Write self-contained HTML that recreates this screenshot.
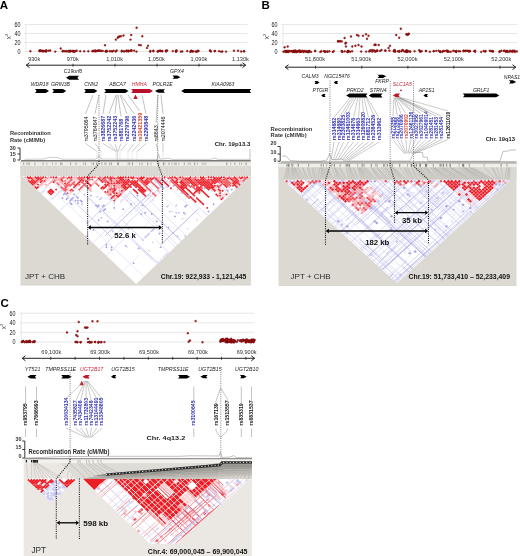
<!DOCTYPE html>
<html><head><meta charset="utf-8"><style>
html,body{margin:0;padding:0;background:#fff;width:520px;height:556px;overflow:hidden}
svg{display:block;filter:blur(0.3px)}
text{font-family:"Liberation Sans",sans-serif}
</style></head><body>
<svg width="520" height="556" viewBox="0 0 520 556">
<rect width="520" height="556" fill="#fff"/>
<text x="-0.30" y="8.60" font-size="11.5" font-weight="bold" fill="#000" text-anchor="start">A</text>
<line x1="24.30" y1="24.50" x2="247.50" y2="24.50" stroke="#d6d6d6" stroke-width="0.6"/>
<line x1="24.30" y1="33.50" x2="247.50" y2="33.50" stroke="#d6d6d6" stroke-width="0.6"/>
<line x1="24.30" y1="42.40" x2="247.50" y2="42.40" stroke="#d6d6d6" stroke-width="0.6"/>
<line x1="24.30" y1="51.50" x2="247.50" y2="51.50" stroke="#d6d6d6" stroke-width="0.6"/>
<line x1="25.80" y1="24.50" x2="25.80" y2="52.50" stroke="#d6d6d6" stroke-width="0.6"/>
<text transform="translate(20.50,26.80) scale(0.82,1)" font-size="6.6" fill="#1a1a1a" text-anchor="end">60</text>
<text transform="translate(20.50,35.80) scale(0.82,1)" font-size="6.6" fill="#1a1a1a" text-anchor="end">40</text>
<text transform="translate(20.50,44.70) scale(0.82,1)" font-size="6.6" fill="#1a1a1a" text-anchor="end">20</text>
<text transform="translate(20.50,53.80) scale(0.82,1)" font-size="6.6" fill="#1a1a1a" text-anchor="end">0</text>
<text transform="translate(10.00,36.50) rotate(-90)" font-size="6" fill="#444" text-anchor="middle">χ<tspan font-size="4" dy="-2">2</tspan></text>
<text x="34.20" y="61.00" font-size="5.6" font-weight="normal" fill="#333" text-anchor="middle">930k</text>
<text x="72.70" y="61.00" font-size="5.6" font-weight="normal" fill="#333" text-anchor="middle">970k</text>
<text x="114.60" y="61.00" font-size="5.6" font-weight="normal" fill="#333" text-anchor="middle">1,010k</text>
<text x="156.50" y="61.00" font-size="5.6" font-weight="normal" fill="#333" text-anchor="middle">1,050k</text>
<text x="199.00" y="61.00" font-size="5.6" font-weight="normal" fill="#333" text-anchor="middle">1,090k</text>
<text x="240.50" y="61.00" font-size="5.6" font-weight="normal" fill="#333" text-anchor="middle">1,130k</text>
<line x1="26.00" y1="65.20" x2="246.00" y2="65.20" stroke="#222" stroke-width="1.0"/>
<polyline points="29.50,62.70 26.30,65.20 29.50,67.70" fill="none" stroke="#222" stroke-width="1.0"/>
<polyline points="242.50,62.70 245.70,65.20 242.50,67.70" fill="none" stroke="#222" stroke-width="1.0"/>
<line x1="73.00" y1="63.70" x2="73.00" y2="66.70" stroke="#222" stroke-width="0.8"/>
<line x1="115.00" y1="63.70" x2="115.00" y2="66.70" stroke="#222" stroke-width="0.8"/>
<line x1="157.00" y1="63.70" x2="157.00" y2="66.70" stroke="#222" stroke-width="0.8"/>
<line x1="199.00" y1="63.70" x2="199.00" y2="66.70" stroke="#222" stroke-width="0.8"/>
<line x1="241.00" y1="63.70" x2="241.00" y2="66.70" stroke="#222" stroke-width="0.8"/>
<circle cx="30.40" cy="51.20" r="0.95" fill="#b01818" stroke="#5a0000" stroke-width="0.35"/>
<circle cx="42.72" cy="50.58" r="0.95" fill="#b01818" stroke="#5a0000" stroke-width="0.35"/>
<circle cx="46.49" cy="50.49" r="0.95" fill="#b01818" stroke="#5a0000" stroke-width="0.35"/>
<circle cx="45.16" cy="50.84" r="0.95" fill="#b01818" stroke="#5a0000" stroke-width="0.35"/>
<circle cx="39.67" cy="51.01" r="0.95" fill="#b01818" stroke="#5a0000" stroke-width="0.35"/>
<circle cx="39.43" cy="50.92" r="0.95" fill="#b01818" stroke="#5a0000" stroke-width="0.35"/>
<circle cx="39.80" cy="50.51" r="0.95" fill="#b01818" stroke="#5a0000" stroke-width="0.35"/>
<circle cx="43.88" cy="51.39" r="0.95" fill="#b01818" stroke="#5a0000" stroke-width="0.35"/>
<circle cx="40.42" cy="50.67" r="0.95" fill="#b01818" stroke="#5a0000" stroke-width="0.35"/>
<circle cx="46.22" cy="51.54" r="0.95" fill="#b01818" stroke="#5a0000" stroke-width="0.35"/>
<circle cx="45.64" cy="50.88" r="0.95" fill="#b01818" stroke="#5a0000" stroke-width="0.35"/>
<circle cx="50.23" cy="50.46" r="0.95" fill="#b01818" stroke="#5a0000" stroke-width="0.35"/>
<circle cx="48.87" cy="50.75" r="0.95" fill="#b01818" stroke="#5a0000" stroke-width="0.35"/>
<circle cx="40.66" cy="50.54" r="0.95" fill="#b01818" stroke="#5a0000" stroke-width="0.35"/>
<circle cx="42.55" cy="51.38" r="0.95" fill="#b01818" stroke="#5a0000" stroke-width="0.35"/>
<circle cx="41.08" cy="51.10" r="0.95" fill="#b01818" stroke="#5a0000" stroke-width="0.35"/>
<circle cx="46.35" cy="50.85" r="0.95" fill="#b01818" stroke="#5a0000" stroke-width="0.35"/>
<circle cx="55.30" cy="51.60" r="0.95" fill="#b01818" stroke="#5a0000" stroke-width="0.35"/>
<circle cx="60.70" cy="48.50" r="0.95" fill="#b01818" stroke="#5a0000" stroke-width="0.35"/>
<circle cx="70.22" cy="50.68" r="0.95" fill="#b01818" stroke="#5a0000" stroke-width="0.35"/>
<circle cx="62.89" cy="50.85" r="0.95" fill="#b01818" stroke="#5a0000" stroke-width="0.35"/>
<circle cx="72.21" cy="51.11" r="0.95" fill="#b01818" stroke="#5a0000" stroke-width="0.35"/>
<circle cx="66.71" cy="51.30" r="0.95" fill="#b01818" stroke="#5a0000" stroke-width="0.35"/>
<circle cx="68.80" cy="50.96" r="0.95" fill="#b01818" stroke="#5a0000" stroke-width="0.35"/>
<circle cx="73.92" cy="51.44" r="0.95" fill="#b01818" stroke="#5a0000" stroke-width="0.35"/>
<circle cx="65.66" cy="51.29" r="0.95" fill="#b01818" stroke="#5a0000" stroke-width="0.35"/>
<circle cx="69.88" cy="51.65" r="0.95" fill="#b01818" stroke="#5a0000" stroke-width="0.35"/>
<circle cx="72.94" cy="50.95" r="0.95" fill="#b01818" stroke="#5a0000" stroke-width="0.35"/>
<circle cx="76.70" cy="50.74" r="0.95" fill="#b01818" stroke="#5a0000" stroke-width="0.35"/>
<circle cx="68.27" cy="51.51" r="0.95" fill="#b01818" stroke="#5a0000" stroke-width="0.35"/>
<circle cx="64.28" cy="51.19" r="0.95" fill="#b01818" stroke="#5a0000" stroke-width="0.35"/>
<circle cx="62.59" cy="51.40" r="0.95" fill="#b01818" stroke="#5a0000" stroke-width="0.35"/>
<circle cx="73.47" cy="51.29" r="0.95" fill="#b01818" stroke="#5a0000" stroke-width="0.35"/>
<circle cx="75.13" cy="50.98" r="0.95" fill="#b01818" stroke="#5a0000" stroke-width="0.35"/>
<circle cx="72.43" cy="51.31" r="0.95" fill="#b01818" stroke="#5a0000" stroke-width="0.35"/>
<circle cx="70.70" cy="51.15" r="0.95" fill="#b01818" stroke="#5a0000" stroke-width="0.35"/>
<circle cx="74.60" cy="51.73" r="0.95" fill="#b01818" stroke="#5a0000" stroke-width="0.35"/>
<circle cx="80.20" cy="51.30" r="0.95" fill="#b01818" stroke="#5a0000" stroke-width="0.35"/>
<circle cx="84.20" cy="51.30" r="0.95" fill="#b01818" stroke="#5a0000" stroke-width="0.35"/>
<circle cx="88.30" cy="51.30" r="0.95" fill="#b01818" stroke="#5a0000" stroke-width="0.35"/>
<circle cx="92.30" cy="51.30" r="0.95" fill="#b01818" stroke="#5a0000" stroke-width="0.35"/>
<circle cx="109.59" cy="51.20" r="0.95" fill="#b01818" stroke="#5a0000" stroke-width="0.35"/>
<circle cx="95.12" cy="51.24" r="0.95" fill="#b01818" stroke="#5a0000" stroke-width="0.35"/>
<circle cx="115.65" cy="51.59" r="0.95" fill="#b01818" stroke="#5a0000" stroke-width="0.35"/>
<circle cx="121.77" cy="50.74" r="0.95" fill="#b01818" stroke="#5a0000" stroke-width="0.35"/>
<circle cx="106.50" cy="51.20" r="0.95" fill="#b01818" stroke="#5a0000" stroke-width="0.35"/>
<circle cx="93.79" cy="50.95" r="0.95" fill="#b01818" stroke="#5a0000" stroke-width="0.35"/>
<circle cx="98.88" cy="50.54" r="0.95" fill="#b01818" stroke="#5a0000" stroke-width="0.35"/>
<circle cx="95.06" cy="51.32" r="0.95" fill="#b01818" stroke="#5a0000" stroke-width="0.35"/>
<circle cx="97.53" cy="50.70" r="0.95" fill="#b01818" stroke="#5a0000" stroke-width="0.35"/>
<circle cx="106.68" cy="51.45" r="0.95" fill="#b01818" stroke="#5a0000" stroke-width="0.35"/>
<circle cx="95.82" cy="50.94" r="0.95" fill="#b01818" stroke="#5a0000" stroke-width="0.35"/>
<circle cx="112.23" cy="51.46" r="0.95" fill="#b01818" stroke="#5a0000" stroke-width="0.35"/>
<circle cx="121.67" cy="51.44" r="0.95" fill="#b01818" stroke="#5a0000" stroke-width="0.35"/>
<circle cx="102.74" cy="50.90" r="0.95" fill="#b01818" stroke="#5a0000" stroke-width="0.35"/>
<circle cx="105.56" cy="51.46" r="0.95" fill="#b01818" stroke="#5a0000" stroke-width="0.35"/>
<circle cx="126.52" cy="50.58" r="0.95" fill="#b01818" stroke="#5a0000" stroke-width="0.35"/>
<circle cx="99.17" cy="50.68" r="0.95" fill="#b01818" stroke="#5a0000" stroke-width="0.35"/>
<circle cx="101.17" cy="50.98" r="0.95" fill="#b01818" stroke="#5a0000" stroke-width="0.35"/>
<circle cx="113.62" cy="50.72" r="0.95" fill="#b01818" stroke="#5a0000" stroke-width="0.35"/>
<circle cx="93.14" cy="50.90" r="0.95" fill="#b01818" stroke="#5a0000" stroke-width="0.35"/>
<circle cx="105.92" cy="51.08" r="0.95" fill="#b01818" stroke="#5a0000" stroke-width="0.35"/>
<circle cx="126.36" cy="51.23" r="0.95" fill="#b01818" stroke="#5a0000" stroke-width="0.35"/>
<circle cx="111.04" cy="51.14" r="0.95" fill="#b01818" stroke="#5a0000" stroke-width="0.35"/>
<circle cx="116.67" cy="50.46" r="0.95" fill="#b01818" stroke="#5a0000" stroke-width="0.35"/>
<circle cx="124.48" cy="51.34" r="0.95" fill="#b01818" stroke="#5a0000" stroke-width="0.35"/>
<circle cx="123.61" cy="51.36" r="0.95" fill="#b01818" stroke="#5a0000" stroke-width="0.35"/>
<circle cx="106.73" cy="50.88" r="0.95" fill="#b01818" stroke="#5a0000" stroke-width="0.35"/>
<circle cx="96.62" cy="51.16" r="0.95" fill="#b01818" stroke="#5a0000" stroke-width="0.35"/>
<circle cx="95.18" cy="50.48" r="0.95" fill="#b01818" stroke="#5a0000" stroke-width="0.35"/>
<circle cx="100.31" cy="50.59" r="0.95" fill="#b01818" stroke="#5a0000" stroke-width="0.35"/>
<circle cx="136.60" cy="27.80" r="0.95" fill="#b01818" stroke="#5a0000" stroke-width="0.35"/>
<circle cx="142.30" cy="36.20" r="0.95" fill="#b01818" stroke="#5a0000" stroke-width="0.35"/>
<circle cx="131.20" cy="35.00" r="0.95" fill="#b01818" stroke="#5a0000" stroke-width="0.35"/>
<circle cx="130.50" cy="39.60" r="0.95" fill="#b01818" stroke="#5a0000" stroke-width="0.35"/>
<circle cx="123.50" cy="35.50" r="0.95" fill="#b01818" stroke="#5a0000" stroke-width="0.35"/>
<circle cx="119.70" cy="36.50" r="0.95" fill="#b01818" stroke="#5a0000" stroke-width="0.35"/>
<circle cx="117.70" cy="37.80" r="0.95" fill="#b01818" stroke="#5a0000" stroke-width="0.35"/>
<circle cx="115.80" cy="39.60" r="0.95" fill="#b01818" stroke="#5a0000" stroke-width="0.35"/>
<circle cx="105.00" cy="45.30" r="0.95" fill="#b01818" stroke="#5a0000" stroke-width="0.35"/>
<circle cx="139.00" cy="45.00" r="0.95" fill="#b01818" stroke="#5a0000" stroke-width="0.35"/>
<circle cx="140.80" cy="45.30" r="0.95" fill="#b01818" stroke="#5a0000" stroke-width="0.35"/>
<circle cx="148.00" cy="45.80" r="0.95" fill="#b01818" stroke="#5a0000" stroke-width="0.35"/>
<circle cx="147.00" cy="48.00" r="0.95" fill="#b01818" stroke="#5a0000" stroke-width="0.35"/>
<circle cx="118.50" cy="36.80" r="0.95" fill="#b01818" stroke="#5a0000" stroke-width="0.35"/>
<circle cx="121.00" cy="36.20" r="0.95" fill="#b01818" stroke="#5a0000" stroke-width="0.35"/>
<circle cx="131.40" cy="50.46" r="0.95" fill="#b01818" stroke="#5a0000" stroke-width="0.35"/>
<circle cx="128.00" cy="50.58" r="0.95" fill="#b01818" stroke="#5a0000" stroke-width="0.35"/>
<circle cx="129.01" cy="50.84" r="0.95" fill="#b01818" stroke="#5a0000" stroke-width="0.35"/>
<circle cx="128.26" cy="51.45" r="0.95" fill="#b01818" stroke="#5a0000" stroke-width="0.35"/>
<circle cx="134.14" cy="50.58" r="0.95" fill="#b01818" stroke="#5a0000" stroke-width="0.35"/>
<circle cx="130.52" cy="50.82" r="0.95" fill="#b01818" stroke="#5a0000" stroke-width="0.35"/>
<circle cx="131.64" cy="50.55" r="0.95" fill="#b01818" stroke="#5a0000" stroke-width="0.35"/>
<circle cx="136.49" cy="51.59" r="0.95" fill="#b01818" stroke="#5a0000" stroke-width="0.35"/>
<circle cx="172.77" cy="51.08" r="0.95" fill="#b01818" stroke="#5a0000" stroke-width="0.35"/>
<circle cx="153.38" cy="50.62" r="0.95" fill="#b01818" stroke="#5a0000" stroke-width="0.35"/>
<circle cx="166.47" cy="50.82" r="0.95" fill="#b01818" stroke="#5a0000" stroke-width="0.35"/>
<circle cx="191.27" cy="50.69" r="0.95" fill="#b01818" stroke="#5a0000" stroke-width="0.35"/>
<circle cx="150.18" cy="51.64" r="0.95" fill="#b01818" stroke="#5a0000" stroke-width="0.35"/>
<circle cx="175.94" cy="50.68" r="0.95" fill="#b01818" stroke="#5a0000" stroke-width="0.35"/>
<circle cx="176.70" cy="50.53" r="0.95" fill="#b01818" stroke="#5a0000" stroke-width="0.35"/>
<circle cx="175.93" cy="51.67" r="0.95" fill="#b01818" stroke="#5a0000" stroke-width="0.35"/>
<circle cx="193.03" cy="51.34" r="0.95" fill="#b01818" stroke="#5a0000" stroke-width="0.35"/>
<circle cx="162.32" cy="50.94" r="0.95" fill="#b01818" stroke="#5a0000" stroke-width="0.35"/>
<circle cx="157.52" cy="51.43" r="0.95" fill="#b01818" stroke="#5a0000" stroke-width="0.35"/>
<circle cx="176.16" cy="51.43" r="0.95" fill="#b01818" stroke="#5a0000" stroke-width="0.35"/>
<circle cx="165.81" cy="50.77" r="0.95" fill="#b01818" stroke="#5a0000" stroke-width="0.35"/>
<circle cx="190.39" cy="51.68" r="0.95" fill="#b01818" stroke="#5a0000" stroke-width="0.35"/>
<circle cx="192.48" cy="51.47" r="0.95" fill="#b01818" stroke="#5a0000" stroke-width="0.35"/>
<circle cx="190.73" cy="51.39" r="0.95" fill="#b01818" stroke="#5a0000" stroke-width="0.35"/>
<circle cx="160.56" cy="51.12" r="0.95" fill="#b01818" stroke="#5a0000" stroke-width="0.35"/>
<circle cx="167.13" cy="50.53" r="0.95" fill="#b01818" stroke="#5a0000" stroke-width="0.35"/>
<circle cx="150.42" cy="50.84" r="0.95" fill="#b01818" stroke="#5a0000" stroke-width="0.35"/>
<circle cx="162.22" cy="51.33" r="0.95" fill="#b01818" stroke="#5a0000" stroke-width="0.35"/>
<circle cx="197.78" cy="51.04" r="0.95" fill="#b01818" stroke="#5a0000" stroke-width="0.35"/>
<circle cx="196.79" cy="51.69" r="0.95" fill="#b01818" stroke="#5a0000" stroke-width="0.35"/>
<circle cx="197.71" cy="50.94" r="0.95" fill="#b01818" stroke="#5a0000" stroke-width="0.35"/>
<circle cx="160.24" cy="50.77" r="0.95" fill="#b01818" stroke="#5a0000" stroke-width="0.35"/>
<circle cx="159.03" cy="50.75" r="0.95" fill="#b01818" stroke="#5a0000" stroke-width="0.35"/>
<circle cx="180.83" cy="51.58" r="0.95" fill="#b01818" stroke="#5a0000" stroke-width="0.35"/>
<circle cx="191.86" cy="51.08" r="0.95" fill="#b01818" stroke="#5a0000" stroke-width="0.35"/>
<circle cx="182.30" cy="51.46" r="0.95" fill="#b01818" stroke="#5a0000" stroke-width="0.35"/>
<circle cx="153.32" cy="51.29" r="0.95" fill="#b01818" stroke="#5a0000" stroke-width="0.35"/>
<circle cx="195.40" cy="51.44" r="0.95" fill="#b01818" stroke="#5a0000" stroke-width="0.35"/>
<circle cx="187.26" cy="51.07" r="0.95" fill="#b01818" stroke="#5a0000" stroke-width="0.35"/>
<circle cx="158.10" cy="51.45" r="0.95" fill="#b01818" stroke="#5a0000" stroke-width="0.35"/>
<circle cx="165.96" cy="51.46" r="0.95" fill="#b01818" stroke="#5a0000" stroke-width="0.35"/>
<circle cx="198.55" cy="50.98" r="0.95" fill="#b01818" stroke="#5a0000" stroke-width="0.35"/>
<circle cx="221.06" cy="51.64" r="0.95" fill="#b01818" stroke="#5a0000" stroke-width="0.35"/>
<circle cx="233.99" cy="50.70" r="0.95" fill="#b01818" stroke="#5a0000" stroke-width="0.35"/>
<circle cx="210.08" cy="50.68" r="0.95" fill="#b01818" stroke="#5a0000" stroke-width="0.35"/>
<circle cx="241.19" cy="51.47" r="0.95" fill="#b01818" stroke="#5a0000" stroke-width="0.35"/>
<circle cx="210.85" cy="51.49" r="0.95" fill="#b01818" stroke="#5a0000" stroke-width="0.35"/>
<circle cx="244.21" cy="51.29" r="0.95" fill="#b01818" stroke="#5a0000" stroke-width="0.35"/>
<circle cx="219.02" cy="51.16" r="0.95" fill="#b01818" stroke="#5a0000" stroke-width="0.35"/>
<circle cx="210.24" cy="50.52" r="0.95" fill="#b01818" stroke="#5a0000" stroke-width="0.35"/>
<circle cx="243.84" cy="51.28" r="0.95" fill="#b01818" stroke="#5a0000" stroke-width="0.35"/>
<circle cx="226.06" cy="51.62" r="0.95" fill="#b01818" stroke="#5a0000" stroke-width="0.35"/>
<circle cx="222.35" cy="51.55" r="0.95" fill="#b01818" stroke="#5a0000" stroke-width="0.35"/>
<circle cx="238.05" cy="50.75" r="0.95" fill="#b01818" stroke="#5a0000" stroke-width="0.35"/>
<circle cx="215.07" cy="50.85" r="0.95" fill="#b01818" stroke="#5a0000" stroke-width="0.35"/>
<circle cx="214.62" cy="51.20" r="0.95" fill="#b01818" stroke="#5a0000" stroke-width="0.35"/>
<text x="73.00" y="73.00" font-size="5.2" font-weight="normal" fill="#222" text-anchor="middle" font-style="italic">C19orf6</text>
<polygon points="79.00,75.70 69.20,75.70 66.00,77.70 69.20,79.70 79.00,79.70 77.40,77.70" fill="#000"/>
<text x="177.00" y="72.50" font-size="5.2" font-weight="normal" fill="#222" text-anchor="middle" font-style="italic">GPX4</text>
<polygon points="172.50,75.60 177.30,75.60 180.50,77.20 177.30,78.80 172.50,78.80 174.10,77.20" fill="#000"/>
<text x="39.60" y="86.40" font-size="5.1" font-weight="normal" fill="#222" text-anchor="middle" font-style="italic">WDR18</text>
<text x="60.50" y="86.40" font-size="5.1" font-weight="normal" fill="#222" text-anchor="middle" font-style="italic">GRIN3B</text>
<text x="91.20" y="86.40" font-size="5.1" font-weight="normal" fill="#222" text-anchor="middle" font-style="italic">CNN2</text>
<text x="117.50" y="86.40" font-size="5.1" font-weight="normal" fill="#222" text-anchor="middle" font-style="italic">ABCA7</text>
<text x="139.30" y="86.40" font-size="5.1" font-weight="normal" fill="#c8283a" text-anchor="middle" font-style="italic">HMHA</text>
<text x="162.60" y="86.40" font-size="5.1" font-weight="normal" fill="#222" text-anchor="middle" font-style="italic">POLR2E</text>
<text x="223.00" y="86.40" font-size="5.1" font-weight="normal" fill="#222" text-anchor="middle" font-style="italic">KIAA0963</text>
<polygon points="35.00,89.00 45.80,89.00 49.00,91.00 45.80,93.00 35.00,93.00 36.60,91.00" fill="#000"/>
<polygon points="52.30,89.00 63.00,89.00 66.20,91.00 63.00,93.00 52.30,93.00 53.90,91.00" fill="#000"/>
<polygon points="84.20,89.00 94.20,89.00 97.40,91.00 94.20,93.00 84.20,93.00 85.80,91.00" fill="#000"/>
<polygon points="104.30,89.00 125.30,89.00 128.50,91.00 125.30,93.00 104.30,93.00 105.90,91.00" fill="#000"/>
<polygon points="131.20,89.00 149.70,89.00 152.90,91.00 149.70,93.00 131.20,93.00 132.80,91.00" fill="#b8102c"/>
<polygon points="165.00,89.20 158.20,89.20 155.00,91.00 158.20,92.80 165.00,92.80 163.40,91.00" fill="#000"/>
<polygon points="251.20,89.00 184.40,89.00 181.20,91.00 184.40,93.00 251.20,93.00 249.60,91.00" fill="#000"/>
<polygon points="135.50,94.50 133.30,99.00 137.70,99.00" fill="#c01a2a"/>
<text transform="translate(87.65,141.60) rotate(-90) scale(0.89,1.0)" font-size="6.0" font-weight="normal" fill="#111">rs3795064</text>
<line x1="85.50" y1="113.75" x2="93.00" y2="95.00" stroke="#777" stroke-width="0.45"/>
<line x1="85.50" y1="143.50" x2="97.00" y2="151.50" stroke="#888" stroke-width="0.45"/>
<line x1="97.00" y1="151.50" x2="97.00" y2="159.50" stroke="#ccc" stroke-width="0.4"/>
<text transform="translate(97.15,141.60) rotate(-90) scale(0.89,1.0)" font-size="6.0" font-weight="normal" fill="#111">rs3764647</text>
<line x1="95.00" y1="113.75" x2="99.00" y2="95.00" stroke="#777" stroke-width="0.45"/>
<line x1="95.00" y1="143.50" x2="101.00" y2="151.50" stroke="#888" stroke-width="0.45"/>
<line x1="101.00" y1="151.50" x2="101.00" y2="159.50" stroke="#ccc" stroke-width="0.4"/>
<text transform="translate(105.15,141.60) rotate(-90) scale(0.89,1.0)" font-size="6.0" font-weight="bold" fill="#2e2eb4">rs3826687</text>
<line x1="103.00" y1="113.75" x2="106.00" y2="95.00" stroke="#777" stroke-width="0.45"/>
<line x1="103.00" y1="143.50" x2="116.00" y2="151.50" stroke="#888" stroke-width="0.45"/>
<line x1="116.00" y1="151.50" x2="116.00" y2="159.50" stroke="#ccc" stroke-width="0.4"/>
<text transform="translate(111.15,141.60) rotate(-90) scale(0.89,1.0)" font-size="6.0" font-weight="bold" fill="#2e2eb4">rs3752242</text>
<line x1="109.00" y1="113.75" x2="116.00" y2="95.00" stroke="#777" stroke-width="0.45"/>
<line x1="109.00" y1="143.50" x2="117.00" y2="151.50" stroke="#888" stroke-width="0.45"/>
<line x1="117.00" y1="151.50" x2="117.00" y2="159.50" stroke="#ccc" stroke-width="0.4"/>
<text transform="translate(117.15,141.60) rotate(-90) scale(0.89,1.0)" font-size="6.0" font-weight="bold" fill="#2e2eb4">rs3752243</text>
<line x1="115.00" y1="113.75" x2="117.00" y2="95.00" stroke="#777" stroke-width="0.45"/>
<line x1="115.00" y1="143.50" x2="117.50" y2="151.50" stroke="#888" stroke-width="0.45"/>
<line x1="117.50" y1="151.50" x2="117.50" y2="159.50" stroke="#ccc" stroke-width="0.4"/>
<text transform="translate(123.15,141.60) rotate(-90) scale(0.89,1.0)" font-size="6.0" font-weight="bold" fill="#2e2eb4">rs881768</text>
<line x1="121.00" y1="116.70" x2="118.00" y2="95.00" stroke="#777" stroke-width="0.45"/>
<line x1="121.00" y1="143.50" x2="118.00" y2="151.50" stroke="#888" stroke-width="0.45"/>
<line x1="118.00" y1="151.50" x2="118.00" y2="159.50" stroke="#ccc" stroke-width="0.4"/>
<text transform="translate(129.15,141.60) rotate(-90) scale(0.89,1.0)" font-size="6.0" font-weight="bold" fill="#2e2eb4">rs2279796</text>
<line x1="127.00" y1="113.75" x2="120.00" y2="95.00" stroke="#777" stroke-width="0.45"/>
<line x1="127.00" y1="143.50" x2="120.00" y2="151.50" stroke="#888" stroke-width="0.45"/>
<line x1="120.00" y1="151.50" x2="120.00" y2="159.50" stroke="#ccc" stroke-width="0.4"/>
<text transform="translate(136.15,141.60) rotate(-90) scale(0.89,1.0)" font-size="6.0" font-weight="bold" fill="#2e2eb4">rs2242436</text>
<line x1="134.00" y1="113.75" x2="121.00" y2="95.00" stroke="#777" stroke-width="0.45"/>
<line x1="134.00" y1="143.50" x2="128.00" y2="151.50" stroke="#888" stroke-width="0.45"/>
<line x1="128.00" y1="151.50" x2="128.00" y2="159.50" stroke="#ccc" stroke-width="0.4"/>
<text transform="translate(141.65,141.60) rotate(-90) scale(0.89,1.0)" font-size="6.0" font-weight="bold" fill="#d8402e">rs10421359</text>
<line x1="139.50" y1="110.80" x2="128.00" y2="95.00" stroke="#777" stroke-width="0.45"/>
<line x1="139.50" y1="143.50" x2="132.00" y2="151.50" stroke="#888" stroke-width="0.45"/>
<line x1="132.00" y1="151.50" x2="132.00" y2="159.50" stroke="#ccc" stroke-width="0.4"/>
<text transform="translate(148.15,141.60) rotate(-90) scale(0.89,1.0)" font-size="6.0" font-weight="bold" fill="#2e2eb4">rs2290848</text>
<line x1="146.00" y1="113.75" x2="142.00" y2="95.00" stroke="#777" stroke-width="0.45"/>
<line x1="146.00" y1="143.50" x2="137.00" y2="151.50" stroke="#888" stroke-width="0.45"/>
<line x1="137.00" y1="151.50" x2="137.00" y2="159.50" stroke="#ccc" stroke-width="0.4"/>
<text transform="translate(158.15,141.60) rotate(-90) scale(0.89,1.0)" font-size="6.0" font-weight="normal" fill="#111">rs8643</text>
<line x1="156.00" y1="122.60" x2="158.00" y2="95.00" stroke="#777" stroke-width="0.45"/>
<line x1="156.00" y1="143.50" x2="158.00" y2="151.50" stroke="#888" stroke-width="0.45"/>
<line x1="158.00" y1="151.50" x2="158.00" y2="159.50" stroke="#ccc" stroke-width="0.4"/>
<text transform="translate(165.15,141.60) rotate(-90) scale(0.89,1.0)" font-size="6.0" font-weight="normal" fill="#111">rs2074446</text>
<line x1="163.00" y1="113.75" x2="161.00" y2="95.00" stroke="#777" stroke-width="0.45"/>
<line x1="163.00" y1="143.50" x2="163.00" y2="151.50" stroke="#888" stroke-width="0.45"/>
<line x1="163.00" y1="151.50" x2="163.00" y2="159.50" stroke="#ccc" stroke-width="0.4"/>
<text x="10.00" y="135.00" font-size="5.65" font-weight="bold" fill="#333" text-anchor="start">Recombination</text>
<text x="10.00" y="142.40" font-size="5.65" font-weight="bold" fill="#333" text-anchor="start">Rate (cM/Mb)</text>
<text x="15.80" y="150.00" font-size="5.4" font-weight="bold" fill="#333" text-anchor="end">30</text>
<text x="15.80" y="156.00" font-size="5.4" font-weight="bold" fill="#333" text-anchor="end">15</text>
<text x="15.80" y="162.00" font-size="5.4" font-weight="bold" fill="#333" text-anchor="end">0</text>
<polyline points="17.50,148.00 20.00,148.00 20.00,160.00 17.50,160.00" fill="none" stroke="#222" stroke-width="0.9"/>
<line x1="17.50" y1="154.00" x2="20.00" y2="154.00" stroke="#222" stroke-width="0.9"/>
<text x="250.40" y="146.00" font-size="6.05" font-weight="bold" fill="#222" text-anchor="end">Chr. 19p13.3</text>
<line x1="250.00" y1="149.00" x2="250.00" y2="160.50" stroke="#999" stroke-width="0.6"/>
<polyline points="24.50,159.30 44.00,159.00 48.00,157.60 52.00,157.30 58.00,157.60 62.00,159.20 96.00,159.20 99.00,155.50 101.00,159.00 140.00,159.40 157.00,159.40 158.50,154.00 160.00,159.30 168.00,158.20 172.00,159.30 210.00,159.40 215.00,158.00 218.00,159.40 250.00,159.40" fill="none" stroke="#aaa" stroke-width="0.6"/>
<line x1="21.00" y1="160.50" x2="250.50" y2="160.50" stroke="#555" stroke-width="0.8"/>
<rect x="20.5" y="161.3" width="230.4" height="124.30000000000001" fill="#dcd9d2"/>
<rect x="20.5" y="161.8" width="230.4" height="4.0" fill="#ecebe7"/>
<polygon points="22.50,176.00 249.80,176.00 136.15,283.97" fill="#ffffff"/>
<text x="261.50" y="8.60" font-size="11.5" font-weight="bold" fill="#000" text-anchor="start">B</text>
<line x1="281.50" y1="24.40" x2="517.50" y2="24.40" stroke="#d6d6d6" stroke-width="0.6"/>
<line x1="281.50" y1="33.50" x2="517.50" y2="33.50" stroke="#d6d6d6" stroke-width="0.6"/>
<line x1="281.50" y1="42.60" x2="517.50" y2="42.60" stroke="#d6d6d6" stroke-width="0.6"/>
<line x1="281.50" y1="51.60" x2="517.50" y2="51.60" stroke="#d6d6d6" stroke-width="0.6"/>
<line x1="283.00" y1="24.40" x2="283.00" y2="52.60" stroke="#d6d6d6" stroke-width="0.6"/>
<text transform="translate(277.50,26.70) scale(0.82,1)" font-size="6.6" fill="#1a1a1a" text-anchor="end">60</text>
<text transform="translate(277.50,35.80) scale(0.82,1)" font-size="6.6" fill="#1a1a1a" text-anchor="end">40</text>
<text transform="translate(277.50,44.90) scale(0.82,1)" font-size="6.6" fill="#1a1a1a" text-anchor="end">20</text>
<text transform="translate(277.50,53.90) scale(0.82,1)" font-size="6.6" fill="#1a1a1a" text-anchor="end">0</text>
<text transform="translate(268.00,36.50) rotate(-90)" font-size="6" fill="#444" text-anchor="middle">χ<tspan font-size="4" dy="-2">2</tspan></text>
<text x="315.00" y="61.20" font-size="5.6" font-weight="normal" fill="#333" text-anchor="middle">51,800k</text>
<text x="361.25" y="61.20" font-size="5.6" font-weight="normal" fill="#333" text-anchor="middle">51,900k</text>
<text x="407.50" y="61.20" font-size="5.6" font-weight="normal" fill="#333" text-anchor="middle">52,000k</text>
<text x="453.75" y="61.20" font-size="5.6" font-weight="normal" fill="#333" text-anchor="middle">52,100k</text>
<text x="501.25" y="61.20" font-size="5.6" font-weight="normal" fill="#333" text-anchor="middle">52,200k</text>
<line x1="285.00" y1="67.20" x2="516.00" y2="67.20" stroke="#222" stroke-width="1.0"/>
<polyline points="288.50,64.70 285.30,67.20 288.50,69.70" fill="none" stroke="#222" stroke-width="1.0"/>
<polyline points="512.50,64.70 515.70,67.20 512.50,69.70" fill="none" stroke="#222" stroke-width="1.0"/>
<line x1="315.50" y1="65.70" x2="315.50" y2="68.70" stroke="#222" stroke-width="0.8"/>
<line x1="361.75" y1="65.70" x2="361.75" y2="68.70" stroke="#222" stroke-width="0.8"/>
<line x1="407.90" y1="65.70" x2="407.90" y2="68.70" stroke="#222" stroke-width="0.8"/>
<line x1="453.80" y1="65.70" x2="453.80" y2="68.70" stroke="#222" stroke-width="0.8"/>
<line x1="500.00" y1="65.70" x2="500.00" y2="68.70" stroke="#222" stroke-width="0.8"/>
<circle cx="284.60" cy="47.30" r="0.95" fill="#b01818" stroke="#5a0000" stroke-width="0.35"/>
<circle cx="287.70" cy="46.50" r="0.95" fill="#b01818" stroke="#5a0000" stroke-width="0.35"/>
<circle cx="289.34" cy="51.17" r="0.95" fill="#b01818" stroke="#5a0000" stroke-width="0.35"/>
<circle cx="286.45" cy="51.96" r="0.95" fill="#b01818" stroke="#5a0000" stroke-width="0.35"/>
<circle cx="291.46" cy="51.23" r="0.95" fill="#b01818" stroke="#5a0000" stroke-width="0.35"/>
<circle cx="296.63" cy="51.95" r="0.95" fill="#b01818" stroke="#5a0000" stroke-width="0.35"/>
<circle cx="292.96" cy="51.97" r="0.95" fill="#b01818" stroke="#5a0000" stroke-width="0.35"/>
<circle cx="294.79" cy="51.35" r="0.95" fill="#b01818" stroke="#5a0000" stroke-width="0.35"/>
<circle cx="295.28" cy="50.53" r="0.95" fill="#b01818" stroke="#5a0000" stroke-width="0.35"/>
<circle cx="293.40" cy="50.79" r="0.95" fill="#b01818" stroke="#5a0000" stroke-width="0.35"/>
<circle cx="283.59" cy="51.78" r="0.95" fill="#b01818" stroke="#5a0000" stroke-width="0.35"/>
<circle cx="287.38" cy="51.26" r="0.95" fill="#b01818" stroke="#5a0000" stroke-width="0.35"/>
<circle cx="299.82" cy="51.39" r="0.95" fill="#b01818" stroke="#5a0000" stroke-width="0.35"/>
<circle cx="290.83" cy="51.33" r="0.95" fill="#b01818" stroke="#5a0000" stroke-width="0.35"/>
<circle cx="296.00" cy="51.75" r="0.95" fill="#b01818" stroke="#5a0000" stroke-width="0.35"/>
<circle cx="285.89" cy="51.40" r="0.95" fill="#b01818" stroke="#5a0000" stroke-width="0.35"/>
<circle cx="289.09" cy="50.94" r="0.95" fill="#b01818" stroke="#5a0000" stroke-width="0.35"/>
<circle cx="300.88" cy="51.31" r="0.95" fill="#b01818" stroke="#5a0000" stroke-width="0.35"/>
<circle cx="296.14" cy="51.72" r="0.95" fill="#b01818" stroke="#5a0000" stroke-width="0.35"/>
<circle cx="304.03" cy="51.21" r="0.95" fill="#b01818" stroke="#5a0000" stroke-width="0.35"/>
<circle cx="297.28" cy="51.31" r="0.95" fill="#b01818" stroke="#5a0000" stroke-width="0.35"/>
<circle cx="295.02" cy="51.61" r="0.95" fill="#b01818" stroke="#5a0000" stroke-width="0.35"/>
<circle cx="293.68" cy="51.35" r="0.95" fill="#b01818" stroke="#5a0000" stroke-width="0.35"/>
<circle cx="294.26" cy="52.01" r="0.95" fill="#b01818" stroke="#5a0000" stroke-width="0.35"/>
<circle cx="299.23" cy="51.90" r="0.95" fill="#b01818" stroke="#5a0000" stroke-width="0.35"/>
<circle cx="304.70" cy="50.92" r="0.95" fill="#b01818" stroke="#5a0000" stroke-width="0.35"/>
<circle cx="296.09" cy="52.01" r="0.95" fill="#b01818" stroke="#5a0000" stroke-width="0.35"/>
<circle cx="302.40" cy="50.72" r="0.95" fill="#b01818" stroke="#5a0000" stroke-width="0.35"/>
<circle cx="286.24" cy="51.21" r="0.95" fill="#b01818" stroke="#5a0000" stroke-width="0.35"/>
<circle cx="285.13" cy="50.89" r="0.95" fill="#b01818" stroke="#5a0000" stroke-width="0.35"/>
<circle cx="285.15" cy="51.57" r="0.95" fill="#b01818" stroke="#5a0000" stroke-width="0.35"/>
<circle cx="301.14" cy="51.94" r="0.95" fill="#b01818" stroke="#5a0000" stroke-width="0.35"/>
<circle cx="286.98" cy="51.65" r="0.95" fill="#b01818" stroke="#5a0000" stroke-width="0.35"/>
<circle cx="298.36" cy="50.73" r="0.95" fill="#b01818" stroke="#5a0000" stroke-width="0.35"/>
<circle cx="303.36" cy="52.05" r="0.95" fill="#b01818" stroke="#5a0000" stroke-width="0.35"/>
<circle cx="288.44" cy="52.02" r="0.95" fill="#b01818" stroke="#5a0000" stroke-width="0.35"/>
<circle cx="292.46" cy="51.28" r="0.95" fill="#b01818" stroke="#5a0000" stroke-width="0.35"/>
<circle cx="305.77" cy="51.83" r="0.95" fill="#b01818" stroke="#5a0000" stroke-width="0.35"/>
<circle cx="287.13" cy="51.19" r="0.95" fill="#b01818" stroke="#5a0000" stroke-width="0.35"/>
<circle cx="295.10" cy="51.04" r="0.95" fill="#b01818" stroke="#5a0000" stroke-width="0.35"/>
<circle cx="287.90" cy="51.01" r="0.95" fill="#b01818" stroke="#5a0000" stroke-width="0.35"/>
<circle cx="299.75" cy="50.53" r="0.95" fill="#b01818" stroke="#5a0000" stroke-width="0.35"/>
<circle cx="324.84" cy="51.33" r="0.95" fill="#b01818" stroke="#5a0000" stroke-width="0.35"/>
<circle cx="306.61" cy="51.20" r="0.95" fill="#b01818" stroke="#5a0000" stroke-width="0.35"/>
<circle cx="327.21" cy="51.41" r="0.95" fill="#b01818" stroke="#5a0000" stroke-width="0.35"/>
<circle cx="308.19" cy="51.98" r="0.95" fill="#b01818" stroke="#5a0000" stroke-width="0.35"/>
<circle cx="332.80" cy="51.97" r="0.95" fill="#b01818" stroke="#5a0000" stroke-width="0.35"/>
<circle cx="309.56" cy="51.12" r="0.95" fill="#b01818" stroke="#5a0000" stroke-width="0.35"/>
<circle cx="307.35" cy="51.73" r="0.95" fill="#b01818" stroke="#5a0000" stroke-width="0.35"/>
<circle cx="315.20" cy="50.96" r="0.95" fill="#b01818" stroke="#5a0000" stroke-width="0.35"/>
<circle cx="320.36" cy="51.89" r="0.95" fill="#b01818" stroke="#5a0000" stroke-width="0.35"/>
<circle cx="333.85" cy="51.11" r="0.95" fill="#b01818" stroke="#5a0000" stroke-width="0.35"/>
<circle cx="311.08" cy="51.90" r="0.95" fill="#b01818" stroke="#5a0000" stroke-width="0.35"/>
<circle cx="325.40" cy="51.64" r="0.95" fill="#b01818" stroke="#5a0000" stroke-width="0.35"/>
<circle cx="309.04" cy="50.87" r="0.95" fill="#b01818" stroke="#5a0000" stroke-width="0.35"/>
<circle cx="329.40" cy="51.31" r="0.95" fill="#b01818" stroke="#5a0000" stroke-width="0.35"/>
<circle cx="308.46" cy="51.93" r="0.95" fill="#b01818" stroke="#5a0000" stroke-width="0.35"/>
<circle cx="327.57" cy="51.76" r="0.95" fill="#b01818" stroke="#5a0000" stroke-width="0.35"/>
<circle cx="308.85" cy="51.83" r="0.95" fill="#b01818" stroke="#5a0000" stroke-width="0.35"/>
<circle cx="308.27" cy="51.84" r="0.95" fill="#b01818" stroke="#5a0000" stroke-width="0.35"/>
<circle cx="321.43" cy="51.21" r="0.95" fill="#b01818" stroke="#5a0000" stroke-width="0.35"/>
<circle cx="324.80" cy="51.91" r="0.95" fill="#b01818" stroke="#5a0000" stroke-width="0.35"/>
<circle cx="315.11" cy="50.96" r="0.95" fill="#b01818" stroke="#5a0000" stroke-width="0.35"/>
<circle cx="323.92" cy="51.09" r="0.95" fill="#b01818" stroke="#5a0000" stroke-width="0.35"/>
<circle cx="338.28" cy="41.30" r="0.95" fill="#b01818" stroke="#5a0000" stroke-width="0.35"/>
<circle cx="337.97" cy="41.32" r="0.95" fill="#b01818" stroke="#5a0000" stroke-width="0.35"/>
<circle cx="339.35" cy="41.38" r="0.95" fill="#b01818" stroke="#5a0000" stroke-width="0.35"/>
<circle cx="341.73" cy="41.37" r="0.95" fill="#b01818" stroke="#5a0000" stroke-width="0.35"/>
<circle cx="340.35" cy="41.31" r="0.95" fill="#b01818" stroke="#5a0000" stroke-width="0.35"/>
<circle cx="344.60" cy="38.00" r="0.95" fill="#b01818" stroke="#5a0000" stroke-width="0.35"/>
<circle cx="351.00" cy="36.50" r="0.95" fill="#b01818" stroke="#5a0000" stroke-width="0.35"/>
<circle cx="357.00" cy="35.00" r="0.95" fill="#b01818" stroke="#5a0000" stroke-width="0.35"/>
<circle cx="358.50" cy="35.80" r="0.95" fill="#b01818" stroke="#5a0000" stroke-width="0.35"/>
<circle cx="363.00" cy="35.80" r="0.95" fill="#b01818" stroke="#5a0000" stroke-width="0.35"/>
<circle cx="366.00" cy="34.20" r="0.95" fill="#b01818" stroke="#5a0000" stroke-width="0.35"/>
<circle cx="368.50" cy="35.80" r="0.95" fill="#b01818" stroke="#5a0000" stroke-width="0.35"/>
<circle cx="367.00" cy="38.80" r="0.95" fill="#b01818" stroke="#5a0000" stroke-width="0.35"/>
<circle cx="345.40" cy="43.50" r="0.95" fill="#b01818" stroke="#5a0000" stroke-width="0.35"/>
<circle cx="346.00" cy="46.50" r="0.95" fill="#b01818" stroke="#5a0000" stroke-width="0.35"/>
<circle cx="352.30" cy="46.50" r="0.95" fill="#b01818" stroke="#5a0000" stroke-width="0.35"/>
<circle cx="355.40" cy="45.80" r="0.95" fill="#b01818" stroke="#5a0000" stroke-width="0.35"/>
<circle cx="358.50" cy="45.00" r="0.95" fill="#b01818" stroke="#5a0000" stroke-width="0.35"/>
<circle cx="361.50" cy="46.50" r="0.95" fill="#b01818" stroke="#5a0000" stroke-width="0.35"/>
<circle cx="390.00" cy="45.80" r="0.95" fill="#b01818" stroke="#5a0000" stroke-width="0.35"/>
<circle cx="388.50" cy="48.00" r="0.95" fill="#b01818" stroke="#5a0000" stroke-width="0.35"/>
<circle cx="400.80" cy="28.80" r="0.95" fill="#b01818" stroke="#5a0000" stroke-width="0.35"/>
<circle cx="396.20" cy="35.00" r="0.95" fill="#b01818" stroke="#5a0000" stroke-width="0.35"/>
<circle cx="399.20" cy="37.80" r="0.95" fill="#b01818" stroke="#5a0000" stroke-width="0.35"/>
<circle cx="346.00" cy="42.70" r="0.95" fill="#b01818" stroke="#5a0000" stroke-width="0.35"/>
<circle cx="375.71" cy="44.71" r="0.95" fill="#b01818" stroke="#5a0000" stroke-width="0.35"/>
<circle cx="374.95" cy="44.71" r="0.95" fill="#b01818" stroke="#5a0000" stroke-width="0.35"/>
<circle cx="378.72" cy="45.03" r="0.95" fill="#b01818" stroke="#5a0000" stroke-width="0.35"/>
<circle cx="374.48" cy="44.98" r="0.95" fill="#b01818" stroke="#5a0000" stroke-width="0.35"/>
<circle cx="408.90" cy="33.73" r="0.95" fill="#b01818" stroke="#5a0000" stroke-width="0.35"/>
<circle cx="408.37" cy="34.12" r="0.95" fill="#b01818" stroke="#5a0000" stroke-width="0.35"/>
<circle cx="406.88" cy="34.60" r="0.95" fill="#b01818" stroke="#5a0000" stroke-width="0.35"/>
<circle cx="406.41" cy="34.21" r="0.95" fill="#b01818" stroke="#5a0000" stroke-width="0.35"/>
<circle cx="407.76" cy="34.78" r="0.95" fill="#b01818" stroke="#5a0000" stroke-width="0.35"/>
<circle cx="350.28" cy="51.80" r="0.95" fill="#b01818" stroke="#5a0000" stroke-width="0.35"/>
<circle cx="361.20" cy="51.56" r="0.95" fill="#b01818" stroke="#5a0000" stroke-width="0.35"/>
<circle cx="352.14" cy="51.22" r="0.95" fill="#b01818" stroke="#5a0000" stroke-width="0.35"/>
<circle cx="341.63" cy="50.96" r="0.95" fill="#b01818" stroke="#5a0000" stroke-width="0.35"/>
<circle cx="342.12" cy="51.69" r="0.95" fill="#b01818" stroke="#5a0000" stroke-width="0.35"/>
<circle cx="347.67" cy="51.00" r="0.95" fill="#b01818" stroke="#5a0000" stroke-width="0.35"/>
<circle cx="342.53" cy="51.81" r="0.95" fill="#b01818" stroke="#5a0000" stroke-width="0.35"/>
<circle cx="366.12" cy="51.60" r="0.95" fill="#b01818" stroke="#5a0000" stroke-width="0.35"/>
<circle cx="348.46" cy="51.09" r="0.95" fill="#b01818" stroke="#5a0000" stroke-width="0.35"/>
<circle cx="348.79" cy="51.35" r="0.95" fill="#b01818" stroke="#5a0000" stroke-width="0.35"/>
<circle cx="344.73" cy="51.33" r="0.95" fill="#b01818" stroke="#5a0000" stroke-width="0.35"/>
<circle cx="347.90" cy="51.95" r="0.95" fill="#b01818" stroke="#5a0000" stroke-width="0.35"/>
<circle cx="369.18" cy="51.46" r="0.95" fill="#b01818" stroke="#5a0000" stroke-width="0.35"/>
<circle cx="347.33" cy="51.96" r="0.95" fill="#b01818" stroke="#5a0000" stroke-width="0.35"/>
<circle cx="385.48" cy="50.71" r="0.95" fill="#b01818" stroke="#5a0000" stroke-width="0.35"/>
<circle cx="370.05" cy="50.76" r="0.95" fill="#b01818" stroke="#5a0000" stroke-width="0.35"/>
<circle cx="393.73" cy="51.01" r="0.95" fill="#b01818" stroke="#5a0000" stroke-width="0.35"/>
<circle cx="380.05" cy="51.01" r="0.95" fill="#b01818" stroke="#5a0000" stroke-width="0.35"/>
<circle cx="370.25" cy="50.53" r="0.95" fill="#b01818" stroke="#5a0000" stroke-width="0.35"/>
<circle cx="374.49" cy="50.80" r="0.95" fill="#b01818" stroke="#5a0000" stroke-width="0.35"/>
<circle cx="372.08" cy="50.04" r="0.95" fill="#b01818" stroke="#5a0000" stroke-width="0.35"/>
<circle cx="385.21" cy="50.47" r="0.95" fill="#b01818" stroke="#5a0000" stroke-width="0.35"/>
<circle cx="399.28" cy="51.06" r="0.95" fill="#b01818" stroke="#5a0000" stroke-width="0.35"/>
<circle cx="407.53" cy="51.32" r="0.95" fill="#b01818" stroke="#5a0000" stroke-width="0.35"/>
<circle cx="405.80" cy="51.76" r="0.95" fill="#b01818" stroke="#5a0000" stroke-width="0.35"/>
<circle cx="389.48" cy="50.65" r="0.95" fill="#b01818" stroke="#5a0000" stroke-width="0.35"/>
<circle cx="419.24" cy="50.30" r="0.95" fill="#b01818" stroke="#5a0000" stroke-width="0.35"/>
<circle cx="406.21" cy="51.29" r="0.95" fill="#b01818" stroke="#5a0000" stroke-width="0.35"/>
<circle cx="372.19" cy="51.67" r="0.95" fill="#b01818" stroke="#5a0000" stroke-width="0.35"/>
<circle cx="414.60" cy="51.25" r="0.95" fill="#b01818" stroke="#5a0000" stroke-width="0.35"/>
<circle cx="406.69" cy="51.62" r="0.95" fill="#b01818" stroke="#5a0000" stroke-width="0.35"/>
<circle cx="376.97" cy="51.05" r="0.95" fill="#b01818" stroke="#5a0000" stroke-width="0.35"/>
<circle cx="395.22" cy="51.67" r="0.95" fill="#b01818" stroke="#5a0000" stroke-width="0.35"/>
<circle cx="410.23" cy="51.65" r="0.95" fill="#b01818" stroke="#5a0000" stroke-width="0.35"/>
<circle cx="399.20" cy="51.79" r="0.95" fill="#b01818" stroke="#5a0000" stroke-width="0.35"/>
<circle cx="404.14" cy="51.39" r="0.95" fill="#b01818" stroke="#5a0000" stroke-width="0.35"/>
<circle cx="381.50" cy="50.06" r="0.95" fill="#b01818" stroke="#5a0000" stroke-width="0.35"/>
<circle cx="376.65" cy="50.72" r="0.95" fill="#b01818" stroke="#5a0000" stroke-width="0.35"/>
<circle cx="375.25" cy="51.67" r="0.95" fill="#b01818" stroke="#5a0000" stroke-width="0.35"/>
<circle cx="397.93" cy="51.26" r="0.95" fill="#b01818" stroke="#5a0000" stroke-width="0.35"/>
<circle cx="401.31" cy="51.36" r="0.95" fill="#b01818" stroke="#5a0000" stroke-width="0.35"/>
<circle cx="394.46" cy="50.01" r="0.95" fill="#b01818" stroke="#5a0000" stroke-width="0.35"/>
<circle cx="409.88" cy="51.50" r="0.95" fill="#b01818" stroke="#5a0000" stroke-width="0.35"/>
<circle cx="395.15" cy="51.07" r="0.95" fill="#b01818" stroke="#5a0000" stroke-width="0.35"/>
<circle cx="402.96" cy="50.13" r="0.95" fill="#b01818" stroke="#5a0000" stroke-width="0.35"/>
<circle cx="406.84" cy="50.50" r="0.95" fill="#b01818" stroke="#5a0000" stroke-width="0.35"/>
<circle cx="373.72" cy="50.53" r="0.95" fill="#b01818" stroke="#5a0000" stroke-width="0.35"/>
<circle cx="406.47" cy="50.41" r="0.95" fill="#b01818" stroke="#5a0000" stroke-width="0.35"/>
<circle cx="406.99" cy="51.95" r="0.95" fill="#b01818" stroke="#5a0000" stroke-width="0.35"/>
<circle cx="394.70" cy="50.77" r="0.95" fill="#b01818" stroke="#5a0000" stroke-width="0.35"/>
<circle cx="393.95" cy="51.37" r="0.95" fill="#b01818" stroke="#5a0000" stroke-width="0.35"/>
<circle cx="408.35" cy="51.23" r="0.95" fill="#b01818" stroke="#5a0000" stroke-width="0.35"/>
<circle cx="402.14" cy="50.15" r="0.95" fill="#b01818" stroke="#5a0000" stroke-width="0.35"/>
<circle cx="377.37" cy="50.51" r="0.95" fill="#b01818" stroke="#5a0000" stroke-width="0.35"/>
<circle cx="492.09" cy="51.03" r="0.95" fill="#b01818" stroke="#5a0000" stroke-width="0.35"/>
<circle cx="475.07" cy="50.62" r="0.95" fill="#b01818" stroke="#5a0000" stroke-width="0.35"/>
<circle cx="425.88" cy="50.98" r="0.95" fill="#b01818" stroke="#5a0000" stroke-width="0.35"/>
<circle cx="485.18" cy="51.57" r="0.95" fill="#b01818" stroke="#5a0000" stroke-width="0.35"/>
<circle cx="485.54" cy="51.01" r="0.95" fill="#b01818" stroke="#5a0000" stroke-width="0.35"/>
<circle cx="470.10" cy="51.25" r="0.95" fill="#b01818" stroke="#5a0000" stroke-width="0.35"/>
<circle cx="465.23" cy="50.77" r="0.95" fill="#b01818" stroke="#5a0000" stroke-width="0.35"/>
<circle cx="506.69" cy="50.88" r="0.95" fill="#b01818" stroke="#5a0000" stroke-width="0.35"/>
<circle cx="514.88" cy="51.91" r="0.95" fill="#b01818" stroke="#5a0000" stroke-width="0.35"/>
<circle cx="421.70" cy="51.24" r="0.95" fill="#b01818" stroke="#5a0000" stroke-width="0.35"/>
<circle cx="499.53" cy="51.96" r="0.95" fill="#b01818" stroke="#5a0000" stroke-width="0.35"/>
<circle cx="463.60" cy="50.98" r="0.95" fill="#b01818" stroke="#5a0000" stroke-width="0.35"/>
<circle cx="440.35" cy="51.92" r="0.95" fill="#b01818" stroke="#5a0000" stroke-width="0.35"/>
<circle cx="440.44" cy="51.41" r="0.95" fill="#b01818" stroke="#5a0000" stroke-width="0.35"/>
<circle cx="433.75" cy="51.33" r="0.95" fill="#b01818" stroke="#5a0000" stroke-width="0.35"/>
<circle cx="512.42" cy="50.79" r="0.95" fill="#b01818" stroke="#5a0000" stroke-width="0.35"/>
<circle cx="499.56" cy="51.31" r="0.95" fill="#b01818" stroke="#5a0000" stroke-width="0.35"/>
<circle cx="506.03" cy="51.58" r="0.95" fill="#b01818" stroke="#5a0000" stroke-width="0.35"/>
<circle cx="442.44" cy="51.86" r="0.95" fill="#b01818" stroke="#5a0000" stroke-width="0.35"/>
<circle cx="467.16" cy="50.63" r="0.95" fill="#b01818" stroke="#5a0000" stroke-width="0.35"/>
<circle cx="420.35" cy="51.29" r="0.95" fill="#b01818" stroke="#5a0000" stroke-width="0.35"/>
<circle cx="463.72" cy="51.02" r="0.95" fill="#b01818" stroke="#5a0000" stroke-width="0.35"/>
<circle cx="433.65" cy="51.08" r="0.95" fill="#b01818" stroke="#5a0000" stroke-width="0.35"/>
<circle cx="450.66" cy="51.78" r="0.95" fill="#b01818" stroke="#5a0000" stroke-width="0.35"/>
<circle cx="420.17" cy="51.65" r="0.95" fill="#b01818" stroke="#5a0000" stroke-width="0.35"/>
<circle cx="501.39" cy="50.77" r="0.95" fill="#b01818" stroke="#5a0000" stroke-width="0.35"/>
<circle cx="509.86" cy="51.60" r="0.95" fill="#b01818" stroke="#5a0000" stroke-width="0.35"/>
<circle cx="507.45" cy="51.01" r="0.95" fill="#b01818" stroke="#5a0000" stroke-width="0.35"/>
<circle cx="456.11" cy="51.15" r="0.95" fill="#b01818" stroke="#5a0000" stroke-width="0.35"/>
<circle cx="516.88" cy="51.42" r="0.95" fill="#b01818" stroke="#5a0000" stroke-width="0.35"/>
<circle cx="454.99" cy="51.20" r="0.95" fill="#b01818" stroke="#5a0000" stroke-width="0.35"/>
<circle cx="446.69" cy="50.67" r="0.95" fill="#b01818" stroke="#5a0000" stroke-width="0.35"/>
<circle cx="429.87" cy="51.77" r="0.95" fill="#b01818" stroke="#5a0000" stroke-width="0.35"/>
<circle cx="447.71" cy="51.91" r="0.95" fill="#b01818" stroke="#5a0000" stroke-width="0.35"/>
<circle cx="444.18" cy="50.97" r="0.95" fill="#b01818" stroke="#5a0000" stroke-width="0.35"/>
<circle cx="469.56" cy="50.87" r="0.95" fill="#b01818" stroke="#5a0000" stroke-width="0.35"/>
<circle cx="456.21" cy="51.94" r="0.95" fill="#b01818" stroke="#5a0000" stroke-width="0.35"/>
<circle cx="505.77" cy="51.74" r="0.95" fill="#b01818" stroke="#5a0000" stroke-width="0.35"/>
<circle cx="481.20" cy="51.88" r="0.95" fill="#b01818" stroke="#5a0000" stroke-width="0.35"/>
<circle cx="511.25" cy="51.37" r="0.95" fill="#b01818" stroke="#5a0000" stroke-width="0.35"/>
<circle cx="489.80" cy="50.67" r="0.95" fill="#b01818" stroke="#5a0000" stroke-width="0.35"/>
<circle cx="491.04" cy="51.23" r="0.95" fill="#b01818" stroke="#5a0000" stroke-width="0.35"/>
<circle cx="493.01" cy="51.50" r="0.95" fill="#b01818" stroke="#5a0000" stroke-width="0.35"/>
<circle cx="447.76" cy="50.67" r="0.95" fill="#b01818" stroke="#5a0000" stroke-width="0.35"/>
<circle cx="509.90" cy="50.78" r="0.95" fill="#b01818" stroke="#5a0000" stroke-width="0.35"/>
<circle cx="465.80" cy="51.08" r="0.95" fill="#b01818" stroke="#5a0000" stroke-width="0.35"/>
<circle cx="448.88" cy="51.63" r="0.95" fill="#b01818" stroke="#5a0000" stroke-width="0.35"/>
<circle cx="514.70" cy="50.96" r="0.95" fill="#b01818" stroke="#5a0000" stroke-width="0.35"/>
<circle cx="483.63" cy="51.02" r="0.95" fill="#b01818" stroke="#5a0000" stroke-width="0.35"/>
<circle cx="474.06" cy="51.15" r="0.95" fill="#b01818" stroke="#5a0000" stroke-width="0.35"/>
<circle cx="436.23" cy="50.83" r="0.95" fill="#b01818" stroke="#5a0000" stroke-width="0.35"/>
<circle cx="440.16" cy="51.87" r="0.95" fill="#b01818" stroke="#5a0000" stroke-width="0.35"/>
<circle cx="468.22" cy="50.91" r="0.95" fill="#b01818" stroke="#5a0000" stroke-width="0.35"/>
<circle cx="507.91" cy="52.00" r="0.95" fill="#b01818" stroke="#5a0000" stroke-width="0.35"/>
<circle cx="463.65" cy="50.80" r="0.95" fill="#b01818" stroke="#5a0000" stroke-width="0.35"/>
<circle cx="438.66" cy="50.73" r="0.95" fill="#b01818" stroke="#5a0000" stroke-width="0.35"/>
<circle cx="453.17" cy="50.73" r="0.95" fill="#b01818" stroke="#5a0000" stroke-width="0.35"/>
<circle cx="443.20" cy="50.96" r="0.95" fill="#b01818" stroke="#5a0000" stroke-width="0.35"/>
<circle cx="475.25" cy="51.84" r="0.95" fill="#b01818" stroke="#5a0000" stroke-width="0.35"/>
<circle cx="492.72" cy="51.18" r="0.95" fill="#b01818" stroke="#5a0000" stroke-width="0.35"/>
<circle cx="460.15" cy="51.33" r="0.95" fill="#b01818" stroke="#5a0000" stroke-width="0.35"/>
<circle cx="456.56" cy="51.07" r="0.95" fill="#b01818" stroke="#5a0000" stroke-width="0.35"/>
<circle cx="426.02" cy="50.99" r="0.95" fill="#b01818" stroke="#5a0000" stroke-width="0.35"/>
<circle cx="513.87" cy="50.78" r="0.95" fill="#b01818" stroke="#5a0000" stroke-width="0.35"/>
<circle cx="468.83" cy="51.48" r="0.95" fill="#b01818" stroke="#5a0000" stroke-width="0.35"/>
<circle cx="503.70" cy="50.90" r="0.95" fill="#b01818" stroke="#5a0000" stroke-width="0.35"/>
<circle cx="446.29" cy="50.95" r="0.95" fill="#b01818" stroke="#5a0000" stroke-width="0.35"/>
<circle cx="458.78" cy="51.22" r="0.95" fill="#b01818" stroke="#5a0000" stroke-width="0.35"/>
<circle cx="512.53" cy="51.79" r="0.95" fill="#b01818" stroke="#5a0000" stroke-width="0.35"/>
<circle cx="504.67" cy="50.63" r="0.95" fill="#b01818" stroke="#5a0000" stroke-width="0.35"/>
<text x="310.00" y="77.50" font-size="5.1" font-weight="normal" fill="#222" text-anchor="middle" font-style="italic">CALM3</text>
<text x="337.00" y="77.50" font-size="5.1" font-weight="normal" fill="#222" text-anchor="middle" font-style="italic">NGC15476</text>
<text x="382.00" y="83.20" font-size="5.1" font-weight="normal" fill="#222" text-anchor="middle" font-style="italic">FKRP</text>
<text x="320.40" y="92.00" font-size="5.1" font-weight="normal" fill="#222" text-anchor="middle" font-style="italic">PTGIR</text>
<text x="355.00" y="92.00" font-size="5.1" font-weight="normal" fill="#222" text-anchor="middle" font-style="italic">PRKD2</text>
<text x="378.20" y="92.00" font-size="5.1" font-weight="normal" fill="#222" text-anchor="middle" font-style="italic">STRN4</text>
<text x="402.30" y="85.70" font-size="5.1" font-weight="normal" fill="#c8283a" text-anchor="middle" font-style="italic">SLC1A5</text>
<text x="426.60" y="92.00" font-size="5.1" font-weight="normal" fill="#222" text-anchor="middle" font-style="italic">AP2S1</text>
<text x="481.10" y="92.00" font-size="5.1" font-weight="normal" fill="#222" text-anchor="middle" font-style="italic">GRLF1</text>
<text x="512.00" y="78.70" font-size="5.1" font-weight="normal" fill="#222" text-anchor="middle" font-style="italic">NPAS1</text>
<polygon points="314.50,81.00 317.25,81.00 319.50,82.50 317.25,84.00 314.50,84.00 315.50,82.50" fill="#000"/>
<polygon points="338.00,81.00 335.63,81.00 333.70,82.50 335.63,84.00 338.00,84.00 337.14,82.50" fill="#000"/>
<polygon points="377.50,74.70 383.00,74.70 386.20,76.30 383.00,77.90 377.50,77.90 379.10,76.30" fill="#000"/>
<polygon points="325.50,94.00 323.13,94.00 321.20,95.50 323.13,97.00 325.50,97.00 324.64,95.50" fill="#000"/>
<polygon points="367.50,93.60 349.40,93.60 346.20,95.50 349.40,97.40 367.50,97.40 365.90,95.50" fill="#000"/>
<polygon points="382.50,93.60 371.90,93.60 368.70,95.50 371.90,97.40 382.50,97.40 380.90,95.50" fill="#000"/>
<polygon points="400.00,93.50 396.00,93.50 392.80,95.40 396.00,97.30 400.00,97.30 398.56,95.40" fill="#c01a2a"/>
<circle cx="401" cy="90.3" r="0.9" fill="#c01a2a"/>
<polygon points="427.90,93.90 425.42,93.90 423.40,95.40 425.42,96.90 427.90,96.90 427.00,95.40" fill="#000"/>
<polygon points="462.90,93.50 496.10,93.50 499.30,95.40 496.10,97.30 462.90,97.30 464.50,95.40" fill="#000"/>
<polygon points="509.00,80.30 513.00,80.30 516.20,81.90 513.00,83.50 509.00,83.50 510.44,81.90" fill="#000"/>
<text transform="translate(335.97,140.20) rotate(-90) scale(0.95,1.0)" font-size="5.5" font-weight="bold" fill="#2e2eb4">rs314682</text>
<line x1="334.00" y1="117.62" x2="350.00" y2="97.50" stroke="#888" stroke-width="0.45"/>
<line x1="334.00" y1="142.00" x2="331.00" y2="160.50" stroke="#888" stroke-width="0.45"/>
<text transform="translate(340.97,140.20) rotate(-90) scale(0.95,1.0)" font-size="5.5" font-weight="bold" fill="#2e2eb4">rs314680</text>
<line x1="339.00" y1="117.62" x2="352.00" y2="97.50" stroke="#888" stroke-width="0.45"/>
<line x1="339.00" y1="142.00" x2="333.00" y2="160.50" stroke="#888" stroke-width="0.45"/>
<text transform="translate(345.47,140.20) rotate(-90) scale(0.95,1.0)" font-size="5.5" font-weight="bold" fill="#2e2eb4">rs2303825</text>
<line x1="343.50" y1="114.84" x2="354.00" y2="97.50" stroke="#888" stroke-width="0.45"/>
<line x1="343.50" y1="142.00" x2="335.00" y2="160.50" stroke="#888" stroke-width="0.45"/>
<text transform="translate(350.47,140.20) rotate(-90) scale(0.95,1.0)" font-size="5.5" font-weight="bold" fill="#2e2eb4">rs12461003</text>
<line x1="348.50" y1="112.06" x2="356.00" y2="97.50" stroke="#888" stroke-width="0.45"/>
<line x1="348.50" y1="142.00" x2="337.00" y2="160.50" stroke="#888" stroke-width="0.45"/>
<text transform="translate(355.47,140.20) rotate(-90) scale(0.95,1.0)" font-size="5.5" font-weight="bold" fill="#2e2eb4">rs314676</text>
<line x1="353.50" y1="117.62" x2="358.00" y2="97.50" stroke="#888" stroke-width="0.45"/>
<line x1="353.50" y1="142.00" x2="339.00" y2="160.50" stroke="#888" stroke-width="0.45"/>
<text transform="translate(360.47,140.20) rotate(-90) scale(0.95,1.0)" font-size="5.5" font-weight="bold" fill="#2e2eb4">rs314663</text>
<line x1="358.50" y1="117.62" x2="360.00" y2="97.50" stroke="#888" stroke-width="0.45"/>
<line x1="358.50" y1="142.00" x2="341.00" y2="160.50" stroke="#888" stroke-width="0.45"/>
<text transform="translate(365.47,140.20) rotate(-90) scale(0.95,1.0)" font-size="5.5" font-weight="bold" fill="#2e2eb4">rs12609820</text>
<line x1="363.50" y1="112.06" x2="362.00" y2="97.50" stroke="#888" stroke-width="0.45"/>
<line x1="363.50" y1="142.00" x2="343.00" y2="160.50" stroke="#888" stroke-width="0.45"/>
<text transform="translate(370.47,140.20) rotate(-90) scale(0.95,1.0)" font-size="5.5" font-weight="bold" fill="#2e2eb4">rs881712</text>
<line x1="368.50" y1="117.62" x2="364.00" y2="97.50" stroke="#888" stroke-width="0.45"/>
<line x1="368.50" y1="142.00" x2="345.00" y2="160.50" stroke="#888" stroke-width="0.45"/>
<text transform="translate(375.47,140.20) rotate(-90) scale(0.95,1.0)" font-size="5.5" font-weight="bold" fill="#2e2eb4">rs2384526</text>
<line x1="373.50" y1="114.84" x2="366.00" y2="97.50" stroke="#888" stroke-width="0.45"/>
<line x1="373.50" y1="142.00" x2="347.00" y2="160.50" stroke="#888" stroke-width="0.45"/>
<text transform="translate(380.97,140.20) rotate(-90) scale(0.95,1.0)" font-size="5.5" font-weight="bold" fill="#2e2eb4">rs313962</text>
<line x1="379.00" y1="117.62" x2="367.00" y2="97.50" stroke="#888" stroke-width="0.45"/>
<line x1="379.00" y1="142.00" x2="349.00" y2="160.50" stroke="#888" stroke-width="0.45"/>
<text transform="translate(394.80,138.40) rotate(-90) scale(0.95,1.0)" font-size="5.3" font-weight="bold" fill="#2e2eb4">rs273355</text>
<line x1="392.90" y1="116.18" x2="394.00" y2="97.50" stroke="#888" stroke-width="0.45"/>
<line x1="392.90" y1="139.50" x2="404.00" y2="153.50" stroke="#888" stroke-width="0.45"/>
<text transform="translate(399.10,138.40) rotate(-90) scale(0.95,1.0)" font-size="5.3" font-weight="bold" fill="#2e2eb4">rs273356</text>
<line x1="397.20" y1="116.18" x2="394.60" y2="97.50" stroke="#888" stroke-width="0.45"/>
<line x1="397.20" y1="139.50" x2="405.00" y2="153.50" stroke="#888" stroke-width="0.45"/>
<text transform="translate(402.80,138.40) rotate(-90) scale(0.95,1.0)" font-size="5.3" font-weight="bold" fill="#2e2eb4">rs2070906</text>
<line x1="400.90" y1="113.51" x2="395.20" y2="97.50" stroke="#888" stroke-width="0.45"/>
<line x1="400.90" y1="139.50" x2="406.00" y2="153.50" stroke="#888" stroke-width="0.45"/>
<text transform="translate(407.70,138.40) rotate(-90) scale(0.95,1.0)" font-size="5.3" font-weight="bold" fill="#d8402e">rs2070902</text>
<line x1="405.80" y1="113.51" x2="395.80" y2="97.50" stroke="#888" stroke-width="0.45"/>
<line x1="405.80" y1="139.50" x2="407.00" y2="153.50" stroke="#888" stroke-width="0.45"/>
<text transform="translate(412.70,138.40) rotate(-90) scale(0.95,1.0)" font-size="5.3" font-weight="bold" fill="#2e2eb4">rs12461126</text>
<line x1="410.80" y1="110.84" x2="396.40" y2="97.50" stroke="#888" stroke-width="0.45"/>
<line x1="410.80" y1="139.50" x2="408.00" y2="153.50" stroke="#888" stroke-width="0.45"/>
<text transform="translate(417.60,138.40) rotate(-90) scale(0.95,1.0)" font-size="5.3" font-weight="bold" fill="#2e2eb4">rs3027956</text>
<line x1="415.70" y1="113.51" x2="397.00" y2="97.50" stroke="#888" stroke-width="0.45"/>
<line x1="415.70" y1="139.50" x2="409.00" y2="153.50" stroke="#888" stroke-width="0.45"/>
<text transform="translate(422.50,138.40) rotate(-90) scale(0.95,1.0)" font-size="5.3" font-weight="bold" fill="#2e2eb4">rs3027961</text>
<line x1="420.60" y1="113.51" x2="397.60" y2="97.50" stroke="#888" stroke-width="0.45"/>
<line x1="420.60" y1="139.50" x2="410.00" y2="153.50" stroke="#888" stroke-width="0.45"/>
<text transform="translate(428.10,138.40) rotate(-90) scale(0.95,1.0)" font-size="5.3" font-weight="bold" fill="#2e2eb4">rs10409014</text>
<line x1="426.20" y1="110.84" x2="398.20" y2="97.50" stroke="#888" stroke-width="0.45"/>
<line x1="426.20" y1="139.50" x2="411.00" y2="153.50" stroke="#888" stroke-width="0.45"/>
<text transform="translate(433.00,138.40) rotate(-90) scale(0.95,1.0)" font-size="5.3" font-weight="bold" fill="#2e2eb4">rs281451</text>
<line x1="431.10" y1="116.18" x2="398.80" y2="97.50" stroke="#888" stroke-width="0.45"/>
<line x1="431.10" y1="139.50" x2="412.00" y2="153.50" stroke="#888" stroke-width="0.45"/>
<text transform="translate(437.90,138.40) rotate(-90) scale(0.95,1.0)" font-size="5.3" font-weight="bold" fill="#2e2eb4">rs281453</text>
<line x1="436.00" y1="116.18" x2="399.40" y2="97.50" stroke="#888" stroke-width="0.45"/>
<line x1="436.00" y1="139.50" x2="413.00" y2="153.50" stroke="#888" stroke-width="0.45"/>
<text transform="translate(443.40,138.40) rotate(-90) scale(0.95,1.0)" font-size="5.3" font-weight="bold" fill="#2e2eb4">rs281454</text>
<line x1="441.50" y1="116.18" x2="400.00" y2="97.50" stroke="#888" stroke-width="0.45"/>
<line x1="441.50" y1="139.50" x2="414.00" y2="153.50" stroke="#888" stroke-width="0.45"/>
<text transform="translate(449.60,138.40) rotate(-90) scale(0.95,1.0)" font-size="5.3" font-weight="bold" fill="#111">rs12611010</text>
<line x1="447.70" y1="110.84" x2="400.60" y2="97.50" stroke="#888" stroke-width="0.45"/>
<line x1="447.70" y1="139.50" x2="415.00" y2="153.50" stroke="#888" stroke-width="0.45"/>
<text x="270.50" y="130.80" font-size="5.8" font-weight="bold" fill="#333" text-anchor="start">Recombination</text>
<text x="270.50" y="137.20" font-size="5.8" font-weight="bold" fill="#333" text-anchor="start">Rate (cM/Mb)</text>
<text x="276.50" y="144.70" font-size="5.4" font-weight="bold" fill="#333" text-anchor="end">20</text>
<text x="276.50" y="153.50" font-size="5.4" font-weight="bold" fill="#333" text-anchor="end">10</text>
<text x="276.50" y="162.00" font-size="5.4" font-weight="bold" fill="#333" text-anchor="end">0</text>
<polyline points="277.50,146.50 280.20,146.50 280.20,161.20 277.50,161.20" fill="none" stroke="#222" stroke-width="0.9"/>
<line x1="277.50" y1="154.00" x2="280.20" y2="154.00" stroke="#222" stroke-width="0.9"/>
<text x="515.00" y="141.00" font-size="5.8" font-weight="bold" fill="#222" text-anchor="end">Chr. 19q13</text>
<polyline points="282.00,156.00 286.00,156.00 290.00,160.50 300.00,161.20 320.00,161.20 327.00,160.00 329.50,153.70 332.00,159.50 338.00,159.80 341.00,158.60 345.00,161.00 410.00,161.00 413.70,152.50 422.50,152.50 423.00,157.00 427.50,157.50 428.00,161.20 500.00,161.20 503.00,151.50 508.00,151.00 510.00,150.00 516.00,150.00" fill="none" stroke="#999" stroke-width="0.6"/>
<line x1="281.00" y1="162.00" x2="516.50" y2="162.00" stroke="#555" stroke-width="0.8"/>
<rect x="278.5" y="162.8" width="238.0" height="123.19999999999999" fill="#dcd9d2"/>
<rect x="278.5" y="163.2" width="238.0" height="4.0" fill="#ecebe7"/>
<polygon points="283.00,179.50 510.70,179.50 396.85,283.33" fill="#ffffff"/>
<text x="0.50" y="306.80" font-size="11.5" font-weight="bold" fill="#000" text-anchor="start">C</text>
<line x1="19.80" y1="313.20" x2="254.80" y2="313.20" stroke="#d6d6d6" stroke-width="0.6"/>
<line x1="19.80" y1="322.80" x2="254.80" y2="322.80" stroke="#d6d6d6" stroke-width="0.6"/>
<line x1="19.80" y1="332.30" x2="254.80" y2="332.30" stroke="#d6d6d6" stroke-width="0.6"/>
<line x1="19.80" y1="341.90" x2="254.80" y2="341.90" stroke="#d6d6d6" stroke-width="0.6"/>
<line x1="21.30" y1="313.20" x2="21.30" y2="342.90" stroke="#d6d6d6" stroke-width="0.6"/>
<text transform="translate(15.50,315.50) scale(0.82,1)" font-size="6.6" fill="#1a1a1a" text-anchor="end">60</text>
<text transform="translate(15.50,325.10) scale(0.82,1)" font-size="6.6" fill="#1a1a1a" text-anchor="end">40</text>
<text transform="translate(15.50,334.60) scale(0.82,1)" font-size="6.6" fill="#1a1a1a" text-anchor="end">20</text>
<text transform="translate(15.50,344.20) scale(0.82,1)" font-size="6.6" fill="#1a1a1a" text-anchor="end">0</text>
<text transform="translate(5.00,326.50) rotate(-90)" font-size="6" fill="#444" text-anchor="middle">χ<tspan font-size="4" dy="-2">2</tspan></text>
<text x="51.30" y="354.30" font-size="5.6" font-weight="normal" fill="#333" text-anchor="middle">69,100k</text>
<text x="100.10" y="354.30" font-size="5.6" font-weight="normal" fill="#333" text-anchor="middle">69,300k</text>
<text x="149.00" y="354.30" font-size="5.6" font-weight="normal" fill="#333" text-anchor="middle">69,500k</text>
<text x="197.90" y="354.30" font-size="5.6" font-weight="normal" fill="#333" text-anchor="middle">69,700k</text>
<text x="246.70" y="354.30" font-size="5.6" font-weight="normal" fill="#333" text-anchor="middle">69,900k</text>
<line x1="22.00" y1="358.30" x2="254.80" y2="358.30" stroke="#222" stroke-width="1.0"/>
<polyline points="25.50,355.80 22.30,358.30 25.50,360.80" fill="none" stroke="#222" stroke-width="1.0"/>
<polyline points="251.30,355.80 254.50,358.30 251.30,360.80" fill="none" stroke="#222" stroke-width="1.0"/>
<line x1="50.70" y1="356.80" x2="50.70" y2="359.80" stroke="#222" stroke-width="0.8"/>
<line x1="75.10" y1="356.80" x2="75.10" y2="359.80" stroke="#222" stroke-width="0.8"/>
<line x1="99.50" y1="356.80" x2="99.50" y2="359.80" stroke="#222" stroke-width="0.8"/>
<line x1="123.90" y1="356.80" x2="123.90" y2="359.80" stroke="#222" stroke-width="0.8"/>
<line x1="148.30" y1="356.80" x2="148.30" y2="359.80" stroke="#222" stroke-width="0.8"/>
<line x1="172.70" y1="356.80" x2="172.70" y2="359.80" stroke="#222" stroke-width="0.8"/>
<line x1="197.10" y1="356.80" x2="197.10" y2="359.80" stroke="#222" stroke-width="0.8"/>
<line x1="221.50" y1="356.80" x2="221.50" y2="359.80" stroke="#222" stroke-width="0.8"/>
<line x1="245.90" y1="356.80" x2="245.90" y2="359.80" stroke="#222" stroke-width="0.8"/>
<circle cx="21.94" cy="341.89" r="0.95" fill="#b01818" stroke="#5a0000" stroke-width="0.35"/>
<circle cx="33.59" cy="341.56" r="0.95" fill="#b01818" stroke="#5a0000" stroke-width="0.35"/>
<circle cx="29.43" cy="340.90" r="0.95" fill="#b01818" stroke="#5a0000" stroke-width="0.35"/>
<circle cx="26.79" cy="342.20" r="0.95" fill="#b01818" stroke="#5a0000" stroke-width="0.35"/>
<circle cx="32.65" cy="342.10" r="0.95" fill="#b01818" stroke="#5a0000" stroke-width="0.35"/>
<circle cx="34.63" cy="341.25" r="0.95" fill="#b01818" stroke="#5a0000" stroke-width="0.35"/>
<circle cx="22.97" cy="341.12" r="0.95" fill="#b01818" stroke="#5a0000" stroke-width="0.35"/>
<circle cx="28.55" cy="341.85" r="0.95" fill="#b01818" stroke="#5a0000" stroke-width="0.35"/>
<circle cx="34.21" cy="341.91" r="0.95" fill="#b01818" stroke="#5a0000" stroke-width="0.35"/>
<circle cx="30.24" cy="341.97" r="0.95" fill="#b01818" stroke="#5a0000" stroke-width="0.35"/>
<circle cx="27.67" cy="341.67" r="0.95" fill="#b01818" stroke="#5a0000" stroke-width="0.35"/>
<circle cx="22.03" cy="342.00" r="0.95" fill="#b01818" stroke="#5a0000" stroke-width="0.35"/>
<circle cx="24.64" cy="342.19" r="0.95" fill="#b01818" stroke="#5a0000" stroke-width="0.35"/>
<circle cx="30.21" cy="341.33" r="0.95" fill="#b01818" stroke="#5a0000" stroke-width="0.35"/>
<circle cx="23.23" cy="341.25" r="0.95" fill="#b01818" stroke="#5a0000" stroke-width="0.35"/>
<circle cx="30.09" cy="341.88" r="0.95" fill="#b01818" stroke="#5a0000" stroke-width="0.35"/>
<circle cx="23.01" cy="341.00" r="0.95" fill="#b01818" stroke="#5a0000" stroke-width="0.35"/>
<circle cx="28.58" cy="341.72" r="0.95" fill="#b01818" stroke="#5a0000" stroke-width="0.35"/>
<circle cx="26.74" cy="341.21" r="0.95" fill="#b01818" stroke="#5a0000" stroke-width="0.35"/>
<circle cx="29.61" cy="340.91" r="0.95" fill="#b01818" stroke="#5a0000" stroke-width="0.35"/>
<circle cx="25.57" cy="341.54" r="0.95" fill="#b01818" stroke="#5a0000" stroke-width="0.35"/>
<circle cx="34.45" cy="341.80" r="0.95" fill="#b01818" stroke="#5a0000" stroke-width="0.35"/>
<circle cx="67.00" cy="332.50" r="0.95" fill="#b01818" stroke="#5a0000" stroke-width="0.35"/>
<circle cx="78.75" cy="322.00" r="0.95" fill="#b01818" stroke="#5a0000" stroke-width="0.35"/>
<circle cx="77.50" cy="331.25" r="0.95" fill="#b01818" stroke="#5a0000" stroke-width="0.35"/>
<circle cx="76.25" cy="335.00" r="0.95" fill="#b01818" stroke="#5a0000" stroke-width="0.35"/>
<circle cx="77.50" cy="336.25" r="0.95" fill="#b01818" stroke="#5a0000" stroke-width="0.35"/>
<circle cx="85.00" cy="327.50" r="0.95" fill="#b01818" stroke="#5a0000" stroke-width="0.35"/>
<circle cx="86.20" cy="327.80" r="0.95" fill="#b01818" stroke="#5a0000" stroke-width="0.35"/>
<circle cx="87.50" cy="327.50" r="0.95" fill="#b01818" stroke="#5a0000" stroke-width="0.35"/>
<circle cx="88.00" cy="338.75" r="0.95" fill="#b01818" stroke="#5a0000" stroke-width="0.35"/>
<circle cx="92.50" cy="321.25" r="0.95" fill="#b01818" stroke="#5a0000" stroke-width="0.35"/>
<circle cx="97.50" cy="321.25" r="0.95" fill="#b01818" stroke="#5a0000" stroke-width="0.35"/>
<circle cx="195.60" cy="321.10" r="0.95" fill="#b01818" stroke="#5a0000" stroke-width="0.35"/>
<circle cx="187.80" cy="333.20" r="0.95" fill="#b01818" stroke="#5a0000" stroke-width="0.35"/>
<circle cx="189.90" cy="340.50" r="0.95" fill="#b01818" stroke="#5a0000" stroke-width="0.35"/>
<circle cx="188.70" cy="341.70" r="0.95" fill="#b01818" stroke="#5a0000" stroke-width="0.35"/>
<circle cx="202.50" cy="342.20" r="0.95" fill="#b01818" stroke="#5a0000" stroke-width="0.35"/>
<circle cx="80.38" cy="342.19" r="0.95" fill="#b01818" stroke="#5a0000" stroke-width="0.35"/>
<circle cx="75.51" cy="342.05" r="0.95" fill="#b01818" stroke="#5a0000" stroke-width="0.35"/>
<circle cx="80.95" cy="342.32" r="0.95" fill="#b01818" stroke="#5a0000" stroke-width="0.35"/>
<circle cx="76.06" cy="341.91" r="0.95" fill="#b01818" stroke="#5a0000" stroke-width="0.35"/>
<circle cx="77.49" cy="342.30" r="0.95" fill="#b01818" stroke="#5a0000" stroke-width="0.35"/>
<circle cx="76.90" cy="342.05" r="0.95" fill="#b01818" stroke="#5a0000" stroke-width="0.35"/>
<circle cx="98.35" cy="342.46" r="0.95" fill="#b01818" stroke="#5a0000" stroke-width="0.35"/>
<circle cx="89.54" cy="341.92" r="0.95" fill="#b01818" stroke="#5a0000" stroke-width="0.35"/>
<circle cx="91.76" cy="342.15" r="0.95" fill="#b01818" stroke="#5a0000" stroke-width="0.35"/>
<circle cx="98.65" cy="342.02" r="0.95" fill="#b01818" stroke="#5a0000" stroke-width="0.35"/>
<circle cx="100.94" cy="342.34" r="0.95" fill="#b01818" stroke="#5a0000" stroke-width="0.35"/>
<circle cx="95.10" cy="342.02" r="0.95" fill="#b01818" stroke="#5a0000" stroke-width="0.35"/>
<circle cx="104.40" cy="342.09" r="0.95" fill="#b01818" stroke="#5a0000" stroke-width="0.35"/>
<circle cx="101.40" cy="342.04" r="0.95" fill="#b01818" stroke="#5a0000" stroke-width="0.35"/>
<circle cx="89.43" cy="342.36" r="0.95" fill="#b01818" stroke="#5a0000" stroke-width="0.35"/>
<circle cx="90.90" cy="342.47" r="0.95" fill="#b01818" stroke="#5a0000" stroke-width="0.35"/>
<circle cx="94.92" cy="342.01" r="0.95" fill="#b01818" stroke="#5a0000" stroke-width="0.35"/>
<circle cx="89.47" cy="342.15" r="0.95" fill="#b01818" stroke="#5a0000" stroke-width="0.35"/>
<circle cx="98.31" cy="342.47" r="0.95" fill="#b01818" stroke="#5a0000" stroke-width="0.35"/>
<circle cx="87.93" cy="342.14" r="0.95" fill="#b01818" stroke="#5a0000" stroke-width="0.35"/>
<circle cx="227.61" cy="342.33" r="0.95" fill="#b01818" stroke="#5a0000" stroke-width="0.35"/>
<circle cx="225.14" cy="339.75" r="0.95" fill="#b01818" stroke="#5a0000" stroke-width="0.35"/>
<circle cx="222.29" cy="340.70" r="0.95" fill="#b01818" stroke="#5a0000" stroke-width="0.35"/>
<circle cx="251.46" cy="342.07" r="0.95" fill="#b01818" stroke="#5a0000" stroke-width="0.35"/>
<circle cx="245.70" cy="342.39" r="0.95" fill="#b01818" stroke="#5a0000" stroke-width="0.35"/>
<circle cx="252.62" cy="340.52" r="0.95" fill="#b01818" stroke="#5a0000" stroke-width="0.35"/>
<circle cx="226.66" cy="342.22" r="0.95" fill="#b01818" stroke="#5a0000" stroke-width="0.35"/>
<circle cx="246.17" cy="339.69" r="0.95" fill="#b01818" stroke="#5a0000" stroke-width="0.35"/>
<circle cx="243.32" cy="340.66" r="0.95" fill="#b01818" stroke="#5a0000" stroke-width="0.35"/>
<circle cx="233.21" cy="340.53" r="0.95" fill="#b01818" stroke="#5a0000" stroke-width="0.35"/>
<circle cx="226.09" cy="339.61" r="0.95" fill="#b01818" stroke="#5a0000" stroke-width="0.35"/>
<circle cx="229.94" cy="340.58" r="0.95" fill="#b01818" stroke="#5a0000" stroke-width="0.35"/>
<circle cx="253.45" cy="339.95" r="0.95" fill="#b01818" stroke="#5a0000" stroke-width="0.35"/>
<circle cx="253.76" cy="340.18" r="0.95" fill="#b01818" stroke="#5a0000" stroke-width="0.35"/>
<circle cx="232.61" cy="341.90" r="0.95" fill="#b01818" stroke="#5a0000" stroke-width="0.35"/>
<circle cx="248.81" cy="340.81" r="0.95" fill="#b01818" stroke="#5a0000" stroke-width="0.35"/>
<circle cx="221.91" cy="340.93" r="0.95" fill="#b01818" stroke="#5a0000" stroke-width="0.35"/>
<circle cx="233.17" cy="342.17" r="0.95" fill="#b01818" stroke="#5a0000" stroke-width="0.35"/>
<circle cx="226.92" cy="340.62" r="0.95" fill="#b01818" stroke="#5a0000" stroke-width="0.35"/>
<circle cx="251.42" cy="339.68" r="0.95" fill="#b01818" stroke="#5a0000" stroke-width="0.35"/>
<circle cx="234.50" cy="341.87" r="0.95" fill="#b01818" stroke="#5a0000" stroke-width="0.35"/>
<circle cx="246.88" cy="339.71" r="0.95" fill="#b01818" stroke="#5a0000" stroke-width="0.35"/>
<circle cx="221.41" cy="339.78" r="0.95" fill="#b01818" stroke="#5a0000" stroke-width="0.35"/>
<circle cx="252.22" cy="340.32" r="0.95" fill="#b01818" stroke="#5a0000" stroke-width="0.35"/>
<circle cx="246.21" cy="342.12" r="0.95" fill="#b01818" stroke="#5a0000" stroke-width="0.35"/>
<circle cx="232.00" cy="340.36" r="0.95" fill="#b01818" stroke="#5a0000" stroke-width="0.35"/>
<circle cx="253.53" cy="341.33" r="0.95" fill="#b01818" stroke="#5a0000" stroke-width="0.35"/>
<circle cx="229.32" cy="341.61" r="0.95" fill="#b01818" stroke="#5a0000" stroke-width="0.35"/>
<circle cx="231.21" cy="340.37" r="0.95" fill="#b01818" stroke="#5a0000" stroke-width="0.35"/>
<circle cx="220.33" cy="341.72" r="0.95" fill="#b01818" stroke="#5a0000" stroke-width="0.35"/>
<circle cx="252.09" cy="341.38" r="0.95" fill="#b01818" stroke="#5a0000" stroke-width="0.35"/>
<circle cx="253.03" cy="339.67" r="0.95" fill="#b01818" stroke="#5a0000" stroke-width="0.35"/>
<circle cx="228.34" cy="340.93" r="0.95" fill="#b01818" stroke="#5a0000" stroke-width="0.35"/>
<circle cx="253.50" cy="342.27" r="0.95" fill="#b01818" stroke="#5a0000" stroke-width="0.35"/>
<circle cx="233.65" cy="340.30" r="0.95" fill="#b01818" stroke="#5a0000" stroke-width="0.35"/>
<circle cx="235.16" cy="340.98" r="0.95" fill="#b01818" stroke="#5a0000" stroke-width="0.35"/>
<circle cx="252.50" cy="340.11" r="0.95" fill="#b01818" stroke="#5a0000" stroke-width="0.35"/>
<circle cx="248.13" cy="341.67" r="0.95" fill="#b01818" stroke="#5a0000" stroke-width="0.35"/>
<circle cx="248.83" cy="341.76" r="0.95" fill="#b01818" stroke="#5a0000" stroke-width="0.35"/>
<circle cx="241.33" cy="340.52" r="0.95" fill="#b01818" stroke="#5a0000" stroke-width="0.35"/>
<circle cx="231.32" cy="340.61" r="0.95" fill="#b01818" stroke="#5a0000" stroke-width="0.35"/>
<circle cx="247.42" cy="339.82" r="0.95" fill="#b01818" stroke="#5a0000" stroke-width="0.35"/>
<circle cx="227.07" cy="341.71" r="0.95" fill="#b01818" stroke="#5a0000" stroke-width="0.35"/>
<circle cx="228.81" cy="339.78" r="0.95" fill="#b01818" stroke="#5a0000" stroke-width="0.35"/>
<circle cx="221.38" cy="341.15" r="0.95" fill="#b01818" stroke="#5a0000" stroke-width="0.35"/>
<circle cx="231.54" cy="342.34" r="0.95" fill="#b01818" stroke="#5a0000" stroke-width="0.35"/>
<circle cx="250.94" cy="342.37" r="0.95" fill="#b01818" stroke="#5a0000" stroke-width="0.35"/>
<circle cx="229.42" cy="339.84" r="0.95" fill="#b01818" stroke="#5a0000" stroke-width="0.35"/>
<circle cx="223.56" cy="341.00" r="0.95" fill="#b01818" stroke="#5a0000" stroke-width="0.35"/>
<circle cx="244.90" cy="340.85" r="0.95" fill="#b01818" stroke="#5a0000" stroke-width="0.35"/>
<circle cx="228.35" cy="340.77" r="0.95" fill="#b01818" stroke="#5a0000" stroke-width="0.35"/>
<circle cx="241.79" cy="341.49" r="0.95" fill="#b01818" stroke="#5a0000" stroke-width="0.35"/>
<circle cx="246.23" cy="341.97" r="0.95" fill="#b01818" stroke="#5a0000" stroke-width="0.35"/>
<circle cx="243.32" cy="339.94" r="0.95" fill="#b01818" stroke="#5a0000" stroke-width="0.35"/>
<circle cx="249.46" cy="340.42" r="0.95" fill="#b01818" stroke="#5a0000" stroke-width="0.35"/>
<circle cx="239.93" cy="340.64" r="0.95" fill="#b01818" stroke="#5a0000" stroke-width="0.35"/>
<circle cx="245.88" cy="340.16" r="0.95" fill="#b01818" stroke="#5a0000" stroke-width="0.35"/>
<circle cx="228.81" cy="340.29" r="0.95" fill="#b01818" stroke="#5a0000" stroke-width="0.35"/>
<circle cx="225.54" cy="342.08" r="0.95" fill="#b01818" stroke="#5a0000" stroke-width="0.35"/>
<circle cx="240.32" cy="340.51" r="0.95" fill="#b01818" stroke="#5a0000" stroke-width="0.35"/>
<circle cx="233.98" cy="342.38" r="0.95" fill="#b01818" stroke="#5a0000" stroke-width="0.35"/>
<circle cx="237.85" cy="340.25" r="0.95" fill="#b01818" stroke="#5a0000" stroke-width="0.35"/>
<circle cx="248.33" cy="341.43" r="0.95" fill="#b01818" stroke="#5a0000" stroke-width="0.35"/>
<circle cx="254.69" cy="339.89" r="0.95" fill="#b01818" stroke="#5a0000" stroke-width="0.35"/>
<circle cx="236.72" cy="341.89" r="0.95" fill="#b01818" stroke="#5a0000" stroke-width="0.35"/>
<circle cx="249.45" cy="342.16" r="0.95" fill="#b01818" stroke="#5a0000" stroke-width="0.35"/>
<circle cx="221.60" cy="340.42" r="0.95" fill="#b01818" stroke="#5a0000" stroke-width="0.35"/>
<circle cx="224.35" cy="340.13" r="0.95" fill="#b01818" stroke="#5a0000" stroke-width="0.35"/>
<circle cx="254.06" cy="341.23" r="0.95" fill="#b01818" stroke="#5a0000" stroke-width="0.35"/>
<circle cx="252.57" cy="340.64" r="0.95" fill="#b01818" stroke="#5a0000" stroke-width="0.35"/>
<circle cx="250.34" cy="340.86" r="0.95" fill="#b01818" stroke="#5a0000" stroke-width="0.35"/>
<circle cx="229.25" cy="341.78" r="0.95" fill="#b01818" stroke="#5a0000" stroke-width="0.35"/>
<circle cx="253.11" cy="339.90" r="0.95" fill="#b01818" stroke="#5a0000" stroke-width="0.35"/>
<circle cx="240.95" cy="341.34" r="0.95" fill="#b01818" stroke="#5a0000" stroke-width="0.35"/>
<circle cx="227.77" cy="340.63" r="0.95" fill="#b01818" stroke="#5a0000" stroke-width="0.35"/>
<circle cx="225.12" cy="340.17" r="0.95" fill="#b01818" stroke="#5a0000" stroke-width="0.35"/>
<circle cx="229.07" cy="341.28" r="0.95" fill="#b01818" stroke="#5a0000" stroke-width="0.35"/>
<circle cx="242.88" cy="340.17" r="0.95" fill="#b01818" stroke="#5a0000" stroke-width="0.35"/>
<circle cx="220.60" cy="340.52" r="0.95" fill="#b01818" stroke="#5a0000" stroke-width="0.35"/>
<circle cx="243.81" cy="340.12" r="0.95" fill="#b01818" stroke="#5a0000" stroke-width="0.35"/>
<circle cx="231.06" cy="340.17" r="0.95" fill="#b01818" stroke="#5a0000" stroke-width="0.35"/>
<circle cx="247.88" cy="341.13" r="0.95" fill="#b01818" stroke="#5a0000" stroke-width="0.35"/>
<circle cx="222.40" cy="339.88" r="0.95" fill="#b01818" stroke="#5a0000" stroke-width="0.35"/>
<circle cx="233.96" cy="341.14" r="0.95" fill="#b01818" stroke="#5a0000" stroke-width="0.35"/>
<circle cx="242.44" cy="339.86" r="0.95" fill="#b01818" stroke="#5a0000" stroke-width="0.35"/>
<circle cx="225.90" cy="341.55" r="0.95" fill="#b01818" stroke="#5a0000" stroke-width="0.35"/>
<circle cx="234.46" cy="340.39" r="0.95" fill="#b01818" stroke="#5a0000" stroke-width="0.35"/>
<circle cx="230.90" cy="342.27" r="0.95" fill="#b01818" stroke="#5a0000" stroke-width="0.35"/>
<circle cx="231.07" cy="341.19" r="0.95" fill="#b01818" stroke="#5a0000" stroke-width="0.35"/>
<circle cx="232.63" cy="340.77" r="0.95" fill="#b01818" stroke="#5a0000" stroke-width="0.35"/>
<circle cx="233.10" cy="340.69" r="0.95" fill="#b01818" stroke="#5a0000" stroke-width="0.35"/>
<circle cx="226.09" cy="338.77" r="0.95" fill="#b01818" stroke="#5a0000" stroke-width="0.35"/>
<circle cx="231.19" cy="338.79" r="0.95" fill="#b01818" stroke="#5a0000" stroke-width="0.35"/>
<circle cx="221.08" cy="340.46" r="0.95" fill="#b01818" stroke="#5a0000" stroke-width="0.35"/>
<circle cx="226.93" cy="340.27" r="0.95" fill="#b01818" stroke="#5a0000" stroke-width="0.35"/>
<circle cx="226.69" cy="340.42" r="0.95" fill="#b01818" stroke="#5a0000" stroke-width="0.35"/>
<circle cx="227.45" cy="338.69" r="0.95" fill="#b01818" stroke="#5a0000" stroke-width="0.35"/>
<circle cx="221.21" cy="339.62" r="0.95" fill="#b01818" stroke="#5a0000" stroke-width="0.35"/>
<circle cx="229.97" cy="340.48" r="0.95" fill="#b01818" stroke="#5a0000" stroke-width="0.35"/>
<circle cx="222.25" cy="339.79" r="0.95" fill="#b01818" stroke="#5a0000" stroke-width="0.35"/>
<circle cx="226.19" cy="339.51" r="0.95" fill="#b01818" stroke="#5a0000" stroke-width="0.35"/>
<circle cx="223.04" cy="338.98" r="0.95" fill="#b01818" stroke="#5a0000" stroke-width="0.35"/>
<circle cx="228.30" cy="340.52" r="0.95" fill="#b01818" stroke="#5a0000" stroke-width="0.35"/>
<circle cx="222.52" cy="339.48" r="0.95" fill="#b01818" stroke="#5a0000" stroke-width="0.35"/>
<text x="32.60" y="371.30" font-size="5.25" font-weight="normal" fill="#222" text-anchor="middle" font-style="italic">YT521</text>
<text x="60.70" y="371.30" font-size="5.25" font-weight="normal" fill="#222" text-anchor="middle" font-style="italic">TMPRSS11E</text>
<text x="91.60" y="371.30" font-size="5.25" font-weight="normal" fill="#c8283a" text-anchor="middle" font-style="italic">UGT2B17</text>
<text x="123.00" y="371.30" font-size="5.25" font-weight="normal" fill="#222" text-anchor="middle" font-style="italic">UGT2B15</text>
<text x="173.20" y="371.30" font-size="5.25" font-weight="normal" fill="#222" text-anchor="middle" font-style="italic">TMPRSS11E</text>
<text x="210.00" y="371.30" font-size="5.25" font-weight="normal" fill="#222" text-anchor="middle" font-style="italic">UGT2B15</text>
<text x="246.70" y="371.30" font-size="5.25" font-weight="normal" fill="#222" text-anchor="middle" font-style="italic">UGT2B10</text>
<polygon points="36.50,374.90 30.60,374.90 27.40,376.70 30.60,378.50 36.50,378.50 34.90,376.70" fill="#000"/>
<polygon points="61.20,374.90 68.60,374.90 71.80,376.70 68.60,378.50 61.20,378.50 62.80,376.70" fill="#000"/>
<polygon points="89.80,374.90 85.60,374.90 82.40,376.70 85.60,378.50 89.80,378.50 88.32,376.70" fill="#c01a2a"/>
<polygon points="116.20,375.10 113.34,375.10 111.00,376.70 113.34,378.30 116.20,378.30 115.16,376.70" fill="#000"/>
<polygon points="178.00,374.90 186.80,374.90 190.00,376.70 186.80,378.50 178.00,378.50 179.60,376.70" fill="#000"/>
<polygon points="207.60,375.10 203.50,375.10 200.30,376.70 203.50,378.30 207.60,378.30 206.14,376.70" fill="#000"/>
<polygon points="240.00,375.10 243.69,375.10 246.70,376.70 243.69,378.30 240.00,378.30 241.34,376.70" fill="#000"/>
<polygon points="81.70,380.80 79.50,385.20 83.90,385.20" fill="#c01a2a"/>
<text transform="translate(27.19,425.40) rotate(-90) scale(1.0,0.86)" font-size="5.15" font-weight="bold" fill="#111">rs953795</text>
<line x1="25.60" y1="404.08" x2="25.60" y2="386.50" stroke="#888" stroke-width="0.5"/>
<line x1="25.60" y1="428.50" x2="25.60" y2="437.00" stroke="#888" stroke-width="0.5"/>
<text transform="translate(38.09,425.40) rotate(-90) scale(1.0,0.86)" font-size="5.15" font-weight="bold" fill="#111">rs7666993</text>
<line x1="36.50" y1="401.36" x2="36.50" y2="386.50" stroke="#888" stroke-width="0.5"/>
<line x1="36.50" y1="428.50" x2="36.50" y2="437.00" stroke="#888" stroke-width="0.5"/>
<text transform="translate(67.59,425.40) rotate(-90) scale(1.0,0.86)" font-size="5.15" font-weight="bold" fill="#2e2eb4">rs10034134</text>
<line x1="66.00" y1="398.64" x2="84.00" y2="381.00" stroke="#888" stroke-width="0.45"/>
<line x1="66.00" y1="428.00" x2="86.00" y2="437.50" stroke="#888" stroke-width="0.45"/>
<text transform="translate(77.19,425.40) rotate(-90) scale(1.0,0.86)" font-size="5.15" font-weight="bold" fill="#2e2eb4">rs7435827</text>
<line x1="75.60" y1="401.36" x2="84.96" y2="381.00" stroke="#888" stroke-width="0.45"/>
<line x1="75.60" y1="428.00" x2="87.44" y2="437.50" stroke="#888" stroke-width="0.45"/>
<text transform="translate(81.99,425.40) rotate(-90) scale(1.0,0.86)" font-size="5.15" font-weight="bold" fill="#2e2eb4">rs7434408</text>
<line x1="80.40" y1="401.36" x2="85.44" y2="381.00" stroke="#888" stroke-width="0.45"/>
<line x1="80.40" y1="428.00" x2="88.16" y2="437.50" stroke="#888" stroke-width="0.45"/>
<text transform="translate(87.79,425.40) rotate(-90) scale(1.0,0.86)" font-size="5.15" font-weight="bold" fill="#2e2eb4">rs11732803</text>
<line x1="86.20" y1="398.64" x2="86.02" y2="381.00" stroke="#888" stroke-width="0.45"/>
<line x1="86.20" y1="428.00" x2="89.03" y2="437.50" stroke="#888" stroke-width="0.45"/>
<text transform="translate(93.09,425.40) rotate(-90) scale(1.0,0.86)" font-size="5.15" font-weight="bold" fill="#2e2eb4">rs7442348</text>
<line x1="91.50" y1="401.36" x2="86.55" y2="381.00" stroke="#888" stroke-width="0.45"/>
<line x1="91.50" y1="428.00" x2="89.83" y2="437.50" stroke="#888" stroke-width="0.45"/>
<text transform="translate(98.29,425.40) rotate(-90) scale(1.0,0.86)" font-size="5.15" font-weight="bold" fill="#2e2eb4">rs13144491</text>
<line x1="96.70" y1="398.64" x2="87.07" y2="381.00" stroke="#888" stroke-width="0.45"/>
<line x1="96.70" y1="428.00" x2="90.61" y2="437.50" stroke="#888" stroke-width="0.45"/>
<text transform="translate(103.49,425.40) rotate(-90) scale(1.0,0.86)" font-size="5.15" font-weight="bold" fill="#2e2eb4">rs13348805</text>
<line x1="101.90" y1="398.64" x2="87.59" y2="381.00" stroke="#888" stroke-width="0.45"/>
<line x1="101.90" y1="428.00" x2="91.39" y2="437.50" stroke="#888" stroke-width="0.45"/>
<text transform="translate(195.39,425.40) rotate(-90) scale(1.0,0.86)" font-size="5.15" font-weight="bold" fill="#2e2eb4">rs3100645</text>
<line x1="193.80" y1="401.36" x2="193.80" y2="386.50" stroke="#888" stroke-width="0.5"/>
<line x1="193.80" y1="428.50" x2="193.80" y2="437.00" stroke="#888" stroke-width="0.5"/>
<text transform="translate(217.59,425.40) rotate(-90) scale(1.0,0.86)" font-size="5.15" font-weight="bold" fill="#111">rs167139</text>
<line x1="216.00" y1="404.08" x2="216.00" y2="401.08" stroke="#888" stroke-width="0.5"/>
<line x1="216.00" y1="401.08" x2="220.60" y2="388.00" stroke="#888" stroke-width="0.5"/>
<line x1="216.00" y1="428.50" x2="216.00" y2="431.00" stroke="#888" stroke-width="0.5"/>
<line x1="216.00" y1="431.00" x2="220.60" y2="437.50" stroke="#888" stroke-width="0.5"/>
<text transform="translate(228.79,425.40) rotate(-90) scale(1.0,0.86)" font-size="5.15" font-weight="bold" fill="#111">rs1513557</text>
<line x1="227.20" y1="401.36" x2="227.20" y2="398.36" stroke="#888" stroke-width="0.5"/>
<line x1="227.20" y1="398.36" x2="220.60" y2="388.00" stroke="#888" stroke-width="0.5"/>
<line x1="227.20" y1="428.50" x2="227.20" y2="431.00" stroke="#888" stroke-width="0.5"/>
<line x1="227.20" y1="431.00" x2="220.60" y2="437.50" stroke="#888" stroke-width="0.5"/>
<text transform="translate(242.89,425.40) rotate(-90) scale(1.0,0.86)" font-size="5.15" font-weight="bold" fill="#111">rs835319</text>
<line x1="241.30" y1="404.08" x2="241.30" y2="386.50" stroke="#888" stroke-width="0.5"/>
<line x1="241.30" y1="428.50" x2="241.30" y2="437.00" stroke="#888" stroke-width="0.5"/>
<text transform="translate(253.09,425.40) rotate(-90) scale(1.0,0.86)" font-size="5.15" font-weight="bold" fill="#111">rs6831537</text>
<line x1="251.50" y1="401.36" x2="251.50" y2="386.50" stroke="#888" stroke-width="0.5"/>
<line x1="251.50" y1="428.50" x2="251.50" y2="437.00" stroke="#888" stroke-width="0.5"/>
<text transform="translate(28.6,453.6) scale(1,1.2)" font-size="5.9" font-weight="bold" fill="#2a2a2a">Recombination Rate (cM/Mb)</text>
<text x="21.50" y="440.70" font-size="5.4" font-weight="bold" fill="#333" text-anchor="end">30</text>
<text x="21.50" y="449.30" font-size="5.4" font-weight="bold" fill="#333" text-anchor="end">15</text>
<text x="21.50" y="457.60" font-size="5.4" font-weight="bold" fill="#333" text-anchor="end">0</text>
<polyline points="22.20,441.00 24.80,441.00 24.80,458.00 22.20,458.00" fill="none" stroke="#222" stroke-width="0.9"/>
<line x1="22.20" y1="449.50" x2="24.80" y2="449.50" stroke="#222" stroke-width="0.9"/>
<text transform="translate(185.2,439.7) scale(1.2,1)" font-size="6.05" font-weight="bold" fill="#222" text-anchor="end">Chr. 4q13.2</text>
<polyline points="26.00,458.00 40.00,457.50 60.00,456.60 120.00,456.30 180.00,456.30 190.00,455.80 219.00,456.00 220.50,452.00 222.00,457.50 230.00,457.00 234.00,455.50 236.00,457.50 252.00,457.80" fill="none" stroke="#999" stroke-width="0.6"/>
<line x1="25.00" y1="458.60" x2="252.00" y2="458.60" stroke="#666" stroke-width="0.7"/>
<line x1="67.75" y1="196.35" x2="89.17" y2="176.00" stroke="#b8b8ea" stroke-width="0.5545115565285647" stroke-opacity="0.6867092126898251"/>
<line x1="166.11" y1="176.00" x2="207.95" y2="215.75" stroke="#c4c4ee" stroke-width="0.6216500128686143" stroke-opacity="0.7319198190395038"/>
<line x1="37.03" y1="189.81" x2="51.57" y2="176.00" stroke="#d6d6f6" stroke-width="0.5522854767833963" stroke-opacity="0.6105515463159048"/>
<line x1="92.73" y1="242.72" x2="162.96" y2="176.00" stroke="#d6d6f6" stroke-width="0.7942259658365909" stroke-opacity="0.7361354811210973"/>
<line x1="122.78" y1="220.76" x2="144.33" y2="241.23" stroke="#c4c4ee" stroke-width="0.7345675059696146" stroke-opacity="0.8459882594906364"/>
<line x1="53.49" y1="182.14" x2="112.47" y2="238.17" stroke="#c4c4ee" stroke-width="0.755042198989778" stroke-opacity="0.9993946880313613"/>
<line x1="226.22" y1="176.83" x2="236.87" y2="186.94" stroke="#d6d6f6" stroke-width="0.5983645842180509" stroke-opacity="0.930634202026041"/>
<line x1="240.98" y1="176.95" x2="244.55" y2="180.34" stroke="#b8b8ea" stroke-width="0.6948323156432512" stroke-opacity="0.8515040158455704"/>
<line x1="85.93" y1="224.40" x2="136.88" y2="176.00" stroke="#c4c4ee" stroke-width="0.7506913932345891" stroke-opacity="0.9847885219400834"/>
<line x1="106.40" y1="255.70" x2="123.79" y2="239.18" stroke="#c4c4ee" stroke-width="0.7420429659462848" stroke-opacity="0.6713325146542749"/>
<line x1="221.21" y1="178.49" x2="225.32" y2="182.40" stroke="#d6d6f6" stroke-width="0.6362181270341752" stroke-opacity="0.7278943046507348"/>
<line x1="40.34" y1="192.62" x2="42.43" y2="190.63" stroke="#c4c4ee" stroke-width="0.677359006427886" stroke-opacity="0.6361110325180266"/>
<line x1="99.90" y1="249.53" x2="171.55" y2="181.46" stroke="#b8b8ea" stroke-width="0.6305821349476349" stroke-opacity="0.7743568791929843"/>
<line x1="135.16" y1="211.24" x2="172.25" y2="176.00" stroke="#c4c4ee" stroke-width="0.7262433045911778" stroke-opacity="0.9224428866341239"/>
<line x1="100.73" y1="176.00" x2="175.26" y2="246.81" stroke="#d6d6f6" stroke-width="0.6922964414417699" stroke-opacity="0.8427149326794361"/>
<line x1="155.42" y1="239.86" x2="169.00" y2="252.76" stroke="#d6d6f6" stroke-width="0.6607360518271799" stroke-opacity="0.9751956549462878"/>
<line x1="63.99" y1="176.00" x2="156.90" y2="264.26" stroke="#d6d6f6" stroke-width="0.6987959287573263" stroke-opacity="0.6549396772150088"/>
<line x1="137.99" y1="176.00" x2="153.05" y2="190.30" stroke="#b8b8ea" stroke-width="0.7830792209104034" stroke-opacity="0.7664832018799195"/>
<line x1="161.78" y1="176.00" x2="170.82" y2="184.59" stroke="#b8b8ea" stroke-width="0.5305588734882805" stroke-opacity="0.8684927779013634"/>
<line x1="140.51" y1="229.72" x2="149.78" y2="220.92" stroke="#d6d6f6" stroke-width="0.6370607289489786" stroke-opacity="0.7135201026377662"/>
<line x1="26.79" y1="178.26" x2="29.17" y2="176.00" stroke="#c4c4ee" stroke-width="0.5570434730482763" stroke-opacity="0.6364236490720588"/>
<line x1="59.35" y1="211.01" x2="96.20" y2="176.00" stroke="#c4c4ee" stroke-width="0.6069859249754691" stroke-opacity="0.8383407258255746"/>
<line x1="208.72" y1="176.00" x2="221.24" y2="187.90" stroke="#b8b8ea" stroke-width="0.5009734202001022" stroke-opacity="0.800245494575881"/>
<line x1="167.70" y1="185.44" x2="201.92" y2="217.95" stroke="#d6d6f6" stroke-width="0.7032211740481891" stroke-opacity="0.7250136968914362"/>
<line x1="236.11" y1="176.00" x2="242.95" y2="182.51" stroke="#d6d6f6" stroke-width="0.6170784296291483" stroke-opacity="0.9879007929817045"/>
<line x1="99.25" y1="176.00" x2="105.94" y2="182.35" stroke="#b8b8ea" stroke-width="0.522731496010866" stroke-opacity="0.9734074743932278"/>
<line x1="37.78" y1="176.00" x2="143.79" y2="276.71" stroke="#c4c4ee" stroke-width="0.5228634330605717" stroke-opacity="0.6814783459312669"/>
<line x1="49.05" y1="201.22" x2="75.59" y2="176.00" stroke="#d6d6f6" stroke-width="0.6104322627776557" stroke-opacity="0.9181922411985732"/>
<line x1="122.52" y1="271.02" x2="138.96" y2="255.41" stroke="#d6d6f6" stroke-width="0.7334255975830295" stroke-opacity="0.6585841537142442"/>
<line x1="149.17" y1="182.89" x2="177.92" y2="210.20" stroke="#d6d6f6" stroke-width="0.5420401342831921" stroke-opacity="0.9879353362257702"/>
<line x1="112.41" y1="204.42" x2="112.78" y2="204.07" stroke="#d6d6f6" stroke-width="0.5724499630240184" stroke-opacity="0.6829698920264341"/>
<line x1="100.69" y1="176.00" x2="135.20" y2="208.79" stroke="#c4c4ee" stroke-width="0.5017590893176758" stroke-opacity="0.6101823287379008"/>
<line x1="210.71" y1="176.00" x2="230.25" y2="194.57" stroke="#b8b8ea" stroke-width="0.7798350062537538" stroke-opacity="0.8551365997843134"/>
<line x1="52.58" y1="199.17" x2="76.96" y2="176.00" stroke="#c4c4ee" stroke-width="0.7442830439740509" stroke-opacity="0.7689360156063175"/>
<line x1="102.59" y1="176.00" x2="131.32" y2="203.29" stroke="#d6d6f6" stroke-width="0.6900004522611128" stroke-opacity="0.700839293743341"/>
<line x1="135.60" y1="243.68" x2="152.35" y2="259.59" stroke="#b8b8ea" stroke-width="0.5367074642008087" stroke-opacity="0.7041771519880846"/>
<line x1="104.92" y1="176.00" x2="177.36" y2="244.82" stroke="#b8b8ea" stroke-width="0.5191450775396701" stroke-opacity="0.8095315226470639"/>
<line x1="123.51" y1="176.00" x2="186.66" y2="235.99" stroke="#c4c4ee" stroke-width="0.5653852353633875" stroke-opacity="0.828934401048273"/>
<line x1="222.92" y1="176.00" x2="230.79" y2="183.47" stroke="#d6d6f6" stroke-width="0.5328633421298858" stroke-opacity="0.9997617604848602"/>
<line x1="70.77" y1="184.89" x2="80.13" y2="176.00" stroke="#b8b8ea" stroke-width="0.6331812272703939" stroke-opacity="0.9844099157758615"/>
<line x1="40.32" y1="192.93" x2="58.14" y2="176.00" stroke="#c4c4ee" stroke-width="0.5371633446739328" stroke-opacity="0.8002328542202936"/>
<line x1="228.59" y1="176.00" x2="239.19" y2="186.08" stroke="#b8b8ea" stroke-width="0.7768729902772635" stroke-opacity="0.8327961250613412"/>
<line x1="105.50" y1="235.38" x2="152.50" y2="190.72" stroke="#bcbcec" stroke-width="1.0"/>
<line x1="129.00" y1="191.20" x2="181.40" y2="240.98" stroke="#bcbcec" stroke-width="1.0"/>
<line x1="161.00" y1="244.40" x2="198.50" y2="208.78" stroke="#bcbcec" stroke-width="1.0"/>
<line x1="88.50" y1="197.38" x2="157.90" y2="263.31" stroke="#c4c4ee" stroke-width="0.9"/>
<path fill="#e2e2f9" d="M41.9 192.0l1.20 1.14l-1.20 1.14l-1.20 -1.14zM43.2 190.8l1.20 1.14l-1.20 1.14l-1.20 -1.14zM44.5 189.6l1.20 1.14l-1.20 1.14l-1.20 -1.14zM158.1 260.7l1.20 1.14l-1.20 1.14l-1.20 -1.14zM160.7 258.3l1.20 1.14l-1.20 1.14l-1.20 -1.14zM163.3 255.8l1.20 1.14l-1.20 1.14l-1.20 -1.14zM164.6 254.6l1.20 1.14l-1.20 1.14l-1.20 -1.14zM165.9 253.4l1.20 1.14l-1.20 1.14l-1.20 -1.14zM167.1 252.2l1.20 1.14l-1.20 1.14l-1.20 -1.14zM120.7 200.6l1.20 1.14l-1.20 1.14l-1.20 -1.14zM121.9 199.4l1.20 1.14l-1.20 1.14l-1.20 -1.14zM123.2 198.2l1.20 1.14l-1.20 1.14l-1.20 -1.14zM124.5 196.9l1.20 1.14l-1.20 1.14l-1.20 -1.14zM125.8 195.7l1.20 1.14l-1.20 1.14l-1.20 -1.14zM127.1 194.5l1.20 1.14l-1.20 1.14l-1.20 -1.14zM128.4 193.3l1.20 1.14l-1.20 1.14l-1.20 -1.14zM129.7 192.0l1.20 1.14l-1.20 1.14l-1.20 -1.14zM131.0 190.8l1.20 1.14l-1.20 1.14l-1.20 -1.14zM204.6 211.7l1.20 1.14l-1.20 1.14l-1.20 -1.14zM187.8 227.6l1.20 1.14l-1.20 1.14l-1.20 -1.14zM109.0 196.9l1.20 1.14l-1.20 1.14l-1.20 -1.14zM52.2 196.9l1.20 1.14l-1.20 1.14l-1.20 -1.14zM152.9 199.4l1.20 1.14l-1.20 1.14l-1.20 -1.14zM199.4 201.9l1.20 1.14l-1.20 1.14l-1.20 -1.14zM127.1 246.0l1.20 1.14l-1.20 1.14l-1.20 -1.14zM58.7 190.8l1.20 1.14l-1.20 1.14l-1.20 -1.14zM159.4 185.9l1.20 1.14l-1.20 1.14l-1.20 -1.14z"/>
<path fill="#c4c4f0" d="M39.3 184.7l1.20 1.14l-1.20 1.14l-1.20 -1.14zM154.2 178.5l1.20 1.14l-1.20 1.14l-1.20 -1.14zM155.5 179.8l1.20 1.14l-1.20 1.14l-1.20 -1.14zM156.8 181.0l1.20 1.14l-1.20 1.14l-1.20 -1.14zM158.1 182.2l1.20 1.14l-1.20 1.14l-1.20 -1.14zM159.4 183.4l1.20 1.14l-1.20 1.14l-1.20 -1.14zM160.7 184.7l1.20 1.14l-1.20 1.14l-1.20 -1.14zM162.0 185.9l1.20 1.14l-1.20 1.14l-1.20 -1.14zM163.3 187.1l1.20 1.14l-1.20 1.14l-1.20 -1.14zM220.1 196.9l1.20 1.14l-1.20 1.14l-1.20 -1.14zM142.6 238.7l1.20 1.14l-1.20 1.14l-1.20 -1.14zM145.2 236.2l1.20 1.14l-1.20 1.14l-1.20 -1.14zM146.5 235.0l1.20 1.14l-1.20 1.14l-1.20 -1.14zM147.8 233.7l1.20 1.14l-1.20 1.14l-1.20 -1.14zM149.1 232.5l1.20 1.14l-1.20 1.14l-1.20 -1.14zM151.6 230.1l1.20 1.14l-1.20 1.14l-1.20 -1.14zM152.9 228.8l1.20 1.14l-1.20 1.14l-1.20 -1.14zM154.2 227.6l1.20 1.14l-1.20 1.14l-1.20 -1.14zM178.8 211.7l1.20 1.14l-1.20 1.14l-1.20 -1.14zM169.7 210.4l1.20 1.14l-1.20 1.14l-1.20 -1.14zM181.4 192.0l1.20 1.14l-1.20 1.14l-1.20 -1.14zM112.9 230.1l1.20 1.14l-1.20 1.14l-1.20 -1.14zM176.2 204.3l1.20 1.14l-1.20 1.14l-1.20 -1.14zM167.1 205.5l1.20 1.14l-1.20 1.14l-1.20 -1.14zM176.2 211.7l1.20 1.14l-1.20 1.14l-1.20 -1.14zM147.8 194.5l1.20 1.14l-1.20 1.14l-1.20 -1.14zM185.2 235.0l1.20 1.14l-1.20 1.14l-1.20 -1.14zM162.0 222.7l1.20 1.14l-1.20 1.14l-1.20 -1.14zM101.3 216.6l1.20 1.14l-1.20 1.14l-1.20 -1.14zM242.1 181.0l1.20 1.14l-1.20 1.14l-1.20 -1.14zM229.1 185.9l1.20 1.14l-1.20 1.14l-1.20 -1.14zM84.5 193.3l1.20 1.14l-1.20 1.14l-1.20 -1.14zM167.1 185.9l1.20 1.14l-1.20 1.14l-1.20 -1.14zM128.4 227.6l1.20 1.14l-1.20 1.14l-1.20 -1.14zM177.5 235.0l1.20 1.14l-1.20 1.14l-1.20 -1.14zM114.2 201.9l1.20 1.14l-1.20 1.14l-1.20 -1.14zM81.9 203.1l1.20 1.14l-1.20 1.14l-1.20 -1.14zM185.2 212.9l1.20 1.14l-1.20 1.14l-1.20 -1.14zM200.7 190.8l1.20 1.14l-1.20 1.14l-1.20 -1.14zM97.4 195.7l1.20 1.14l-1.20 1.14l-1.20 -1.14zM100.0 198.2l1.20 1.14l-1.20 1.14l-1.20 -1.14zM101.3 196.9l1.20 1.14l-1.20 1.14l-1.20 -1.14zM110.3 198.2l1.20 1.14l-1.20 1.14l-1.20 -1.14z"/>
<path fill="#a4a4e8" d="M213.6 203.1l1.20 1.14l-1.20 1.14l-1.20 -1.14zM125.8 244.8l1.20 1.14l-1.20 1.14l-1.20 -1.14zM185.2 205.5l1.20 1.14l-1.20 1.14l-1.20 -1.14zM156.8 220.3l1.20 1.14l-1.20 1.14l-1.20 -1.14zM106.4 243.6l1.20 1.14l-1.20 1.14l-1.20 -1.14zM186.5 204.3l1.20 1.14l-1.20 1.14l-1.20 -1.14zM204.6 187.1l1.20 1.14l-1.20 1.14l-1.20 -1.14zM138.7 247.2l1.20 1.14l-1.20 1.14l-1.20 -1.14zM114.2 206.8l1.20 1.14l-1.20 1.14l-1.20 -1.14zM208.5 210.4l1.20 1.14l-1.20 1.14l-1.20 -1.14zM75.5 199.4l1.20 1.14l-1.20 1.14l-1.20 -1.14zM133.6 262.0l1.20 1.14l-1.20 1.14l-1.20 -1.14zM98.7 219.0l1.20 1.14l-1.20 1.14l-1.20 -1.14zM145.2 211.7l1.20 1.14l-1.20 1.14l-1.20 -1.14zM173.6 184.7l1.20 1.14l-1.20 1.14l-1.20 -1.14zM168.4 226.4l1.20 1.14l-1.20 1.14l-1.20 -1.14zM93.5 228.8l1.20 1.14l-1.20 1.14l-1.20 -1.14zM151.6 212.9l1.20 1.14l-1.20 1.14l-1.20 -1.14zM160.7 179.8l1.20 1.14l-1.20 1.14l-1.20 -1.14zM90.9 194.5l1.20 1.14l-1.20 1.14l-1.20 -1.14zM106.4 246.0l1.20 1.14l-1.20 1.14l-1.20 -1.14zM111.6 248.5l1.20 1.14l-1.20 1.14l-1.20 -1.14zM131.0 203.1l1.20 1.14l-1.20 1.14l-1.20 -1.14zM159.4 232.5l1.20 1.14l-1.20 1.14l-1.20 -1.14zM231.7 188.4l1.20 1.14l-1.20 1.14l-1.20 -1.14zM160.7 246.0l1.20 1.14l-1.20 1.14l-1.20 -1.14zM174.9 215.3l1.20 1.14l-1.20 1.14l-1.20 -1.14zM111.6 246.0l1.20 1.14l-1.20 1.14l-1.20 -1.14zM227.8 189.6l1.20 1.14l-1.20 1.14l-1.20 -1.14zM107.7 220.3l1.20 1.14l-1.20 1.14l-1.20 -1.14zM137.4 194.5l1.20 1.14l-1.20 1.14l-1.20 -1.14zM141.3 212.9l1.20 1.14l-1.20 1.14l-1.20 -1.14zM123.2 208.0l1.20 1.14l-1.20 1.14l-1.20 -1.14zM189.1 194.5l1.20 1.14l-1.20 1.14l-1.20 -1.14zM183.9 211.7l1.20 1.14l-1.20 1.14l-1.20 -1.14zM87.1 235.0l1.20 1.14l-1.20 1.14l-1.20 -1.14zM142.6 204.3l1.20 1.14l-1.20 1.14l-1.20 -1.14zM62.5 196.9l1.20 1.14l-1.20 1.14l-1.20 -1.14zM66.4 198.2l1.20 1.14l-1.20 1.14l-1.20 -1.14zM70.3 201.9l1.20 1.14l-1.20 1.14l-1.20 -1.14zM71.6 203.1l1.20 1.14l-1.20 1.14l-1.20 -1.14zM63.8 193.3l1.20 1.14l-1.20 1.14l-1.20 -1.14zM67.7 196.9l1.20 1.14l-1.20 1.14l-1.20 -1.14zM65.1 192.0l1.20 1.14l-1.20 1.14l-1.20 -1.14zM66.4 193.3l1.20 1.14l-1.20 1.14l-1.20 -1.14zM71.6 198.2l1.20 1.14l-1.20 1.14l-1.20 -1.14zM72.9 196.9l1.20 1.14l-1.20 1.14l-1.20 -1.14zM74.2 193.3l1.20 1.14l-1.20 1.14l-1.20 -1.14zM76.7 195.7l1.20 1.14l-1.20 1.14l-1.20 -1.14zM78.0 196.9l1.20 1.14l-1.20 1.14l-1.20 -1.14zM70.3 199.4l1.20 1.14l-1.20 1.14l-1.20 -1.14zM78.0 201.9l1.20 1.14l-1.20 1.14l-1.20 -1.14zM78.0 199.4l1.20 1.14l-1.20 1.14l-1.20 -1.14zM80.6 199.4l1.20 1.14l-1.20 1.14l-1.20 -1.14zM81.9 200.6l1.20 1.14l-1.20 1.14l-1.20 -1.14zM100.0 210.4l1.20 1.14l-1.20 1.14l-1.20 -1.14zM96.1 204.3l1.20 1.14l-1.20 1.14l-1.20 -1.14zM97.4 205.5l1.20 1.14l-1.20 1.14l-1.20 -1.14zM98.7 204.3l1.20 1.14l-1.20 1.14l-1.20 -1.14zM103.9 209.2l1.20 1.14l-1.20 1.14l-1.20 -1.14zM102.6 205.5l1.20 1.14l-1.20 1.14l-1.20 -1.14zM105.2 208.0l1.20 1.14l-1.20 1.14l-1.20 -1.14zM103.9 204.3l1.20 1.14l-1.20 1.14l-1.20 -1.14z"/>
<path fill="#fbd0d3" d="M218.8 195.7l1.20 1.14l-1.20 1.14l-1.20 -1.14zM159.4 190.8l1.20 1.14l-1.20 1.14l-1.20 -1.14zM150.4 194.5l1.20 1.14l-1.20 1.14l-1.20 -1.14zM169.7 181.0l1.20 1.14l-1.20 1.14l-1.20 -1.14zM182.6 217.8l1.20 1.14l-1.20 1.14l-1.20 -1.14zM168.4 204.3l1.20 1.14l-1.20 1.14l-1.20 -1.14zM213.6 183.4l1.20 1.14l-1.20 1.14l-1.20 -1.14zM172.3 210.4l1.20 1.14l-1.20 1.14l-1.20 -1.14zM44.5 177.3l1.20 1.14l-1.20 1.14l-1.20 -1.14zM149.1 249.7l1.20 1.14l-1.20 1.14l-1.20 -1.14zM226.6 188.4l1.20 1.14l-1.20 1.14l-1.20 -1.14zM196.8 219.0l1.20 1.14l-1.20 1.14l-1.20 -1.14zM127.1 199.4l1.20 1.14l-1.20 1.14l-1.20 -1.14zM152.9 241.1l1.20 1.14l-1.20 1.14l-1.20 -1.14zM90.9 187.1l1.20 1.14l-1.20 1.14l-1.20 -1.14zM220.1 187.1l1.20 1.14l-1.20 1.14l-1.20 -1.14zM177.5 188.4l1.20 1.14l-1.20 1.14l-1.20 -1.14zM240.8 182.2l1.20 1.14l-1.20 1.14l-1.20 -1.14zM143.9 178.5l1.20 1.14l-1.20 1.14l-1.20 -1.14zM66.4 190.8l1.20 1.14l-1.20 1.14l-1.20 -1.14zM26.4 177.3l1.20 1.14l-1.20 1.14l-1.20 -1.14zM30.2 178.5l1.20 1.14l-1.20 1.14l-1.20 -1.14zM43.2 178.5l1.20 1.14l-1.20 1.14l-1.20 -1.14zM58.7 176.1l1.20 1.14l-1.20 1.14l-1.20 -1.14zM72.9 177.3l1.20 1.14l-1.20 1.14l-1.20 -1.14zM60.0 182.2l1.20 1.14l-1.20 1.14l-1.20 -1.14zM124.5 177.3l1.20 1.14l-1.20 1.14l-1.20 -1.14zM145.2 177.3l1.20 1.14l-1.20 1.14l-1.20 -1.14zM169.7 178.5l1.20 1.14l-1.20 1.14l-1.20 -1.14zM174.9 178.5l1.20 1.14l-1.20 1.14l-1.20 -1.14zM209.8 177.3l1.20 1.14l-1.20 1.14l-1.20 -1.14zM211.1 188.4l1.20 1.14l-1.20 1.14l-1.20 -1.14zM212.3 189.6l1.20 1.14l-1.20 1.14l-1.20 -1.14zM218.8 193.3l1.20 1.14l-1.20 1.14l-1.20 -1.14zM221.4 195.7l1.20 1.14l-1.20 1.14l-1.20 -1.14zM214.9 187.1l1.20 1.14l-1.20 1.14l-1.20 -1.14zM216.2 188.4l1.20 1.14l-1.20 1.14l-1.20 -1.14zM217.5 189.6l1.20 1.14l-1.20 1.14l-1.20 -1.14zM218.8 190.8l1.20 1.14l-1.20 1.14l-1.20 -1.14zM222.7 194.5l1.20 1.14l-1.20 1.14l-1.20 -1.14zM224.0 195.7l1.20 1.14l-1.20 1.14l-1.20 -1.14zM216.2 185.9l1.20 1.14l-1.20 1.14l-1.20 -1.14zM217.5 187.1l1.20 1.14l-1.20 1.14l-1.20 -1.14zM221.4 190.8l1.20 1.14l-1.20 1.14l-1.20 -1.14zM224.0 193.3l1.20 1.14l-1.20 1.14l-1.20 -1.14zM225.3 194.5l1.20 1.14l-1.20 1.14l-1.20 -1.14zM225.3 192.0l1.20 1.14l-1.20 1.14l-1.20 -1.14zM231.7 183.4l1.20 1.14l-1.20 1.14l-1.20 -1.14zM235.6 187.1l1.20 1.14l-1.20 1.14l-1.20 -1.14zM230.4 179.8l1.20 1.14l-1.20 1.14l-1.20 -1.14zM231.7 181.0l1.20 1.14l-1.20 1.14l-1.20 -1.14zM238.2 184.7l1.20 1.14l-1.20 1.14l-1.20 -1.14zM239.5 178.5l1.20 1.14l-1.20 1.14l-1.20 -1.14zM242.1 178.5l1.20 1.14l-1.20 1.14l-1.20 -1.14zM41.9 184.7l1.20 1.14l-1.20 1.14l-1.20 -1.14zM43.2 183.4l1.20 1.14l-1.20 1.14l-1.20 -1.14zM45.7 181.0l1.20 1.14l-1.20 1.14l-1.20 -1.14zM47.0 179.8l1.20 1.14l-1.20 1.14l-1.20 -1.14zM48.3 178.5l1.20 1.14l-1.20 1.14l-1.20 -1.14zM49.6 177.3l1.20 1.14l-1.20 1.14l-1.20 -1.14zM72.9 179.8l1.20 1.14l-1.20 1.14l-1.20 -1.14zM74.2 178.5l1.20 1.14l-1.20 1.14l-1.20 -1.14zM75.5 177.3l1.20 1.14l-1.20 1.14l-1.20 -1.14zM90.9 177.3l1.20 1.14l-1.20 1.14l-1.20 -1.14zM93.5 179.8l1.20 1.14l-1.20 1.14l-1.20 -1.14zM85.8 177.3l1.20 1.14l-1.20 1.14l-1.20 -1.14zM66.4 181.0l1.20 1.14l-1.20 1.14l-1.20 -1.14zM67.7 179.8l1.20 1.14l-1.20 1.14l-1.20 -1.14zM69.0 178.5l1.20 1.14l-1.20 1.14l-1.20 -1.14zM45.7 185.9l1.20 1.14l-1.20 1.14l-1.20 -1.14zM47.0 184.7l1.20 1.14l-1.20 1.14l-1.20 -1.14zM48.3 183.4l1.20 1.14l-1.20 1.14l-1.20 -1.14zM80.6 182.2l1.20 1.14l-1.20 1.14l-1.20 -1.14zM207.2 177.3l1.20 1.14l-1.20 1.14l-1.20 -1.14zM70.3 192.0l1.20 1.14l-1.20 1.14l-1.20 -1.14zM52.2 177.3l1.20 1.14l-1.20 1.14l-1.20 -1.14zM56.1 181.0l1.20 1.14l-1.20 1.14l-1.20 -1.14zM60.0 184.7l1.20 1.14l-1.20 1.14l-1.20 -1.14zM57.4 179.8l1.20 1.14l-1.20 1.14l-1.20 -1.14zM58.7 181.0l1.20 1.14l-1.20 1.14l-1.20 -1.14zM61.2 183.4l1.20 1.14l-1.20 1.14l-1.20 -1.14zM63.8 185.9l1.20 1.14l-1.20 1.14l-1.20 -1.14zM67.7 189.6l1.20 1.14l-1.20 1.14l-1.20 -1.14zM67.7 187.1l1.20 1.14l-1.20 1.14l-1.20 -1.14zM69.0 188.4l1.20 1.14l-1.20 1.14l-1.20 -1.14zM71.6 190.8l1.20 1.14l-1.20 1.14l-1.20 -1.14zM63.8 181.0l1.20 1.14l-1.20 1.14l-1.20 -1.14zM69.0 185.9l1.20 1.14l-1.20 1.14l-1.20 -1.14zM72.9 187.1l1.20 1.14l-1.20 1.14l-1.20 -1.14zM65.1 177.3l1.20 1.14l-1.20 1.14l-1.20 -1.14zM66.4 178.5l1.20 1.14l-1.20 1.14l-1.20 -1.14zM70.3 182.2l1.20 1.14l-1.20 1.14l-1.20 -1.14zM75.5 187.1l1.20 1.14l-1.20 1.14l-1.20 -1.14zM71.6 181.0l1.20 1.14l-1.20 1.14l-1.20 -1.14zM75.5 182.2l1.20 1.14l-1.20 1.14l-1.20 -1.14zM78.0 184.7l1.20 1.14l-1.20 1.14l-1.20 -1.14zM75.5 179.8l1.20 1.14l-1.20 1.14l-1.20 -1.14zM78.0 179.8l1.20 1.14l-1.20 1.14l-1.20 -1.14zM76.7 178.5l1.20 1.14l-1.20 1.14l-1.20 -1.14zM160.7 177.3l1.20 1.14l-1.20 1.14l-1.20 -1.14zM222.7 177.3l1.20 1.14l-1.20 1.14l-1.20 -1.14zM164.6 178.5l1.20 1.14l-1.20 1.14l-1.20 -1.14z"/>
<path fill="#f7a6ab" d="M40.6 183.4l1.20 1.14l-1.20 1.14l-1.20 -1.14zM41.9 182.2l1.20 1.14l-1.20 1.14l-1.20 -1.14zM151.6 176.1l1.20 1.14l-1.20 1.14l-1.20 -1.14zM123.2 190.8l1.20 1.14l-1.20 1.14l-1.20 -1.14zM103.9 184.7l1.20 1.14l-1.20 1.14l-1.20 -1.14zM198.1 176.1l1.20 1.14l-1.20 1.14l-1.20 -1.14zM50.9 181.0l1.20 1.14l-1.20 1.14l-1.20 -1.14zM109.0 179.8l1.20 1.14l-1.20 1.14l-1.20 -1.14zM229.1 178.5l1.20 1.14l-1.20 1.14l-1.20 -1.14zM114.2 179.8l1.20 1.14l-1.20 1.14l-1.20 -1.14zM45.7 183.4l1.20 1.14l-1.20 1.14l-1.20 -1.14zM133.6 178.5l1.20 1.14l-1.20 1.14l-1.20 -1.14zM158.1 189.6l1.20 1.14l-1.20 1.14l-1.20 -1.14zM220.1 182.2l1.20 1.14l-1.20 1.14l-1.20 -1.14zM109.0 189.6l1.20 1.14l-1.20 1.14l-1.20 -1.14zM226.6 176.1l1.20 1.14l-1.20 1.14l-1.20 -1.14zM146.5 188.4l1.20 1.14l-1.20 1.14l-1.20 -1.14zM90.9 189.6l1.20 1.14l-1.20 1.14l-1.20 -1.14zM118.1 178.5l1.20 1.14l-1.20 1.14l-1.20 -1.14zM25.1 176.1l1.20 1.14l-1.20 1.14l-1.20 -1.14zM27.7 178.5l1.20 1.14l-1.20 1.14l-1.20 -1.14zM34.1 184.7l1.20 1.14l-1.20 1.14l-1.20 -1.14zM35.4 183.4l1.20 1.14l-1.20 1.14l-1.20 -1.14zM36.7 182.2l1.20 1.14l-1.20 1.14l-1.20 -1.14zM32.8 176.1l1.20 1.14l-1.20 1.14l-1.20 -1.14zM34.1 177.3l1.20 1.14l-1.20 1.14l-1.20 -1.14zM35.4 178.5l1.20 1.14l-1.20 1.14l-1.20 -1.14zM38.0 181.0l1.20 1.14l-1.20 1.14l-1.20 -1.14zM39.3 179.8l1.20 1.14l-1.20 1.14l-1.20 -1.14zM43.2 181.0l1.20 1.14l-1.20 1.14l-1.20 -1.14zM57.4 177.3l1.20 1.14l-1.20 1.14l-1.20 -1.14zM58.7 178.5l1.20 1.14l-1.20 1.14l-1.20 -1.14zM60.0 177.3l1.20 1.14l-1.20 1.14l-1.20 -1.14zM61.2 176.1l1.20 1.14l-1.20 1.14l-1.20 -1.14zM66.4 176.1l1.20 1.14l-1.20 1.14l-1.20 -1.14zM74.2 176.1l1.20 1.14l-1.20 1.14l-1.20 -1.14zM89.7 188.4l1.20 1.14l-1.20 1.14l-1.20 -1.14zM97.4 176.1l1.20 1.14l-1.20 1.14l-1.20 -1.14zM101.3 177.3l1.20 1.14l-1.20 1.14l-1.20 -1.14zM102.6 176.1l1.20 1.14l-1.20 1.14l-1.20 -1.14zM106.4 177.3l1.20 1.14l-1.20 1.14l-1.20 -1.14zM110.3 181.0l1.20 1.14l-1.20 1.14l-1.20 -1.14zM112.9 183.4l1.20 1.14l-1.20 1.14l-1.20 -1.14zM115.5 185.9l1.20 1.14l-1.20 1.14l-1.20 -1.14zM119.4 189.6l1.20 1.14l-1.20 1.14l-1.20 -1.14zM120.7 190.8l1.20 1.14l-1.20 1.14l-1.20 -1.14zM121.9 192.0l1.20 1.14l-1.20 1.14l-1.20 -1.14zM112.9 181.0l1.20 1.14l-1.20 1.14l-1.20 -1.14zM115.5 183.4l1.20 1.14l-1.20 1.14l-1.20 -1.14zM116.8 184.7l1.20 1.14l-1.20 1.14l-1.20 -1.14zM118.1 185.9l1.20 1.14l-1.20 1.14l-1.20 -1.14zM119.4 187.1l1.20 1.14l-1.20 1.14l-1.20 -1.14zM112.9 178.5l1.20 1.14l-1.20 1.14l-1.20 -1.14zM115.5 181.0l1.20 1.14l-1.20 1.14l-1.20 -1.14zM118.1 183.4l1.20 1.14l-1.20 1.14l-1.20 -1.14zM120.7 185.9l1.20 1.14l-1.20 1.14l-1.20 -1.14zM121.9 187.1l1.20 1.14l-1.20 1.14l-1.20 -1.14zM123.2 188.4l1.20 1.14l-1.20 1.14l-1.20 -1.14zM124.5 189.6l1.20 1.14l-1.20 1.14l-1.20 -1.14zM115.5 178.5l1.20 1.14l-1.20 1.14l-1.20 -1.14zM115.5 176.1l1.20 1.14l-1.20 1.14l-1.20 -1.14zM127.1 184.7l1.20 1.14l-1.20 1.14l-1.20 -1.14zM129.7 182.2l1.20 1.14l-1.20 1.14l-1.20 -1.14zM127.1 177.3l1.20 1.14l-1.20 1.14l-1.20 -1.14zM136.1 176.1l1.20 1.14l-1.20 1.14l-1.20 -1.14zM138.7 176.1l1.20 1.14l-1.20 1.14l-1.20 -1.14zM146.5 176.1l1.20 1.14l-1.20 1.14l-1.20 -1.14zM158.1 177.3l1.20 1.14l-1.20 1.14l-1.20 -1.14zM159.4 176.1l1.20 1.14l-1.20 1.14l-1.20 -1.14zM167.1 176.1l1.20 1.14l-1.20 1.14l-1.20 -1.14zM173.6 177.3l1.20 1.14l-1.20 1.14l-1.20 -1.14zM180.1 183.4l1.20 1.14l-1.20 1.14l-1.20 -1.14zM177.5 176.1l1.20 1.14l-1.20 1.14l-1.20 -1.14zM178.8 177.3l1.20 1.14l-1.20 1.14l-1.20 -1.14zM180.1 178.5l1.20 1.14l-1.20 1.14l-1.20 -1.14zM181.4 177.3l1.20 1.14l-1.20 1.14l-1.20 -1.14zM185.2 176.1l1.20 1.14l-1.20 1.14l-1.20 -1.14zM191.7 177.3l1.20 1.14l-1.20 1.14l-1.20 -1.14zM193.0 176.1l1.20 1.14l-1.20 1.14l-1.20 -1.14zM187.8 176.1l1.20 1.14l-1.20 1.14l-1.20 -1.14zM196.8 177.3l1.20 1.14l-1.20 1.14l-1.20 -1.14zM205.9 176.1l1.20 1.14l-1.20 1.14l-1.20 -1.14zM236.9 183.4l1.20 1.14l-1.20 1.14l-1.20 -1.14zM239.5 181.0l1.20 1.14l-1.20 1.14l-1.20 -1.14zM238.2 177.3l1.20 1.14l-1.20 1.14l-1.20 -1.14zM240.8 179.8l1.20 1.14l-1.20 1.14l-1.20 -1.14zM88.4 179.8l1.20 1.14l-1.20 1.14l-1.20 -1.14zM106.4 182.2l1.20 1.14l-1.20 1.14l-1.20 -1.14zM94.8 181.0l1.20 1.14l-1.20 1.14l-1.20 -1.14zM89.7 185.9l1.20 1.14l-1.20 1.14l-1.20 -1.14zM92.2 183.4l1.20 1.14l-1.20 1.14l-1.20 -1.14zM93.5 182.2l1.20 1.14l-1.20 1.14l-1.20 -1.14zM96.1 179.8l1.20 1.14l-1.20 1.14l-1.20 -1.14zM97.4 178.5l1.20 1.14l-1.20 1.14l-1.20 -1.14zM156.8 176.1l1.20 1.14l-1.20 1.14l-1.20 -1.14zM159.4 178.5l1.20 1.14l-1.20 1.14l-1.20 -1.14zM120.7 183.4l1.20 1.14l-1.20 1.14l-1.20 -1.14zM129.7 177.3l1.20 1.14l-1.20 1.14l-1.20 -1.14zM110.3 185.9l1.20 1.14l-1.20 1.14l-1.20 -1.14zM115.5 190.8l1.20 1.14l-1.20 1.14l-1.20 -1.14zM48.3 176.1l1.20 1.14l-1.20 1.14l-1.20 -1.14zM56.1 178.5l1.20 1.14l-1.20 1.14l-1.20 -1.14zM45.7 178.5l1.20 1.14l-1.20 1.14l-1.20 -1.14zM87.1 178.5l1.20 1.14l-1.20 1.14l-1.20 -1.14zM49.6 182.2l1.20 1.14l-1.20 1.14l-1.20 -1.14zM52.2 179.8l1.20 1.14l-1.20 1.14l-1.20 -1.14zM53.5 178.5l1.20 1.14l-1.20 1.14l-1.20 -1.14zM84.5 178.5l1.20 1.14l-1.20 1.14l-1.20 -1.14zM47.0 177.3l1.20 1.14l-1.20 1.14l-1.20 -1.14zM243.3 177.3l1.20 1.14l-1.20 1.14l-1.20 -1.14zM60.0 179.8l1.20 1.14l-1.20 1.14l-1.20 -1.14zM62.5 182.2l1.20 1.14l-1.20 1.14l-1.20 -1.14zM63.8 183.4l1.20 1.14l-1.20 1.14l-1.20 -1.14zM76.7 176.1l1.20 1.14l-1.20 1.14l-1.20 -1.14zM102.6 188.4l1.20 1.14l-1.20 1.14l-1.20 -1.14zM106.4 192.0l1.20 1.14l-1.20 1.14l-1.20 -1.14zM107.7 193.3l1.20 1.14l-1.20 1.14l-1.20 -1.14zM109.0 194.5l1.20 1.14l-1.20 1.14l-1.20 -1.14zM109.0 192.0l1.20 1.14l-1.20 1.14l-1.20 -1.14zM111.6 194.5l1.20 1.14l-1.20 1.14l-1.20 -1.14zM114.2 196.9l1.20 1.14l-1.20 1.14l-1.20 -1.14zM115.5 198.2l1.20 1.14l-1.20 1.14l-1.20 -1.14zM107.7 188.4l1.20 1.14l-1.20 1.14l-1.20 -1.14zM110.3 190.8l1.20 1.14l-1.20 1.14l-1.20 -1.14zM111.6 192.0l1.20 1.14l-1.20 1.14l-1.20 -1.14zM116.8 196.9l1.20 1.14l-1.20 1.14l-1.20 -1.14zM109.0 187.1l1.20 1.14l-1.20 1.14l-1.20 -1.14zM111.6 189.6l1.20 1.14l-1.20 1.14l-1.20 -1.14zM115.5 193.3l1.20 1.14l-1.20 1.14l-1.20 -1.14zM118.1 193.3l1.20 1.14l-1.20 1.14l-1.20 -1.14zM110.3 183.4l1.20 1.14l-1.20 1.14l-1.20 -1.14zM111.6 184.7l1.20 1.14l-1.20 1.14l-1.20 -1.14zM119.4 192.0l1.20 1.14l-1.20 1.14l-1.20 -1.14zM116.8 187.1l1.20 1.14l-1.20 1.14l-1.20 -1.14zM119.4 184.7l1.20 1.14l-1.20 1.14l-1.20 -1.14zM61.2 181.0l1.20 1.14l-1.20 1.14l-1.20 -1.14zM54.8 177.3l1.20 1.14l-1.20 1.14l-1.20 -1.14zM149.1 176.1l1.20 1.14l-1.20 1.14l-1.20 -1.14zM162.0 176.1l1.20 1.14l-1.20 1.14l-1.20 -1.14zM231.7 176.1l1.20 1.14l-1.20 1.14l-1.20 -1.14zM236.9 176.1l1.20 1.14l-1.20 1.14l-1.20 -1.14zM134.9 177.3l1.20 1.14l-1.20 1.14l-1.20 -1.14z"/>
<path fill="#f2545a" d="M244.6 178.5l1.20 1.14l-1.20 1.14l-1.20 -1.14zM227.8 179.8l1.20 1.14l-1.20 1.14l-1.20 -1.14zM245.9 177.3l1.20 1.14l-1.20 1.14l-1.20 -1.14zM120.7 181.0l1.20 1.14l-1.20 1.14l-1.20 -1.14zM186.5 182.2l1.20 1.14l-1.20 1.14l-1.20 -1.14zM145.2 184.7l1.20 1.14l-1.20 1.14l-1.20 -1.14zM183.9 192.0l1.20 1.14l-1.20 1.14l-1.20 -1.14zM244.6 176.1l1.20 1.14l-1.20 1.14l-1.20 -1.14zM225.3 177.3l1.20 1.14l-1.20 1.14l-1.20 -1.14zM226.6 181.0l1.20 1.14l-1.20 1.14l-1.20 -1.14zM234.3 178.5l1.20 1.14l-1.20 1.14l-1.20 -1.14zM191.7 184.7l1.20 1.14l-1.20 1.14l-1.20 -1.14zM183.9 179.8l1.20 1.14l-1.20 1.14l-1.20 -1.14zM81.9 176.1l1.20 1.14l-1.20 1.14l-1.20 -1.14zM218.8 181.0l1.20 1.14l-1.20 1.14l-1.20 -1.14zM181.4 189.6l1.20 1.14l-1.20 1.14l-1.20 -1.14zM154.2 176.1l1.20 1.14l-1.20 1.14l-1.20 -1.14zM147.8 187.1l1.20 1.14l-1.20 1.14l-1.20 -1.14zM171.0 179.8l1.20 1.14l-1.20 1.14l-1.20 -1.14zM143.9 183.4l1.20 1.14l-1.20 1.14l-1.20 -1.14zM239.5 176.1l1.20 1.14l-1.20 1.14l-1.20 -1.14zM40.6 176.1l1.20 1.14l-1.20 1.14l-1.20 -1.14zM67.7 177.3l1.20 1.14l-1.20 1.14l-1.20 -1.14zM70.3 179.8l1.20 1.14l-1.20 1.14l-1.20 -1.14zM70.3 177.3l1.20 1.14l-1.20 1.14l-1.20 -1.14zM71.6 178.5l1.20 1.14l-1.20 1.14l-1.20 -1.14zM78.0 177.3l1.20 1.14l-1.20 1.14l-1.20 -1.14zM79.3 176.1l1.20 1.14l-1.20 1.14l-1.20 -1.14zM83.2 182.2l1.20 1.14l-1.20 1.14l-1.20 -1.14zM84.5 183.4l1.20 1.14l-1.20 1.14l-1.20 -1.14zM85.8 184.7l1.20 1.14l-1.20 1.14l-1.20 -1.14zM88.4 187.1l1.20 1.14l-1.20 1.14l-1.20 -1.14zM58.7 183.4l1.20 1.14l-1.20 1.14l-1.20 -1.14zM100.0 176.1l1.20 1.14l-1.20 1.14l-1.20 -1.14zM102.6 178.5l1.20 1.14l-1.20 1.14l-1.20 -1.14zM103.9 179.8l1.20 1.14l-1.20 1.14l-1.20 -1.14zM105.2 178.5l1.20 1.14l-1.20 1.14l-1.20 -1.14zM116.8 177.3l1.20 1.14l-1.20 1.14l-1.20 -1.14zM121.9 182.2l1.20 1.14l-1.20 1.14l-1.20 -1.14zM125.8 178.5l1.20 1.14l-1.20 1.14l-1.20 -1.14zM138.7 178.5l1.20 1.14l-1.20 1.14l-1.20 -1.14zM140.0 179.8l1.20 1.14l-1.20 1.14l-1.20 -1.14zM141.3 181.0l1.20 1.14l-1.20 1.14l-1.20 -1.14zM142.6 182.2l1.20 1.14l-1.20 1.14l-1.20 -1.14zM149.1 178.5l1.20 1.14l-1.20 1.14l-1.20 -1.14zM150.4 179.8l1.20 1.14l-1.20 1.14l-1.20 -1.14zM168.4 177.3l1.20 1.14l-1.20 1.14l-1.20 -1.14zM172.3 181.0l1.20 1.14l-1.20 1.14l-1.20 -1.14zM173.6 182.2l1.20 1.14l-1.20 1.14l-1.20 -1.14zM174.9 183.4l1.20 1.14l-1.20 1.14l-1.20 -1.14zM176.2 184.7l1.20 1.14l-1.20 1.14l-1.20 -1.14zM177.5 185.9l1.20 1.14l-1.20 1.14l-1.20 -1.14zM178.8 187.1l1.20 1.14l-1.20 1.14l-1.20 -1.14zM180.1 188.4l1.20 1.14l-1.20 1.14l-1.20 -1.14zM182.6 190.8l1.20 1.14l-1.20 1.14l-1.20 -1.14zM185.2 193.3l1.20 1.14l-1.20 1.14l-1.20 -1.14zM186.5 194.5l1.20 1.14l-1.20 1.14l-1.20 -1.14zM169.7 176.1l1.20 1.14l-1.20 1.14l-1.20 -1.14zM171.0 177.3l1.20 1.14l-1.20 1.14l-1.20 -1.14zM182.6 178.5l1.20 1.14l-1.20 1.14l-1.20 -1.14zM185.2 181.0l1.20 1.14l-1.20 1.14l-1.20 -1.14zM182.6 176.1l1.20 1.14l-1.20 1.14l-1.20 -1.14zM183.9 177.3l1.20 1.14l-1.20 1.14l-1.20 -1.14zM187.8 181.0l1.20 1.14l-1.20 1.14l-1.20 -1.14zM187.8 195.7l1.20 1.14l-1.20 1.14l-1.20 -1.14zM189.1 196.9l1.20 1.14l-1.20 1.14l-1.20 -1.14zM187.8 183.4l1.20 1.14l-1.20 1.14l-1.20 -1.14zM189.1 184.7l1.20 1.14l-1.20 1.14l-1.20 -1.14zM190.4 185.9l1.20 1.14l-1.20 1.14l-1.20 -1.14zM186.5 179.8l1.20 1.14l-1.20 1.14l-1.20 -1.14zM189.1 182.2l1.20 1.14l-1.20 1.14l-1.20 -1.14zM193.0 185.9l1.20 1.14l-1.20 1.14l-1.20 -1.14zM194.3 187.1l1.20 1.14l-1.20 1.14l-1.20 -1.14zM195.6 188.4l1.20 1.14l-1.20 1.14l-1.20 -1.14zM198.1 190.8l1.20 1.14l-1.20 1.14l-1.20 -1.14zM199.4 192.0l1.20 1.14l-1.20 1.14l-1.20 -1.14zM193.0 178.5l1.20 1.14l-1.20 1.14l-1.20 -1.14zM194.3 179.8l1.20 1.14l-1.20 1.14l-1.20 -1.14zM195.6 181.0l1.20 1.14l-1.20 1.14l-1.20 -1.14zM196.8 182.2l1.20 1.14l-1.20 1.14l-1.20 -1.14zM198.1 183.4l1.20 1.14l-1.20 1.14l-1.20 -1.14zM202.0 187.1l1.20 1.14l-1.20 1.14l-1.20 -1.14zM194.3 177.3l1.20 1.14l-1.20 1.14l-1.20 -1.14zM195.6 176.1l1.20 1.14l-1.20 1.14l-1.20 -1.14zM204.6 177.3l1.20 1.14l-1.20 1.14l-1.20 -1.14zM205.9 178.5l1.20 1.14l-1.20 1.14l-1.20 -1.14zM209.8 179.8l1.20 1.14l-1.20 1.14l-1.20 -1.14zM216.2 176.1l1.20 1.14l-1.20 1.14l-1.20 -1.14zM218.8 176.1l1.20 1.14l-1.20 1.14l-1.20 -1.14zM226.6 178.5l1.20 1.14l-1.20 1.14l-1.20 -1.14zM230.4 182.2l1.20 1.14l-1.20 1.14l-1.20 -1.14zM233.0 177.3l1.20 1.14l-1.20 1.14l-1.20 -1.14zM243.3 179.8l1.20 1.14l-1.20 1.14l-1.20 -1.14zM79.3 188.4l1.20 1.14l-1.20 1.14l-1.20 -1.14zM80.6 187.1l1.20 1.14l-1.20 1.14l-1.20 -1.14zM81.9 185.9l1.20 1.14l-1.20 1.14l-1.20 -1.14zM83.2 184.7l1.20 1.14l-1.20 1.14l-1.20 -1.14zM85.8 182.2l1.20 1.14l-1.20 1.14l-1.20 -1.14zM89.7 178.5l1.20 1.14l-1.20 1.14l-1.20 -1.14zM151.6 181.0l1.20 1.14l-1.20 1.14l-1.20 -1.14zM92.2 178.5l1.20 1.14l-1.20 1.14l-1.20 -1.14zM96.1 182.2l1.20 1.14l-1.20 1.14l-1.20 -1.14zM97.4 183.4l1.20 1.14l-1.20 1.14l-1.20 -1.14zM98.7 184.7l1.20 1.14l-1.20 1.14l-1.20 -1.14zM105.2 181.0l1.20 1.14l-1.20 1.14l-1.20 -1.14zM152.9 182.2l1.20 1.14l-1.20 1.14l-1.20 -1.14zM154.2 183.4l1.20 1.14l-1.20 1.14l-1.20 -1.14zM106.4 179.8l1.20 1.14l-1.20 1.14l-1.20 -1.14zM155.5 184.7l1.20 1.14l-1.20 1.14l-1.20 -1.14zM156.8 185.9l1.20 1.14l-1.20 1.14l-1.20 -1.14zM158.1 187.1l1.20 1.14l-1.20 1.14l-1.20 -1.14zM146.5 185.9l1.20 1.14l-1.20 1.14l-1.20 -1.14zM149.1 188.4l1.20 1.14l-1.20 1.14l-1.20 -1.14zM150.4 189.6l1.20 1.14l-1.20 1.14l-1.20 -1.14zM152.9 192.0l1.20 1.14l-1.20 1.14l-1.20 -1.14zM154.2 193.3l1.20 1.14l-1.20 1.14l-1.20 -1.14zM155.5 194.5l1.20 1.14l-1.20 1.14l-1.20 -1.14zM109.0 184.7l1.20 1.14l-1.20 1.14l-1.20 -1.14zM111.6 187.1l1.20 1.14l-1.20 1.14l-1.20 -1.14zM112.9 188.4l1.20 1.14l-1.20 1.14l-1.20 -1.14zM54.8 179.8l1.20 1.14l-1.20 1.14l-1.20 -1.14zM79.3 183.4l1.20 1.14l-1.20 1.14l-1.20 -1.14zM81.9 181.0l1.20 1.14l-1.20 1.14l-1.20 -1.14zM225.3 179.8l1.20 1.14l-1.20 1.14l-1.20 -1.14zM227.8 182.2l1.20 1.14l-1.20 1.14l-1.20 -1.14zM229.1 183.4l1.20 1.14l-1.20 1.14l-1.20 -1.14zM230.4 184.7l1.20 1.14l-1.20 1.14l-1.20 -1.14zM222.7 182.2l1.20 1.14l-1.20 1.14l-1.20 -1.14zM211.1 181.0l1.20 1.14l-1.20 1.14l-1.20 -1.14zM221.4 178.5l1.20 1.14l-1.20 1.14l-1.20 -1.14zM222.7 179.8l1.20 1.14l-1.20 1.14l-1.20 -1.14zM224.0 181.0l1.20 1.14l-1.20 1.14l-1.20 -1.14zM225.3 182.2l1.20 1.14l-1.20 1.14l-1.20 -1.14zM226.6 183.4l1.20 1.14l-1.20 1.14l-1.20 -1.14zM227.8 184.7l1.20 1.14l-1.20 1.14l-1.20 -1.14zM220.1 184.7l1.20 1.14l-1.20 1.14l-1.20 -1.14zM221.4 183.4l1.20 1.14l-1.20 1.14l-1.20 -1.14zM229.1 181.0l1.20 1.14l-1.20 1.14l-1.20 -1.14zM50.9 176.1l1.20 1.14l-1.20 1.14l-1.20 -1.14zM57.4 182.2l1.20 1.14l-1.20 1.14l-1.20 -1.14zM61.2 185.9l1.20 1.14l-1.20 1.14l-1.20 -1.14zM62.5 187.1l1.20 1.14l-1.20 1.14l-1.20 -1.14zM63.8 188.4l1.20 1.14l-1.20 1.14l-1.20 -1.14zM65.1 189.6l1.20 1.14l-1.20 1.14l-1.20 -1.14zM67.7 192.0l1.20 1.14l-1.20 1.14l-1.20 -1.14zM65.1 187.1l1.20 1.14l-1.20 1.14l-1.20 -1.14zM66.4 188.4l1.20 1.14l-1.20 1.14l-1.20 -1.14zM65.1 184.7l1.20 1.14l-1.20 1.14l-1.20 -1.14zM66.4 185.9l1.20 1.14l-1.20 1.14l-1.20 -1.14zM70.3 189.6l1.20 1.14l-1.20 1.14l-1.20 -1.14zM66.4 183.4l1.20 1.14l-1.20 1.14l-1.20 -1.14zM67.7 184.7l1.20 1.14l-1.20 1.14l-1.20 -1.14zM72.9 189.6l1.20 1.14l-1.20 1.14l-1.20 -1.14zM62.5 177.3l1.20 1.14l-1.20 1.14l-1.20 -1.14zM65.1 179.8l1.20 1.14l-1.20 1.14l-1.20 -1.14zM67.7 182.2l1.20 1.14l-1.20 1.14l-1.20 -1.14zM69.0 183.4l1.20 1.14l-1.20 1.14l-1.20 -1.14zM63.8 176.1l1.20 1.14l-1.20 1.14l-1.20 -1.14zM69.0 181.0l1.20 1.14l-1.20 1.14l-1.20 -1.14zM71.6 183.4l1.20 1.14l-1.20 1.14l-1.20 -1.14zM72.9 182.2l1.20 1.14l-1.20 1.14l-1.20 -1.14zM74.2 183.4l1.20 1.14l-1.20 1.14l-1.20 -1.14zM79.3 178.5l1.20 1.14l-1.20 1.14l-1.20 -1.14zM80.6 177.3l1.20 1.14l-1.20 1.14l-1.20 -1.14zM112.9 176.1l1.20 1.14l-1.20 1.14l-1.20 -1.14zM87.1 185.9l1.20 1.14l-1.20 1.14l-1.20 -1.14zM70.3 184.7l1.20 1.14l-1.20 1.14l-1.20 -1.14zM74.2 181.0l1.20 1.14l-1.20 1.14l-1.20 -1.14zM83.2 177.3l1.20 1.14l-1.20 1.14l-1.20 -1.14zM45.7 176.1l1.20 1.14l-1.20 1.14l-1.20 -1.14zM94.8 176.1l1.20 1.14l-1.20 1.14l-1.20 -1.14zM229.1 176.1l1.20 1.14l-1.20 1.14l-1.20 -1.14zM109.0 177.3l1.20 1.14l-1.20 1.14l-1.20 -1.14z"/>
<path fill="#ee1c24" d="M36.7 187.1l1.20 1.14l-1.20 1.14l-1.20 -1.14zM38.0 185.9l1.20 1.14l-1.20 1.14l-1.20 -1.14zM152.9 177.3l1.20 1.14l-1.20 1.14l-1.20 -1.14zM216.2 193.3l1.20 1.14l-1.20 1.14l-1.20 -1.14zM217.5 194.5l1.20 1.14l-1.20 1.14l-1.20 -1.14zM220.1 179.8l1.20 1.14l-1.20 1.14l-1.20 -1.14zM185.2 183.4l1.20 1.14l-1.20 1.14l-1.20 -1.14zM29.0 177.3l1.20 1.14l-1.20 1.14l-1.20 -1.14zM235.6 184.7l1.20 1.14l-1.20 1.14l-1.20 -1.14zM218.8 188.4l1.20 1.14l-1.20 1.14l-1.20 -1.14zM198.1 178.5l1.20 1.14l-1.20 1.14l-1.20 -1.14zM247.2 176.1l1.20 1.14l-1.20 1.14l-1.20 -1.14zM196.8 196.9l1.20 1.14l-1.20 1.14l-1.20 -1.14zM234.3 176.1l1.20 1.14l-1.20 1.14l-1.20 -1.14zM240.8 177.3l1.20 1.14l-1.20 1.14l-1.20 -1.14zM177.5 181.0l1.20 1.14l-1.20 1.14l-1.20 -1.14zM202.0 184.7l1.20 1.14l-1.20 1.14l-1.20 -1.14zM224.0 178.5l1.20 1.14l-1.20 1.14l-1.20 -1.14zM208.5 185.9l1.20 1.14l-1.20 1.14l-1.20 -1.14zM145.2 179.8l1.20 1.14l-1.20 1.14l-1.20 -1.14zM89.7 183.4l1.20 1.14l-1.20 1.14l-1.20 -1.14zM217.5 177.3l1.20 1.14l-1.20 1.14l-1.20 -1.14zM208.5 178.5l1.20 1.14l-1.20 1.14l-1.20 -1.14zM76.7 183.4l1.20 1.14l-1.20 1.14l-1.20 -1.14zM140.0 189.6l1.20 1.14l-1.20 1.14l-1.20 -1.14zM146.5 181.0l1.20 1.14l-1.20 1.14l-1.20 -1.14zM235.6 177.3l1.20 1.14l-1.20 1.14l-1.20 -1.14zM102.6 185.9l1.20 1.14l-1.20 1.14l-1.20 -1.14zM233.0 182.2l1.20 1.14l-1.20 1.14l-1.20 -1.14zM136.1 181.0l1.20 1.14l-1.20 1.14l-1.20 -1.14zM186.5 177.3l1.20 1.14l-1.20 1.14l-1.20 -1.14zM56.1 188.4l1.20 1.14l-1.20 1.14l-1.20 -1.14zM234.3 183.4l1.20 1.14l-1.20 1.14l-1.20 -1.14zM132.3 182.2l1.20 1.14l-1.20 1.14l-1.20 -1.14zM211.1 185.9l1.20 1.14l-1.20 1.14l-1.20 -1.14zM140.0 177.3l1.20 1.14l-1.20 1.14l-1.20 -1.14zM236.9 181.0l1.20 1.14l-1.20 1.14l-1.20 -1.14zM101.3 187.1l1.20 1.14l-1.20 1.14l-1.20 -1.14zM171.0 187.1l1.20 1.14l-1.20 1.14l-1.20 -1.14zM101.3 179.8l1.20 1.14l-1.20 1.14l-1.20 -1.14zM176.2 179.8l1.20 1.14l-1.20 1.14l-1.20 -1.14zM29.0 179.8l1.20 1.14l-1.20 1.14l-1.20 -1.14zM30.2 181.0l1.20 1.14l-1.20 1.14l-1.20 -1.14zM31.5 182.2l1.20 1.14l-1.20 1.14l-1.20 -1.14zM32.8 183.4l1.20 1.14l-1.20 1.14l-1.20 -1.14zM27.7 176.1l1.20 1.14l-1.20 1.14l-1.20 -1.14zM31.5 179.8l1.20 1.14l-1.20 1.14l-1.20 -1.14zM32.8 181.0l1.20 1.14l-1.20 1.14l-1.20 -1.14zM34.1 182.2l1.20 1.14l-1.20 1.14l-1.20 -1.14zM30.2 176.1l1.20 1.14l-1.20 1.14l-1.20 -1.14zM31.5 177.3l1.20 1.14l-1.20 1.14l-1.20 -1.14zM32.8 178.5l1.20 1.14l-1.20 1.14l-1.20 -1.14zM34.1 179.8l1.20 1.14l-1.20 1.14l-1.20 -1.14zM35.4 181.0l1.20 1.14l-1.20 1.14l-1.20 -1.14zM36.7 179.8l1.20 1.14l-1.20 1.14l-1.20 -1.14zM35.4 176.1l1.20 1.14l-1.20 1.14l-1.20 -1.14zM36.7 177.3l1.20 1.14l-1.20 1.14l-1.20 -1.14zM38.0 178.5l1.20 1.14l-1.20 1.14l-1.20 -1.14zM38.0 176.1l1.20 1.14l-1.20 1.14l-1.20 -1.14zM39.3 177.3l1.20 1.14l-1.20 1.14l-1.20 -1.14zM40.6 178.5l1.20 1.14l-1.20 1.14l-1.20 -1.14zM41.9 177.3l1.20 1.14l-1.20 1.14l-1.20 -1.14zM35.4 185.9l1.20 1.14l-1.20 1.14l-1.20 -1.14zM38.0 183.4l1.20 1.14l-1.20 1.14l-1.20 -1.14zM40.6 181.0l1.20 1.14l-1.20 1.14l-1.20 -1.14zM41.9 179.8l1.20 1.14l-1.20 1.14l-1.20 -1.14zM44.5 179.8l1.20 1.14l-1.20 1.14l-1.20 -1.14zM48.3 190.8l1.20 1.14l-1.20 1.14l-1.20 -1.14zM49.6 192.0l1.20 1.14l-1.20 1.14l-1.20 -1.14zM50.9 193.3l1.20 1.14l-1.20 1.14l-1.20 -1.14zM49.6 189.6l1.20 1.14l-1.20 1.14l-1.20 -1.14zM50.9 190.8l1.20 1.14l-1.20 1.14l-1.20 -1.14zM52.2 192.0l1.20 1.14l-1.20 1.14l-1.20 -1.14zM50.9 188.4l1.20 1.14l-1.20 1.14l-1.20 -1.14zM52.2 189.6l1.20 1.14l-1.20 1.14l-1.20 -1.14zM53.5 190.8l1.20 1.14l-1.20 1.14l-1.20 -1.14zM56.1 176.1l1.20 1.14l-1.20 1.14l-1.20 -1.14zM69.0 176.1l1.20 1.14l-1.20 1.14l-1.20 -1.14zM71.6 176.1l1.20 1.14l-1.20 1.14l-1.20 -1.14zM87.1 176.1l1.20 1.14l-1.20 1.14l-1.20 -1.14zM89.7 176.1l1.20 1.14l-1.20 1.14l-1.20 -1.14zM92.2 176.1l1.20 1.14l-1.20 1.14l-1.20 -1.14zM80.6 179.8l1.20 1.14l-1.20 1.14l-1.20 -1.14zM62.5 179.8l1.20 1.14l-1.20 1.14l-1.20 -1.14zM98.7 177.3l1.20 1.14l-1.20 1.14l-1.20 -1.14zM100.0 178.5l1.20 1.14l-1.20 1.14l-1.20 -1.14zM102.6 181.0l1.20 1.14l-1.20 1.14l-1.20 -1.14zM103.9 177.3l1.20 1.14l-1.20 1.14l-1.20 -1.14zM105.2 176.1l1.20 1.14l-1.20 1.14l-1.20 -1.14zM111.6 182.2l1.20 1.14l-1.20 1.14l-1.20 -1.14zM114.2 182.2l1.20 1.14l-1.20 1.14l-1.20 -1.14zM114.2 177.3l1.20 1.14l-1.20 1.14l-1.20 -1.14zM116.8 179.8l1.20 1.14l-1.20 1.14l-1.20 -1.14zM118.1 181.0l1.20 1.14l-1.20 1.14l-1.20 -1.14zM119.4 182.2l1.20 1.14l-1.20 1.14l-1.20 -1.14zM121.9 184.7l1.20 1.14l-1.20 1.14l-1.20 -1.14zM123.2 185.9l1.20 1.14l-1.20 1.14l-1.20 -1.14zM124.5 187.1l1.20 1.14l-1.20 1.14l-1.20 -1.14zM125.8 188.4l1.20 1.14l-1.20 1.14l-1.20 -1.14zM119.4 179.8l1.20 1.14l-1.20 1.14l-1.20 -1.14zM124.5 184.7l1.20 1.14l-1.20 1.14l-1.20 -1.14zM125.8 185.9l1.20 1.14l-1.20 1.14l-1.20 -1.14zM127.1 187.1l1.20 1.14l-1.20 1.14l-1.20 -1.14zM118.1 176.1l1.20 1.14l-1.20 1.14l-1.20 -1.14zM119.4 177.3l1.20 1.14l-1.20 1.14l-1.20 -1.14zM120.7 178.5l1.20 1.14l-1.20 1.14l-1.20 -1.14zM121.9 179.8l1.20 1.14l-1.20 1.14l-1.20 -1.14zM124.5 182.2l1.20 1.14l-1.20 1.14l-1.20 -1.14zM125.8 183.4l1.20 1.14l-1.20 1.14l-1.20 -1.14zM128.4 185.9l1.20 1.14l-1.20 1.14l-1.20 -1.14zM121.9 177.3l1.20 1.14l-1.20 1.14l-1.20 -1.14zM123.2 178.5l1.20 1.14l-1.20 1.14l-1.20 -1.14zM124.5 179.8l1.20 1.14l-1.20 1.14l-1.20 -1.14zM125.8 181.0l1.20 1.14l-1.20 1.14l-1.20 -1.14zM127.1 182.2l1.20 1.14l-1.20 1.14l-1.20 -1.14zM128.4 183.4l1.20 1.14l-1.20 1.14l-1.20 -1.14zM129.7 184.7l1.20 1.14l-1.20 1.14l-1.20 -1.14zM123.2 176.1l1.20 1.14l-1.20 1.14l-1.20 -1.14zM127.1 179.8l1.20 1.14l-1.20 1.14l-1.20 -1.14zM128.4 181.0l1.20 1.14l-1.20 1.14l-1.20 -1.14zM131.0 183.4l1.20 1.14l-1.20 1.14l-1.20 -1.14zM125.8 176.1l1.20 1.14l-1.20 1.14l-1.20 -1.14zM129.7 179.8l1.20 1.14l-1.20 1.14l-1.20 -1.14zM123.2 181.0l1.20 1.14l-1.20 1.14l-1.20 -1.14zM120.7 176.1l1.20 1.14l-1.20 1.14l-1.20 -1.14zM128.4 178.5l1.20 1.14l-1.20 1.14l-1.20 -1.14zM128.4 176.1l1.20 1.14l-1.20 1.14l-1.20 -1.14zM133.6 176.1l1.20 1.14l-1.20 1.14l-1.20 -1.14zM137.4 177.3l1.20 1.14l-1.20 1.14l-1.20 -1.14zM141.3 178.5l1.20 1.14l-1.20 1.14l-1.20 -1.14zM143.9 181.0l1.20 1.14l-1.20 1.14l-1.20 -1.14zM145.2 182.2l1.20 1.14l-1.20 1.14l-1.20 -1.14zM146.5 183.4l1.20 1.14l-1.20 1.14l-1.20 -1.14zM141.3 176.1l1.20 1.14l-1.20 1.14l-1.20 -1.14zM142.6 177.3l1.20 1.14l-1.20 1.14l-1.20 -1.14zM147.8 182.2l1.20 1.14l-1.20 1.14l-1.20 -1.14zM143.9 176.1l1.20 1.14l-1.20 1.14l-1.20 -1.14zM146.5 178.5l1.20 1.14l-1.20 1.14l-1.20 -1.14zM147.8 179.8l1.20 1.14l-1.20 1.14l-1.20 -1.14zM149.1 181.0l1.20 1.14l-1.20 1.14l-1.20 -1.14zM147.8 177.3l1.20 1.14l-1.20 1.14l-1.20 -1.14zM150.4 177.3l1.20 1.14l-1.20 1.14l-1.20 -1.14zM151.6 178.5l1.20 1.14l-1.20 1.14l-1.20 -1.14zM172.3 178.5l1.20 1.14l-1.20 1.14l-1.20 -1.14zM173.6 179.8l1.20 1.14l-1.20 1.14l-1.20 -1.14zM174.9 181.0l1.20 1.14l-1.20 1.14l-1.20 -1.14zM176.2 182.2l1.20 1.14l-1.20 1.14l-1.20 -1.14zM177.5 183.4l1.20 1.14l-1.20 1.14l-1.20 -1.14zM178.8 184.7l1.20 1.14l-1.20 1.14l-1.20 -1.14zM180.1 185.9l1.20 1.14l-1.20 1.14l-1.20 -1.14zM181.4 187.1l1.20 1.14l-1.20 1.14l-1.20 -1.14zM182.6 188.4l1.20 1.14l-1.20 1.14l-1.20 -1.14zM183.9 189.6l1.20 1.14l-1.20 1.14l-1.20 -1.14zM185.2 190.8l1.20 1.14l-1.20 1.14l-1.20 -1.14zM186.5 192.0l1.20 1.14l-1.20 1.14l-1.20 -1.14zM187.8 193.3l1.20 1.14l-1.20 1.14l-1.20 -1.14zM172.3 176.1l1.20 1.14l-1.20 1.14l-1.20 -1.14zM181.4 184.7l1.20 1.14l-1.20 1.14l-1.20 -1.14zM182.6 185.9l1.20 1.14l-1.20 1.14l-1.20 -1.14zM183.9 187.1l1.20 1.14l-1.20 1.14l-1.20 -1.14zM174.9 176.1l1.20 1.14l-1.20 1.14l-1.20 -1.14zM176.2 177.3l1.20 1.14l-1.20 1.14l-1.20 -1.14zM177.5 178.5l1.20 1.14l-1.20 1.14l-1.20 -1.14zM180.1 181.0l1.20 1.14l-1.20 1.14l-1.20 -1.14zM181.4 182.2l1.20 1.14l-1.20 1.14l-1.20 -1.14zM182.6 183.4l1.20 1.14l-1.20 1.14l-1.20 -1.14zM183.9 184.7l1.20 1.14l-1.20 1.14l-1.20 -1.14zM185.2 185.9l1.20 1.14l-1.20 1.14l-1.20 -1.14zM181.4 179.8l1.20 1.14l-1.20 1.14l-1.20 -1.14zM182.6 181.0l1.20 1.14l-1.20 1.14l-1.20 -1.14zM183.9 182.2l1.20 1.14l-1.20 1.14l-1.20 -1.14zM186.5 184.7l1.20 1.14l-1.20 1.14l-1.20 -1.14zM180.1 176.1l1.20 1.14l-1.20 1.14l-1.20 -1.14zM185.2 178.5l1.20 1.14l-1.20 1.14l-1.20 -1.14zM187.8 178.5l1.20 1.14l-1.20 1.14l-1.20 -1.14zM189.1 179.8l1.20 1.14l-1.20 1.14l-1.20 -1.14zM190.4 181.0l1.20 1.14l-1.20 1.14l-1.20 -1.14zM189.1 177.3l1.20 1.14l-1.20 1.14l-1.20 -1.14zM190.4 178.5l1.20 1.14l-1.20 1.14l-1.20 -1.14zM190.4 176.1l1.20 1.14l-1.20 1.14l-1.20 -1.14zM190.4 195.7l1.20 1.14l-1.20 1.14l-1.20 -1.14zM191.7 196.9l1.20 1.14l-1.20 1.14l-1.20 -1.14zM193.0 198.2l1.20 1.14l-1.20 1.14l-1.20 -1.14zM194.3 199.4l1.20 1.14l-1.20 1.14l-1.20 -1.14zM195.6 200.6l1.20 1.14l-1.20 1.14l-1.20 -1.14zM186.5 187.1l1.20 1.14l-1.20 1.14l-1.20 -1.14zM187.8 188.4l1.20 1.14l-1.20 1.14l-1.20 -1.14zM189.1 189.6l1.20 1.14l-1.20 1.14l-1.20 -1.14zM190.4 190.8l1.20 1.14l-1.20 1.14l-1.20 -1.14zM191.7 192.0l1.20 1.14l-1.20 1.14l-1.20 -1.14zM193.0 193.3l1.20 1.14l-1.20 1.14l-1.20 -1.14zM194.3 194.5l1.20 1.14l-1.20 1.14l-1.20 -1.14zM198.1 198.2l1.20 1.14l-1.20 1.14l-1.20 -1.14zM199.4 199.4l1.20 1.14l-1.20 1.14l-1.20 -1.14zM200.7 200.6l1.20 1.14l-1.20 1.14l-1.20 -1.14zM202.0 201.9l1.20 1.14l-1.20 1.14l-1.20 -1.14zM203.3 203.1l1.20 1.14l-1.20 1.14l-1.20 -1.14zM207.2 206.8l1.20 1.14l-1.20 1.14l-1.20 -1.14zM191.7 182.2l1.20 1.14l-1.20 1.14l-1.20 -1.14zM193.0 183.4l1.20 1.14l-1.20 1.14l-1.20 -1.14zM194.3 184.7l1.20 1.14l-1.20 1.14l-1.20 -1.14zM196.8 187.1l1.20 1.14l-1.20 1.14l-1.20 -1.14zM198.1 188.4l1.20 1.14l-1.20 1.14l-1.20 -1.14zM199.4 189.6l1.20 1.14l-1.20 1.14l-1.20 -1.14zM191.7 179.8l1.20 1.14l-1.20 1.14l-1.20 -1.14zM193.0 181.0l1.20 1.14l-1.20 1.14l-1.20 -1.14zM194.3 182.2l1.20 1.14l-1.20 1.14l-1.20 -1.14zM195.6 183.4l1.20 1.14l-1.20 1.14l-1.20 -1.14zM196.8 184.7l1.20 1.14l-1.20 1.14l-1.20 -1.14zM198.1 185.9l1.20 1.14l-1.20 1.14l-1.20 -1.14zM199.4 187.1l1.20 1.14l-1.20 1.14l-1.20 -1.14zM200.7 188.4l1.20 1.14l-1.20 1.14l-1.20 -1.14zM202.0 189.6l1.20 1.14l-1.20 1.14l-1.20 -1.14zM203.3 190.8l1.20 1.14l-1.20 1.14l-1.20 -1.14zM204.6 192.0l1.20 1.14l-1.20 1.14l-1.20 -1.14zM205.9 193.3l1.20 1.14l-1.20 1.14l-1.20 -1.14zM207.2 194.5l1.20 1.14l-1.20 1.14l-1.20 -1.14zM208.5 195.7l1.20 1.14l-1.20 1.14l-1.20 -1.14zM200.7 185.9l1.20 1.14l-1.20 1.14l-1.20 -1.14zM195.6 178.5l1.20 1.14l-1.20 1.14l-1.20 -1.14zM196.8 179.8l1.20 1.14l-1.20 1.14l-1.20 -1.14zM198.1 181.0l1.20 1.14l-1.20 1.14l-1.20 -1.14zM199.4 182.2l1.20 1.14l-1.20 1.14l-1.20 -1.14zM200.7 183.4l1.20 1.14l-1.20 1.14l-1.20 -1.14zM203.3 181.0l1.20 1.14l-1.20 1.14l-1.20 -1.14zM205.9 183.4l1.20 1.14l-1.20 1.14l-1.20 -1.14zM207.2 184.7l1.20 1.14l-1.20 1.14l-1.20 -1.14zM199.4 179.8l1.20 1.14l-1.20 1.14l-1.20 -1.14zM200.7 181.0l1.20 1.14l-1.20 1.14l-1.20 -1.14zM202.0 182.2l1.20 1.14l-1.20 1.14l-1.20 -1.14zM203.3 183.4l1.20 1.14l-1.20 1.14l-1.20 -1.14zM204.6 184.7l1.20 1.14l-1.20 1.14l-1.20 -1.14zM205.9 185.9l1.20 1.14l-1.20 1.14l-1.20 -1.14zM207.2 187.1l1.20 1.14l-1.20 1.14l-1.20 -1.14zM208.5 188.4l1.20 1.14l-1.20 1.14l-1.20 -1.14zM200.7 178.5l1.20 1.14l-1.20 1.14l-1.20 -1.14zM202.0 179.8l1.20 1.14l-1.20 1.14l-1.20 -1.14zM209.8 187.1l1.20 1.14l-1.20 1.14l-1.20 -1.14zM200.7 176.1l1.20 1.14l-1.20 1.14l-1.20 -1.14zM202.0 177.3l1.20 1.14l-1.20 1.14l-1.20 -1.14zM203.3 178.5l1.20 1.14l-1.20 1.14l-1.20 -1.14zM204.6 179.8l1.20 1.14l-1.20 1.14l-1.20 -1.14zM205.9 181.0l1.20 1.14l-1.20 1.14l-1.20 -1.14zM207.2 182.2l1.20 1.14l-1.20 1.14l-1.20 -1.14zM208.5 183.4l1.20 1.14l-1.20 1.14l-1.20 -1.14zM209.8 184.7l1.20 1.14l-1.20 1.14l-1.20 -1.14zM203.3 176.1l1.20 1.14l-1.20 1.14l-1.20 -1.14zM207.2 179.8l1.20 1.14l-1.20 1.14l-1.20 -1.14zM208.5 181.0l1.20 1.14l-1.20 1.14l-1.20 -1.14zM209.8 182.2l1.20 1.14l-1.20 1.14l-1.20 -1.14zM211.1 183.4l1.20 1.14l-1.20 1.14l-1.20 -1.14zM212.3 184.7l1.20 1.14l-1.20 1.14l-1.20 -1.14zM212.3 182.2l1.20 1.14l-1.20 1.14l-1.20 -1.14zM208.5 176.1l1.20 1.14l-1.20 1.14l-1.20 -1.14zM211.1 178.5l1.20 1.14l-1.20 1.14l-1.20 -1.14zM212.3 179.8l1.20 1.14l-1.20 1.14l-1.20 -1.14zM213.6 181.0l1.20 1.14l-1.20 1.14l-1.20 -1.14zM214.9 182.2l1.20 1.14l-1.20 1.14l-1.20 -1.14zM211.1 176.1l1.20 1.14l-1.20 1.14l-1.20 -1.14zM213.6 178.5l1.20 1.14l-1.20 1.14l-1.20 -1.14zM214.9 179.8l1.20 1.14l-1.20 1.14l-1.20 -1.14zM216.2 181.0l1.20 1.14l-1.20 1.14l-1.20 -1.14zM213.6 176.1l1.20 1.14l-1.20 1.14l-1.20 -1.14zM214.9 177.3l1.20 1.14l-1.20 1.14l-1.20 -1.14zM216.2 178.5l1.20 1.14l-1.20 1.14l-1.20 -1.14zM217.5 179.8l1.20 1.14l-1.20 1.14l-1.20 -1.14zM218.8 178.5l1.20 1.14l-1.20 1.14l-1.20 -1.14zM221.4 176.1l1.20 1.14l-1.20 1.14l-1.20 -1.14zM221.4 198.2l1.20 1.14l-1.20 1.14l-1.20 -1.14zM213.6 188.4l1.20 1.14l-1.20 1.14l-1.20 -1.14zM220.1 194.5l1.20 1.14l-1.20 1.14l-1.20 -1.14zM222.7 196.9l1.20 1.14l-1.20 1.14l-1.20 -1.14zM213.6 185.9l1.20 1.14l-1.20 1.14l-1.20 -1.14zM220.1 192.0l1.20 1.14l-1.20 1.14l-1.20 -1.14zM214.9 184.7l1.20 1.14l-1.20 1.14l-1.20 -1.14zM220.1 189.6l1.20 1.14l-1.20 1.14l-1.20 -1.14zM217.5 184.7l1.20 1.14l-1.20 1.14l-1.20 -1.14zM218.8 185.9l1.20 1.14l-1.20 1.14l-1.20 -1.14zM222.7 189.6l1.20 1.14l-1.20 1.14l-1.20 -1.14zM226.6 193.3l1.20 1.14l-1.20 1.14l-1.20 -1.14zM224.0 176.1l1.20 1.14l-1.20 1.14l-1.20 -1.14zM233.0 184.7l1.20 1.14l-1.20 1.14l-1.20 -1.14zM227.8 177.3l1.20 1.14l-1.20 1.14l-1.20 -1.14zM236.9 185.9l1.20 1.14l-1.20 1.14l-1.20 -1.14zM230.4 177.3l1.20 1.14l-1.20 1.14l-1.20 -1.14zM231.7 178.5l1.20 1.14l-1.20 1.14l-1.20 -1.14zM233.0 179.8l1.20 1.14l-1.20 1.14l-1.20 -1.14zM234.3 181.0l1.20 1.14l-1.20 1.14l-1.20 -1.14zM238.2 182.2l1.20 1.14l-1.20 1.14l-1.20 -1.14zM239.5 183.4l1.20 1.14l-1.20 1.14l-1.20 -1.14zM236.9 178.5l1.20 1.14l-1.20 1.14l-1.20 -1.14zM238.2 179.8l1.20 1.14l-1.20 1.14l-1.20 -1.14zM235.6 182.2l1.20 1.14l-1.20 1.14l-1.20 -1.14zM235.6 179.8l1.20 1.14l-1.20 1.14l-1.20 -1.14zM134.9 179.8l1.20 1.14l-1.20 1.14l-1.20 -1.14zM137.4 182.2l1.20 1.14l-1.20 1.14l-1.20 -1.14zM138.7 183.4l1.20 1.14l-1.20 1.14l-1.20 -1.14zM140.0 184.7l1.20 1.14l-1.20 1.14l-1.20 -1.14zM87.1 181.0l1.20 1.14l-1.20 1.14l-1.20 -1.14zM123.2 183.4l1.20 1.14l-1.20 1.14l-1.20 -1.14zM110.3 176.1l1.20 1.14l-1.20 1.14l-1.20 -1.14zM111.6 177.3l1.20 1.14l-1.20 1.14l-1.20 -1.14zM116.8 182.2l1.20 1.14l-1.20 1.14l-1.20 -1.14zM105.2 183.4l1.20 1.14l-1.20 1.14l-1.20 -1.14zM107.7 181.0l1.20 1.14l-1.20 1.14l-1.20 -1.14zM110.3 178.5l1.20 1.14l-1.20 1.14l-1.20 -1.14zM107.7 183.4l1.20 1.14l-1.20 1.14l-1.20 -1.14zM90.9 184.7l1.20 1.14l-1.20 1.14l-1.20 -1.14zM134.9 182.2l1.20 1.14l-1.20 1.14l-1.20 -1.14zM137.4 179.8l1.20 1.14l-1.20 1.14l-1.20 -1.14zM162.0 178.5l1.20 1.14l-1.20 1.14l-1.20 -1.14zM163.3 179.8l1.20 1.14l-1.20 1.14l-1.20 -1.14zM164.6 181.0l1.20 1.14l-1.20 1.14l-1.20 -1.14zM165.9 182.2l1.20 1.14l-1.20 1.14l-1.20 -1.14zM167.1 183.4l1.20 1.14l-1.20 1.14l-1.20 -1.14zM168.4 184.7l1.20 1.14l-1.20 1.14l-1.20 -1.14zM155.5 177.3l1.20 1.14l-1.20 1.14l-1.20 -1.14zM156.8 178.5l1.20 1.14l-1.20 1.14l-1.20 -1.14zM158.1 179.8l1.20 1.14l-1.20 1.14l-1.20 -1.14zM159.4 181.0l1.20 1.14l-1.20 1.14l-1.20 -1.14zM160.7 182.2l1.20 1.14l-1.20 1.14l-1.20 -1.14zM162.0 183.4l1.20 1.14l-1.20 1.14l-1.20 -1.14zM142.6 179.8l1.20 1.14l-1.20 1.14l-1.20 -1.14zM131.0 181.0l1.20 1.14l-1.20 1.14l-1.20 -1.14zM132.3 179.8l1.20 1.14l-1.20 1.14l-1.20 -1.14zM132.3 177.3l1.20 1.14l-1.20 1.14l-1.20 -1.14zM141.3 185.9l1.20 1.14l-1.20 1.14l-1.20 -1.14zM142.6 187.1l1.20 1.14l-1.20 1.14l-1.20 -1.14zM145.2 189.6l1.20 1.14l-1.20 1.14l-1.20 -1.14zM143.9 188.4l1.20 1.14l-1.20 1.14l-1.20 -1.14zM133.6 183.4l1.20 1.14l-1.20 1.14l-1.20 -1.14zM134.9 184.7l1.20 1.14l-1.20 1.14l-1.20 -1.14zM136.2 185.9l1.20 1.14l-1.20 1.14l-1.20 -1.14zM138.7 188.4l1.20 1.14l-1.20 1.14l-1.20 -1.14zM141.3 190.8l1.20 1.14l-1.20 1.14l-1.20 -1.14zM142.6 192.0l1.20 1.14l-1.20 1.14l-1.20 -1.14zM143.9 193.3l1.20 1.14l-1.20 1.14l-1.20 -1.14zM145.2 194.5l1.20 1.14l-1.20 1.14l-1.20 -1.14zM133.6 181.0l1.20 1.14l-1.20 1.14l-1.20 -1.14zM136.2 183.4l1.20 1.14l-1.20 1.14l-1.20 -1.14zM137.4 184.7l1.20 1.14l-1.20 1.14l-1.20 -1.14zM138.7 185.9l1.20 1.14l-1.20 1.14l-1.20 -1.14zM140.0 187.1l1.20 1.14l-1.20 1.14l-1.20 -1.14zM141.3 188.4l1.20 1.14l-1.20 1.14l-1.20 -1.14zM142.6 189.6l1.20 1.14l-1.20 1.14l-1.20 -1.14zM143.9 190.8l1.20 1.14l-1.20 1.14l-1.20 -1.14zM131.0 185.9l1.20 1.14l-1.20 1.14l-1.20 -1.14zM133.6 188.4l1.20 1.14l-1.20 1.14l-1.20 -1.14zM134.9 189.6l1.20 1.14l-1.20 1.14l-1.20 -1.14zM136.2 190.8l1.20 1.14l-1.20 1.14l-1.20 -1.14zM137.4 192.0l1.20 1.14l-1.20 1.14l-1.20 -1.14zM114.2 189.6l1.20 1.14l-1.20 1.14l-1.20 -1.14zM116.8 192.0l1.20 1.14l-1.20 1.14l-1.20 -1.14zM53.5 181.0l1.20 1.14l-1.20 1.14l-1.20 -1.14zM65.1 182.2l1.20 1.14l-1.20 1.14l-1.20 -1.14zM83.2 179.8l1.20 1.14l-1.20 1.14l-1.20 -1.14zM212.3 187.1l1.20 1.14l-1.20 1.14l-1.20 -1.14zM214.9 189.6l1.20 1.14l-1.20 1.14l-1.20 -1.14zM194.3 192.0l1.20 1.14l-1.20 1.14l-1.20 -1.14zM195.6 190.8l1.20 1.14l-1.20 1.14l-1.20 -1.14zM196.8 189.6l1.20 1.14l-1.20 1.14l-1.20 -1.14zM204.6 182.2l1.20 1.14l-1.20 1.14l-1.20 -1.14zM221.4 181.0l1.20 1.14l-1.20 1.14l-1.20 -1.14zM224.0 183.4l1.20 1.14l-1.20 1.14l-1.20 -1.14zM225.3 184.7l1.20 1.14l-1.20 1.14l-1.20 -1.14zM226.6 185.9l1.20 1.14l-1.20 1.14l-1.20 -1.14zM220.1 177.3l1.20 1.14l-1.20 1.14l-1.20 -1.14zM112.9 195.7l1.20 1.14l-1.20 1.14l-1.20 -1.14zM53.5 176.1l1.20 1.14l-1.20 1.14l-1.20 -1.14zM61.2 178.5l1.20 1.14l-1.20 1.14l-1.20 -1.14zM74.2 185.9l1.20 1.14l-1.20 1.14l-1.20 -1.14zM78.0 182.2l1.20 1.14l-1.20 1.14l-1.20 -1.14zM84.5 176.1l1.20 1.14l-1.20 1.14l-1.20 -1.14zM105.2 190.8l1.20 1.14l-1.20 1.14l-1.20 -1.14zM111.6 196.9l1.20 1.14l-1.20 1.14l-1.20 -1.14zM114.2 199.4l1.20 1.14l-1.20 1.14l-1.20 -1.14zM103.9 187.1l1.20 1.14l-1.20 1.14l-1.20 -1.14zM107.7 190.8l1.20 1.14l-1.20 1.14l-1.20 -1.14zM110.3 193.3l1.20 1.14l-1.20 1.14l-1.20 -1.14zM105.2 185.9l1.20 1.14l-1.20 1.14l-1.20 -1.14zM114.2 194.5l1.20 1.14l-1.20 1.14l-1.20 -1.14zM106.4 184.7l1.20 1.14l-1.20 1.14l-1.20 -1.14zM110.3 188.4l1.20 1.14l-1.20 1.14l-1.20 -1.14zM112.9 190.8l1.20 1.14l-1.20 1.14l-1.20 -1.14zM114.2 192.0l1.20 1.14l-1.20 1.14l-1.20 -1.14zM116.8 194.5l1.20 1.14l-1.20 1.14l-1.20 -1.14zM118.1 195.7l1.20 1.14l-1.20 1.14l-1.20 -1.14zM119.4 194.5l1.20 1.14l-1.20 1.14l-1.20 -1.14zM109.0 182.2l1.20 1.14l-1.20 1.14l-1.20 -1.14zM114.2 187.1l1.20 1.14l-1.20 1.14l-1.20 -1.14zM115.5 188.4l1.20 1.14l-1.20 1.14l-1.20 -1.14zM120.7 193.3l1.20 1.14l-1.20 1.14l-1.20 -1.14zM114.2 184.7l1.20 1.14l-1.20 1.14l-1.20 -1.14zM111.6 179.8l1.20 1.14l-1.20 1.14l-1.20 -1.14zM121.9 189.6l1.20 1.14l-1.20 1.14l-1.20 -1.14zM71.6 188.4l1.20 1.14l-1.20 1.14l-1.20 -1.14zM75.5 184.7l1.20 1.14l-1.20 1.14l-1.20 -1.14zM79.3 181.0l1.20 1.14l-1.20 1.14l-1.20 -1.14zM81.9 178.5l1.20 1.14l-1.20 1.14l-1.20 -1.14zM85.8 179.8l1.20 1.14l-1.20 1.14l-1.20 -1.14zM88.4 182.2l1.20 1.14l-1.20 1.14l-1.20 -1.14zM43.2 176.1l1.20 1.14l-1.20 1.14l-1.20 -1.14zM107.7 176.1l1.20 1.14l-1.20 1.14l-1.20 -1.14zM131.0 176.1l1.20 1.14l-1.20 1.14l-1.20 -1.14zM164.6 176.1l1.20 1.14l-1.20 1.14l-1.20 -1.14zM242.1 176.1l1.20 1.14l-1.20 1.14l-1.20 -1.14zM88.4 177.3l1.20 1.14l-1.20 1.14l-1.20 -1.14z"/>
<line x1="318.24" y1="179.50" x2="326.59" y2="187.11" stroke="#d6d6f6" stroke-width="0.6279615127817565" stroke-opacity="0.8993200026768446"/>
<line x1="350.77" y1="227.08" x2="402.94" y2="179.50" stroke="#c4c4ee" stroke-width="0.6580622793572458" stroke-opacity="0.7523766831464533"/>
<line x1="415.80" y1="179.50" x2="455.27" y2="215.49" stroke="#b4b4ea" stroke-width="0.46290491127733974" stroke-opacity="0.8032358811434178"/>
<line x1="311.43" y1="205.43" x2="318.44" y2="199.04" stroke="#9e9ee0" stroke-width="0.7811196631497392" stroke-opacity="0.9901358258565638"/>
<line x1="389.68" y1="195.23" x2="411.26" y2="214.92" stroke="#d6d6f6" stroke-width="0.5542654756637492" stroke-opacity="0.5087154516997281"/>
<line x1="503.73" y1="182.37" x2="504.57" y2="183.14" stroke="#9e9ee0" stroke-width="0.719907010331531" stroke-opacity="0.7969489091990354"/>
<line x1="425.13" y1="208.82" x2="435.18" y2="199.66" stroke="#d6d6f6" stroke-width="0.5411199955878552" stroke-opacity="0.8362985914611443"/>
<line x1="340.50" y1="231.94" x2="354.52" y2="219.16" stroke="#b4b4ea" stroke-width="0.6150950261511483" stroke-opacity="0.850476033391834"/>
<line x1="448.30" y1="205.40" x2="456.24" y2="212.65" stroke="#c4c4ee" stroke-width="0.6249003193395026" stroke-opacity="0.7337189586405797"/>
<line x1="393.57" y1="179.50" x2="450.06" y2="231.02" stroke="#d6d6f6" stroke-width="0.5591149686394598" stroke-opacity="0.76745468646199"/>
<line x1="396.06" y1="282.61" x2="509.11" y2="179.50" stroke="#9e9ee0" stroke-width="0.5256213159033909" stroke-opacity="0.6514831023103713"/>
<line x1="419.14" y1="179.50" x2="464.92" y2="221.25" stroke="#c4c4ee" stroke-width="0.5978916041466289" stroke-opacity="0.5321870868021698"/>
<line x1="412.23" y1="179.50" x2="455.12" y2="218.62" stroke="#d6d6f6" stroke-width="0.6575545237730124" stroke-opacity="0.524784230769177"/>
<line x1="325.94" y1="218.66" x2="368.88" y2="179.50" stroke="#d6d6f6" stroke-width="0.7016137540188916" stroke-opacity="0.8231055737364678"/>
<line x1="389.95" y1="179.50" x2="399.74" y2="188.43" stroke="#d6d6f6" stroke-width="0.7938195988635351" stroke-opacity="0.5525718352398792"/>
<line x1="311.92" y1="179.50" x2="319.59" y2="186.50" stroke="#9e9ee0" stroke-width="0.588223496929426" stroke-opacity="0.7245934481262538"/>
<line x1="506.17" y1="179.50" x2="506.20" y2="179.52" stroke="#9e9ee0" stroke-width="0.5329030890099172" stroke-opacity="0.8248508903669666"/>
<line x1="359.95" y1="249.01" x2="436.17" y2="179.50" stroke="#b4b4ea" stroke-width="0.4952677764226699" stroke-opacity="0.8808169743212232"/>
<line x1="382.36" y1="270.12" x2="481.72" y2="179.50" stroke="#c4c4ee" stroke-width="0.5798773255563627" stroke-opacity="0.6993738603157811"/>
<line x1="286.85" y1="179.82" x2="287.18" y2="179.52" stroke="#d6d6f6" stroke-width="0.6457542324556762" stroke-opacity="0.6634185493342148"/>
<line x1="326.96" y1="219.59" x2="370.91" y2="179.50" stroke="#9e9ee0" stroke-width="0.5520246196104921" stroke-opacity="0.5320569912326902"/>
<line x1="456.16" y1="193.20" x2="462.74" y2="199.20" stroke="#d6d6f6" stroke-width="0.7184742913423299" stroke-opacity="0.5269624500350917"/>
<line x1="428.62" y1="217.77" x2="448.68" y2="236.07" stroke="#9e9ee0" stroke-width="0.6732126070088272" stroke-opacity="0.6318416107166631"/>
<line x1="391.99" y1="278.90" x2="500.98" y2="179.50" stroke="#c4c4ee" stroke-width="0.6421984084102618" stroke-opacity="0.9702478663716982"/>
<line x1="367.23" y1="256.32" x2="451.46" y2="179.50" stroke="#d6d6f6" stroke-width="0.6196685600434662" stroke-opacity="0.758585909593617"/>
<line x1="459.47" y1="214.99" x2="465.62" y2="220.61" stroke="#d6d6f6" stroke-width="0.6764280293821342" stroke-opacity="0.5331264367791684"/>
<line x1="389.42" y1="276.56" x2="407.01" y2="260.52" stroke="#b4b4ea" stroke-width="0.4895042247892093" stroke-opacity="0.9663000656386654"/>
<line x1="489.98" y1="191.35" x2="492.15" y2="193.33" stroke="#b4b4ea" stroke-width="0.6688442804739162" stroke-opacity="0.6110111497843322"/>
<line x1="334.69" y1="179.50" x2="354.73" y2="197.78" stroke="#9e9ee0" stroke-width="0.7270526288957864" stroke-opacity="0.530364732370142"/>
<line x1="460.10" y1="179.50" x2="464.29" y2="183.32" stroke="#9e9ee0" stroke-width="0.6511213403563985" stroke-opacity="0.5490352258066249"/>
<line x1="421.83" y1="217.72" x2="445.31" y2="239.13" stroke="#d6d6f6" stroke-width="0.5118932252087202" stroke-opacity="0.7743353595141813"/>
<line x1="372.86" y1="205.11" x2="427.74" y2="255.16" stroke="#c4c4ee" stroke-width="0.7832742177985028" stroke-opacity="0.9373154460523557"/>
<line x1="410.34" y1="253.86" x2="414.06" y2="250.47" stroke="#d6d6f6" stroke-width="0.674229428033476" stroke-opacity="0.585904681337281"/>
<line x1="289.82" y1="179.50" x2="400.26" y2="280.22" stroke="#c4c4ee" stroke-width="0.599804217677562" stroke-opacity="0.7720501923757546"/>
<line x1="412.83" y1="179.50" x2="444.39" y2="208.28" stroke="#d6d6f6" stroke-width="0.7727447037872819" stroke-opacity="0.7689364845286031"/>
<line x1="384.87" y1="179.50" x2="447.78" y2="236.88" stroke="#b4b4ea" stroke-width="0.6066494278831889" stroke-opacity="0.710774852674212"/>
<line x1="492.72" y1="180.42" x2="495.95" y2="183.36" stroke="#c4c4ee" stroke-width="0.5640704440016696" stroke-opacity="0.9920044171522417"/>
<line x1="385.55" y1="222.56" x2="396.08" y2="232.16" stroke="#b4b4ea" stroke-width="0.7744559856971225" stroke-opacity="0.6828609448565109"/>
<line x1="473.22" y1="198.65" x2="494.22" y2="179.50" stroke="#b4b4ea" stroke-width="0.47320405697699186" stroke-opacity="0.8234658568088615"/>
<line x1="302.09" y1="196.91" x2="321.18" y2="179.50" stroke="#b4b4ea" stroke-width="0.6699718587954193" stroke-opacity="0.7635491157817094"/>
<line x1="373.50" y1="190.37" x2="385.41" y2="179.50" stroke="#b4b4ea" stroke-width="0.5760598655889697" stroke-opacity="0.9423523037238482"/>
<line x1="376.44" y1="264.71" x2="411.84" y2="232.43" stroke="#9e9ee0" stroke-width="0.48181736925615387" stroke-opacity="0.7550890075600992"/>
<line x1="435.10" y1="179.50" x2="472.90" y2="213.97" stroke="#b4b4ea" stroke-width="0.7734557186131696" stroke-opacity="0.5187854397140225"/>
<line x1="314.88" y1="179.50" x2="412.79" y2="268.80" stroke="#b4b4ea" stroke-width="0.7960488559337753" stroke-opacity="0.83007975251293"/>
<line x1="449.58" y1="179.50" x2="473.81" y2="201.59" stroke="#b4b4ea" stroke-width="0.7175012926502555" stroke-opacity="0.9028189308120699"/>
<line x1="450.12" y1="179.50" x2="452.15" y2="181.35" stroke="#b4b4ea" stroke-width="0.5560291364361764" stroke-opacity="0.8214422029270299"/>
<line x1="340.07" y1="179.50" x2="369.94" y2="206.73" stroke="#9e9ee0" stroke-width="0.7015762188746528" stroke-opacity="0.9412177798588571"/>
<line x1="288.57" y1="181.02" x2="289.64" y2="180.04" stroke="#c4c4ee" stroke-width="0.7423816382336567" stroke-opacity="0.6163037272888402"/>
<line x1="351.33" y1="241.82" x2="419.66" y2="179.50" stroke="#b4b4ea" stroke-width="0.7849439378056906" stroke-opacity="0.7035546747329224"/>
<line x1="360.57" y1="234.47" x2="420.85" y2="179.50" stroke="#c4c4ee" stroke-width="0.7749759600266579" stroke-opacity="0.5340477674767076"/>
<line x1="447.49" y1="179.50" x2="462.30" y2="193.01" stroke="#b4b4ea" stroke-width="0.7207034886654204" stroke-opacity="0.5776652582415316"/>
<line x1="475.91" y1="179.50" x2="483.19" y2="186.14" stroke="#d6d6f6" stroke-width="0.702971983912789" stroke-opacity="0.6393098698863255"/>
<line x1="487.62" y1="179.50" x2="499.16" y2="190.02" stroke="#d6d6f6" stroke-width="0.46191048164633375" stroke-opacity="0.679912778833228"/>
<line x1="323.55" y1="208.71" x2="398.69" y2="277.24" stroke="#d6d6f6" stroke-width="0.5366406507171384" stroke-opacity="0.6776346136512864"/>
<line x1="463.94" y1="179.50" x2="487.32" y2="200.82" stroke="#b4b4ea" stroke-width="0.47493161439974213" stroke-opacity="0.9287726856348579"/>
<line x1="372.99" y1="261.57" x2="462.98" y2="179.50" stroke="#b4b4ea" stroke-width="0.5363203606970592" stroke-opacity="0.69649879501732"/>
<line x1="384.61" y1="265.09" x2="387.12" y2="267.38" stroke="#9e9ee0" stroke-width="0.5158106713175232" stroke-opacity="0.7612068612056986"/>
<line x1="503.36" y1="179.50" x2="507.03" y2="182.85" stroke="#9e9ee0" stroke-width="0.47816953430172376" stroke-opacity="0.5071212189333795"/>
<line x1="362.27" y1="179.50" x2="416.40" y2="228.86" stroke="#d6d6f6" stroke-width="0.709552413436886" stroke-opacity="0.8033454991665177"/>
<line x1="368.33" y1="179.50" x2="439.52" y2="244.42" stroke="#9e9ee0" stroke-width="0.7390808279209456" stroke-opacity="0.7163482686931213"/>
<line x1="419.68" y1="179.50" x2="460.63" y2="216.84" stroke="#c4c4ee" stroke-width="0.5053427845008118" stroke-opacity="0.9395161995142416"/>
<line x1="396.97" y1="184.56" x2="397.70" y2="183.90" stroke="#9e9ee0" stroke-width="0.7367273675776153" stroke-opacity="0.6026863378110816"/>
<line x1="305.36" y1="179.50" x2="408.03" y2="273.13" stroke="#c4c4ee" stroke-width="0.5298665696330338" stroke-opacity="0.662905076230029"/>
<line x1="304.43" y1="192.20" x2="318.35" y2="179.50" stroke="#9e9ee0" stroke-width="0.5037168769483725" stroke-opacity="0.5441268300994397"/>
<line x1="340.18" y1="231.65" x2="350.02" y2="222.67" stroke="#c4c4ee" stroke-width="0.7914014529869904" stroke-opacity="0.8225611722828511"/>
<line x1="502.02" y1="179.50" x2="506.36" y2="183.46" stroke="#9e9ee0" stroke-width="0.6583825187676173" stroke-opacity="0.930466549449322"/>
<line x1="473.34" y1="212.71" x2="473.81" y2="213.14" stroke="#d6d6f6" stroke-width="0.6226725825600876" stroke-opacity="0.8949869320586199"/>
<line x1="414.19" y1="214.87" x2="418.98" y2="210.50" stroke="#9e9ee0" stroke-width="0.4669926869825693" stroke-opacity="0.5656353256156665"/>
<line x1="386.15" y1="179.50" x2="448.43" y2="236.29" stroke="#c4c4ee" stroke-width="0.5173846744049984" stroke-opacity="0.9070551827926554"/>
<line x1="483.32" y1="197.24" x2="487.29" y2="200.85" stroke="#b4b4ea" stroke-width="0.48368460185392215" stroke-opacity="0.7664844849195334"/>
<line x1="321.00" y1="210.57" x2="338.62" y2="194.50" stroke="#b4b4ea" stroke-width="0.561209964593247" stroke-opacity="0.5233619197172577"/>
<line x1="456.40" y1="179.50" x2="463.62" y2="186.08" stroke="#c4c4ee" stroke-width="0.6883396830607325" stroke-opacity="0.9632513170753306"/>
<line x1="406.25" y1="179.50" x2="437.59" y2="208.09" stroke="#9e9ee0" stroke-width="0.5107614604048925" stroke-opacity="0.910254261937293"/>
<line x1="328.03" y1="211.00" x2="362.58" y2="179.50" stroke="#9e9ee0" stroke-width="0.6258102793183818" stroke-opacity="0.6147969561110085"/>
<line x1="288.30" y1="182.75" x2="291.85" y2="179.50" stroke="#d6d6f6" stroke-width="0.7403686181997776" stroke-opacity="0.5918482206538914"/>
<line x1="318.38" y1="211.76" x2="353.75" y2="179.50" stroke="#b4b4ea" stroke-width="0.4558300451714754" stroke-opacity="0.5924652824598122"/>
<line x1="367.38" y1="256.46" x2="451.77" y2="179.50" stroke="#b4b4ea" stroke-width="0.7689796168529305" stroke-opacity="0.8002963701777989"/>
<line x1="314.32" y1="208.06" x2="336.06" y2="188.23" stroke="#c4c4ee" stroke-width="0.7165126559228161" stroke-opacity="0.5371479251574987"/>
<line x1="376.02" y1="209.49" x2="397.30" y2="190.09" stroke="#b4b4ea" stroke-width="0.5685162276058253" stroke-opacity="0.927817887855827"/>
<line x1="373.06" y1="261.64" x2="463.13" y2="179.50" stroke="#d6d6f6" stroke-width="0.7011937656372985" stroke-opacity="0.58771965757901"/>
<line x1="386.14" y1="253.84" x2="467.65" y2="179.50" stroke="#b4b4ea" stroke-width="0.6948645299633069" stroke-opacity="0.8029499788347478"/>
<line x1="483.91" y1="183.76" x2="488.58" y2="179.50" stroke="#b4b4ea" stroke-width="0.46628144340153155" stroke-opacity="0.8373148819303572"/>
<line x1="321.36" y1="212.11" x2="357.12" y2="179.50" stroke="#b4b4ea" stroke-width="0.5563433822471644" stroke-opacity="0.6606092220219077"/>
<line x1="342.42" y1="230.03" x2="397.83" y2="179.50" stroke="#c4c4ee" stroke-width="0.47749280570184366" stroke-opacity="0.9429774163411151"/>
<line x1="369.99" y1="179.50" x2="401.07" y2="207.84" stroke="#d6d6f6" stroke-width="0.5387660952806751" stroke-opacity="0.7830563168207177"/>
<line x1="393.02" y1="220.03" x2="429.64" y2="253.43" stroke="#9e9ee0" stroke-width="0.646054423137174" stroke-opacity="0.7070280783019164"/>
<line x1="341.79" y1="179.50" x2="426.24" y2="256.52" stroke="#b4b4ea" stroke-width="0.5692030972914903" stroke-opacity="0.7566589442875709"/>
<line x1="394.93" y1="281.58" x2="471.92" y2="211.36" stroke="#9e9ee0" stroke-width="0.6954815903673406" stroke-opacity="0.6769113267174218"/>
<line x1="443.26" y1="188.67" x2="452.98" y2="197.54" stroke="#d6d6f6" stroke-width="0.5538408039243354" stroke-opacity="0.6732903650519128"/>
<line x1="498.42" y1="180.32" x2="504.11" y2="185.51" stroke="#9e9ee0" stroke-width="0.6769266215052026" stroke-opacity="0.8398230026626968"/>
<line x1="352.04" y1="219.16" x2="371.70" y2="201.22" stroke="#c4c4ee" stroke-width="0.603033679617773" stroke-opacity="0.7674488163538322"/>
<line x1="288.66" y1="179.50" x2="399.68" y2="280.75" stroke="#c4c4ee" stroke-width="0.6359572135186908" stroke-opacity="0.5924473131482553"/>
<line x1="429.35" y1="189.13" x2="439.90" y2="179.50" stroke="#d6d6f6" stroke-width="0.5202057024323139" stroke-opacity="0.7865770749043506"/>
<line x1="313.74" y1="179.50" x2="412.22" y2="269.31" stroke="#9e9ee0" stroke-width="0.4976068280415369" stroke-opacity="0.8118234356752747"/>
<line x1="314.09" y1="197.48" x2="333.80" y2="179.50" stroke="#c4c4ee" stroke-width="0.606079763035307" stroke-opacity="0.9812263523944793"/>
<line x1="495.77" y1="179.50" x2="503.24" y2="186.31" stroke="#c4c4ee" stroke-width="0.7948486976316903" stroke-opacity="0.5503873495415204"/>
<line x1="316.65" y1="179.50" x2="390.08" y2="246.47" stroke="#9e9ee0" stroke-width="0.747538519423281" stroke-opacity="0.9856979207030048"/>
<line x1="318.99" y1="211.99" x2="354.62" y2="179.50" stroke="#b4b4ea" stroke-width="0.7700145270245861" stroke-opacity="0.7468930081443232"/>
<line x1="506.39" y1="179.50" x2="507.09" y2="180.13" stroke="#b4b4ea" stroke-width="0.5437749082138456" stroke-opacity="0.5949429862034943"/>
<line x1="422.86" y1="197.53" x2="442.63" y2="179.50" stroke="#c4c4ee" stroke-width="0.7057319904127934" stroke-opacity="0.7449623428259949"/>
<line x1="296.00" y1="179.50" x2="403.35" y2="277.40" stroke="#b4b4ea" stroke-width="0.5847947869395077" stroke-opacity="0.6095990205272023"/>
<line x1="356.05" y1="224.82" x2="405.75" y2="179.50" stroke="#9e9ee0" stroke-width="0.5664888669269056" stroke-opacity="0.8214346673155777"/>
<line x1="438.20" y1="230.56" x2="439.69" y2="231.93" stroke="#c4c4ee" stroke-width="0.6768642175872615" stroke-opacity="0.7875676769415798"/>
<line x1="301.68" y1="196.54" x2="320.37" y2="179.50" stroke="#9e9ee0" stroke-width="0.6646677621617516" stroke-opacity="0.5131074248880678"/>
<line x1="377.14" y1="265.35" x2="471.27" y2="179.50" stroke="#d6d6f6" stroke-width="0.5207265244816681" stroke-opacity="0.7983014311359908"/>
<line x1="362.05" y1="251.60" x2="441.11" y2="179.50" stroke="#d6d6f6" stroke-width="0.7564453710666776" stroke-opacity="0.7541276696617552"/>
<line x1="467.42" y1="179.50" x2="489.06" y2="199.24" stroke="#b4b4ea" stroke-width="0.5058086033063857" stroke-opacity="0.831821473841672"/>
<line x1="386.86" y1="179.50" x2="430.88" y2="219.64" stroke="#c4c4ee" stroke-width="0.4734018599420107" stroke-opacity="0.5210765316438138"/>
<line x1="300.81" y1="195.74" x2="318.61" y2="179.50" stroke="#9e9ee0" stroke-width="0.46592091292807586" stroke-opacity="0.6981007479436417"/>
<line x1="389.81" y1="276.91" x2="392.93" y2="274.07" stroke="#9e9ee0" stroke-width="0.7973491527641718" stroke-opacity="0.8223352698716644"/>
<line x1="294.11" y1="179.50" x2="402.41" y2="278.26" stroke="#d6d6f6" stroke-width="0.5570459220424511" stroke-opacity="0.8564243428362517"/>
<line x1="328.75" y1="209.26" x2="361.38" y2="179.50" stroke="#d6d6f6" stroke-width="0.5107098057335018" stroke-opacity="0.720135538919811"/>
<line x1="317.37" y1="190.60" x2="329.55" y2="179.50" stroke="#d6d6f6" stroke-width="0.7489840251397295" stroke-opacity="0.879358865005271"/>
<line x1="307.45" y1="201.80" x2="331.91" y2="179.50" stroke="#d6d6f6" stroke-width="0.47390486752755057" stroke-opacity="0.6290016514306371"/>
<line x1="356.72" y1="189.98" x2="368.21" y2="179.50" stroke="#c4c4ee" stroke-width="0.6242144824524137" stroke-opacity="0.6221178197772546"/>
<line x1="492.23" y1="195.42" x2="509.68" y2="179.50" stroke="#b4b4ea" stroke-width="0.4515884385323145" stroke-opacity="0.8419898784152398"/>
<line x1="445.79" y1="179.50" x2="478.25" y2="209.10" stroke="#b4b4ea" stroke-width="0.627028099687996" stroke-opacity="0.6575523536631311"/>
<line x1="342.17" y1="179.50" x2="426.44" y2="256.35" stroke="#b4b4ea" stroke-width="0.5621481011802033" stroke-opacity="0.940741443770193"/>
<line x1="336.86" y1="228.62" x2="390.72" y2="179.50" stroke="#d6d6f6" stroke-width="0.5836922763667716" stroke-opacity="0.5588689510402396"/>
<line x1="297.86" y1="183.53" x2="302.27" y2="179.50" stroke="#9e9ee0" stroke-width="0.4946804651179435" stroke-opacity="0.6491351775024178"/>
<line x1="304.60" y1="179.50" x2="313.42" y2="187.55" stroke="#9e9ee0" stroke-width="0.7267206000371031" stroke-opacity="0.8006754513757643"/>
<line x1="287.35" y1="183.47" x2="288.03" y2="182.85" stroke="#9e9ee0" stroke-width="0.608853637985958" stroke-opacity="0.7485023201538419"/>
<line x1="471.07" y1="187.84" x2="471.07" y2="187.85" stroke="#9e9ee0" stroke-width="0.7654509073024169" stroke-opacity="0.7770876169139782"/>
<line x1="489.68" y1="183.46" x2="498.02" y2="191.07" stroke="#9e9ee0" stroke-width="0.6893368650011236" stroke-opacity="0.8979895265280309"/>
<line x1="396.63" y1="179.50" x2="412.66" y2="194.12" stroke="#9e9ee0" stroke-width="0.7598520013350907" stroke-opacity="0.5153024350646944"/>
<line x1="427.58" y1="214.11" x2="450.17" y2="234.71" stroke="#b4b4ea" stroke-width="0.48991942171741953" stroke-opacity="0.9236187686818379"/>
<line x1="334.75" y1="226.70" x2="386.50" y2="179.50" stroke="#b4b4ea" stroke-width="0.7291333051068096" stroke-opacity="0.5353318653417336"/>
<line x1="416.90" y1="179.50" x2="439.33" y2="199.96" stroke="#d6d6f6" stroke-width="0.7346634764096083" stroke-opacity="0.9344074260583963"/>
<line x1="448.14" y1="179.50" x2="476.19" y2="205.08" stroke="#9e9ee0" stroke-width="0.6124503829092444" stroke-opacity="0.5522241973830024"/>
<line x1="338.36" y1="222.05" x2="341.76" y2="218.95" stroke="#c4c4ee" stroke-width="0.752353329220316" stroke-opacity="0.7029456781193317"/>
<line x1="315.84" y1="209.45" x2="317.40" y2="208.03" stroke="#b4b4ea" stroke-width="0.5557714543181608" stroke-opacity="0.6664949502639761"/>
<line x1="343.52" y1="234.70" x2="348.89" y2="229.81" stroke="#c4c4ee" stroke-width="0.5229880484823343" stroke-opacity="0.8468261751858566"/>
<line x1="395.81" y1="179.50" x2="453.25" y2="231.89" stroke="#c4c4ee" stroke-width="0.7343610715053097" stroke-opacity="0.6120247309010196"/>
<line x1="300.42" y1="195.07" x2="303.16" y2="192.56" stroke="#d6d6f6" stroke-width="0.5936950673540511" stroke-opacity="0.559321173895473"/>
<line x1="284.90" y1="179.50" x2="397.80" y2="282.47" stroke="#c4c4ee" stroke-width="0.6793056760110853" stroke-opacity="0.6960745337689789"/>
<line x1="498.30" y1="183.93" x2="501.86" y2="187.18" stroke="#d6d6f6" stroke-width="0.639828728859257" stroke-opacity="0.9992621771496045"/>
<line x1="380.94" y1="213.28" x2="388.13" y2="206.73" stroke="#9e9ee0" stroke-width="0.6890244076732474" stroke-opacity="0.9764918900430395"/>
<line x1="394.30" y1="281.00" x2="505.59" y2="179.50" stroke="#b4b4ea" stroke-width="0.7262507208399747" stroke-opacity="0.8462234092060501"/>
<line x1="333.00" y1="180.30" x2="333.87" y2="179.50" stroke="#b4b4ea" stroke-width="0.6142365658455646" stroke-opacity="0.6907817216069776"/>
<line x1="344.01" y1="235.14" x2="405.03" y2="179.50" stroke="#d6d6f6" stroke-width="0.5722687509984916" stroke-opacity="0.7284554821699203"/>
<line x1="398.27" y1="210.87" x2="432.66" y2="179.50" stroke="#9e9ee0" stroke-width="0.6271117629981602" stroke-opacity="0.9760787779622879"/>
<line x1="397.33" y1="232.37" x2="417.41" y2="214.06" stroke="#c4c4ee" stroke-width="0.5746171647829774" stroke-opacity="0.5022996226645878"/>
<line x1="507.02" y1="179.50" x2="508.86" y2="181.18" stroke="#c4c4ee" stroke-width="0.5680030355049804" stroke-opacity="0.663241428671359"/>
<line x1="306.13" y1="200.60" x2="329.26" y2="179.50" stroke="#c4c4ee" stroke-width="0.628855975396005" stroke-opacity="0.5875921012465102"/>
<line x1="424.36" y1="221.01" x2="444.78" y2="239.62" stroke="#d6d6f6" stroke-width="0.7642924582099355" stroke-opacity="0.9728401241799954"/>
<line x1="306.26" y1="200.71" x2="329.51" y2="179.50" stroke="#c4c4ee" stroke-width="0.6136226433072725" stroke-opacity="0.6404236244651165"/>
<line x1="462.27" y1="179.50" x2="465.01" y2="182.00" stroke="#d6d6f6" stroke-width="0.7230090445491103" stroke-opacity="0.9713610259813718"/>
<line x1="379.08" y1="267.13" x2="411.17" y2="237.86" stroke="#b4b4ea" stroke-width="0.6800638396709566" stroke-opacity="0.578244695651728"/>
<line x1="350.70" y1="191.57" x2="385.76" y2="223.54" stroke="#c4c4ee" stroke-width="0.7544733004438102" stroke-opacity="0.671642931270281"/>
<line x1="442.81" y1="233.99" x2="502.57" y2="179.50" stroke="#d6d6f6" stroke-width="0.6341824758731174" stroke-opacity="0.6676333629434974"/>
<line x1="305.47" y1="192.43" x2="319.65" y2="179.50" stroke="#9e9ee0" stroke-width="0.494415607423017" stroke-opacity="0.5049963699791775"/>
<line x1="450.63" y1="186.28" x2="476.95" y2="210.28" stroke="#d6d6f6" stroke-width="0.6223063263206472" stroke-opacity="0.9535793417661851"/>
<line x1="348.30" y1="208.56" x2="412.70" y2="267.29" stroke="#d6d6f6" stroke-width="0.516836517287078" stroke-opacity="0.8177809313021482"/>
<line x1="408.51" y1="233.06" x2="467.24" y2="179.50" stroke="#9e9ee0" stroke-width="0.7850435442278993" stroke-opacity="0.8712370607558991"/>
<line x1="324.75" y1="197.06" x2="344.01" y2="179.50" stroke="#9e9ee0" stroke-width="0.6076290413910681" stroke-opacity="0.5377830134909085"/>
<line x1="314.97" y1="208.66" x2="346.95" y2="179.50" stroke="#c4c4ee" stroke-width="0.6002444398566715" stroke-opacity="0.6135861468993078"/>
<line x1="380.01" y1="267.97" x2="461.70" y2="193.48" stroke="#c4c4ee" stroke-width="0.7886691270972841" stroke-opacity="0.8326904038401988"/>
<line x1="289.12" y1="185.08" x2="295.24" y2="179.50" stroke="#c4c4ee" stroke-width="0.7997260365337582" stroke-opacity="0.8169485937857542"/>
<line x1="421.63" y1="189.74" x2="460.55" y2="225.24" stroke="#c4c4ee" stroke-width="0.7990412407862422" stroke-opacity="0.8359062015687818"/>
<line x1="361.27" y1="249.73" x2="379.88" y2="232.76" stroke="#9e9ee0" stroke-width="0.510492424663097" stroke-opacity="0.8101468570577124"/>
<line x1="331.85" y1="224.05" x2="369.80" y2="189.45" stroke="#c4c4ee" stroke-width="0.6128328560740193" stroke-opacity="0.8162278856748397"/>
<line x1="364.90" y1="179.50" x2="399.98" y2="211.50" stroke="#c4c4ee" stroke-width="0.5688562405848754" stroke-opacity="0.8955449329646983"/>
<line x1="371.27" y1="257.16" x2="456.43" y2="179.50" stroke="#c4c4ee" stroke-width="0.5067185796932019" stroke-opacity="0.6759938285219307"/>
<line x1="409.79" y1="240.59" x2="426.75" y2="256.06" stroke="#d6d6f6" stroke-width="0.5062544801717176" stroke-opacity="0.6780968748167135"/>
<line x1="394.21" y1="280.92" x2="436.77" y2="242.10" stroke="#b4b4ea" stroke-width="0.6220397062796891" stroke-opacity="0.6676162196554907"/>
<line x1="402.11" y1="265.73" x2="409.13" y2="272.13" stroke="#9e9ee0" stroke-width="0.7993078322980662" stroke-opacity="0.765123440791784"/>
<line x1="391.90" y1="233.80" x2="411.17" y2="251.37" stroke="#9e9ee0" stroke-width="0.5984605799170878" stroke-opacity="0.8225830255896586"/>
<line x1="352.18" y1="179.50" x2="431.44" y2="251.79" stroke="#9e9ee0" stroke-width="0.7134480906994922" stroke-opacity="0.6973610056251625"/>
<line x1="345.61" y1="220.66" x2="390.74" y2="179.50" stroke="#9e9ee0" stroke-width="0.571554225191652" stroke-opacity="0.7648690068536538"/>
<line x1="469.92" y1="211.52" x2="472.76" y2="214.11" stroke="#9e9ee0" stroke-width="0.4773547348919457" stroke-opacity="0.6688098258996715"/>
<line x1="382.26" y1="270.02" x2="471.05" y2="189.04" stroke="#9e9ee0" stroke-width="0.5681469045872516" stroke-opacity="0.9323165258875339"/>
<line x1="442.21" y1="189.60" x2="470.92" y2="215.78" stroke="#b4b4ea" stroke-width="0.7456403403596488" stroke-opacity="0.5751635886475419"/>
<line x1="407.80" y1="179.50" x2="445.00" y2="213.42" stroke="#b4b4ea" stroke-width="0.6225641096490071" stroke-opacity="0.6532182332577599"/>
<line x1="491.91" y1="179.50" x2="500.57" y2="187.40" stroke="#c4c4ee" stroke-width="0.4908045529794326" stroke-opacity="0.871301005296899"/>
<line x1="365.61" y1="179.50" x2="396.71" y2="207.86" stroke="#b4b4ea" stroke-width="0.7027717205422375" stroke-opacity="0.5828620465765431"/>
<line x1="331.33" y1="179.66" x2="331.50" y2="179.50" stroke="#c4c4ee" stroke-width="0.6755578991801503" stroke-opacity="0.9425141432319661"/>
<line x1="497.58" y1="179.50" x2="501.89" y2="183.43" stroke="#9e9ee0" stroke-width="0.582861850942407" stroke-opacity="0.870513221409879"/>
<line x1="287.75" y1="183.08" x2="291.68" y2="179.50" stroke="#c4c4ee" stroke-width="0.6263296936215809" stroke-opacity="0.5706012439194413"/>
<line x1="453.03" y1="220.23" x2="497.69" y2="179.50" stroke="#d6d6f6" stroke-width="0.4672212341801304" stroke-opacity="0.6687629467858083"/>
<line x1="284.22" y1="180.57" x2="284.55" y2="180.26" stroke="#d6d6f6" stroke-width="0.5137546055427392" stroke-opacity="0.9115119214882352"/>
<line x1="293.27" y1="188.87" x2="297.54" y2="184.97" stroke="#b4b4ea" stroke-width="0.560204247198996" stroke-opacity="0.9253719081460279"/>
<line x1="384.88" y1="206.57" x2="415.27" y2="234.29" stroke="#d6d6f6" stroke-width="0.6458282817425756" stroke-opacity="0.6195994376078455"/>
<line x1="405.44" y1="264.91" x2="405.59" y2="265.04" stroke="#d6d6f6" stroke-width="0.7682085632376339" stroke-opacity="0.9496444287063187"/>
<line x1="509.60" y1="179.65" x2="510.07" y2="180.07" stroke="#b4b4ea" stroke-width="0.7603988049381327" stroke-opacity="0.8256264755112015"/>
<line x1="308.02" y1="185.54" x2="314.64" y2="179.50" stroke="#b4b4ea" stroke-width="0.6821876912177539" stroke-opacity="0.8746632259742076"/>
<line x1="466.99" y1="179.50" x2="488.85" y2="199.43" stroke="#d6d6f6" stroke-width="0.7328368271626533" stroke-opacity="0.7852789578850592"/>
<line x1="479.49" y1="192.58" x2="483.10" y2="195.87" stroke="#b4b4ea" stroke-width="0.677308097886161" stroke-opacity="0.7964609783406152"/>
<line x1="447.46" y1="179.50" x2="479.08" y2="208.34" stroke="#b4b4ea" stroke-width="0.5964080880620249" stroke-opacity="0.537891896839968"/>
<line x1="421.22" y1="186.79" x2="439.14" y2="203.13" stroke="#d6d6f6" stroke-width="0.6158986094869849" stroke-opacity="0.9109507021138885"/>
<line x1="350.58" y1="179.50" x2="364.51" y2="192.21" stroke="#c4c4ee" stroke-width="0.711194873728074" stroke-opacity="0.8761752433473751"/>
<line x1="376.42" y1="237.32" x2="381.04" y2="233.11" stroke="#9e9ee0" stroke-width="0.6027095416735829" stroke-opacity="0.7062830891568124"/>
<line x1="337.07" y1="179.50" x2="399.31" y2="236.26" stroke="#b4b4ea" stroke-width="0.5055588136377868" stroke-opacity="0.8850064436734055"/>
<line x1="436.09" y1="179.50" x2="447.82" y2="190.20" stroke="#d6d6f6" stroke-width="0.7794049675587574" stroke-opacity="0.6513525668076803"/>
<line x1="434.87" y1="244.46" x2="435.49" y2="245.04" stroke="#b4b4ea" stroke-width="0.680840556316062" stroke-opacity="0.5446923381349273"/>
<line x1="481.15" y1="179.50" x2="482.80" y2="181.00" stroke="#c4c4ee" stroke-width="0.5301462526305947" stroke-opacity="0.9750844278921509"/>
<line x1="369.60" y1="207.53" x2="400.23" y2="179.60" stroke="#d6d6f6" stroke-width="0.7728880738850981" stroke-opacity="0.9354116699387749"/>
<line x1="396.84" y1="279.00" x2="398.87" y2="280.86" stroke="#d6d6f6" stroke-width="0.7650096981505516" stroke-opacity="0.7222965548995968"/>
<line x1="327.33" y1="219.92" x2="371.65" y2="179.50" stroke="#c4c4ee" stroke-width="0.6707728789923638" stroke-opacity="0.7381440466045166"/>
<line x1="376.93" y1="257.19" x2="385.31" y2="264.84" stroke="#d6d6f6" stroke-width="0.6360061065396304" stroke-opacity="0.832024676860512"/>
<line x1="473.88" y1="210.97" x2="508.39" y2="179.50" stroke="#9e9ee0" stroke-width="0.6836832756775737" stroke-opacity="0.5635143545739876"/>
<line x1="379.34" y1="179.50" x2="444.11" y2="238.57" stroke="#9e9ee0" stroke-width="0.5965989197242527" stroke-opacity="0.9951481919770855"/>
<line x1="367.75" y1="256.79" x2="451.30" y2="180.60" stroke="#b4b4ea" stroke-width="0.7177721976063753" stroke-opacity="0.6610729010199308"/>
<line x1="421.91" y1="253.47" x2="425.75" y2="256.97" stroke="#b4b4ea" stroke-width="0.5187891120737177" stroke-opacity="0.8275862324775918"/>
<line x1="375.84" y1="179.50" x2="443.27" y2="241.00" stroke="#d6d6f6" stroke-width="0.7873091850325099" stroke-opacity="0.8184079224905354"/>
<line x1="422.43" y1="194.35" x2="441.60" y2="211.84" stroke="#c4c4ee" stroke-width="0.4764497571202155" stroke-opacity="0.9785266542231581"/>
<line x1="471.50" y1="179.50" x2="476.33" y2="183.90" stroke="#c4c4ee" stroke-width="0.46182589146505093" stroke-opacity="0.9846831234997135"/>
<line x1="343.54" y1="179.50" x2="390.41" y2="222.25" stroke="#9e9ee0" stroke-width="0.5789815649467598" stroke-opacity="0.8876154351609016"/>
<line x1="369.93" y1="258.78" x2="456.86" y2="179.50" stroke="#d6d6f6" stroke-width="0.5027112047261292" stroke-opacity="0.7279496686722406"/>
<line x1="387.06" y1="246.19" x2="460.18" y2="179.50" stroke="#b4b4ea" stroke-width="0.7016530855271521" stroke-opacity="0.8283356574499998"/>
<line x1="380.35" y1="260.54" x2="396.29" y2="246.01" stroke="#9e9ee0" stroke-width="0.755033293434352" stroke-opacity="0.5610677857692983"/>
<line x1="362.50" y1="222.57" x2="409.72" y2="179.50" stroke="#9e9ee0" stroke-width="0.6908144693448474" stroke-opacity="0.7385230014238604"/>
<line x1="340.56" y1="179.50" x2="425.63" y2="257.08" stroke="#9e9ee0" stroke-width="0.7933576004295617" stroke-opacity="0.8334082800572054"/>
<line x1="388.26" y1="275.50" x2="493.53" y2="179.50" stroke="#d6d6f6" stroke-width="0.5889607854944796" stroke-opacity="0.6133465027422"/>
<line x1="474.70" y1="179.50" x2="477.50" y2="182.06" stroke="#d6d6f6" stroke-width="0.6567835190865603" stroke-opacity="0.7784759048564909"/>
<line x1="344.03" y1="198.47" x2="364.83" y2="179.50" stroke="#b4b4ea" stroke-width="0.6616642417100477" stroke-opacity="0.7896718472321262"/>
<line x1="388.08" y1="264.59" x2="411.33" y2="243.39" stroke="#9e9ee0" stroke-width="0.6506198155732147" stroke-opacity="0.7745884291608365"/>
<line x1="397.83" y1="182.36" x2="452.70" y2="232.40" stroke="#d6d6f6" stroke-width="0.6451138294227392" stroke-opacity="0.6312519058507204"/>
<line x1="398.28" y1="211.74" x2="433.64" y2="179.50" stroke="#c4c4ee" stroke-width="0.6494405555549316" stroke-opacity="0.9341572344131839"/>
<line x1="327.51" y1="220.10" x2="341.81" y2="207.06" stroke="#d6d6f6" stroke-width="0.6183861273348049" stroke-opacity="0.6541837595222759"/>
<line x1="375.48" y1="179.50" x2="396.37" y2="198.56" stroke="#9e9ee0" stroke-width="0.4966278414152264" stroke-opacity="0.8177866490032886"/>
<line x1="400.74" y1="219.01" x2="430.22" y2="245.89" stroke="#9e9ee0" stroke-width="0.4575868178552975" stroke-opacity="0.8721213102737224"/>
<line x1="381.57" y1="269.40" x2="480.14" y2="179.50" stroke="#b4b4ea" stroke-width="0.5793868257727891" stroke-opacity="0.8779521305624103"/>
<line x1="460.45" y1="179.52" x2="475.46" y2="193.20" stroke="#b4b4ea" stroke-width="0.5563499891304823" stroke-opacity="0.7167043109813134"/>
<line x1="287.84" y1="182.70" x2="288.20" y2="182.37" stroke="#9e9ee0" stroke-width="0.6035782229704503" stroke-opacity="0.9607497193003274"/>
<line x1="425.39" y1="179.50" x2="468.05" y2="218.40" stroke="#d6d6f6" stroke-width="0.7516761666412102" stroke-opacity="0.873297706404468"/>
<line x1="297.31" y1="183.83" x2="302.05" y2="179.50" stroke="#9e9ee0" stroke-width="0.7966422509896284" stroke-opacity="0.7923548587030936"/>
<line x1="359.32" y1="238.98" x2="379.65" y2="257.52" stroke="#9e9ee0" stroke-width="0.5510500781659421" stroke-opacity="0.9596701199145222"/>
<line x1="410.20" y1="209.44" x2="443.03" y2="179.50" stroke="#c4c4ee" stroke-width="0.7740585369110214" stroke-opacity="0.5996375290154461"/>
<line x1="389.04" y1="273.77" x2="390.11" y2="272.80" stroke="#d6d6f6" stroke-width="0.5682305736454302" stroke-opacity="0.7522995939708569"/>
<line x1="379.11" y1="238.91" x2="392.90" y2="226.33" stroke="#9e9ee0" stroke-width="0.5264888535565848" stroke-opacity="0.9209021878703363"/>
<path fill="#e2e2f9" d="M398.7 231.6l1.61 1.47l-1.61 1.47l-1.61 -1.47zM466.6 213.2l1.61 1.47l-1.61 1.47l-1.61 -1.47zM396.9 183.1l1.61 1.47l-1.61 1.47l-1.61 -1.47zM376.7 211.5l1.61 1.47l-1.61 1.47l-1.61 -1.47zM451.9 219.9l1.61 1.47l-1.61 1.47l-1.61 -1.47zM350.9 204.8l1.61 1.47l-1.61 1.47l-1.61 -1.47zM334.4 199.8l1.61 1.47l-1.61 1.47l-1.61 -1.47zM496.0 186.4l1.61 1.47l-1.61 1.47l-1.61 -1.47zM444.6 186.4l1.61 1.47l-1.61 1.47l-1.61 -1.47zM404.2 250.0l1.61 1.47l-1.61 1.47l-1.61 -1.47zM367.5 216.5l1.61 1.47l-1.61 1.47l-1.61 -1.47zM391.3 235.0l1.61 1.47l-1.61 1.47l-1.61 -1.47zM413.4 191.4l1.61 1.47l-1.61 1.47l-1.61 -1.47zM507.0 179.7l1.61 1.47l-1.61 1.47l-1.61 -1.47zM455.6 196.5l1.61 1.47l-1.61 1.47l-1.61 -1.47zM468.5 211.5l1.61 1.47l-1.61 1.47l-1.61 -1.47zM446.4 208.2l1.61 1.47l-1.61 1.47l-1.61 -1.47zM422.6 199.8l1.61 1.47l-1.61 1.47l-1.61 -1.47zM501.5 181.4l1.61 1.47l-1.61 1.47l-1.61 -1.47zM450.1 201.5l1.61 1.47l-1.61 1.47l-1.61 -1.47zM391.3 204.8l1.61 1.47l-1.61 1.47l-1.61 -1.47zM466.6 196.5l1.61 1.47l-1.61 1.47l-1.61 -1.47zM455.6 189.8l1.61 1.47l-1.61 1.47l-1.61 -1.47zM463.0 196.5l1.61 1.47l-1.61 1.47l-1.61 -1.47zM468.5 201.5l1.61 1.47l-1.61 1.47l-1.61 -1.47zM472.1 204.8l1.61 1.47l-1.61 1.47l-1.61 -1.47zM457.4 188.1l1.61 1.47l-1.61 1.47l-1.61 -1.47zM463.0 193.1l1.61 1.47l-1.61 1.47l-1.61 -1.47zM464.8 194.8l1.61 1.47l-1.61 1.47l-1.61 -1.47zM472.1 201.5l1.61 1.47l-1.61 1.47l-1.61 -1.47zM459.3 186.4l1.61 1.47l-1.61 1.47l-1.61 -1.47zM461.1 188.1l1.61 1.47l-1.61 1.47l-1.61 -1.47zM464.8 191.4l1.61 1.47l-1.61 1.47l-1.61 -1.47zM470.3 196.5l1.61 1.47l-1.61 1.47l-1.61 -1.47zM474.0 199.8l1.61 1.47l-1.61 1.47l-1.61 -1.47zM475.8 201.5l1.61 1.47l-1.61 1.47l-1.61 -1.47zM461.1 184.7l1.61 1.47l-1.61 1.47l-1.61 -1.47zM466.6 189.8l1.61 1.47l-1.61 1.47l-1.61 -1.47zM468.5 191.4l1.61 1.47l-1.61 1.47l-1.61 -1.47zM475.8 198.1l1.61 1.47l-1.61 1.47l-1.61 -1.47zM477.6 199.8l1.61 1.47l-1.61 1.47l-1.61 -1.47zM464.8 198.1l1.61 1.47l-1.61 1.47l-1.61 -1.47zM463.0 189.8l1.61 1.47l-1.61 1.47l-1.61 -1.47z"/>
<path fill="#c4c4f0" d="M420.7 201.5l1.61 1.47l-1.61 1.47l-1.61 -1.47zM499.7 183.1l1.61 1.47l-1.61 1.47l-1.61 -1.47zM497.8 188.1l1.61 1.47l-1.61 1.47l-1.61 -1.47zM306.9 198.1l1.61 1.47l-1.61 1.47l-1.61 -1.47zM382.2 193.1l1.61 1.47l-1.61 1.47l-1.61 -1.47zM437.2 196.5l1.61 1.47l-1.61 1.47l-1.61 -1.47zM400.5 273.5l1.61 1.47l-1.61 1.47l-1.61 -1.47zM347.3 231.6l1.61 1.47l-1.61 1.47l-1.61 -1.47zM396.8 240.0l1.61 1.47l-1.61 1.47l-1.61 -1.47zM433.6 179.7l1.61 1.47l-1.61 1.47l-1.61 -1.47zM435.4 228.3l1.61 1.47l-1.61 1.47l-1.61 -1.47zM442.8 191.4l1.61 1.47l-1.61 1.47l-1.61 -1.47zM426.2 189.8l1.61 1.47l-1.61 1.47l-1.61 -1.47zM341.8 223.2l1.61 1.47l-1.61 1.47l-1.61 -1.47zM431.7 208.2l1.61 1.47l-1.61 1.47l-1.61 -1.47zM409.7 194.8l1.61 1.47l-1.61 1.47l-1.61 -1.47zM453.8 208.2l1.61 1.47l-1.61 1.47l-1.61 -1.47zM463.0 209.8l1.61 1.47l-1.61 1.47l-1.61 -1.47zM497.8 181.4l1.61 1.47l-1.61 1.47l-1.61 -1.47zM378.5 199.8l1.61 1.47l-1.61 1.47l-1.61 -1.47zM371.1 253.4l1.61 1.47l-1.61 1.47l-1.61 -1.47zM385.8 199.8l1.61 1.47l-1.61 1.47l-1.61 -1.47zM290.3 179.7l1.61 1.47l-1.61 1.47l-1.61 -1.47zM294.0 179.7l1.61 1.47l-1.61 1.47l-1.61 -1.47zM338.1 179.7l1.61 1.47l-1.61 1.47l-1.61 -1.47zM341.8 179.7l1.61 1.47l-1.61 1.47l-1.61 -1.47zM356.5 179.7l1.61 1.47l-1.61 1.47l-1.61 -1.47zM393.2 179.7l1.61 1.47l-1.61 1.47l-1.61 -1.47zM415.2 179.7l1.61 1.47l-1.61 1.47l-1.61 -1.47zM470.3 179.7l1.61 1.47l-1.61 1.47l-1.61 -1.47zM477.6 179.7l1.61 1.47l-1.61 1.47l-1.61 -1.47zM371.1 179.7l1.61 1.47l-1.61 1.47l-1.61 -1.47z"/>
<path fill="#a4a4e8" d="M409.7 251.7l1.61 1.47l-1.61 1.47l-1.61 -1.47zM347.3 224.9l1.61 1.47l-1.61 1.47l-1.61 -1.47zM376.7 221.6l1.61 1.47l-1.61 1.47l-1.61 -1.47zM404.2 186.4l1.61 1.47l-1.61 1.47l-1.61 -1.47zM371.1 206.5l1.61 1.47l-1.61 1.47l-1.61 -1.47zM446.4 224.9l1.61 1.47l-1.61 1.47l-1.61 -1.47zM338.1 219.9l1.61 1.47l-1.61 1.47l-1.61 -1.47zM389.5 199.8l1.61 1.47l-1.61 1.47l-1.61 -1.47zM391.3 214.9l1.61 1.47l-1.61 1.47l-1.61 -1.47zM374.8 219.9l1.61 1.47l-1.61 1.47l-1.61 -1.47zM407.9 216.5l1.61 1.47l-1.61 1.47l-1.61 -1.47zM496.0 183.1l1.61 1.47l-1.61 1.47l-1.61 -1.47zM470.3 206.5l1.61 1.47l-1.61 1.47l-1.61 -1.47zM440.9 216.5l1.61 1.47l-1.61 1.47l-1.61 -1.47zM407.9 193.1l1.61 1.47l-1.61 1.47l-1.61 -1.47zM463.0 203.2l1.61 1.47l-1.61 1.47l-1.61 -1.47zM374.8 179.7l1.61 1.47l-1.61 1.47l-1.61 -1.47zM415.2 250.0l1.61 1.47l-1.61 1.47l-1.61 -1.47zM391.3 228.3l1.61 1.47l-1.61 1.47l-1.61 -1.47zM459.3 199.8l1.61 1.47l-1.61 1.47l-1.61 -1.47zM446.4 204.8l1.61 1.47l-1.61 1.47l-1.61 -1.47zM420.7 184.7l1.61 1.47l-1.61 1.47l-1.61 -1.47z"/>
<path fill="#fbd0d3" d="M459.3 189.8l1.61 1.47l-1.61 1.47l-1.61 -1.47zM472.1 184.7l1.61 1.47l-1.61 1.47l-1.61 -1.47zM466.6 179.7l1.61 1.47l-1.61 1.47l-1.61 -1.47zM483.2 184.7l1.61 1.47l-1.61 1.47l-1.61 -1.47zM323.4 179.7l1.61 1.47l-1.61 1.47l-1.61 -1.47zM325.2 181.4l1.61 1.47l-1.61 1.47l-1.61 -1.47zM328.9 184.7l1.61 1.47l-1.61 1.47l-1.61 -1.47zM336.3 191.4l1.61 1.47l-1.61 1.47l-1.61 -1.47zM327.1 179.7l1.61 1.47l-1.61 1.47l-1.61 -1.47zM330.7 183.1l1.61 1.47l-1.61 1.47l-1.61 -1.47zM339.9 191.4l1.61 1.47l-1.61 1.47l-1.61 -1.47zM330.7 179.7l1.61 1.47l-1.61 1.47l-1.61 -1.47zM345.4 179.7l1.61 1.47l-1.61 1.47l-1.61 -1.47zM367.5 193.1l1.61 1.47l-1.61 1.47l-1.61 -1.47zM325.2 184.7l1.61 1.47l-1.61 1.47l-1.61 -1.47zM332.6 191.4l1.61 1.47l-1.61 1.47l-1.61 -1.47zM336.3 194.8l1.61 1.47l-1.61 1.47l-1.61 -1.47zM367.5 189.8l1.61 1.47l-1.61 1.47l-1.61 -1.47zM371.1 193.1l1.61 1.47l-1.61 1.47l-1.61 -1.47zM376.7 198.1l1.61 1.47l-1.61 1.47l-1.61 -1.47zM369.3 188.1l1.61 1.47l-1.61 1.47l-1.61 -1.47zM374.8 193.1l1.61 1.47l-1.61 1.47l-1.61 -1.47zM373.0 188.1l1.61 1.47l-1.61 1.47l-1.61 -1.47zM376.7 191.4l1.61 1.47l-1.61 1.47l-1.61 -1.47zM378.5 193.1l1.61 1.47l-1.61 1.47l-1.61 -1.47zM426.2 179.7l1.61 1.47l-1.61 1.47l-1.61 -1.47zM457.4 191.4l1.61 1.47l-1.61 1.47l-1.61 -1.47zM461.1 194.8l1.61 1.47l-1.61 1.47l-1.61 -1.47zM470.3 203.2l1.61 1.47l-1.61 1.47l-1.61 -1.47zM461.1 191.4l1.61 1.47l-1.61 1.47l-1.61 -1.47zM474.0 203.2l1.61 1.47l-1.61 1.47l-1.61 -1.47zM468.5 194.8l1.61 1.47l-1.61 1.47l-1.61 -1.47zM472.1 198.1l1.61 1.47l-1.61 1.47l-1.61 -1.47zM470.3 193.1l1.61 1.47l-1.61 1.47l-1.61 -1.47zM472.1 194.8l1.61 1.47l-1.61 1.47l-1.61 -1.47zM474.0 196.5l1.61 1.47l-1.61 1.47l-1.61 -1.47zM461.1 181.4l1.61 1.47l-1.61 1.47l-1.61 -1.47zM468.5 188.1l1.61 1.47l-1.61 1.47l-1.61 -1.47zM463.0 179.7l1.61 1.47l-1.61 1.47l-1.61 -1.47zM466.6 183.1l1.61 1.47l-1.61 1.47l-1.61 -1.47zM494.2 184.7l1.61 1.47l-1.61 1.47l-1.61 -1.47zM466.6 199.8l1.61 1.47l-1.61 1.47l-1.61 -1.47zM378.5 179.7l1.61 1.47l-1.61 1.47l-1.61 -1.47zM382.2 179.7l1.61 1.47l-1.61 1.47l-1.61 -1.47z"/>
<path fill="#f7a6ab" d="M352.8 183.1l1.61 1.47l-1.61 1.47l-1.61 -1.47zM371.1 196.5l1.61 1.47l-1.61 1.47l-1.61 -1.47zM505.2 181.4l1.61 1.47l-1.61 1.47l-1.61 -1.47zM373.0 194.8l1.61 1.47l-1.61 1.47l-1.61 -1.47zM503.4 179.7l1.61 1.47l-1.61 1.47l-1.61 -1.47zM295.9 184.7l1.61 1.47l-1.61 1.47l-1.61 -1.47zM308.7 183.1l1.61 1.47l-1.61 1.47l-1.61 -1.47zM308.7 179.7l1.61 1.47l-1.61 1.47l-1.61 -1.47zM327.1 183.1l1.61 1.47l-1.61 1.47l-1.61 -1.47zM332.6 184.7l1.61 1.47l-1.61 1.47l-1.61 -1.47zM334.4 186.4l1.61 1.47l-1.61 1.47l-1.61 -1.47zM341.8 193.1l1.61 1.47l-1.61 1.47l-1.61 -1.47zM343.6 191.4l1.61 1.47l-1.61 1.47l-1.61 -1.47zM347.3 194.8l1.61 1.47l-1.61 1.47l-1.61 -1.47zM341.8 186.4l1.61 1.47l-1.61 1.47l-1.61 -1.47zM341.8 183.1l1.61 1.47l-1.61 1.47l-1.61 -1.47zM345.4 183.1l1.61 1.47l-1.61 1.47l-1.61 -1.47zM352.8 189.8l1.61 1.47l-1.61 1.47l-1.61 -1.47zM350.9 184.7l1.61 1.47l-1.61 1.47l-1.61 -1.47zM356.5 189.8l1.61 1.47l-1.61 1.47l-1.61 -1.47zM358.3 188.1l1.61 1.47l-1.61 1.47l-1.61 -1.47zM362.0 184.7l1.61 1.47l-1.61 1.47l-1.61 -1.47zM363.8 179.7l1.61 1.47l-1.61 1.47l-1.61 -1.47zM354.6 204.8l1.61 1.47l-1.61 1.47l-1.61 -1.47zM362.0 211.5l1.61 1.47l-1.61 1.47l-1.61 -1.47zM352.8 199.8l1.61 1.47l-1.61 1.47l-1.61 -1.47zM354.6 201.5l1.61 1.47l-1.61 1.47l-1.61 -1.47zM356.5 203.2l1.61 1.47l-1.61 1.47l-1.61 -1.47zM360.1 206.5l1.61 1.47l-1.61 1.47l-1.61 -1.47zM362.0 208.2l1.61 1.47l-1.61 1.47l-1.61 -1.47zM363.8 209.8l1.61 1.47l-1.61 1.47l-1.61 -1.47zM356.5 199.8l1.61 1.47l-1.61 1.47l-1.61 -1.47zM360.1 199.8l1.61 1.47l-1.61 1.47l-1.61 -1.47zM363.8 203.2l1.61 1.47l-1.61 1.47l-1.61 -1.47zM365.6 204.8l1.61 1.47l-1.61 1.47l-1.61 -1.47zM367.5 206.5l1.61 1.47l-1.61 1.47l-1.61 -1.47zM358.3 194.8l1.61 1.47l-1.61 1.47l-1.61 -1.47zM362.0 198.1l1.61 1.47l-1.61 1.47l-1.61 -1.47zM363.8 199.8l1.61 1.47l-1.61 1.47l-1.61 -1.47zM358.3 191.4l1.61 1.47l-1.61 1.47l-1.61 -1.47zM363.8 196.5l1.61 1.47l-1.61 1.47l-1.61 -1.47zM371.1 203.2l1.61 1.47l-1.61 1.47l-1.61 -1.47zM360.1 189.8l1.61 1.47l-1.61 1.47l-1.61 -1.47zM363.8 189.8l1.61 1.47l-1.61 1.47l-1.61 -1.47zM323.4 183.1l1.61 1.47l-1.61 1.47l-1.61 -1.47zM328.9 188.1l1.61 1.47l-1.61 1.47l-1.61 -1.47zM330.7 189.8l1.61 1.47l-1.61 1.47l-1.61 -1.47zM338.1 196.5l1.61 1.47l-1.61 1.47l-1.61 -1.47zM334.4 189.8l1.61 1.47l-1.61 1.47l-1.61 -1.47zM338.1 193.1l1.61 1.47l-1.61 1.47l-1.61 -1.47zM365.6 191.4l1.61 1.47l-1.61 1.47l-1.61 -1.47zM369.3 194.8l1.61 1.47l-1.61 1.47l-1.61 -1.47zM365.6 188.1l1.61 1.47l-1.61 1.47l-1.61 -1.47zM367.5 186.4l1.61 1.47l-1.61 1.47l-1.61 -1.47zM373.0 191.4l1.61 1.47l-1.61 1.47l-1.61 -1.47zM371.1 186.4l1.61 1.47l-1.61 1.47l-1.61 -1.47zM374.8 189.8l1.61 1.47l-1.61 1.47l-1.61 -1.47zM380.3 194.8l1.61 1.47l-1.61 1.47l-1.61 -1.47zM422.6 179.7l1.61 1.47l-1.61 1.47l-1.61 -1.47zM431.7 181.4l1.61 1.47l-1.61 1.47l-1.61 -1.47zM404.2 183.1l1.61 1.47l-1.61 1.47l-1.61 -1.47zM415.2 183.1l1.61 1.47l-1.61 1.47l-1.61 -1.47zM422.6 183.1l1.61 1.47l-1.61 1.47l-1.61 -1.47zM496.0 179.7l1.61 1.47l-1.61 1.47l-1.61 -1.47zM435.4 184.7l1.61 1.47l-1.61 1.47l-1.61 -1.47zM437.2 183.1l1.61 1.47l-1.61 1.47l-1.61 -1.47z"/>
<path fill="#f2545a" d="M499.7 179.7l1.61 1.47l-1.61 1.47l-1.61 -1.47zM295.9 181.4l1.61 1.47l-1.61 1.47l-1.61 -1.47zM299.5 181.4l1.61 1.47l-1.61 1.47l-1.61 -1.47zM301.4 179.7l1.61 1.47l-1.61 1.47l-1.61 -1.47zM312.4 179.7l1.61 1.47l-1.61 1.47l-1.61 -1.47zM310.5 181.4l1.61 1.47l-1.61 1.47l-1.61 -1.47zM314.2 181.4l1.61 1.47l-1.61 1.47l-1.61 -1.47zM345.4 196.5l1.61 1.47l-1.61 1.47l-1.61 -1.47zM349.1 196.5l1.61 1.47l-1.61 1.47l-1.61 -1.47zM349.1 193.1l1.61 1.47l-1.61 1.47l-1.61 -1.47zM350.9 194.8l1.61 1.47l-1.61 1.47l-1.61 -1.47zM350.9 191.4l1.61 1.47l-1.61 1.47l-1.61 -1.47zM352.8 193.1l1.61 1.47l-1.61 1.47l-1.61 -1.47zM354.6 191.4l1.61 1.47l-1.61 1.47l-1.61 -1.47zM349.1 179.7l1.61 1.47l-1.61 1.47l-1.61 -1.47zM356.5 186.4l1.61 1.47l-1.61 1.47l-1.61 -1.47zM358.3 184.7l1.61 1.47l-1.61 1.47l-1.61 -1.47zM349.1 199.8l1.61 1.47l-1.61 1.47l-1.61 -1.47zM352.8 203.2l1.61 1.47l-1.61 1.47l-1.61 -1.47zM356.5 206.5l1.61 1.47l-1.61 1.47l-1.61 -1.47zM358.3 208.2l1.61 1.47l-1.61 1.47l-1.61 -1.47zM350.9 198.1l1.61 1.47l-1.61 1.47l-1.61 -1.47zM352.8 196.5l1.61 1.47l-1.61 1.47l-1.61 -1.47zM354.6 198.1l1.61 1.47l-1.61 1.47l-1.61 -1.47zM358.3 201.5l1.61 1.47l-1.61 1.47l-1.61 -1.47zM360.1 203.2l1.61 1.47l-1.61 1.47l-1.61 -1.47zM363.8 206.5l1.61 1.47l-1.61 1.47l-1.61 -1.47zM365.6 208.2l1.61 1.47l-1.61 1.47l-1.61 -1.47zM356.5 196.5l1.61 1.47l-1.61 1.47l-1.61 -1.47zM362.0 201.5l1.61 1.47l-1.61 1.47l-1.61 -1.47zM360.1 196.5l1.61 1.47l-1.61 1.47l-1.61 -1.47zM365.6 201.5l1.61 1.47l-1.61 1.47l-1.61 -1.47zM367.5 203.2l1.61 1.47l-1.61 1.47l-1.61 -1.47zM369.3 204.8l1.61 1.47l-1.61 1.47l-1.61 -1.47zM360.1 193.1l1.61 1.47l-1.61 1.47l-1.61 -1.47zM362.0 194.8l1.61 1.47l-1.61 1.47l-1.61 -1.47zM369.3 201.5l1.61 1.47l-1.61 1.47l-1.61 -1.47zM362.0 191.4l1.61 1.47l-1.61 1.47l-1.61 -1.47zM367.5 196.5l1.61 1.47l-1.61 1.47l-1.61 -1.47zM369.3 198.1l1.61 1.47l-1.61 1.47l-1.61 -1.47zM371.1 199.8l1.61 1.47l-1.61 1.47l-1.61 -1.47zM362.0 188.1l1.61 1.47l-1.61 1.47l-1.61 -1.47zM373.0 198.1l1.61 1.47l-1.61 1.47l-1.61 -1.47zM374.8 199.8l1.61 1.47l-1.61 1.47l-1.61 -1.47zM396.9 179.7l1.61 1.47l-1.61 1.47l-1.61 -1.47zM400.5 179.7l1.61 1.47l-1.61 1.47l-1.61 -1.47zM407.9 179.7l1.61 1.47l-1.61 1.47l-1.61 -1.47zM411.5 179.7l1.61 1.47l-1.61 1.47l-1.61 -1.47zM395.0 181.4l1.61 1.47l-1.61 1.47l-1.61 -1.47zM398.7 181.4l1.61 1.47l-1.61 1.47l-1.61 -1.47zM424.4 181.4l1.61 1.47l-1.61 1.47l-1.61 -1.47zM428.1 181.4l1.61 1.47l-1.61 1.47l-1.61 -1.47zM400.5 183.1l1.61 1.47l-1.61 1.47l-1.61 -1.47zM418.9 183.1l1.61 1.47l-1.61 1.47l-1.61 -1.47zM474.0 179.7l1.61 1.47l-1.61 1.47l-1.61 -1.47zM485.0 179.7l1.61 1.47l-1.61 1.47l-1.61 -1.47zM286.7 179.7l1.61 1.47l-1.61 1.47l-1.61 -1.47zM316.1 179.7l1.61 1.47l-1.61 1.47l-1.61 -1.47zM319.7 179.7l1.61 1.47l-1.61 1.47l-1.61 -1.47zM385.8 179.7l1.61 1.47l-1.61 1.47l-1.61 -1.47zM429.9 179.7l1.61 1.47l-1.61 1.47l-1.61 -1.47zM440.9 179.7l1.61 1.47l-1.61 1.47l-1.61 -1.47z"/>
<path fill="#ee1c24" d="M474.0 189.8l1.61 1.47l-1.61 1.47l-1.61 -1.47zM490.5 184.7l1.61 1.47l-1.61 1.47l-1.61 -1.47zM360.1 179.7l1.61 1.47l-1.61 1.47l-1.61 -1.47zM475.8 194.8l1.61 1.47l-1.61 1.47l-1.61 -1.47zM475.8 181.4l1.61 1.47l-1.61 1.47l-1.61 -1.47zM448.3 183.1l1.61 1.47l-1.61 1.47l-1.61 -1.47zM341.8 189.8l1.61 1.47l-1.61 1.47l-1.61 -1.47zM481.3 193.1l1.61 1.47l-1.61 1.47l-1.61 -1.47zM479.5 184.7l1.61 1.47l-1.61 1.47l-1.61 -1.47zM483.2 191.4l1.61 1.47l-1.61 1.47l-1.61 -1.47zM347.3 188.1l1.61 1.47l-1.61 1.47l-1.61 -1.47zM459.3 193.1l1.61 1.47l-1.61 1.47l-1.61 -1.47zM292.2 181.4l1.61 1.47l-1.61 1.47l-1.61 -1.47zM294.0 183.1l1.61 1.47l-1.61 1.47l-1.61 -1.47zM297.7 186.4l1.61 1.47l-1.61 1.47l-1.61 -1.47zM299.5 188.1l1.61 1.47l-1.61 1.47l-1.61 -1.47zM301.4 189.8l1.61 1.47l-1.61 1.47l-1.61 -1.47zM297.7 183.1l1.61 1.47l-1.61 1.47l-1.61 -1.47zM299.5 184.7l1.61 1.47l-1.61 1.47l-1.61 -1.47zM301.4 186.4l1.61 1.47l-1.61 1.47l-1.61 -1.47zM303.2 188.1l1.61 1.47l-1.61 1.47l-1.61 -1.47zM297.7 179.7l1.61 1.47l-1.61 1.47l-1.61 -1.47zM301.4 183.1l1.61 1.47l-1.61 1.47l-1.61 -1.47zM305.0 186.4l1.61 1.47l-1.61 1.47l-1.61 -1.47zM303.2 181.4l1.61 1.47l-1.61 1.47l-1.61 -1.47zM306.9 184.7l1.61 1.47l-1.61 1.47l-1.61 -1.47zM330.7 186.4l1.61 1.47l-1.61 1.47l-1.61 -1.47zM332.6 188.1l1.61 1.47l-1.61 1.47l-1.61 -1.47zM339.9 194.8l1.61 1.47l-1.61 1.47l-1.61 -1.47zM341.8 196.5l1.61 1.47l-1.61 1.47l-1.61 -1.47zM343.6 198.1l1.61 1.47l-1.61 1.47l-1.61 -1.47zM345.4 199.8l1.61 1.47l-1.61 1.47l-1.61 -1.47zM328.9 181.4l1.61 1.47l-1.61 1.47l-1.61 -1.47zM336.3 188.1l1.61 1.47l-1.61 1.47l-1.61 -1.47zM338.1 189.8l1.61 1.47l-1.61 1.47l-1.61 -1.47zM343.6 194.8l1.61 1.47l-1.61 1.47l-1.61 -1.47zM347.3 198.1l1.61 1.47l-1.61 1.47l-1.61 -1.47zM334.4 183.1l1.61 1.47l-1.61 1.47l-1.61 -1.47zM336.3 184.7l1.61 1.47l-1.61 1.47l-1.61 -1.47zM338.1 186.4l1.61 1.47l-1.61 1.47l-1.61 -1.47zM339.9 188.1l1.61 1.47l-1.61 1.47l-1.61 -1.47zM345.4 193.1l1.61 1.47l-1.61 1.47l-1.61 -1.47zM334.4 179.7l1.61 1.47l-1.61 1.47l-1.61 -1.47zM336.3 181.4l1.61 1.47l-1.61 1.47l-1.61 -1.47zM338.1 183.1l1.61 1.47l-1.61 1.47l-1.61 -1.47zM343.6 188.1l1.61 1.47l-1.61 1.47l-1.61 -1.47zM345.4 189.8l1.61 1.47l-1.61 1.47l-1.61 -1.47zM347.3 191.4l1.61 1.47l-1.61 1.47l-1.61 -1.47zM339.9 181.4l1.61 1.47l-1.61 1.47l-1.61 -1.47zM343.6 184.7l1.61 1.47l-1.61 1.47l-1.61 -1.47zM345.4 186.4l1.61 1.47l-1.61 1.47l-1.61 -1.47zM349.1 189.8l1.61 1.47l-1.61 1.47l-1.61 -1.47zM343.6 181.4l1.61 1.47l-1.61 1.47l-1.61 -1.47zM347.3 184.7l1.61 1.47l-1.61 1.47l-1.61 -1.47zM349.1 186.4l1.61 1.47l-1.61 1.47l-1.61 -1.47zM347.3 181.4l1.61 1.47l-1.61 1.47l-1.61 -1.47zM349.1 183.1l1.61 1.47l-1.61 1.47l-1.61 -1.47zM352.8 186.4l1.61 1.47l-1.61 1.47l-1.61 -1.47zM354.6 188.1l1.61 1.47l-1.61 1.47l-1.61 -1.47zM350.9 181.4l1.61 1.47l-1.61 1.47l-1.61 -1.47zM354.6 184.7l1.61 1.47l-1.61 1.47l-1.61 -1.47zM352.8 179.7l1.61 1.47l-1.61 1.47l-1.61 -1.47zM354.6 181.4l1.61 1.47l-1.61 1.47l-1.61 -1.47zM356.5 183.1l1.61 1.47l-1.61 1.47l-1.61 -1.47zM360.1 186.4l1.61 1.47l-1.61 1.47l-1.61 -1.47zM358.3 181.4l1.61 1.47l-1.61 1.47l-1.61 -1.47zM360.1 183.1l1.61 1.47l-1.61 1.47l-1.61 -1.47zM362.0 181.4l1.61 1.47l-1.61 1.47l-1.61 -1.47zM363.8 183.1l1.61 1.47l-1.61 1.47l-1.61 -1.47zM365.6 181.4l1.61 1.47l-1.61 1.47l-1.61 -1.47zM367.5 179.7l1.61 1.47l-1.61 1.47l-1.61 -1.47zM404.2 179.7l1.61 1.47l-1.61 1.47l-1.61 -1.47zM418.9 179.7l1.61 1.47l-1.61 1.47l-1.61 -1.47zM406.0 181.4l1.61 1.47l-1.61 1.47l-1.61 -1.47zM417.0 181.4l1.61 1.47l-1.61 1.47l-1.61 -1.47zM444.6 179.7l1.61 1.47l-1.61 1.47l-1.61 -1.47zM446.4 181.4l1.61 1.47l-1.61 1.47l-1.61 -1.47zM450.1 184.7l1.61 1.47l-1.61 1.47l-1.61 -1.47zM451.9 186.4l1.61 1.47l-1.61 1.47l-1.61 -1.47zM453.8 188.1l1.61 1.47l-1.61 1.47l-1.61 -1.47zM448.3 179.7l1.61 1.47l-1.61 1.47l-1.61 -1.47zM450.1 181.4l1.61 1.47l-1.61 1.47l-1.61 -1.47zM451.9 183.1l1.61 1.47l-1.61 1.47l-1.61 -1.47zM453.8 184.7l1.61 1.47l-1.61 1.47l-1.61 -1.47zM455.6 186.4l1.61 1.47l-1.61 1.47l-1.61 -1.47zM468.5 198.1l1.61 1.47l-1.61 1.47l-1.61 -1.47zM470.3 199.8l1.61 1.47l-1.61 1.47l-1.61 -1.47zM451.9 179.7l1.61 1.47l-1.61 1.47l-1.61 -1.47zM453.8 181.4l1.61 1.47l-1.61 1.47l-1.61 -1.47zM455.6 183.1l1.61 1.47l-1.61 1.47l-1.61 -1.47zM457.4 184.7l1.61 1.47l-1.61 1.47l-1.61 -1.47zM466.6 193.1l1.61 1.47l-1.61 1.47l-1.61 -1.47zM455.6 179.7l1.61 1.47l-1.61 1.47l-1.61 -1.47zM457.4 181.4l1.61 1.47l-1.61 1.47l-1.61 -1.47zM459.3 183.1l1.61 1.47l-1.61 1.47l-1.61 -1.47zM463.0 186.4l1.61 1.47l-1.61 1.47l-1.61 -1.47zM464.8 188.1l1.61 1.47l-1.61 1.47l-1.61 -1.47zM459.3 179.7l1.61 1.47l-1.61 1.47l-1.61 -1.47zM463.0 183.1l1.61 1.47l-1.61 1.47l-1.61 -1.47zM464.8 184.7l1.61 1.47l-1.61 1.47l-1.61 -1.47zM466.6 186.4l1.61 1.47l-1.61 1.47l-1.61 -1.47zM470.3 189.8l1.61 1.47l-1.61 1.47l-1.61 -1.47zM472.1 191.4l1.61 1.47l-1.61 1.47l-1.61 -1.47zM474.0 193.1l1.61 1.47l-1.61 1.47l-1.61 -1.47zM477.6 196.5l1.61 1.47l-1.61 1.47l-1.61 -1.47zM479.5 198.1l1.61 1.47l-1.61 1.47l-1.61 -1.47zM464.8 181.4l1.61 1.47l-1.61 1.47l-1.61 -1.47zM468.5 184.7l1.61 1.47l-1.61 1.47l-1.61 -1.47zM470.3 186.4l1.61 1.47l-1.61 1.47l-1.61 -1.47zM472.1 188.1l1.61 1.47l-1.61 1.47l-1.61 -1.47zM475.8 191.4l1.61 1.47l-1.61 1.47l-1.61 -1.47zM477.6 193.1l1.61 1.47l-1.61 1.47l-1.61 -1.47zM479.5 194.8l1.61 1.47l-1.61 1.47l-1.61 -1.47zM481.3 196.5l1.61 1.47l-1.61 1.47l-1.61 -1.47zM468.5 181.4l1.61 1.47l-1.61 1.47l-1.61 -1.47zM470.3 183.1l1.61 1.47l-1.61 1.47l-1.61 -1.47zM474.0 186.4l1.61 1.47l-1.61 1.47l-1.61 -1.47zM475.8 188.1l1.61 1.47l-1.61 1.47l-1.61 -1.47zM477.6 189.8l1.61 1.47l-1.61 1.47l-1.61 -1.47zM479.5 191.4l1.61 1.47l-1.61 1.47l-1.61 -1.47zM483.2 194.8l1.61 1.47l-1.61 1.47l-1.61 -1.47zM472.1 181.4l1.61 1.47l-1.61 1.47l-1.61 -1.47zM474.0 183.1l1.61 1.47l-1.61 1.47l-1.61 -1.47zM477.6 186.4l1.61 1.47l-1.61 1.47l-1.61 -1.47zM479.5 188.1l1.61 1.47l-1.61 1.47l-1.61 -1.47zM481.3 189.8l1.61 1.47l-1.61 1.47l-1.61 -1.47zM485.0 193.1l1.61 1.47l-1.61 1.47l-1.61 -1.47zM477.6 183.1l1.61 1.47l-1.61 1.47l-1.61 -1.47zM483.2 188.1l1.61 1.47l-1.61 1.47l-1.61 -1.47zM485.0 189.8l1.61 1.47l-1.61 1.47l-1.61 -1.47zM486.8 191.4l1.61 1.47l-1.61 1.47l-1.61 -1.47zM479.5 181.4l1.61 1.47l-1.61 1.47l-1.61 -1.47zM485.0 186.4l1.61 1.47l-1.61 1.47l-1.61 -1.47zM486.8 188.1l1.61 1.47l-1.61 1.47l-1.61 -1.47zM488.7 189.8l1.61 1.47l-1.61 1.47l-1.61 -1.47zM481.3 179.7l1.61 1.47l-1.61 1.47l-1.61 -1.47zM483.2 181.4l1.61 1.47l-1.61 1.47l-1.61 -1.47zM485.0 183.1l1.61 1.47l-1.61 1.47l-1.61 -1.47zM486.8 184.7l1.61 1.47l-1.61 1.47l-1.61 -1.47zM488.7 186.4l1.61 1.47l-1.61 1.47l-1.61 -1.47zM490.5 188.1l1.61 1.47l-1.61 1.47l-1.61 -1.47zM486.8 181.4l1.61 1.47l-1.61 1.47l-1.61 -1.47zM488.7 183.1l1.61 1.47l-1.61 1.47l-1.61 -1.47zM492.3 186.4l1.61 1.47l-1.61 1.47l-1.61 -1.47zM488.7 179.7l1.61 1.47l-1.61 1.47l-1.61 -1.47zM490.5 181.4l1.61 1.47l-1.61 1.47l-1.61 -1.47zM492.3 183.1l1.61 1.47l-1.61 1.47l-1.61 -1.47zM492.3 179.7l1.61 1.47l-1.61 1.47l-1.61 -1.47zM494.2 181.4l1.61 1.47l-1.61 1.47l-1.61 -1.47z"/>
<rect x="23.6" y="460.8" width="228.3" height="95.19999999999999" fill="#ebe8e3"/>
<clipPath id="cc2"><rect x="0" y="0" width="520" height="543.8"/></clipPath>
<polygon points="25.70,478.60 77.00,478.60 51.35,502.20" fill="#ffffff"/>
<g clip-path="url(#cc2)"><g transform="matrix(1,0,-0.0485,1,23.222,0)">
<polygon points="82.30,478.80 250.40,478.80 166.35,556.13" fill="#ffffff"/>
<line x1="122.55" y1="515.83" x2="128.55" y2="510.32" stroke="#ee8088" stroke-width="1.019811283995527" stroke-opacity="0.7352351235090817"/>
<line x1="100.92" y1="495.93" x2="119.55" y2="478.80" stroke="#ee8088" stroke-width="0.6007164735565809" stroke-opacity="0.7268601545354079"/>
<line x1="163.08" y1="553.11" x2="243.85" y2="478.80" stroke="#d6d6f6" stroke-width="0.8569644702611379" stroke-opacity="0.7191631879664104"/>
<line x1="136.96" y1="529.09" x2="191.62" y2="478.80" stroke="#f7a6ab" stroke-width="0.6924363225099097" stroke-opacity="0.9558363464433306"/>
<line x1="152.86" y1="543.71" x2="177.50" y2="521.04" stroke="#c4c4ee" stroke-width="0.8787214998677593" stroke-opacity="0.9838557711715915"/>
<line x1="245.55" y1="478.80" x2="247.98" y2="481.03" stroke="#ee8088" stroke-width="0.7739228841644533" stroke-opacity="0.9114912572449752"/>
<line x1="163.40" y1="524.21" x2="181.82" y2="541.15" stroke="#d6d6f6" stroke-width="1.05994531310906" stroke-opacity="0.6897116019202129"/>
<line x1="235.68" y1="479.05" x2="242.40" y2="485.23" stroke="#c4c4ee" stroke-width="0.7955840235027638" stroke-opacity="0.6691656831890388"/>
<line x1="152.60" y1="478.80" x2="192.58" y2="515.58" stroke="#d6d6f6" stroke-width="0.785290768380843" stroke-opacity="0.781260974467378"/>
<line x1="162.11" y1="519.44" x2="206.29" y2="478.80" stroke="#c4c4ee" stroke-width="0.6133357961725544" stroke-opacity="0.8970777263160823"/>
<line x1="172.86" y1="535.80" x2="234.82" y2="478.80" stroke="#ee8088" stroke-width="0.8839429296311622" stroke-opacity="0.6074654295162699"/>
<line x1="146.01" y1="537.41" x2="201.89" y2="486.00" stroke="#fbd0d3" stroke-width="1.0661457287269127" stroke-opacity="0.7718790998598252"/>
<line x1="230.50" y1="488.26" x2="231.53" y2="489.21" stroke="#c4c4ee" stroke-width="0.859206537312924" stroke-opacity="0.6666400334778295"/>
<line x1="136.86" y1="490.31" x2="142.32" y2="485.29" stroke="#fbd0d3" stroke-width="0.6857849185445557" stroke-opacity="0.628167471988251"/>
<line x1="110.44" y1="500.53" x2="134.06" y2="478.80" stroke="#d6d6f6" stroke-width="0.7663992990800682" stroke-opacity="0.7381049059384499"/>
<line x1="165.44" y1="555.29" x2="248.58" y2="478.80" stroke="#c4c4ee" stroke-width="0.6332197757379855" stroke-opacity="0.6620214324321215"/>
<line x1="186.75" y1="478.80" x2="216.77" y2="506.42" stroke="#d6d6f6" stroke-width="0.9035946747101821" stroke-opacity="0.678308849419553"/>
<line x1="100.79" y1="490.91" x2="104.14" y2="487.82" stroke="#c4c4ee" stroke-width="0.7516266341468151" stroke-opacity="0.669387017155733"/>
<line x1="132.51" y1="503.14" x2="158.97" y2="478.80" stroke="#d6d6f6" stroke-width="0.6750664657948182" stroke-opacity="0.9550781193315565"/>
<line x1="143.47" y1="521.21" x2="187.24" y2="480.94" stroke="#ee8088" stroke-width="0.9738204961909969" stroke-opacity="0.6990370552531517"/>
<line x1="129.36" y1="513.72" x2="152.03" y2="492.86" stroke="#d6d6f6" stroke-width="0.83210922107045" stroke-opacity="0.8203462965340215"/>
<line x1="109.70" y1="504.01" x2="137.10" y2="478.80" stroke="#f7a6ab" stroke-width="0.77167019248115" stroke-opacity="0.7060772092750309"/>
<line x1="88.73" y1="484.14" x2="91.59" y2="481.50" stroke="#c4c4ee" stroke-width="0.6326038878085624" stroke-opacity="0.8996595214035684"/>
<line x1="130.15" y1="480.69" x2="181.66" y2="528.07" stroke="#d6d6f6" stroke-width="0.7834450569050815" stroke-opacity="0.6645336855688639"/>
<line x1="172.39" y1="478.80" x2="211.39" y2="514.68" stroke="#c4c4ee" stroke-width="1.0303037897686318" stroke-opacity="0.9974302415620221"/>
<line x1="124.72" y1="500.86" x2="135.60" y2="490.85" stroke="#fbd0d3" stroke-width="0.6109576316912686" stroke-opacity="0.7115070819505985"/>
<line x1="99.91" y1="478.80" x2="158.53" y2="532.73" stroke="#d6d6f6" stroke-width="0.7386273124378699" stroke-opacity="0.9419195732247501"/>
<line x1="102.22" y1="497.12" x2="122.13" y2="478.80" stroke="#ee8088" stroke-width="0.9228461069571523" stroke-opacity="0.7124469019294251"/>
<line x1="101.35" y1="489.80" x2="169.90" y2="552.86" stroke="#c4c4ee" stroke-width="0.7692181771140989" stroke-opacity="0.7210281307360689"/>
<line x1="200.89" y1="522.89" x2="248.81" y2="478.80" stroke="#fbd0d3" stroke-width="0.7065952960700168" stroke-opacity="0.9882417744926011"/>
<line x1="172.75" y1="510.65" x2="179.51" y2="504.43" stroke="#ee8088" stroke-width="0.9526486003080473" stroke-opacity="0.9020144045802327"/>
<line x1="174.06" y1="478.80" x2="176.47" y2="481.01" stroke="#fbd0d3" stroke-width="1.0167251208511818" stroke-opacity="0.7641525930093311"/>
<line x1="137.00" y1="529.12" x2="179.13" y2="490.36" stroke="#f7a6ab" stroke-width="0.6225560153457429" stroke-opacity="0.7948273152175451"/>
<line x1="132.09" y1="524.61" x2="155.25" y2="503.30" stroke="#fbd0d3" stroke-width="0.9478957355231393" stroke-opacity="0.9233624463997816"/>
<line x1="112.90" y1="479.47" x2="126.67" y2="492.14" stroke="#c4c4ee" stroke-width="0.6956117152760305" stroke-opacity="0.98803869755482"/>
<line x1="166.23" y1="493.15" x2="181.83" y2="478.80" stroke="#c4c4ee" stroke-width="1.0278541449937797" stroke-opacity="0.8806916003743517"/>
<line x1="159.93" y1="503.13" x2="164.44" y2="498.98" stroke="#c4c4ee" stroke-width="0.935083526529382" stroke-opacity="0.9579204998986948"/>
<line x1="194.24" y1="483.25" x2="203.71" y2="491.97" stroke="#c4c4ee" stroke-width="0.9061799333138005" stroke-opacity="0.8933162151992682"/>
<line x1="155.10" y1="528.60" x2="169.21" y2="541.59" stroke="#ee8088" stroke-width="0.6965780092239938" stroke-opacity="0.6258772657665362"/>
<line x1="98.99" y1="478.80" x2="123.79" y2="501.61" stroke="#d6d6f6" stroke-width="0.7991948874054831" stroke-opacity="0.9079188756795431"/>
<line x1="202.94" y1="478.80" x2="217.24" y2="491.95" stroke="#f7a6ab" stroke-width="0.827548170362416" stroke-opacity="0.8517982120694014"/>
<line x1="160.26" y1="478.80" x2="205.33" y2="520.27" stroke="#ee8088" stroke-width="0.7662538745746628" stroke-opacity="0.7150796682008291"/>
<line x1="146.78" y1="478.80" x2="198.59" y2="526.46" stroke="#f7a6ab" stroke-width="0.8871450032295559" stroke-opacity="0.6058814224366343"/>
<line x1="95.24" y1="490.70" x2="108.18" y2="478.80" stroke="#f7a6ab" stroke-width="0.9569779616310219" stroke-opacity="0.7038510084854188"/>
<line x1="173.67" y1="478.80" x2="212.03" y2="514.10" stroke="#ee8088" stroke-width="0.8563299711649242" stroke-opacity="0.7220372072353326"/>
<line x1="190.95" y1="532.26" x2="191.62" y2="532.88" stroke="#fbd0d3" stroke-width="0.6305754185061969" stroke-opacity="0.926176457435063"/>
<line x1="133.84" y1="526.22" x2="185.38" y2="478.80" stroke="#ee8088" stroke-width="0.663263645136292" stroke-opacity="0.9736831303946522"/>
<line x1="116.05" y1="485.49" x2="118.79" y2="482.98" stroke="#f7a6ab" stroke-width="0.7688597954329536" stroke-opacity="0.7214703264772665"/>
<line x1="100.56" y1="495.60" x2="118.81" y2="478.80" stroke="#fbd0d3" stroke-width="0.7117478295872384" stroke-opacity="0.6191668597592287"/>
<line x1="229.07" y1="478.80" x2="239.73" y2="488.61" stroke="#d6d6f6" stroke-width="0.9108170919946266" stroke-opacity="0.9397055548407529"/>
<path fill="#e2e2f9" d="M246.2 479.1l1.83 1.68l-1.83 1.68l-1.83 -1.68zM139.0 500.3l1.83 1.68l-1.83 1.68l-1.83 -1.68zM130.6 500.3l1.83 1.68l-1.83 1.68l-1.83 -1.68zM176.9 519.6l1.83 1.68l-1.83 1.68l-1.83 -1.68zM174.8 510.0l1.83 1.68l-1.83 1.68l-1.83 -1.68zM212.6 510.0l1.83 1.68l-1.83 1.68l-1.83 -1.68zM176.9 481.0l1.83 1.68l-1.83 1.68l-1.83 -1.68zM229.4 482.9l1.83 1.68l-1.83 1.68l-1.83 -1.68zM172.7 500.3l1.83 1.68l-1.83 1.68l-1.83 -1.68zM172.7 519.6l1.83 1.68l-1.83 1.68l-1.83 -1.68zM193.7 488.7l1.83 1.68l-1.83 1.68l-1.83 -1.68zM227.3 488.7l1.83 1.68l-1.83 1.68l-1.83 -1.68zM235.7 481.0l1.83 1.68l-1.83 1.68l-1.83 -1.68zM174.8 486.8l1.83 1.68l-1.83 1.68l-1.83 -1.68zM130.6 492.6l1.83 1.68l-1.83 1.68l-1.83 -1.68zM160.0 527.4l1.83 1.68l-1.83 1.68l-1.83 -1.68zM225.2 498.4l1.83 1.68l-1.83 1.68l-1.83 -1.68zM218.9 496.5l1.83 1.68l-1.83 1.68l-1.83 -1.68z"/>
<path fill="#c4c4f0" d="M233.6 486.8l1.83 1.68l-1.83 1.68l-1.83 -1.68zM160.0 488.7l1.83 1.68l-1.83 1.68l-1.83 -1.68zM200.0 479.1l1.83 1.68l-1.83 1.68l-1.83 -1.68zM166.4 490.7l1.83 1.68l-1.83 1.68l-1.83 -1.68zM231.5 488.7l1.83 1.68l-1.83 1.68l-1.83 -1.68zM189.5 511.9l1.83 1.68l-1.83 1.68l-1.83 -1.68zM237.8 479.1l1.83 1.68l-1.83 1.68l-1.83 -1.68zM221.0 490.7l1.83 1.68l-1.83 1.68l-1.83 -1.68zM208.4 494.5l1.83 1.68l-1.83 1.68l-1.83 -1.68zM124.3 479.1l1.83 1.68l-1.83 1.68l-1.83 -1.68zM202.1 488.7l1.83 1.68l-1.83 1.68l-1.83 -1.68zM239.9 481.0l1.83 1.68l-1.83 1.68l-1.83 -1.68zM227.3 481.0l1.83 1.68l-1.83 1.68l-1.83 -1.68zM94.9 486.8l1.83 1.68l-1.83 1.68l-1.83 -1.68zM99.1 486.8l1.83 1.68l-1.83 1.68l-1.83 -1.68zM153.7 490.7l1.83 1.68l-1.83 1.68l-1.83 -1.68z"/>
<path fill="#fbd0d3" d="M126.4 508.1l1.83 1.68l-1.83 1.68l-1.83 -1.68zM231.5 484.9l1.83 1.68l-1.83 1.68l-1.83 -1.68zM124.3 506.1l1.83 1.68l-1.83 1.68l-1.83 -1.68zM183.2 486.8l1.83 1.68l-1.83 1.68l-1.83 -1.68zM187.4 510.0l1.83 1.68l-1.83 1.68l-1.83 -1.68zM168.5 539.0l1.83 1.68l-1.83 1.68l-1.83 -1.68zM193.7 511.9l1.83 1.68l-1.83 1.68l-1.83 -1.68zM179.0 486.8l1.83 1.68l-1.83 1.68l-1.83 -1.68zM136.9 510.0l1.83 1.68l-1.83 1.68l-1.83 -1.68zM162.1 513.8l1.83 1.68l-1.83 1.68l-1.83 -1.68zM229.4 490.7l1.83 1.68l-1.83 1.68l-1.83 -1.68zM202.1 481.0l1.83 1.68l-1.83 1.68l-1.83 -1.68zM225.2 494.5l1.83 1.68l-1.83 1.68l-1.83 -1.68zM195.8 510.0l1.83 1.68l-1.83 1.68l-1.83 -1.68zM208.4 490.7l1.83 1.68l-1.83 1.68l-1.83 -1.68zM134.8 515.8l1.83 1.68l-1.83 1.68l-1.83 -1.68zM191.6 510.0l1.83 1.68l-1.83 1.68l-1.83 -1.68zM210.5 511.9l1.83 1.68l-1.83 1.68l-1.83 -1.68zM97.0 484.9l1.83 1.68l-1.83 1.68l-1.83 -1.68zM179.0 533.2l1.83 1.68l-1.83 1.68l-1.83 -1.68zM176.9 539.0l1.83 1.68l-1.83 1.68l-1.83 -1.68zM187.4 506.1l1.83 1.68l-1.83 1.68l-1.83 -1.68zM225.2 490.7l1.83 1.68l-1.83 1.68l-1.83 -1.68z"/>
<path fill="#f7a6ab" d="M151.6 508.1l1.83 1.68l-1.83 1.68l-1.83 -1.68zM141.1 529.3l1.83 1.68l-1.83 1.68l-1.83 -1.68zM179.0 513.8l1.83 1.68l-1.83 1.68l-1.83 -1.68zM126.4 511.9l1.83 1.68l-1.83 1.68l-1.83 -1.68zM172.7 527.4l1.83 1.68l-1.83 1.68l-1.83 -1.68zM218.9 481.0l1.83 1.68l-1.83 1.68l-1.83 -1.68zM132.7 486.8l1.83 1.68l-1.83 1.68l-1.83 -1.68zM200.0 517.7l1.83 1.68l-1.83 1.68l-1.83 -1.68zM168.5 492.6l1.83 1.68l-1.83 1.68l-1.83 -1.68zM237.8 482.9l1.83 1.68l-1.83 1.68l-1.83 -1.68zM195.8 517.7l1.83 1.68l-1.83 1.68l-1.83 -1.68zM164.2 535.1l1.83 1.68l-1.83 1.68l-1.83 -1.68zM210.5 504.2l1.83 1.68l-1.83 1.68l-1.83 -1.68zM143.2 511.9l1.83 1.68l-1.83 1.68l-1.83 -1.68zM145.3 490.7l1.83 1.68l-1.83 1.68l-1.83 -1.68z"/>
<path fill="#f2545a" d="M141.1 510.0l1.83 1.68l-1.83 1.68l-1.83 -1.68zM210.5 492.6l1.83 1.68l-1.83 1.68l-1.83 -1.68zM143.2 508.1l1.83 1.68l-1.83 1.68l-1.83 -1.68zM136.9 517.7l1.83 1.68l-1.83 1.68l-1.83 -1.68zM160.0 539.0l1.83 1.68l-1.83 1.68l-1.83 -1.68zM206.3 511.9l1.83 1.68l-1.83 1.68l-1.83 -1.68zM160.0 481.0l1.83 1.68l-1.83 1.68l-1.83 -1.68zM223.1 492.6l1.83 1.68l-1.83 1.68l-1.83 -1.68zM170.6 479.1l1.83 1.68l-1.83 1.68l-1.83 -1.68zM179.0 482.9l1.83 1.68l-1.83 1.68l-1.83 -1.68zM134.8 496.5l1.83 1.68l-1.83 1.68l-1.83 -1.68z"/>
<polygon points="82.90,478.80 106.50,478.80 94.70,489.66" fill="#ee1c24"/>
<polygon points="113.50,478.80 218.00,478.80 165.75,526.87" fill="#ee1c24"/>
<polygon points="131.75,495.59 156.75,518.59 175.00,501.80 150.00,478.80" fill="#ee1c24"/>
<polygon points="149.25,511.69 165.75,526.87 168.00,524.80 151.50,509.62" fill="#f7a6ab"/>
<polygon points="160.00,515.60 169.00,523.88 172.00,521.12 163.00,512.84" fill="#fbd0d3"/>
<polygon points="179.00,505.48 184.00,510.08 187.00,507.32 182.00,502.72" fill="#f7a6ab"/>
<polygon points="157.00,488.92 168.00,499.04 175.00,492.60 164.00,482.48" fill="#ffffff"/>
<polygon points="180.00,497.20 189.00,505.48 196.50,498.58 187.50,490.30" fill="#fbd0d3"/>
<polygon points="187.50,485.70 192.50,490.30 197.50,485.70 192.50,481.10" fill="#ffffff"/>
<polygon points="143.00,481.56 146.00,484.32 149.00,481.56 146.00,478.80" fill="#ffffff"/>
<polygon points="173.00,481.56 176.00,484.32 179.00,481.56 176.00,478.80" fill="#fbd0d3"/>
<polygon points="142.50,494.90 145.50,497.66 148.50,494.90 145.50,492.14" fill="#f7a6ab"/>
<line x1="117.32" y1="478.80" x2="167.66" y2="525.11" stroke="#ffffff" stroke-width="0.9327217475972054"/>
<line x1="121.34" y1="478.80" x2="169.67" y2="523.26" stroke="#ffffff" stroke-width="0.8587796297366979"/>
<line x1="127.79" y1="478.80" x2="172.89" y2="520.30" stroke="#ffffff" stroke-width="0.8614979331517163"/>
<line x1="132.34" y1="478.80" x2="175.17" y2="518.20" stroke="#ffffff" stroke-width="0.7230683779015669"/>
<line x1="138.37" y1="478.80" x2="178.18" y2="515.43" stroke="#ffffff" stroke-width="0.937976242626344"/>
<line x1="144.19" y1="478.80" x2="181.09" y2="512.75" stroke="#ffffff" stroke-width="0.7892034224038489"/>
<line x1="149.05" y1="478.80" x2="183.52" y2="510.52" stroke="#ffffff" stroke-width="0.7420089122756017"/>
<line x1="155.06" y1="478.80" x2="186.53" y2="507.75" stroke="#ffffff" stroke-width="0.7501119240844956"/>
<line x1="160.43" y1="478.80" x2="189.22" y2="505.28" stroke="#ffffff" stroke-width="0.8208320216402303"/>
<line x1="166.15" y1="478.80" x2="192.07" y2="502.65" stroke="#ffffff" stroke-width="0.6143590359756758"/>
<line x1="170.45" y1="478.80" x2="194.23" y2="500.67" stroke="#ffffff" stroke-width="0.8470157634846252"/>
<line x1="175.95" y1="478.80" x2="196.97" y2="498.14" stroke="#ffffff" stroke-width="0.8932672998183051"/>
<line x1="179.63" y1="478.80" x2="198.82" y2="496.45" stroke="#ffffff" stroke-width="0.6811054477915448"/>
<line x1="184.89" y1="478.80" x2="201.44" y2="494.03" stroke="#ffffff" stroke-width="0.8614476703098095"/>
<line x1="189.07" y1="478.80" x2="203.54" y2="492.11" stroke="#ffffff" stroke-width="0.8676177249985941"/>
<line x1="194.01" y1="478.80" x2="206.00" y2="489.84" stroke="#ffffff" stroke-width="0.7069823001742562"/>
<line x1="200.41" y1="478.80" x2="209.21" y2="486.89" stroke="#ffffff" stroke-width="0.6374949566205135"/>
<line x1="207.18" y1="478.80" x2="212.59" y2="483.78" stroke="#ffffff" stroke-width="0.7086835892027066"/>
<line x1="211.95" y1="478.80" x2="214.97" y2="481.58" stroke="#ffffff" stroke-width="0.6710771082652065"/>
<line x1="217.09" y1="478.80" x2="217.54" y2="479.22" stroke="#ffffff" stroke-width="0.8947963029700061"/>
<line x1="116.77" y1="481.81" x2="120.05" y2="478.80" stroke="#ffffff" stroke-width="0.8216097538532403"/>
<line x1="120.81" y1="485.53" x2="128.13" y2="478.80" stroke="#ffffff" stroke-width="0.72069562863209"/>
<line x1="123.77" y1="488.25" x2="134.04" y2="478.80" stroke="#ffffff" stroke-width="0.8791544101191657"/>
<line x1="127.72" y1="491.89" x2="141.95" y2="478.80" stroke="#ffffff" stroke-width="0.7878722595747073"/>
<line x1="132.33" y1="496.13" x2="151.16" y2="478.80" stroke="#ffffff" stroke-width="0.6427857291680407"/>
<line x1="137.69" y1="501.06" x2="161.89" y2="478.80" stroke="#ffffff" stroke-width="0.9563311370577241"/>
<line x1="141.08" y1="504.18" x2="168.67" y2="478.80" stroke="#ffffff" stroke-width="0.9264163216975545"/>
<line x1="146.03" y1="508.73" x2="178.56" y2="478.80" stroke="#ffffff" stroke-width="0.7193003157201929"/>
<line x1="149.47" y1="511.90" x2="185.45" y2="478.80" stroke="#ffffff" stroke-width="0.6335635143510867"/>
<line x1="153.42" y1="515.53" x2="193.35" y2="478.80" stroke="#ffffff" stroke-width="0.7804773732923747"/>
<line x1="157.63" y1="519.40" x2="201.76" y2="478.80" stroke="#ffffff" stroke-width="0.7926121659939607"/>
<line x1="162.05" y1="523.46" x2="210.60" y2="478.80" stroke="#ffffff" stroke-width="0.6499167331492873"/>
<line x1="165.33" y1="526.49" x2="217.17" y2="478.80" stroke="#ffffff" stroke-width="0.8236585570069549"/>
<line x1="98.25" y1="486.39" x2="101.25" y2="483.63" stroke="#ffffff" stroke-width="0.8"/>
<line x1="208.16" y1="487.86" x2="217.58" y2="496.52" stroke="#f2a0a6" stroke-width="0.6772520715670463"/>
<line x1="215.04" y1="481.52" x2="224.11" y2="489.86" stroke="#f2a0a6" stroke-width="0.6581885861035908"/>
<line x1="199.90" y1="495.45" x2="211.16" y2="505.81" stroke="#e83040" stroke-width="0.6113404984337845"/>
<line x1="215.90" y1="480.73" x2="223.71" y2="487.92" stroke="#f2a0a6" stroke-width="0.8029259592226923"/>
<line x1="209.95" y1="486.21" x2="217.87" y2="493.49" stroke="#e83040" stroke-width="0.6469233128046463"/>
<line x1="196.00" y1="499.04" x2="204.73" y2="507.08" stroke="#c8c8f0" stroke-width="0.6819905108976314"/>
<line x1="178.39" y1="515.24" x2="185.24" y2="521.54" stroke="#f2a0a6" stroke-width="0.8788921730521446"/>
<line x1="213.16" y1="483.26" x2="225.41" y2="494.53" stroke="#ee6c76" stroke-width="0.6399378235324825"/>
<line x1="208.27" y1="487.75" x2="221.70" y2="500.11" stroke="#f2a0a6" stroke-width="0.897253439810503"/>
<line x1="210.64" y1="485.57" x2="217.63" y2="492.01" stroke="#c8c8f0" stroke-width="0.9309447022656534"/>
<line x1="213.93" y1="482.55" x2="228.16" y2="495.64" stroke="#ee6c76" stroke-width="0.7087695015810677"/>
<line x1="199.73" y1="495.61" x2="215.38" y2="510.02" stroke="#ee6c76" stroke-width="0.7405653832461023"/>
<line x1="194.96" y1="500.00" x2="209.65" y2="513.52" stroke="#c8c8f0" stroke-width="0.9004232751802115"/>
<line x1="215.35" y1="481.24" x2="226.92" y2="491.89" stroke="#f2a0a6" stroke-width="0.8290653451451327"/>
<line x1="188.73" y1="505.73" x2="196.18" y2="512.59" stroke="#c8c8f0" stroke-width="0.6051169870711631"/>
<line x1="217.26" y1="479.48" x2="223.81" y2="485.51" stroke="#ee6c76" stroke-width="0.8983347158373942"/>
<line x1="206.25" y1="489.61" x2="216.79" y2="499.31" stroke="#e83040" stroke-width="0.9942508652925923"/>
<line x1="213.35" y1="483.08" x2="226.58" y2="495.25" stroke="#ee6c76" stroke-width="0.8602607502684502"/>
<line x1="209.31" y1="486.80" x2="222.18" y2="498.64" stroke="#f2a0a6" stroke-width="0.7192940250968196"/>
<line x1="173.50" y1="519.74" x2="188.36" y2="533.41" stroke="#e83040" stroke-width="0.9694652760484757"/>
<line x1="205.79" y1="490.04" x2="217.83" y2="501.12" stroke="#ee6c76" stroke-width="0.9176461025518873"/>
<line x1="176.18" y1="517.28" x2="190.88" y2="530.80" stroke="#ee6c76" stroke-width="0.8803998917585847"/>
<line x1="180.76" y1="513.07" x2="193.75" y2="525.02" stroke="#c8c8f0" stroke-width="0.6453822489501732"/>
<line x1="188.12" y1="506.29" x2="199.12" y2="516.40" stroke="#f2a0a6" stroke-width="0.6957510657952063"/>
<line x1="179.29" y1="514.42" x2="194.08" y2="528.03" stroke="#f2a0a6" stroke-width="0.6656994973097957"/>
<line x1="170.23" y1="522.75" x2="186.29" y2="537.53" stroke="#f2a0a6" stroke-width="0.8681673809931029"/>
<line x1="206.71" y1="489.19" x2="222.86" y2="504.05" stroke="#c8c8f0" stroke-width="0.7958081558537197"/>
<line x1="182.12" y1="511.81" x2="196.93" y2="525.43" stroke="#ee6c76" stroke-width="0.7885833997183611"/>
<line x1="189.34" y1="505.17" x2="201.02" y2="515.92" stroke="#e83040" stroke-width="0.7814950671014063"/>
<line x1="178.27" y1="515.35" x2="190.48" y2="526.59" stroke="#ee6c76" stroke-width="0.6142607063615672"/>
<line x1="205.02" y1="490.74" x2="211.11" y2="496.35" stroke="#ee6c76" stroke-width="0.8041579431415451"/>
<line x1="202.26" y1="493.28" x2="216.44" y2="506.33" stroke="#f2a0a6" stroke-width="0.6433947263698159"/>
<line x1="201.54" y1="493.94" x2="210.52" y2="502.20" stroke="#c8c8f0" stroke-width="0.8130116394021318"/>
<line x1="209.08" y1="487.01" x2="219.30" y2="496.42" stroke="#c8c8f0" stroke-width="0.9381779976219973"/>
<line x1="182.89" y1="511.10" x2="198.34" y2="525.31" stroke="#ee6c76" stroke-width="0.9432028368819235"/>
<line x1="184.85" y1="509.30" x2="200.45" y2="523.65" stroke="#e83040" stroke-width="0.9880642514472247"/>
<line x1="205.99" y1="489.85" x2="222.49" y2="505.03" stroke="#c8c8f0" stroke-width="0.9940086863912464"/>
<line x1="206.62" y1="489.27" x2="219.50" y2="501.12" stroke="#c8c8f0" stroke-width="0.8017298744156574"/>
<line x1="188.62" y1="505.83" x2="203.74" y2="519.74" stroke="#c8c8f0" stroke-width="0.9881724469260493"/>
<line x1="211.89" y1="484.42" x2="226.75" y2="498.09" stroke="#e83040" stroke-width="0.9699606212344456"/>
<line x1="158.03" y1="542.30" x2="191.96" y2="511.08" stroke="#ee6c76" stroke-width="0.6146987919780202"/>
<line x1="185.05" y1="536.77" x2="213.06" y2="511.01" stroke="#ee6c76" stroke-width="0.7739272089085611"/>
<line x1="187.81" y1="522.59" x2="216.74" y2="495.98" stroke="#f2a0a6" stroke-width="0.7918376342023828"/>
<line x1="172.79" y1="545.38" x2="201.61" y2="518.87" stroke="#c8c8f0" stroke-width="0.6181435428811779"/>
<line x1="179.72" y1="529.67" x2="216.39" y2="495.94" stroke="#f2a0a6" stroke-width="0.8639218025707452"/>
<line x1="167.18" y1="534.67" x2="205.14" y2="499.76" stroke="#ee6c76" stroke-width="0.8546558551603952"/>
<line x1="176.23" y1="518.66" x2="188.50" y2="507.37" stroke="#c8c8f0" stroke-width="0.8364846869883176"/>
<line x1="186.68" y1="523.80" x2="203.54" y2="508.29" stroke="#f2a0a6" stroke-width="0.6094396644291474"/>
<line x1="164.19" y1="552.01" x2="216.51" y2="503.88" stroke="#c8c8f0" stroke-width="0.8452792471627004"/>
<line x1="186.98" y1="535.77" x2="220.08" y2="505.32" stroke="#ee6c76" stroke-width="0.8674635276238385"/>
<line x1="152.98" y1="541.28" x2="210.42" y2="488.44" stroke="#ee6c76" stroke-width="0.7164390798917782"/>
<line x1="167.86" y1="546.63" x2="207.83" y2="509.85" stroke="#ee6c76" stroke-width="0.7703416513713626"/>
<line x1="173.20" y1="542.40" x2="201.91" y2="515.99" stroke="#c8c8f0" stroke-width="0.7732235478673257"/>
<line x1="178.65" y1="543.53" x2="215.99" y2="509.18" stroke="#ee6c76" stroke-width="0.8350942057273264"/>
<line x1="159.91" y1="544.44" x2="210.28" y2="498.10" stroke="#ee6c76" stroke-width="0.8982223227187041"/>
<line x1="177.79" y1="525.10" x2="197.55" y2="506.93" stroke="#ee6c76" stroke-width="0.7287959691688162"/>
<line x1="160.52" y1="485.68" x2="171.52" y2="495.80" stroke="#f2a0a6" stroke-width="0.7"/>
<line x1="162.49" y1="483.87" x2="173.49" y2="493.99" stroke="#ee6c76" stroke-width="0.7"/>
<line x1="158.78" y1="487.28" x2="169.78" y2="497.40" stroke="#ee6c76" stroke-width="0.7"/>
<line x1="163.57" y1="482.88" x2="174.57" y2="493.00" stroke="#f2a0a6" stroke-width="0.7"/>
<line x1="161.69" y1="484.60" x2="172.69" y2="494.72" stroke="#f2a0a6" stroke-width="0.7"/>
<line x1="160.69" y1="485.53" x2="171.69" y2="495.65" stroke="#f2a0a6" stroke-width="0.7"/>
<line x1="159.05" y1="487.04" x2="170.05" y2="497.16" stroke="#f2a0a6" stroke-width="0.7"/>
<line x1="158.68" y1="487.38" x2="169.68" y2="497.50" stroke="#ee6c76" stroke-width="0.7"/>
<line x1="160.36" y1="485.83" x2="171.36" y2="495.95" stroke="#ee6c76" stroke-width="0.7"/>
<line x1="158.95" y1="487.12" x2="169.95" y2="497.24" stroke="#ee6c76" stroke-width="0.7"/>
<line x1="148.65" y1="539.20" x2="162.15" y2="526.78" stroke="#c8c8f0" stroke-width="0.7"/>
<line x1="128.57" y1="520.72" x2="142.07" y2="508.30" stroke="#c8c8f0" stroke-width="0.7"/>
<line x1="125.37" y1="517.78" x2="138.87" y2="505.36" stroke="#e86870" stroke-width="0.7"/>
<line x1="120.17" y1="513.00" x2="133.67" y2="500.58" stroke="#c8c8f0" stroke-width="0.7"/>
<line x1="144.02" y1="534.94" x2="157.52" y2="522.52" stroke="#f2a0a6" stroke-width="0.7"/>
<line x1="134.07" y1="525.78" x2="147.57" y2="513.36" stroke="#e86870" stroke-width="0.7"/>
<line x1="116.68" y1="509.78" x2="130.18" y2="497.36" stroke="#c8c8f0" stroke-width="0.7"/>
<line x1="146.05" y1="536.80" x2="159.55" y2="524.38" stroke="#f2a0a6" stroke-width="0.7"/>
<line x1="118.26" y1="511.24" x2="131.76" y2="498.82" stroke="#e86870" stroke-width="0.7"/>
<line x1="120.55" y1="513.35" x2="134.05" y2="500.93" stroke="#c8c8f0" stroke-width="0.7"/>
<line x1="99.27" y1="493.77" x2="112.77" y2="481.35" stroke="#e86870" stroke-width="0.7"/>
<line x1="114.02" y1="507.34" x2="127.52" y2="494.92" stroke="#c8c8f0" stroke-width="0.7"/>
</g></g>
<path fill="#e2e2f9" d="M38.5 482.6l1.33 1.23l-1.33 1.23l-1.33 -1.23zM39.9 481.3l1.33 1.23l-1.33 1.23l-1.33 -1.23zM42.8 483.9l1.33 1.23l-1.33 1.23l-1.33 -1.23zM44.2 482.6l1.33 1.23l-1.33 1.23l-1.33 -1.23zM47.1 480.0l1.33 1.23l-1.33 1.23l-1.33 -1.23zM54.2 478.7l1.33 1.23l-1.33 1.23l-1.33 -1.23zM42.8 491.8l1.33 1.23l-1.33 1.23l-1.33 -1.23zM51.3 499.7l1.33 1.23l-1.33 1.23l-1.33 -1.23zM45.6 491.8l1.33 1.23l-1.33 1.23l-1.33 -1.23zM49.9 495.7l1.33 1.23l-1.33 1.23l-1.33 -1.23zM47.1 490.5l1.33 1.23l-1.33 1.23l-1.33 -1.23zM52.8 495.7l1.33 1.23l-1.33 1.23l-1.33 -1.23zM48.5 489.2l1.33 1.23l-1.33 1.23l-1.33 -1.23zM49.9 487.9l1.33 1.23l-1.33 1.23l-1.33 -1.23zM51.3 489.2l1.33 1.23l-1.33 1.23l-1.33 -1.23zM49.9 485.2l1.33 1.23l-1.33 1.23l-1.33 -1.23zM51.3 486.5l1.33 1.23l-1.33 1.23l-1.33 -1.23zM55.6 490.5l1.33 1.23l-1.33 1.23l-1.33 -1.23zM51.3 483.9l1.33 1.23l-1.33 1.23l-1.33 -1.23zM52.8 485.2l1.33 1.23l-1.33 1.23l-1.33 -1.23zM57.0 489.2l1.33 1.23l-1.33 1.23l-1.33 -1.23zM55.6 485.2l1.33 1.23l-1.33 1.23l-1.33 -1.23zM59.9 489.2l1.33 1.23l-1.33 1.23l-1.33 -1.23zM61.3 490.5l1.33 1.23l-1.33 1.23l-1.33 -1.23zM57.0 483.9l1.33 1.23l-1.33 1.23l-1.33 -1.23zM57.0 481.3l1.33 1.23l-1.33 1.23l-1.33 -1.23zM61.3 485.2l1.33 1.23l-1.33 1.23l-1.33 -1.23zM64.2 487.9l1.33 1.23l-1.33 1.23l-1.33 -1.23zM58.5 480.0l1.33 1.23l-1.33 1.23l-1.33 -1.23zM61.3 482.6l1.33 1.23l-1.33 1.23l-1.33 -1.23z"/>
<path fill="#c4c4f0" d="M44.2 493.1l1.33 1.23l-1.33 1.23l-1.33 -1.23zM47.1 495.7l1.33 1.23l-1.33 1.23l-1.33 -1.23zM48.5 497.0l1.33 1.23l-1.33 1.23l-1.33 -1.23zM49.9 498.3l1.33 1.23l-1.33 1.23l-1.33 -1.23zM44.2 490.5l1.33 1.23l-1.33 1.23l-1.33 -1.23zM47.1 493.1l1.33 1.23l-1.33 1.23l-1.33 -1.23zM48.5 494.4l1.33 1.23l-1.33 1.23l-1.33 -1.23zM51.3 497.0l1.33 1.23l-1.33 1.23l-1.33 -1.23zM52.8 498.3l1.33 1.23l-1.33 1.23l-1.33 -1.23zM48.5 491.8l1.33 1.23l-1.33 1.23l-1.33 -1.23zM51.3 494.4l1.33 1.23l-1.33 1.23l-1.33 -1.23zM47.1 487.9l1.33 1.23l-1.33 1.23l-1.33 -1.23zM51.3 491.8l1.33 1.23l-1.33 1.23l-1.33 -1.23zM52.8 493.1l1.33 1.23l-1.33 1.23l-1.33 -1.23zM54.2 494.4l1.33 1.23l-1.33 1.23l-1.33 -1.23zM55.6 495.7l1.33 1.23l-1.33 1.23l-1.33 -1.23zM48.5 486.5l1.33 1.23l-1.33 1.23l-1.33 -1.23zM54.2 491.8l1.33 1.23l-1.33 1.23l-1.33 -1.23zM55.6 493.1l1.33 1.23l-1.33 1.23l-1.33 -1.23zM52.8 487.9l1.33 1.23l-1.33 1.23l-1.33 -1.23zM54.2 489.2l1.33 1.23l-1.33 1.23l-1.33 -1.23zM57.0 491.8l1.33 1.23l-1.33 1.23l-1.33 -1.23zM58.5 493.1l1.33 1.23l-1.33 1.23l-1.33 -1.23zM54.2 486.5l1.33 1.23l-1.33 1.23l-1.33 -1.23zM55.6 487.9l1.33 1.23l-1.33 1.23l-1.33 -1.23zM59.9 491.8l1.33 1.23l-1.33 1.23l-1.33 -1.23zM52.8 482.6l1.33 1.23l-1.33 1.23l-1.33 -1.23zM54.2 483.9l1.33 1.23l-1.33 1.23l-1.33 -1.23zM58.5 487.9l1.33 1.23l-1.33 1.23l-1.33 -1.23zM54.2 481.3l1.33 1.23l-1.33 1.23l-1.33 -1.23zM58.5 485.2l1.33 1.23l-1.33 1.23l-1.33 -1.23zM59.9 486.5l1.33 1.23l-1.33 1.23l-1.33 -1.23zM55.6 480.0l1.33 1.23l-1.33 1.23l-1.33 -1.23zM58.5 482.6l1.33 1.23l-1.33 1.23l-1.33 -1.23zM62.7 486.5l1.33 1.23l-1.33 1.23l-1.33 -1.23zM59.9 481.3l1.33 1.23l-1.33 1.23l-1.33 -1.23zM62.8 483.9l1.33 1.23l-1.33 1.23l-1.33 -1.23zM64.2 485.2l1.33 1.23l-1.33 1.23l-1.33 -1.23zM65.6 486.5l1.33 1.23l-1.33 1.23l-1.33 -1.23z"/>
<path fill="#ee1c24" d="M28.5 478.7l1.33 1.23l-1.33 1.23l-1.33 -1.23zM30.0 480.0l1.33 1.23l-1.33 1.23l-1.33 -1.23zM31.4 481.3l1.33 1.23l-1.33 1.23l-1.33 -1.23zM32.8 482.6l1.33 1.23l-1.33 1.23l-1.33 -1.23zM34.2 483.9l1.33 1.23l-1.33 1.23l-1.33 -1.23zM35.7 485.2l1.33 1.23l-1.33 1.23l-1.33 -1.23zM37.1 486.5l1.33 1.23l-1.33 1.23l-1.33 -1.23zM38.5 487.9l1.33 1.23l-1.33 1.23l-1.33 -1.23zM41.4 490.5l1.33 1.23l-1.33 1.23l-1.33 -1.23zM31.4 478.7l1.33 1.23l-1.33 1.23l-1.33 -1.23zM32.8 480.0l1.33 1.23l-1.33 1.23l-1.33 -1.23zM34.2 481.3l1.33 1.23l-1.33 1.23l-1.33 -1.23zM35.7 482.6l1.33 1.23l-1.33 1.23l-1.33 -1.23zM37.1 483.9l1.33 1.23l-1.33 1.23l-1.33 -1.23zM38.5 485.2l1.33 1.23l-1.33 1.23l-1.33 -1.23zM39.9 486.5l1.33 1.23l-1.33 1.23l-1.33 -1.23zM41.4 487.9l1.33 1.23l-1.33 1.23l-1.33 -1.23zM42.8 489.2l1.33 1.23l-1.33 1.23l-1.33 -1.23zM34.2 478.7l1.33 1.23l-1.33 1.23l-1.33 -1.23zM35.7 480.0l1.33 1.23l-1.33 1.23l-1.33 -1.23zM37.1 481.3l1.33 1.23l-1.33 1.23l-1.33 -1.23zM39.9 483.9l1.33 1.23l-1.33 1.23l-1.33 -1.23zM41.4 485.2l1.33 1.23l-1.33 1.23l-1.33 -1.23zM42.8 486.5l1.33 1.23l-1.33 1.23l-1.33 -1.23zM37.1 478.7l1.33 1.23l-1.33 1.23l-1.33 -1.23zM38.5 480.0l1.33 1.23l-1.33 1.23l-1.33 -1.23zM41.4 482.6l1.33 1.23l-1.33 1.23l-1.33 -1.23zM44.2 485.2l1.33 1.23l-1.33 1.23l-1.33 -1.23zM45.6 486.5l1.33 1.23l-1.33 1.23l-1.33 -1.23zM40.0 478.7l1.33 1.23l-1.33 1.23l-1.33 -1.23zM41.4 480.0l1.33 1.23l-1.33 1.23l-1.33 -1.23zM42.8 481.3l1.33 1.23l-1.33 1.23l-1.33 -1.23zM45.6 483.9l1.33 1.23l-1.33 1.23l-1.33 -1.23zM47.1 485.2l1.33 1.23l-1.33 1.23l-1.33 -1.23zM42.8 478.7l1.33 1.23l-1.33 1.23l-1.33 -1.23zM44.2 480.0l1.33 1.23l-1.33 1.23l-1.33 -1.23zM45.6 481.3l1.33 1.23l-1.33 1.23l-1.33 -1.23zM47.1 482.6l1.33 1.23l-1.33 1.23l-1.33 -1.23zM48.5 483.9l1.33 1.23l-1.33 1.23l-1.33 -1.23zM45.6 478.7l1.33 1.23l-1.33 1.23l-1.33 -1.23zM48.5 481.3l1.33 1.23l-1.33 1.23l-1.33 -1.23zM49.9 480.0l1.33 1.23l-1.33 1.23l-1.33 -1.23zM51.3 481.3l1.33 1.23l-1.33 1.23l-1.33 -1.23zM51.3 478.7l1.33 1.23l-1.33 1.23l-1.33 -1.23zM52.8 480.0l1.33 1.23l-1.33 1.23l-1.33 -1.23zM59.9 478.7l1.33 1.23l-1.33 1.23l-1.33 -1.23zM61.3 480.0l1.33 1.23l-1.33 1.23l-1.33 -1.23zM62.7 481.3l1.33 1.23l-1.33 1.23l-1.33 -1.23zM64.2 482.6l1.33 1.23l-1.33 1.23l-1.33 -1.23zM65.6 483.9l1.33 1.23l-1.33 1.23l-1.33 -1.23zM67.0 485.2l1.33 1.23l-1.33 1.23l-1.33 -1.23zM65.6 481.3l1.33 1.23l-1.33 1.23l-1.33 -1.23zM67.0 482.6l1.33 1.23l-1.33 1.23l-1.33 -1.23zM68.4 483.9l1.33 1.23l-1.33 1.23l-1.33 -1.23zM67.0 480.0l1.33 1.23l-1.33 1.23l-1.33 -1.23zM68.4 481.3l1.33 1.23l-1.33 1.23l-1.33 -1.23zM69.9 482.6l1.33 1.23l-1.33 1.23l-1.33 -1.23zM68.4 478.7l1.33 1.23l-1.33 1.23l-1.33 -1.23zM69.9 480.0l1.33 1.23l-1.33 1.23l-1.33 -1.23zM71.3 481.3l1.33 1.23l-1.33 1.23l-1.33 -1.23zM71.3 478.7l1.33 1.23l-1.33 1.23l-1.33 -1.23zM72.7 480.0l1.33 1.23l-1.33 1.23l-1.33 -1.23zM74.1 478.7l1.33 1.23l-1.33 1.23l-1.33 -1.23z"/>
<rect x="20.5" y="165.8" width="230.4" height="10.2" fill="#d8d6cf"/>
<line x1="23.66" y1="165.80" x2="23.79" y2="176.00" stroke="#e6e4df" stroke-width="0.6" stroke-opacity="0.9"/>
<line x1="26.96" y1="165.80" x2="26.37" y2="176.00" stroke="#e6e4df" stroke-width="0.6" stroke-opacity="0.9"/>
<line x1="29.11" y1="165.80" x2="28.96" y2="176.00" stroke="#e6e4df" stroke-width="0.6" stroke-opacity="0.9"/>
<line x1="32.24" y1="165.80" x2="31.54" y2="176.00" stroke="#e6e4df" stroke-width="0.6" stroke-opacity="0.9"/>
<line x1="34.86" y1="165.80" x2="34.12" y2="176.00" stroke="#e6e4df" stroke-width="0.6" stroke-opacity="0.9"/>
<line x1="36.08" y1="165.80" x2="36.71" y2="176.00" stroke="#e6e4df" stroke-width="0.6" stroke-opacity="0.9"/>
<line x1="38.52" y1="165.80" x2="39.29" y2="176.00" stroke="#e6e4df" stroke-width="0.6" stroke-opacity="0.9"/>
<line x1="43.07" y1="165.80" x2="41.87" y2="176.00" stroke="#e6e4df" stroke-width="0.6" stroke-opacity="0.9"/>
<line x1="44.25" y1="165.80" x2="44.46" y2="176.00" stroke="#e6e4df" stroke-width="0.6" stroke-opacity="0.9"/>
<line x1="46.76" y1="165.80" x2="47.04" y2="176.00" stroke="#e6e4df" stroke-width="0.6" stroke-opacity="0.9"/>
<line x1="51.16" y1="165.80" x2="49.62" y2="176.00" stroke="#e6e4df" stroke-width="0.6" stroke-opacity="0.9"/>
<line x1="52.46" y1="165.80" x2="52.20" y2="176.00" stroke="#e6e4df" stroke-width="0.6" stroke-opacity="0.9"/>
<line x1="55.91" y1="165.80" x2="54.79" y2="176.00" stroke="#e6e4df" stroke-width="0.6" stroke-opacity="0.9"/>
<line x1="57.61" y1="165.80" x2="57.37" y2="176.00" stroke="#e6e4df" stroke-width="0.6" stroke-opacity="0.9"/>
<line x1="60.57" y1="165.80" x2="59.95" y2="176.00" stroke="#e6e4df" stroke-width="0.6" stroke-opacity="0.9"/>
<line x1="61.97" y1="165.80" x2="62.54" y2="176.00" stroke="#e6e4df" stroke-width="0.6" stroke-opacity="0.9"/>
<line x1="65.70" y1="165.80" x2="65.12" y2="176.00" stroke="#e6e4df" stroke-width="0.6" stroke-opacity="0.9"/>
<line x1="68.83" y1="165.80" x2="67.70" y2="176.00" stroke="#e6e4df" stroke-width="0.6" stroke-opacity="0.9"/>
<line x1="70.57" y1="165.80" x2="70.28" y2="176.00" stroke="#e6e4df" stroke-width="0.6" stroke-opacity="0.9"/>
<line x1="73.66" y1="165.80" x2="72.87" y2="176.00" stroke="#e6e4df" stroke-width="0.6" stroke-opacity="0.9"/>
<line x1="76.06" y1="165.80" x2="75.45" y2="176.00" stroke="#e6e4df" stroke-width="0.6" stroke-opacity="0.9"/>
<line x1="77.17" y1="165.80" x2="78.03" y2="176.00" stroke="#e6e4df" stroke-width="0.6" stroke-opacity="0.9"/>
<line x1="81.40" y1="165.80" x2="80.62" y2="176.00" stroke="#e6e4df" stroke-width="0.6" stroke-opacity="0.9"/>
<line x1="83.57" y1="165.80" x2="83.20" y2="176.00" stroke="#e6e4df" stroke-width="0.6" stroke-opacity="0.9"/>
<line x1="85.44" y1="165.80" x2="85.78" y2="176.00" stroke="#e6e4df" stroke-width="0.6" stroke-opacity="0.9"/>
<line x1="87.36" y1="165.80" x2="88.37" y2="176.00" stroke="#e6e4df" stroke-width="0.6" stroke-opacity="0.9"/>
<line x1="91.93" y1="165.80" x2="90.95" y2="176.00" stroke="#e6e4df" stroke-width="0.6" stroke-opacity="0.9"/>
<line x1="93.56" y1="165.80" x2="93.53" y2="176.00" stroke="#e6e4df" stroke-width="0.6" stroke-opacity="0.9"/>
<line x1="96.72" y1="165.80" x2="96.11" y2="176.00" stroke="#e6e4df" stroke-width="0.6" stroke-opacity="0.9"/>
<line x1="99.67" y1="165.80" x2="98.70" y2="176.00" stroke="#e6e4df" stroke-width="0.6" stroke-opacity="0.9"/>
<line x1="101.84" y1="165.80" x2="101.28" y2="176.00" stroke="#e6e4df" stroke-width="0.6" stroke-opacity="0.9"/>
<line x1="104.91" y1="165.80" x2="103.86" y2="176.00" stroke="#e6e4df" stroke-width="0.6" stroke-opacity="0.9"/>
<line x1="106.21" y1="165.80" x2="106.45" y2="176.00" stroke="#e6e4df" stroke-width="0.6" stroke-opacity="0.9"/>
<line x1="109.76" y1="165.80" x2="109.03" y2="176.00" stroke="#e6e4df" stroke-width="0.6" stroke-opacity="0.9"/>
<line x1="111.47" y1="165.80" x2="111.61" y2="176.00" stroke="#e6e4df" stroke-width="0.6" stroke-opacity="0.9"/>
<line x1="115.22" y1="165.80" x2="114.19" y2="176.00" stroke="#e6e4df" stroke-width="0.6" stroke-opacity="0.9"/>
<line x1="117.65" y1="165.80" x2="116.78" y2="176.00" stroke="#e6e4df" stroke-width="0.6" stroke-opacity="0.9"/>
<line x1="118.34" y1="165.80" x2="119.36" y2="176.00" stroke="#e6e4df" stroke-width="0.6" stroke-opacity="0.9"/>
<line x1="121.00" y1="165.80" x2="121.94" y2="176.00" stroke="#e6e4df" stroke-width="0.6" stroke-opacity="0.9"/>
<line x1="123.76" y1="165.80" x2="124.53" y2="176.00" stroke="#e6e4df" stroke-width="0.6" stroke-opacity="0.9"/>
<line x1="128.13" y1="165.80" x2="127.11" y2="176.00" stroke="#e6e4df" stroke-width="0.6" stroke-opacity="0.9"/>
<line x1="129.43" y1="165.80" x2="129.69" y2="176.00" stroke="#e6e4df" stroke-width="0.6" stroke-opacity="0.9"/>
<line x1="132.45" y1="165.80" x2="132.28" y2="176.00" stroke="#e6e4df" stroke-width="0.6" stroke-opacity="0.9"/>
<line x1="134.24" y1="165.80" x2="134.86" y2="176.00" stroke="#e6e4df" stroke-width="0.6" stroke-opacity="0.9"/>
<line x1="137.30" y1="165.80" x2="137.44" y2="176.00" stroke="#e6e4df" stroke-width="0.6" stroke-opacity="0.9"/>
<line x1="139.58" y1="165.80" x2="140.02" y2="176.00" stroke="#e6e4df" stroke-width="0.6" stroke-opacity="0.9"/>
<line x1="142.06" y1="165.80" x2="142.61" y2="176.00" stroke="#e6e4df" stroke-width="0.6" stroke-opacity="0.9"/>
<line x1="145.19" y1="165.80" x2="145.19" y2="176.00" stroke="#e6e4df" stroke-width="0.6" stroke-opacity="0.9"/>
<line x1="147.76" y1="165.80" x2="147.77" y2="176.00" stroke="#e6e4df" stroke-width="0.6" stroke-opacity="0.9"/>
<line x1="151.10" y1="165.80" x2="150.36" y2="176.00" stroke="#e6e4df" stroke-width="0.6" stroke-opacity="0.9"/>
<line x1="153.13" y1="165.80" x2="152.94" y2="176.00" stroke="#e6e4df" stroke-width="0.6" stroke-opacity="0.9"/>
<line x1="156.29" y1="165.80" x2="155.52" y2="176.00" stroke="#e6e4df" stroke-width="0.6" stroke-opacity="0.9"/>
<line x1="158.68" y1="165.80" x2="158.11" y2="176.00" stroke="#e6e4df" stroke-width="0.6" stroke-opacity="0.9"/>
<line x1="161.58" y1="165.80" x2="160.69" y2="176.00" stroke="#e6e4df" stroke-width="0.6" stroke-opacity="0.9"/>
<line x1="163.38" y1="165.80" x2="163.27" y2="176.00" stroke="#e6e4df" stroke-width="0.6" stroke-opacity="0.9"/>
<line x1="164.73" y1="165.80" x2="165.85" y2="176.00" stroke="#e6e4df" stroke-width="0.6" stroke-opacity="0.9"/>
<line x1="168.97" y1="165.80" x2="168.44" y2="176.00" stroke="#e6e4df" stroke-width="0.6" stroke-opacity="0.9"/>
<line x1="171.79" y1="165.80" x2="171.02" y2="176.00" stroke="#e6e4df" stroke-width="0.6" stroke-opacity="0.9"/>
<line x1="174.21" y1="165.80" x2="173.60" y2="176.00" stroke="#e6e4df" stroke-width="0.6" stroke-opacity="0.9"/>
<line x1="175.97" y1="165.80" x2="176.19" y2="176.00" stroke="#e6e4df" stroke-width="0.6" stroke-opacity="0.9"/>
<line x1="178.89" y1="165.80" x2="178.77" y2="176.00" stroke="#e6e4df" stroke-width="0.6" stroke-opacity="0.9"/>
<line x1="180.25" y1="165.80" x2="181.35" y2="176.00" stroke="#e6e4df" stroke-width="0.6" stroke-opacity="0.9"/>
<line x1="184.31" y1="165.80" x2="183.93" y2="176.00" stroke="#e6e4df" stroke-width="0.6" stroke-opacity="0.9"/>
<line x1="186.26" y1="165.80" x2="186.52" y2="176.00" stroke="#e6e4df" stroke-width="0.6" stroke-opacity="0.9"/>
<line x1="188.13" y1="165.80" x2="189.10" y2="176.00" stroke="#e6e4df" stroke-width="0.6" stroke-opacity="0.9"/>
<line x1="190.17" y1="165.80" x2="191.68" y2="176.00" stroke="#e6e4df" stroke-width="0.6" stroke-opacity="0.9"/>
<line x1="194.63" y1="165.80" x2="194.27" y2="176.00" stroke="#e6e4df" stroke-width="0.6" stroke-opacity="0.9"/>
<line x1="197.53" y1="165.80" x2="196.85" y2="176.00" stroke="#e6e4df" stroke-width="0.6" stroke-opacity="0.9"/>
<line x1="197.93" y1="165.80" x2="199.43" y2="176.00" stroke="#e6e4df" stroke-width="0.6" stroke-opacity="0.9"/>
<line x1="202.21" y1="165.80" x2="202.02" y2="176.00" stroke="#e6e4df" stroke-width="0.6" stroke-opacity="0.9"/>
<line x1="203.84" y1="165.80" x2="204.60" y2="176.00" stroke="#e6e4df" stroke-width="0.6" stroke-opacity="0.9"/>
<line x1="205.79" y1="165.80" x2="207.18" y2="176.00" stroke="#e6e4df" stroke-width="0.6" stroke-opacity="0.9"/>
<line x1="208.70" y1="165.80" x2="209.76" y2="176.00" stroke="#e6e4df" stroke-width="0.6" stroke-opacity="0.9"/>
<line x1="212.41" y1="165.80" x2="212.35" y2="176.00" stroke="#e6e4df" stroke-width="0.6" stroke-opacity="0.9"/>
<line x1="215.22" y1="165.80" x2="214.93" y2="176.00" stroke="#e6e4df" stroke-width="0.6" stroke-opacity="0.9"/>
<line x1="215.80" y1="165.80" x2="217.51" y2="176.00" stroke="#e6e4df" stroke-width="0.6" stroke-opacity="0.9"/>
<line x1="219.74" y1="165.80" x2="220.10" y2="176.00" stroke="#e6e4df" stroke-width="0.6" stroke-opacity="0.9"/>
<line x1="220.94" y1="165.80" x2="222.68" y2="176.00" stroke="#e6e4df" stroke-width="0.6" stroke-opacity="0.9"/>
<line x1="225.13" y1="165.80" x2="225.26" y2="176.00" stroke="#e6e4df" stroke-width="0.6" stroke-opacity="0.9"/>
<line x1="226.76" y1="165.80" x2="227.84" y2="176.00" stroke="#e6e4df" stroke-width="0.6" stroke-opacity="0.9"/>
<line x1="230.65" y1="165.80" x2="230.43" y2="176.00" stroke="#e6e4df" stroke-width="0.6" stroke-opacity="0.9"/>
<line x1="233.46" y1="165.80" x2="233.01" y2="176.00" stroke="#e6e4df" stroke-width="0.6" stroke-opacity="0.9"/>
<line x1="234.89" y1="165.80" x2="235.59" y2="176.00" stroke="#e6e4df" stroke-width="0.6" stroke-opacity="0.9"/>
<line x1="238.64" y1="165.80" x2="238.18" y2="176.00" stroke="#e6e4df" stroke-width="0.6" stroke-opacity="0.9"/>
<line x1="239.55" y1="165.80" x2="240.76" y2="176.00" stroke="#e6e4df" stroke-width="0.6" stroke-opacity="0.9"/>
<line x1="241.56" y1="165.80" x2="243.34" y2="176.00" stroke="#e6e4df" stroke-width="0.6" stroke-opacity="0.9"/>
<line x1="245.39" y1="165.80" x2="245.93" y2="176.00" stroke="#e6e4df" stroke-width="0.6" stroke-opacity="0.9"/>
<line x1="246.59" y1="165.80" x2="248.51" y2="176.00" stroke="#e6e4df" stroke-width="0.6" stroke-opacity="0.9"/>
<rect x="20.5" y="161.8" width="230.4" height="4.0" fill="#f0efeb"/>
<line x1="23.66" y1="162.40" x2="23.66" y2="165.20" stroke="#8e8c86" stroke-width="0.7"/>
<line x1="26.96" y1="162.40" x2="26.96" y2="165.20" stroke="#8e8c86" stroke-width="0.7"/>
<line x1="29.11" y1="162.40" x2="29.11" y2="165.20" stroke="#6f6d68" stroke-width="0.7"/>
<line x1="34.86" y1="162.40" x2="34.86" y2="165.20" stroke="#8e8c86" stroke-width="0.7"/>
<line x1="43.07" y1="162.40" x2="43.07" y2="165.20" stroke="#8e8c86" stroke-width="0.7"/>
<line x1="46.76" y1="162.40" x2="46.76" y2="165.20" stroke="#a9a7a1" stroke-width="0.7"/>
<line x1="52.46" y1="162.40" x2="52.46" y2="165.20" stroke="#a9a7a1" stroke-width="0.7"/>
<line x1="55.91" y1="162.40" x2="55.91" y2="165.20" stroke="#a9a7a1" stroke-width="0.7"/>
<line x1="60.57" y1="162.40" x2="60.57" y2="165.20" stroke="#8e8c86" stroke-width="0.7"/>
<line x1="61.97" y1="162.40" x2="61.97" y2="165.20" stroke="#8e8c86" stroke-width="0.7"/>
<line x1="70.57" y1="162.40" x2="70.57" y2="165.20" stroke="#8e8c86" stroke-width="0.7"/>
<line x1="76.06" y1="162.40" x2="76.06" y2="165.20" stroke="#8e8c86" stroke-width="0.7"/>
<line x1="83.57" y1="162.40" x2="83.57" y2="165.20" stroke="#a9a7a1" stroke-width="0.7"/>
<line x1="85.44" y1="162.40" x2="85.44" y2="165.20" stroke="#8e8c86" stroke-width="0.7"/>
<line x1="91.93" y1="162.40" x2="91.93" y2="165.20" stroke="#a9a7a1" stroke-width="0.7"/>
<line x1="93.56" y1="162.40" x2="93.56" y2="165.20" stroke="#8e8c86" stroke-width="0.7"/>
<line x1="96.72" y1="162.40" x2="96.72" y2="165.20" stroke="#6f6d68" stroke-width="0.7"/>
<line x1="101.84" y1="162.40" x2="101.84" y2="165.20" stroke="#8e8c86" stroke-width="0.7"/>
<line x1="104.91" y1="162.40" x2="104.91" y2="165.20" stroke="#8e8c86" stroke-width="0.7"/>
<line x1="106.21" y1="162.40" x2="106.21" y2="165.20" stroke="#a9a7a1" stroke-width="0.7"/>
<line x1="109.76" y1="162.40" x2="109.76" y2="165.20" stroke="#8e8c86" stroke-width="0.7"/>
<line x1="111.47" y1="162.40" x2="111.47" y2="165.20" stroke="#8e8c86" stroke-width="0.7"/>
<line x1="117.65" y1="162.40" x2="117.65" y2="165.20" stroke="#8e8c86" stroke-width="0.7"/>
<line x1="118.34" y1="162.40" x2="118.34" y2="165.20" stroke="#6f6d68" stroke-width="0.7"/>
<line x1="128.13" y1="162.40" x2="128.13" y2="165.20" stroke="#a9a7a1" stroke-width="0.7"/>
<line x1="129.43" y1="162.40" x2="129.43" y2="165.20" stroke="#8e8c86" stroke-width="0.7"/>
<line x1="132.45" y1="162.40" x2="132.45" y2="165.20" stroke="#6f6d68" stroke-width="0.7"/>
<line x1="139.58" y1="162.40" x2="139.58" y2="165.20" stroke="#a9a7a1" stroke-width="0.7"/>
<line x1="142.06" y1="162.40" x2="142.06" y2="165.20" stroke="#8e8c86" stroke-width="0.7"/>
<line x1="147.76" y1="162.40" x2="147.76" y2="165.20" stroke="#6f6d68" stroke-width="0.7"/>
<line x1="151.10" y1="162.40" x2="151.10" y2="165.20" stroke="#a9a7a1" stroke-width="0.7"/>
<line x1="158.68" y1="162.40" x2="158.68" y2="165.20" stroke="#6f6d68" stroke-width="0.7"/>
<line x1="163.38" y1="162.40" x2="163.38" y2="165.20" stroke="#6f6d68" stroke-width="0.7"/>
<line x1="164.73" y1="162.40" x2="164.73" y2="165.20" stroke="#a9a7a1" stroke-width="0.7"/>
<line x1="168.97" y1="162.40" x2="168.97" y2="165.20" stroke="#8e8c86" stroke-width="0.7"/>
<line x1="171.79" y1="162.40" x2="171.79" y2="165.20" stroke="#a9a7a1" stroke-width="0.7"/>
<line x1="174.21" y1="162.40" x2="174.21" y2="165.20" stroke="#a9a7a1" stroke-width="0.7"/>
<line x1="175.97" y1="162.40" x2="175.97" y2="165.20" stroke="#6f6d68" stroke-width="0.7"/>
<line x1="178.89" y1="162.40" x2="178.89" y2="165.20" stroke="#a9a7a1" stroke-width="0.7"/>
<line x1="184.31" y1="162.40" x2="184.31" y2="165.20" stroke="#8e8c86" stroke-width="0.7"/>
<line x1="188.13" y1="162.40" x2="188.13" y2="165.20" stroke="#a9a7a1" stroke-width="0.7"/>
<line x1="190.17" y1="162.40" x2="190.17" y2="165.20" stroke="#8e8c86" stroke-width="0.7"/>
<line x1="194.63" y1="162.40" x2="194.63" y2="165.20" stroke="#6f6d68" stroke-width="0.7"/>
<line x1="197.53" y1="162.40" x2="197.53" y2="165.20" stroke="#a9a7a1" stroke-width="0.7"/>
<line x1="202.21" y1="162.40" x2="202.21" y2="165.20" stroke="#a9a7a1" stroke-width="0.7"/>
<line x1="203.84" y1="162.40" x2="203.84" y2="165.20" stroke="#a9a7a1" stroke-width="0.7"/>
<line x1="205.79" y1="162.40" x2="205.79" y2="165.20" stroke="#a9a7a1" stroke-width="0.7"/>
<line x1="226.76" y1="162.40" x2="226.76" y2="165.20" stroke="#6f6d68" stroke-width="0.7"/>
<line x1="230.65" y1="162.40" x2="230.65" y2="165.20" stroke="#a9a7a1" stroke-width="0.7"/>
<line x1="234.89" y1="162.40" x2="234.89" y2="165.20" stroke="#8e8c86" stroke-width="0.7"/>
<line x1="239.55" y1="162.40" x2="239.55" y2="165.20" stroke="#a9a7a1" stroke-width="0.7"/>
<line x1="241.56" y1="162.40" x2="241.56" y2="165.20" stroke="#a9a7a1" stroke-width="0.7"/>
<line x1="245.39" y1="162.40" x2="245.39" y2="165.20" stroke="#a9a7a1" stroke-width="0.7"/>
<line x1="246.59" y1="162.40" x2="246.59" y2="165.20" stroke="#a9a7a1" stroke-width="0.7"/>
<line x1="20.50" y1="161.60" x2="250.90" y2="161.60" stroke="#8d8b85" stroke-width="0.6"/>
<rect x="278.5" y="167.2" width="238" height="12.3" fill="#dad8d2"/>
<line x1="287.06" y1="167.20" x2="283.88" y2="179.50" stroke="#a4a29c" stroke-width="0.5" stroke-opacity="0.8"/>
<line x1="287.99" y1="167.20" x2="285.63" y2="179.50" stroke="#a4a29c" stroke-width="0.5" stroke-opacity="0.8"/>
<line x1="288.75" y1="167.20" x2="287.38" y2="179.50" stroke="#a4a29c" stroke-width="0.5" stroke-opacity="0.8"/>
<line x1="288.88" y1="167.20" x2="289.13" y2="179.50" stroke="#a4a29c" stroke-width="0.5" stroke-opacity="0.8"/>
<line x1="291.13" y1="167.20" x2="290.88" y2="179.50" stroke="#a4a29c" stroke-width="0.5" stroke-opacity="0.8"/>
<line x1="291.94" y1="167.20" x2="292.63" y2="179.50" stroke="#a4a29c" stroke-width="0.5" stroke-opacity="0.8"/>
<line x1="292.18" y1="167.20" x2="294.38" y2="179.50" stroke="#a4a29c" stroke-width="0.5" stroke-opacity="0.8"/>
<line x1="292.90" y1="167.20" x2="296.14" y2="179.50" stroke="#a4a29c" stroke-width="0.5" stroke-opacity="0.8"/>
<line x1="293.86" y1="167.20" x2="297.89" y2="179.50" stroke="#a4a29c" stroke-width="0.5" stroke-opacity="0.8"/>
<line x1="294.21" y1="167.20" x2="299.64" y2="179.50" stroke="#a4a29c" stroke-width="0.5" stroke-opacity="0.8"/>
<line x1="294.86" y1="167.20" x2="301.39" y2="179.50" stroke="#a4a29c" stroke-width="0.5" stroke-opacity="0.8"/>
<line x1="296.73" y1="167.20" x2="303.14" y2="179.50" stroke="#a4a29c" stroke-width="0.5" stroke-opacity="0.8"/>
<line x1="298.25" y1="167.20" x2="304.89" y2="179.50" stroke="#a4a29c" stroke-width="0.5" stroke-opacity="0.8"/>
<line x1="302.22" y1="167.20" x2="306.65" y2="179.50" stroke="#a4a29c" stroke-width="0.5" stroke-opacity="0.8"/>
<line x1="302.47" y1="167.20" x2="308.40" y2="179.50" stroke="#a4a29c" stroke-width="0.5" stroke-opacity="0.8"/>
<line x1="307.27" y1="167.20" x2="310.15" y2="179.50" stroke="#a4a29c" stroke-width="0.5" stroke-opacity="0.8"/>
<line x1="308.69" y1="167.20" x2="311.90" y2="179.50" stroke="#a4a29c" stroke-width="0.5" stroke-opacity="0.8"/>
<line x1="311.87" y1="167.20" x2="313.65" y2="179.50" stroke="#a4a29c" stroke-width="0.5" stroke-opacity="0.8"/>
<line x1="312.84" y1="167.20" x2="315.40" y2="179.50" stroke="#a4a29c" stroke-width="0.5" stroke-opacity="0.8"/>
<line x1="314.90" y1="167.20" x2="317.15" y2="179.50" stroke="#a4a29c" stroke-width="0.5" stroke-opacity="0.8"/>
<line x1="317.67" y1="167.20" x2="318.91" y2="179.50" stroke="#a4a29c" stroke-width="0.5" stroke-opacity="0.8"/>
<line x1="319.20" y1="167.20" x2="320.66" y2="179.50" stroke="#a4a29c" stroke-width="0.5" stroke-opacity="0.8"/>
<line x1="320.82" y1="167.20" x2="322.41" y2="179.50" stroke="#a4a29c" stroke-width="0.5" stroke-opacity="0.8"/>
<line x1="320.82" y1="167.20" x2="324.16" y2="179.50" stroke="#a4a29c" stroke-width="0.5" stroke-opacity="0.8"/>
<line x1="321.11" y1="167.20" x2="325.91" y2="179.50" stroke="#a4a29c" stroke-width="0.5" stroke-opacity="0.8"/>
<line x1="322.13" y1="167.20" x2="327.66" y2="179.50" stroke="#a4a29c" stroke-width="0.5" stroke-opacity="0.8"/>
<line x1="323.31" y1="167.20" x2="329.42" y2="179.50" stroke="#a4a29c" stroke-width="0.5" stroke-opacity="0.8"/>
<line x1="324.48" y1="167.20" x2="331.17" y2="179.50" stroke="#a4a29c" stroke-width="0.5" stroke-opacity="0.8"/>
<line x1="326.23" y1="167.20" x2="332.92" y2="179.50" stroke="#a4a29c" stroke-width="0.5" stroke-opacity="0.8"/>
<line x1="326.66" y1="167.20" x2="334.67" y2="179.50" stroke="#a4a29c" stroke-width="0.5" stroke-opacity="0.8"/>
<line x1="331.82" y1="167.20" x2="336.42" y2="179.50" stroke="#a4a29c" stroke-width="0.5" stroke-opacity="0.8"/>
<line x1="334.28" y1="167.20" x2="338.17" y2="179.50" stroke="#a4a29c" stroke-width="0.5" stroke-opacity="0.8"/>
<line x1="334.32" y1="167.20" x2="339.93" y2="179.50" stroke="#a4a29c" stroke-width="0.5" stroke-opacity="0.8"/>
<line x1="334.63" y1="167.20" x2="341.68" y2="179.50" stroke="#a4a29c" stroke-width="0.5" stroke-opacity="0.8"/>
<line x1="336.16" y1="167.20" x2="343.43" y2="179.50" stroke="#a4a29c" stroke-width="0.5" stroke-opacity="0.8"/>
<line x1="338.93" y1="167.20" x2="345.18" y2="179.50" stroke="#a4a29c" stroke-width="0.5" stroke-opacity="0.8"/>
<line x1="340.10" y1="167.20" x2="346.93" y2="179.50" stroke="#a4a29c" stroke-width="0.5" stroke-opacity="0.8"/>
<line x1="346.13" y1="167.20" x2="348.68" y2="179.50" stroke="#a4a29c" stroke-width="0.5" stroke-opacity="0.8"/>
<line x1="347.75" y1="167.20" x2="350.43" y2="179.50" stroke="#a4a29c" stroke-width="0.5" stroke-opacity="0.8"/>
<line x1="349.14" y1="167.20" x2="352.19" y2="179.50" stroke="#a4a29c" stroke-width="0.5" stroke-opacity="0.8"/>
<line x1="349.56" y1="167.20" x2="353.94" y2="179.50" stroke="#a4a29c" stroke-width="0.5" stroke-opacity="0.8"/>
<line x1="350.27" y1="167.20" x2="355.69" y2="179.50" stroke="#a4a29c" stroke-width="0.5" stroke-opacity="0.8"/>
<line x1="352.89" y1="167.20" x2="357.44" y2="179.50" stroke="#a4a29c" stroke-width="0.5" stroke-opacity="0.8"/>
<line x1="353.74" y1="167.20" x2="359.19" y2="179.50" stroke="#a4a29c" stroke-width="0.5" stroke-opacity="0.8"/>
<line x1="357.63" y1="167.20" x2="360.94" y2="179.50" stroke="#a4a29c" stroke-width="0.5" stroke-opacity="0.8"/>
<line x1="358.04" y1="167.20" x2="362.69" y2="179.50" stroke="#a4a29c" stroke-width="0.5" stroke-opacity="0.8"/>
<line x1="358.90" y1="167.20" x2="364.45" y2="179.50" stroke="#a4a29c" stroke-width="0.5" stroke-opacity="0.8"/>
<line x1="359.34" y1="167.20" x2="366.20" y2="179.50" stroke="#a4a29c" stroke-width="0.5" stroke-opacity="0.8"/>
<line x1="360.02" y1="167.20" x2="367.95" y2="179.50" stroke="#a4a29c" stroke-width="0.5" stroke-opacity="0.8"/>
<line x1="360.51" y1="167.20" x2="369.70" y2="179.50" stroke="#a4a29c" stroke-width="0.5" stroke-opacity="0.8"/>
<line x1="362.07" y1="167.20" x2="371.45" y2="179.50" stroke="#a4a29c" stroke-width="0.5" stroke-opacity="0.8"/>
<line x1="363.11" y1="167.20" x2="373.20" y2="179.50" stroke="#a4a29c" stroke-width="0.5" stroke-opacity="0.8"/>
<line x1="364.28" y1="167.20" x2="374.96" y2="179.50" stroke="#a4a29c" stroke-width="0.5" stroke-opacity="0.8"/>
<line x1="365.58" y1="167.20" x2="376.71" y2="179.50" stroke="#a4a29c" stroke-width="0.5" stroke-opacity="0.8"/>
<line x1="371.04" y1="167.20" x2="378.46" y2="179.50" stroke="#a4a29c" stroke-width="0.5" stroke-opacity="0.8"/>
<line x1="371.28" y1="167.20" x2="380.21" y2="179.50" stroke="#a4a29c" stroke-width="0.5" stroke-opacity="0.8"/>
<line x1="371.39" y1="167.20" x2="381.96" y2="179.50" stroke="#a4a29c" stroke-width="0.5" stroke-opacity="0.8"/>
<line x1="373.10" y1="167.20" x2="383.71" y2="179.50" stroke="#a4a29c" stroke-width="0.5" stroke-opacity="0.8"/>
<line x1="375.90" y1="167.20" x2="385.46" y2="179.50" stroke="#a4a29c" stroke-width="0.5" stroke-opacity="0.8"/>
<line x1="377.12" y1="167.20" x2="387.22" y2="179.50" stroke="#a4a29c" stroke-width="0.5" stroke-opacity="0.8"/>
<line x1="377.36" y1="167.20" x2="388.97" y2="179.50" stroke="#a4a29c" stroke-width="0.5" stroke-opacity="0.8"/>
<line x1="380.84" y1="167.20" x2="390.72" y2="179.50" stroke="#a4a29c" stroke-width="0.5" stroke-opacity="0.8"/>
<line x1="383.46" y1="167.20" x2="392.47" y2="179.50" stroke="#a4a29c" stroke-width="0.5" stroke-opacity="0.8"/>
<line x1="384.76" y1="167.20" x2="394.22" y2="179.50" stroke="#a4a29c" stroke-width="0.5" stroke-opacity="0.8"/>
<line x1="385.85" y1="167.20" x2="395.97" y2="179.50" stroke="#a4a29c" stroke-width="0.5" stroke-opacity="0.8"/>
<line x1="387.24" y1="167.20" x2="397.73" y2="179.50" stroke="#a4a29c" stroke-width="0.5" stroke-opacity="0.8"/>
<line x1="389.89" y1="167.20" x2="399.48" y2="179.50" stroke="#a4a29c" stroke-width="0.5" stroke-opacity="0.8"/>
<line x1="391.54" y1="167.20" x2="401.23" y2="179.50" stroke="#a4a29c" stroke-width="0.5" stroke-opacity="0.8"/>
<line x1="392.05" y1="167.20" x2="402.98" y2="179.50" stroke="#a4a29c" stroke-width="0.5" stroke-opacity="0.8"/>
<line x1="392.64" y1="167.20" x2="404.73" y2="179.50" stroke="#a4a29c" stroke-width="0.5" stroke-opacity="0.8"/>
<line x1="393.27" y1="167.20" x2="406.48" y2="179.50" stroke="#a4a29c" stroke-width="0.5" stroke-opacity="0.8"/>
<line x1="399.73" y1="167.20" x2="408.24" y2="179.50" stroke="#a4a29c" stroke-width="0.5" stroke-opacity="0.8"/>
<line x1="403.49" y1="167.20" x2="409.99" y2="179.50" stroke="#a4a29c" stroke-width="0.5" stroke-opacity="0.8"/>
<line x1="404.69" y1="167.20" x2="411.74" y2="179.50" stroke="#a4a29c" stroke-width="0.5" stroke-opacity="0.8"/>
<line x1="406.52" y1="167.20" x2="413.49" y2="179.50" stroke="#a4a29c" stroke-width="0.5" stroke-opacity="0.8"/>
<line x1="407.52" y1="167.20" x2="415.24" y2="179.50" stroke="#a4a29c" stroke-width="0.5" stroke-opacity="0.8"/>
<line x1="411.26" y1="167.20" x2="416.99" y2="179.50" stroke="#a4a29c" stroke-width="0.5" stroke-opacity="0.8"/>
<line x1="411.79" y1="167.20" x2="418.74" y2="179.50" stroke="#a4a29c" stroke-width="0.5" stroke-opacity="0.8"/>
<line x1="414.80" y1="167.20" x2="420.50" y2="179.50" stroke="#a4a29c" stroke-width="0.5" stroke-opacity="0.8"/>
<line x1="416.55" y1="167.20" x2="422.25" y2="179.50" stroke="#a4a29c" stroke-width="0.5" stroke-opacity="0.8"/>
<line x1="418.23" y1="167.20" x2="424.00" y2="179.50" stroke="#a4a29c" stroke-width="0.5" stroke-opacity="0.8"/>
<line x1="419.59" y1="167.20" x2="425.75" y2="179.50" stroke="#a4a29c" stroke-width="0.5" stroke-opacity="0.8"/>
<line x1="420.43" y1="167.20" x2="427.50" y2="179.50" stroke="#a4a29c" stroke-width="0.5" stroke-opacity="0.8"/>
<line x1="420.89" y1="167.20" x2="429.25" y2="179.50" stroke="#a4a29c" stroke-width="0.5" stroke-opacity="0.8"/>
<line x1="423.46" y1="167.20" x2="431.00" y2="179.50" stroke="#a4a29c" stroke-width="0.5" stroke-opacity="0.8"/>
<line x1="424.33" y1="167.20" x2="432.76" y2="179.50" stroke="#a4a29c" stroke-width="0.5" stroke-opacity="0.8"/>
<line x1="425.47" y1="167.20" x2="434.51" y2="179.50" stroke="#a4a29c" stroke-width="0.5" stroke-opacity="0.8"/>
<line x1="425.99" y1="167.20" x2="436.26" y2="179.50" stroke="#a4a29c" stroke-width="0.5" stroke-opacity="0.8"/>
<line x1="426.60" y1="167.20" x2="438.01" y2="179.50" stroke="#a4a29c" stroke-width="0.5" stroke-opacity="0.8"/>
<line x1="429.73" y1="167.20" x2="439.76" y2="179.50" stroke="#a4a29c" stroke-width="0.5" stroke-opacity="0.8"/>
<line x1="430.75" y1="167.20" x2="441.51" y2="179.50" stroke="#a4a29c" stroke-width="0.5" stroke-opacity="0.8"/>
<line x1="432.53" y1="167.20" x2="443.27" y2="179.50" stroke="#a4a29c" stroke-width="0.5" stroke-opacity="0.8"/>
<line x1="432.95" y1="167.20" x2="445.02" y2="179.50" stroke="#a4a29c" stroke-width="0.5" stroke-opacity="0.8"/>
<line x1="433.27" y1="167.20" x2="446.77" y2="179.50" stroke="#a4a29c" stroke-width="0.5" stroke-opacity="0.8"/>
<line x1="433.58" y1="167.20" x2="448.52" y2="179.50" stroke="#a4a29c" stroke-width="0.5" stroke-opacity="0.8"/>
<line x1="434.42" y1="167.20" x2="450.27" y2="179.50" stroke="#a4a29c" stroke-width="0.5" stroke-opacity="0.8"/>
<line x1="434.75" y1="167.20" x2="452.02" y2="179.50" stroke="#a4a29c" stroke-width="0.5" stroke-opacity="0.8"/>
<line x1="437.77" y1="167.20" x2="453.77" y2="179.50" stroke="#a4a29c" stroke-width="0.5" stroke-opacity="0.8"/>
<line x1="439.78" y1="167.20" x2="455.53" y2="179.50" stroke="#a4a29c" stroke-width="0.5" stroke-opacity="0.8"/>
<line x1="440.92" y1="167.20" x2="457.28" y2="179.50" stroke="#a4a29c" stroke-width="0.5" stroke-opacity="0.8"/>
<line x1="441.97" y1="167.20" x2="459.03" y2="179.50" stroke="#a4a29c" stroke-width="0.5" stroke-opacity="0.8"/>
<line x1="443.49" y1="167.20" x2="460.78" y2="179.50" stroke="#a4a29c" stroke-width="0.5" stroke-opacity="0.8"/>
<line x1="443.57" y1="167.20" x2="462.53" y2="179.50" stroke="#a4a29c" stroke-width="0.5" stroke-opacity="0.8"/>
<line x1="446.63" y1="167.20" x2="464.28" y2="179.50" stroke="#a4a29c" stroke-width="0.5" stroke-opacity="0.8"/>
<line x1="449.35" y1="167.20" x2="466.04" y2="179.50" stroke="#a4a29c" stroke-width="0.5" stroke-opacity="0.8"/>
<line x1="449.89" y1="167.20" x2="467.79" y2="179.50" stroke="#a4a29c" stroke-width="0.5" stroke-opacity="0.8"/>
<line x1="449.92" y1="167.20" x2="469.54" y2="179.50" stroke="#a4a29c" stroke-width="0.5" stroke-opacity="0.8"/>
<line x1="450.35" y1="167.20" x2="471.29" y2="179.50" stroke="#a4a29c" stroke-width="0.5" stroke-opacity="0.8"/>
<line x1="453.23" y1="167.20" x2="473.04" y2="179.50" stroke="#a4a29c" stroke-width="0.5" stroke-opacity="0.8"/>
<line x1="456.50" y1="167.20" x2="474.79" y2="179.50" stroke="#a4a29c" stroke-width="0.5" stroke-opacity="0.8"/>
<line x1="459.02" y1="167.20" x2="476.54" y2="179.50" stroke="#a4a29c" stroke-width="0.5" stroke-opacity="0.8"/>
<line x1="460.53" y1="167.20" x2="478.30" y2="179.50" stroke="#a4a29c" stroke-width="0.5" stroke-opacity="0.8"/>
<line x1="462.75" y1="167.20" x2="480.05" y2="179.50" stroke="#a4a29c" stroke-width="0.5" stroke-opacity="0.8"/>
<line x1="462.85" y1="167.20" x2="481.80" y2="179.50" stroke="#a4a29c" stroke-width="0.5" stroke-opacity="0.8"/>
<line x1="463.70" y1="167.20" x2="483.55" y2="179.50" stroke="#a4a29c" stroke-width="0.5" stroke-opacity="0.8"/>
<line x1="463.92" y1="167.20" x2="485.30" y2="179.50" stroke="#a4a29c" stroke-width="0.5" stroke-opacity="0.8"/>
<line x1="465.53" y1="167.20" x2="487.05" y2="179.50" stroke="#a4a29c" stroke-width="0.5" stroke-opacity="0.8"/>
<line x1="468.22" y1="167.20" x2="488.81" y2="179.50" stroke="#a4a29c" stroke-width="0.5" stroke-opacity="0.8"/>
<line x1="469.25" y1="167.20" x2="490.56" y2="179.50" stroke="#a4a29c" stroke-width="0.5" stroke-opacity="0.8"/>
<line x1="469.89" y1="167.20" x2="492.31" y2="179.50" stroke="#a4a29c" stroke-width="0.5" stroke-opacity="0.8"/>
<line x1="472.34" y1="167.20" x2="494.06" y2="179.50" stroke="#a4a29c" stroke-width="0.5" stroke-opacity="0.8"/>
<line x1="484.15" y1="167.20" x2="495.81" y2="179.50" stroke="#a4a29c" stroke-width="0.5" stroke-opacity="0.8"/>
<line x1="491.90" y1="167.20" x2="497.56" y2="179.50" stroke="#a4a29c" stroke-width="0.5" stroke-opacity="0.8"/>
<line x1="492.70" y1="167.20" x2="499.31" y2="179.50" stroke="#a4a29c" stroke-width="0.5" stroke-opacity="0.8"/>
<line x1="496.48" y1="167.20" x2="501.07" y2="179.50" stroke="#a4a29c" stroke-width="0.5" stroke-opacity="0.8"/>
<line x1="501.14" y1="167.20" x2="502.82" y2="179.50" stroke="#a4a29c" stroke-width="0.5" stroke-opacity="0.8"/>
<line x1="506.95" y1="167.20" x2="504.57" y2="179.50" stroke="#a4a29c" stroke-width="0.5" stroke-opacity="0.8"/>
<line x1="508.54" y1="167.20" x2="506.32" y2="179.50" stroke="#a4a29c" stroke-width="0.5" stroke-opacity="0.8"/>
<line x1="509.01" y1="167.20" x2="508.07" y2="179.50" stroke="#a4a29c" stroke-width="0.5" stroke-opacity="0.8"/>
<line x1="509.81" y1="167.20" x2="509.82" y2="179.50" stroke="#a4a29c" stroke-width="0.5" stroke-opacity="0.8"/>
<rect x="278.5" y="163.4" width="238" height="3.8" fill="#f0efeb"/>
<line x1="287.06" y1="163.90" x2="287.06" y2="166.70" stroke="#55534f" stroke-width="0.7"/>
<line x1="288.75" y1="163.90" x2="288.75" y2="166.70" stroke="#7a7873" stroke-width="0.7"/>
<line x1="288.88" y1="163.90" x2="288.88" y2="166.70" stroke="#55534f" stroke-width="0.7"/>
<line x1="291.94" y1="163.90" x2="291.94" y2="166.70" stroke="#55534f" stroke-width="0.7"/>
<line x1="292.90" y1="163.90" x2="292.90" y2="166.70" stroke="#9c9a95" stroke-width="0.7"/>
<line x1="298.25" y1="163.90" x2="298.25" y2="166.70" stroke="#55534f" stroke-width="0.7"/>
<line x1="308.69" y1="163.90" x2="308.69" y2="166.70" stroke="#7a7873" stroke-width="0.7"/>
<line x1="321.11" y1="163.90" x2="321.11" y2="166.70" stroke="#7a7873" stroke-width="0.7"/>
<line x1="323.31" y1="163.90" x2="323.31" y2="166.70" stroke="#7a7873" stroke-width="0.7"/>
<line x1="326.66" y1="163.90" x2="326.66" y2="166.70" stroke="#9c9a95" stroke-width="0.7"/>
<line x1="331.82" y1="163.90" x2="331.82" y2="166.70" stroke="#7a7873" stroke-width="0.7"/>
<line x1="334.32" y1="163.90" x2="334.32" y2="166.70" stroke="#55534f" stroke-width="0.7"/>
<line x1="340.10" y1="163.90" x2="340.10" y2="166.70" stroke="#7a7873" stroke-width="0.7"/>
<line x1="346.13" y1="163.90" x2="346.13" y2="166.70" stroke="#55534f" stroke-width="0.7"/>
<line x1="347.75" y1="163.90" x2="347.75" y2="166.70" stroke="#55534f" stroke-width="0.7"/>
<line x1="349.14" y1="163.90" x2="349.14" y2="166.70" stroke="#7a7873" stroke-width="0.7"/>
<line x1="349.56" y1="163.90" x2="349.56" y2="166.70" stroke="#7a7873" stroke-width="0.7"/>
<line x1="357.63" y1="163.90" x2="357.63" y2="166.70" stroke="#9c9a95" stroke-width="0.7"/>
<line x1="362.07" y1="163.90" x2="362.07" y2="166.70" stroke="#55534f" stroke-width="0.7"/>
<line x1="363.11" y1="163.90" x2="363.11" y2="166.70" stroke="#9c9a95" stroke-width="0.7"/>
<line x1="364.28" y1="163.90" x2="364.28" y2="166.70" stroke="#9c9a95" stroke-width="0.7"/>
<line x1="371.28" y1="163.90" x2="371.28" y2="166.70" stroke="#7a7873" stroke-width="0.7"/>
<line x1="371.39" y1="163.90" x2="371.39" y2="166.70" stroke="#9c9a95" stroke-width="0.7"/>
<line x1="375.90" y1="163.90" x2="375.90" y2="166.70" stroke="#7a7873" stroke-width="0.7"/>
<line x1="377.36" y1="163.90" x2="377.36" y2="166.70" stroke="#9c9a95" stroke-width="0.7"/>
<line x1="383.46" y1="163.90" x2="383.46" y2="166.70" stroke="#7a7873" stroke-width="0.7"/>
<line x1="384.76" y1="163.90" x2="384.76" y2="166.70" stroke="#7a7873" stroke-width="0.7"/>
<line x1="387.24" y1="163.90" x2="387.24" y2="166.70" stroke="#55534f" stroke-width="0.7"/>
<line x1="389.89" y1="163.90" x2="389.89" y2="166.70" stroke="#9c9a95" stroke-width="0.7"/>
<line x1="392.05" y1="163.90" x2="392.05" y2="166.70" stroke="#7a7873" stroke-width="0.7"/>
<line x1="392.64" y1="163.90" x2="392.64" y2="166.70" stroke="#9c9a95" stroke-width="0.7"/>
<line x1="399.73" y1="163.90" x2="399.73" y2="166.70" stroke="#55534f" stroke-width="0.7"/>
<line x1="407.52" y1="163.90" x2="407.52" y2="166.70" stroke="#9c9a95" stroke-width="0.7"/>
<line x1="411.26" y1="163.90" x2="411.26" y2="166.70" stroke="#55534f" stroke-width="0.7"/>
<line x1="411.79" y1="163.90" x2="411.79" y2="166.70" stroke="#55534f" stroke-width="0.7"/>
<line x1="414.80" y1="163.90" x2="414.80" y2="166.70" stroke="#7a7873" stroke-width="0.7"/>
<line x1="416.55" y1="163.90" x2="416.55" y2="166.70" stroke="#55534f" stroke-width="0.7"/>
<line x1="419.59" y1="163.90" x2="419.59" y2="166.70" stroke="#7a7873" stroke-width="0.7"/>
<line x1="420.43" y1="163.90" x2="420.43" y2="166.70" stroke="#55534f" stroke-width="0.7"/>
<line x1="425.47" y1="163.90" x2="425.47" y2="166.70" stroke="#55534f" stroke-width="0.7"/>
<line x1="425.99" y1="163.90" x2="425.99" y2="166.70" stroke="#7a7873" stroke-width="0.7"/>
<line x1="426.60" y1="163.90" x2="426.60" y2="166.70" stroke="#55534f" stroke-width="0.7"/>
<line x1="433.27" y1="163.90" x2="433.27" y2="166.70" stroke="#7a7873" stroke-width="0.7"/>
<line x1="439.78" y1="163.90" x2="439.78" y2="166.70" stroke="#9c9a95" stroke-width="0.7"/>
<line x1="440.92" y1="163.90" x2="440.92" y2="166.70" stroke="#55534f" stroke-width="0.7"/>
<line x1="441.97" y1="163.90" x2="441.97" y2="166.70" stroke="#9c9a95" stroke-width="0.7"/>
<line x1="443.49" y1="163.90" x2="443.49" y2="166.70" stroke="#9c9a95" stroke-width="0.7"/>
<line x1="443.57" y1="163.90" x2="443.57" y2="166.70" stroke="#7a7873" stroke-width="0.7"/>
<line x1="446.63" y1="163.90" x2="446.63" y2="166.70" stroke="#55534f" stroke-width="0.7"/>
<line x1="449.92" y1="163.90" x2="449.92" y2="166.70" stroke="#7a7873" stroke-width="0.7"/>
<line x1="450.35" y1="163.90" x2="450.35" y2="166.70" stroke="#7a7873" stroke-width="0.7"/>
<line x1="459.02" y1="163.90" x2="459.02" y2="166.70" stroke="#9c9a95" stroke-width="0.7"/>
<line x1="462.75" y1="163.90" x2="462.75" y2="166.70" stroke="#9c9a95" stroke-width="0.7"/>
<line x1="462.85" y1="163.90" x2="462.85" y2="166.70" stroke="#55534f" stroke-width="0.7"/>
<line x1="463.70" y1="163.90" x2="463.70" y2="166.70" stroke="#55534f" stroke-width="0.7"/>
<line x1="469.25" y1="163.90" x2="469.25" y2="166.70" stroke="#7a7873" stroke-width="0.7"/>
<line x1="484.15" y1="163.90" x2="484.15" y2="166.70" stroke="#9c9a95" stroke-width="0.7"/>
<line x1="501.14" y1="163.90" x2="501.14" y2="166.70" stroke="#55534f" stroke-width="0.7"/>
<line x1="506.95" y1="163.90" x2="506.95" y2="166.70" stroke="#7a7873" stroke-width="0.7"/>
<line x1="278.50" y1="163.20" x2="516.50" y2="163.20" stroke="#8d8b85" stroke-width="0.6"/>
<rect x="23.6" y="459.4" width="228.3" height="3.8" fill="#f3f2ef"/>
<line x1="26.35" y1="463.20" x2="27.67" y2="478.60" stroke="#bdbab2" stroke-width="0.6" stroke-opacity="0.9"/>
<line x1="31.59" y1="463.20" x2="31.62" y2="478.60" stroke="#bdbab2" stroke-width="0.6" stroke-opacity="0.9"/>
<line x1="33.47" y1="463.20" x2="35.57" y2="478.60" stroke="#bdbab2" stroke-width="0.6" stroke-opacity="0.9"/>
<line x1="33.79" y1="463.20" x2="39.51" y2="478.60" stroke="#bdbab2" stroke-width="0.6" stroke-opacity="0.9"/>
<line x1="34.88" y1="463.20" x2="43.46" y2="478.60" stroke="#bdbab2" stroke-width="0.6" stroke-opacity="0.9"/>
<line x1="34.90" y1="463.20" x2="47.40" y2="478.60" stroke="#bdbab2" stroke-width="0.6" stroke-opacity="0.9"/>
<line x1="35.54" y1="463.20" x2="51.35" y2="478.60" stroke="#bdbab2" stroke-width="0.6" stroke-opacity="0.9"/>
<line x1="37.07" y1="463.20" x2="55.30" y2="478.60" stroke="#bdbab2" stroke-width="0.6" stroke-opacity="0.9"/>
<line x1="37.31" y1="463.20" x2="59.24" y2="478.60" stroke="#bdbab2" stroke-width="0.6" stroke-opacity="0.9"/>
<line x1="37.32" y1="463.20" x2="63.19" y2="478.60" stroke="#bdbab2" stroke-width="0.6" stroke-opacity="0.9"/>
<line x1="69.50" y1="463.20" x2="67.13" y2="478.60" stroke="#bdbab2" stroke-width="0.6" stroke-opacity="0.9"/>
<line x1="78.00" y1="463.20" x2="71.08" y2="478.60" stroke="#bdbab2" stroke-width="0.6" stroke-opacity="0.9"/>
<line x1="80.00" y1="463.20" x2="75.03" y2="478.60" stroke="#bdbab2" stroke-width="0.6" stroke-opacity="0.9"/>
<rect x="25.75" y="460" width="1.3" height="2.4" fill="#222"/>
<rect x="30.99" y="460" width="1.3" height="2.4" fill="#222"/>
<rect x="32.87" y="460" width="1.3" height="2.4" fill="#222"/>
<rect x="33.19" y="460" width="1.3" height="2.4" fill="#222"/>
<rect x="34.28" y="460" width="1.3" height="2.4" fill="#222"/>
<rect x="34.30" y="460" width="1.3" height="2.4" fill="#222"/>
<rect x="34.94" y="460" width="1.3" height="2.4" fill="#222"/>
<rect x="36.47" y="460" width="1.3" height="2.4" fill="#222"/>
<rect x="36.71" y="460" width="1.3" height="2.4" fill="#222"/>
<rect x="36.72" y="460" width="1.3" height="2.4" fill="#222"/>
<line x1="69.50" y1="460.20" x2="69.50" y2="462.60" stroke="#888" stroke-width="0.6"/>
<line x1="78.00" y1="460.20" x2="78.00" y2="462.60" stroke="#888" stroke-width="0.6"/>
<line x1="80.00" y1="460.20" x2="80.00" y2="462.60" stroke="#888" stroke-width="0.6"/>
<line x1="86.50" y1="460.20" x2="86.50" y2="462.60" stroke="#888" stroke-width="0.6"/>
<line x1="89.00" y1="460.20" x2="89.00" y2="462.60" stroke="#888" stroke-width="0.6"/>
<line x1="93.00" y1="460.20" x2="93.00" y2="462.60" stroke="#888" stroke-width="0.6"/>
<line x1="98.00" y1="460.20" x2="98.00" y2="462.60" stroke="#888" stroke-width="0.6"/>
<line x1="101.00" y1="460.20" x2="101.00" y2="462.60" stroke="#888" stroke-width="0.6"/>
<polygon points="60.00,463.20 252.00,463.20 252.00,462.40 222.00,462.40 220.00,465.00 97.00,475.40 82.30,478.80 77.00,478.80" fill="#dedcd6"/>
<line x1="69.50" y1="463.20" x2="86.30" y2="478.80" stroke="#b0ada6" stroke-width="0.5"/>
<line x1="78.00" y1="463.20" x2="92.30" y2="478.80" stroke="#b0ada6" stroke-width="0.5"/>
<line x1="80.00" y1="463.20" x2="98.30" y2="478.80" stroke="#b0ada6" stroke-width="0.5"/>
<line x1="86.50" y1="463.20" x2="104.30" y2="478.80" stroke="#b0ada6" stroke-width="0.5"/>
<line x1="89.00" y1="463.20" x2="110.30" y2="478.80" stroke="#b0ada6" stroke-width="0.5"/>
<line x1="93.00" y1="463.20" x2="116.30" y2="478.80" stroke="#b0ada6" stroke-width="0.5"/>
<line x1="98.00" y1="463.20" x2="122.30" y2="478.80" stroke="#b0ada6" stroke-width="0.5"/>
<line x1="101.00" y1="463.20" x2="128.30" y2="478.80" stroke="#b0ada6" stroke-width="0.5"/>
<polygon points="97.00,475.40 100.88,475.07 104.75,474.74 108.62,474.42 112.50,474.09 116.38,473.76 120.25,473.43 124.12,473.11 128.00,472.78 131.88,472.45 135.75,472.12 139.62,471.80 143.50,471.47 147.38,471.14 151.25,470.81 155.12,470.49 159.00,470.16 162.88,469.83 166.75,469.50 170.62,469.17 174.50,468.85 178.38,468.52 182.25,468.19 186.12,467.86 190.00,467.54 193.88,467.21 197.75,466.88 201.62,466.55 205.50,466.23 209.38,465.90 213.25,465.57 217.12,465.24 221.00,463.70 224.88,462.40 228.75,462.40 232.62,462.40 236.50,462.40 240.38,462.40 244.25,462.40 248.12,462.40 252.00,462.40 252.00,464.74 248.12,464.74 244.25,464.74 240.38,464.74 236.50,464.74 232.62,464.74 228.75,464.74 224.88,464.74 221.00,465.86 217.12,467.18 213.25,467.46 209.38,467.74 205.50,468.02 201.62,468.30 197.75,468.58 193.88,468.86 190.00,469.15 186.12,469.43 182.25,469.71 178.38,469.99 174.50,470.27 170.62,470.55 166.75,470.83 162.88,471.11 159.00,471.39 155.12,471.67 151.25,471.95 147.38,472.23 143.50,472.52 139.62,472.80 135.75,473.08 131.88,473.36 128.00,473.64 124.12,473.92 120.25,474.20 116.38,474.48 112.50,474.76 108.62,475.04 104.75,475.32 100.88,475.60 97.00,475.89" fill="#8c8a85"/>
<polygon points="97.00,475.89 100.88,475.60 104.75,475.32 108.62,475.04 112.50,474.76 116.38,474.48 120.25,474.20 124.12,473.92 128.00,473.64 131.88,473.36 135.75,473.08 139.62,472.80 143.50,472.52 147.38,472.23 151.25,471.95 155.12,471.67 159.00,471.39 162.88,471.11 166.75,470.83 170.62,470.55 174.50,470.27 178.38,469.99 182.25,469.71 186.12,469.43 190.00,469.15 193.88,468.86 197.75,468.58 201.62,468.30 205.50,468.02 209.38,467.74 213.25,467.46 217.12,467.18 221.00,465.86 224.88,464.74 228.75,464.74 232.62,464.74 236.50,464.74 240.38,464.74 244.25,464.74 248.12,464.74 252.00,464.74 252.00,467.09 248.12,467.09 244.25,467.09 240.38,467.09 236.50,467.09 232.62,467.09 228.75,467.09 224.88,467.09 221.00,468.01 217.12,469.12 213.25,469.35 209.38,469.58 205.50,469.82 201.62,470.05 197.75,470.29 193.88,470.52 190.00,470.75 186.12,470.99 182.25,471.22 178.38,471.46 174.50,471.69 170.62,471.92 166.75,472.16 162.88,472.39 159.00,472.63 155.12,472.86 151.25,473.10 147.38,473.33 143.50,473.56 139.62,473.80 135.75,474.03 131.88,474.27 128.00,474.50 124.12,474.73 120.25,474.97 116.38,475.20 112.50,475.44 108.62,475.67 104.75,475.90 100.88,476.14 97.00,476.37" fill="#989691"/>
<polygon points="97.00,476.37 100.88,476.14 104.75,475.90 108.62,475.67 112.50,475.44 116.38,475.20 120.25,474.97 124.12,474.73 128.00,474.50 131.88,474.27 135.75,474.03 139.62,473.80 143.50,473.56 147.38,473.33 151.25,473.10 155.12,472.86 159.00,472.63 162.88,472.39 166.75,472.16 170.62,471.92 174.50,471.69 178.38,471.46 182.25,471.22 186.12,470.99 190.00,470.75 193.88,470.52 197.75,470.29 201.62,470.05 205.50,469.82 209.38,469.58 213.25,469.35 217.12,469.12 221.00,468.01 224.88,467.09 228.75,467.09 232.62,467.09 236.50,467.09 240.38,467.09 244.25,467.09 248.12,467.09 252.00,467.09 252.00,469.43 248.12,469.43 244.25,469.43 240.38,469.43 236.50,469.43 232.62,469.43 228.75,469.43 224.88,469.43 221.00,470.17 217.12,471.05 213.25,471.24 209.38,471.43 205.50,471.61 201.62,471.80 197.75,471.99 193.88,472.18 190.00,472.36 186.12,472.55 182.25,472.74 178.38,472.93 174.50,473.11 170.62,473.30 166.75,473.49 162.88,473.67 159.00,473.86 155.12,474.05 151.25,474.24 147.38,474.42 143.50,474.61 139.62,474.80 135.75,474.98 131.88,475.17 128.00,475.36 124.12,475.55 120.25,475.73 116.38,475.92 112.50,476.11 108.62,476.30 104.75,476.48 100.88,476.67 97.00,476.86" fill="#a4a29d"/>
<polygon points="97.00,476.86 100.88,476.67 104.75,476.48 108.62,476.30 112.50,476.11 116.38,475.92 120.25,475.73 124.12,475.55 128.00,475.36 131.88,475.17 135.75,474.98 139.62,474.80 143.50,474.61 147.38,474.42 151.25,474.24 155.12,474.05 159.00,473.86 162.88,473.67 166.75,473.49 170.62,473.30 174.50,473.11 178.38,472.93 182.25,472.74 186.12,472.55 190.00,472.36 193.88,472.18 197.75,471.99 201.62,471.80 205.50,471.61 209.38,471.43 213.25,471.24 217.12,471.05 221.00,470.17 224.88,469.43 228.75,469.43 232.62,469.43 236.50,469.43 240.38,469.43 244.25,469.43 248.12,469.43 252.00,469.43 252.00,471.77 248.12,471.77 244.25,471.77 240.38,471.77 236.50,471.77 232.62,471.77 228.75,471.77 224.88,471.77 221.00,472.33 217.12,472.99 213.25,473.13 209.38,473.27 205.50,473.41 201.62,473.55 197.75,473.69 193.88,473.83 190.00,473.97 186.12,474.11 182.25,474.25 178.38,474.39 174.50,474.53 170.62,474.67 166.75,474.82 162.88,474.96 159.00,475.10 155.12,475.24 151.25,475.38 147.38,475.52 143.50,475.66 139.62,475.80 135.75,475.94 131.88,476.08 128.00,476.22 124.12,476.36 120.25,476.50 116.38,476.64 112.50,476.78 108.62,476.92 104.75,477.06 100.88,477.20 97.00,477.34" fill="#b1aea9"/>
<polygon points="97.00,477.34 100.88,477.20 104.75,477.06 108.62,476.92 112.50,476.78 116.38,476.64 120.25,476.50 124.12,476.36 128.00,476.22 131.88,476.08 135.75,475.94 139.62,475.80 143.50,475.66 147.38,475.52 151.25,475.38 155.12,475.24 159.00,475.10 162.88,474.96 166.75,474.82 170.62,474.67 174.50,474.53 178.38,474.39 182.25,474.25 186.12,474.11 190.00,473.97 193.88,473.83 197.75,473.69 201.62,473.55 205.50,473.41 209.38,473.27 213.25,473.13 217.12,472.99 221.00,472.33 224.88,471.77 228.75,471.77 232.62,471.77 236.50,471.77 240.38,471.77 244.25,471.77 248.12,471.77 252.00,471.77 252.00,474.11 248.12,474.11 244.25,474.11 240.38,474.11 236.50,474.11 232.62,474.11 228.75,474.11 224.88,474.11 221.00,474.49 217.12,474.93 213.25,475.02 209.38,475.11 205.50,475.21 201.62,475.30 197.75,475.39 193.88,475.49 190.00,475.58 186.12,475.68 182.25,475.77 178.38,475.86 174.50,475.96 170.62,476.05 166.75,476.14 162.88,476.24 159.00,476.33 155.12,476.42 151.25,476.52 147.38,476.61 143.50,476.71 139.62,476.80 135.75,476.89 131.88,476.99 128.00,477.08 124.12,477.17 120.25,477.27 116.38,477.36 112.50,477.45 108.62,477.55 104.75,477.64 100.88,477.73 97.00,477.83" fill="#bdbab5"/>
<polygon points="97.00,477.83 100.88,477.73 104.75,477.64 108.62,477.55 112.50,477.45 116.38,477.36 120.25,477.27 124.12,477.17 128.00,477.08 131.88,476.99 135.75,476.89 139.62,476.80 143.50,476.71 147.38,476.61 151.25,476.52 155.12,476.42 159.00,476.33 162.88,476.24 166.75,476.14 170.62,476.05 174.50,475.96 178.38,475.86 182.25,475.77 186.12,475.68 190.00,475.58 193.88,475.49 197.75,475.39 201.62,475.30 205.50,475.21 209.38,475.11 213.25,475.02 217.12,474.93 221.00,474.49 224.88,474.11 228.75,474.11 232.62,474.11 236.50,474.11 240.38,474.11 244.25,474.11 248.12,474.11 252.00,474.11 252.00,476.46 248.12,476.46 244.25,476.46 240.38,476.46 236.50,476.46 232.62,476.46 228.75,476.46 224.88,476.46 221.00,476.64 217.12,476.86 213.25,476.91 209.38,476.96 205.50,477.00 201.62,477.05 197.75,477.10 193.88,477.14 190.00,477.19 186.12,477.24 182.25,477.28 178.38,477.33 174.50,477.38 170.62,477.42 166.75,477.47 162.88,477.52 159.00,477.57 155.12,477.61 151.25,477.66 147.38,477.71 143.50,477.75 139.62,477.80 135.75,477.85 131.88,477.89 128.00,477.94 124.12,477.99 120.25,478.03 116.38,478.08 112.50,478.13 108.62,478.17 104.75,478.22 100.88,478.27 97.00,478.31" fill="#c9c6c1"/>
<polygon points="97.00,478.31 100.88,478.27 104.75,478.22 108.62,478.17 112.50,478.13 116.38,478.08 120.25,478.03 124.12,477.99 128.00,477.94 131.88,477.89 135.75,477.85 139.62,477.80 143.50,477.75 147.38,477.71 151.25,477.66 155.12,477.61 159.00,477.57 162.88,477.52 166.75,477.47 170.62,477.42 174.50,477.38 178.38,477.33 182.25,477.28 186.12,477.24 190.00,477.19 193.88,477.14 197.75,477.10 201.62,477.05 205.50,477.00 209.38,476.96 213.25,476.91 217.12,476.86 221.00,476.64 224.88,476.46 228.75,476.46 232.62,476.46 236.50,476.46 240.38,476.46 244.25,476.46 248.12,476.46 252.00,476.46 252.00,478.80 248.12,478.80 244.25,478.80 240.38,478.80 236.50,478.80 232.62,478.80 228.75,478.80 224.88,478.80 221.00,478.80 217.12,478.80 213.25,478.80 209.38,478.80 205.50,478.80 201.62,478.80 197.75,478.80 193.88,478.80 190.00,478.80 186.12,478.80 182.25,478.80 178.38,478.80 174.50,478.80 170.62,478.80 166.75,478.80 162.88,478.80 159.00,478.80 155.12,478.80 151.25,478.80 147.38,478.80 143.50,478.80 139.62,478.80 135.75,478.80 131.88,478.80 128.00,478.80 124.12,478.80 120.25,478.80 116.38,478.80 112.50,478.80 108.62,478.80 104.75,478.80 100.88,478.80 97.00,478.80" fill="#d5d2cd"/>
<polygon points="82.30,478.80 97.00,475.40 97.00,478.80" fill="#c8c5be"/>
<line x1="214.22" y1="465.99" x2="84.40" y2="478.80" stroke="#9a978f" stroke-width="0.45" stroke-opacity="0.7"/>
<line x1="214.48" y1="465.97" x2="88.60" y2="478.80" stroke="#9a978f" stroke-width="0.45" stroke-opacity="0.7"/>
<line x1="214.96" y1="465.93" x2="92.81" y2="478.80" stroke="#9a978f" stroke-width="0.45" stroke-opacity="0.7"/>
<line x1="216.66" y1="465.78" x2="97.01" y2="478.80" stroke="#9a978f" stroke-width="0.45" stroke-opacity="0.7"/>
<line x1="218.24" y1="465.65" x2="101.21" y2="478.80" stroke="#9a978f" stroke-width="0.45" stroke-opacity="0.7"/>
<line x1="218.83" y1="465.60" x2="105.41" y2="478.80" stroke="#9a978f" stroke-width="0.45" stroke-opacity="0.7"/>
<line x1="219.39" y1="465.55" x2="109.62" y2="478.80" stroke="#9a978f" stroke-width="0.45" stroke-opacity="0.7"/>
<line x1="219.79" y1="465.52" x2="113.82" y2="478.80" stroke="#9a978f" stroke-width="0.45" stroke-opacity="0.7"/>
<line x1="220.40" y1="464.98" x2="118.02" y2="478.80" stroke="#9a978f" stroke-width="0.45" stroke-opacity="0.7"/>
<line x1="220.79" y1="464.47" x2="122.22" y2="478.80" stroke="#9a978f" stroke-width="0.45" stroke-opacity="0.7"/>
<line x1="222.11" y1="462.90" x2="126.43" y2="478.80" stroke="#9a978f" stroke-width="0.45" stroke-opacity="0.7"/>
<line x1="222.45" y1="462.90" x2="130.63" y2="478.80" stroke="#9a978f" stroke-width="0.45" stroke-opacity="0.7"/>
<line x1="222.83" y1="462.90" x2="134.83" y2="478.80" stroke="#9a978f" stroke-width="0.45" stroke-opacity="0.7"/>
<line x1="223.08" y1="462.90" x2="139.03" y2="478.80" stroke="#9a978f" stroke-width="0.45" stroke-opacity="0.7"/>
<line x1="224.14" y1="462.90" x2="143.24" y2="478.80" stroke="#9a978f" stroke-width="0.45" stroke-opacity="0.7"/>
<line x1="225.29" y1="462.90" x2="147.44" y2="478.80" stroke="#9a978f" stroke-width="0.45" stroke-opacity="0.7"/>
<line x1="225.78" y1="462.90" x2="151.64" y2="478.80" stroke="#9a978f" stroke-width="0.45" stroke-opacity="0.7"/>
<line x1="226.26" y1="462.90" x2="155.84" y2="478.80" stroke="#9a978f" stroke-width="0.45" stroke-opacity="0.7"/>
<line x1="226.54" y1="462.90" x2="160.05" y2="478.80" stroke="#9a978f" stroke-width="0.45" stroke-opacity="0.7"/>
<line x1="228.46" y1="462.90" x2="164.25" y2="478.80" stroke="#9a978f" stroke-width="0.45" stroke-opacity="0.7"/>
<line x1="231.74" y1="462.90" x2="168.45" y2="478.80" stroke="#9a978f" stroke-width="0.45" stroke-opacity="0.7"/>
<line x1="233.95" y1="462.90" x2="172.65" y2="478.80" stroke="#9a978f" stroke-width="0.45" stroke-opacity="0.7"/>
<line x1="234.29" y1="462.90" x2="176.86" y2="478.80" stroke="#9a978f" stroke-width="0.45" stroke-opacity="0.7"/>
<line x1="235.36" y1="462.90" x2="181.06" y2="478.80" stroke="#9a978f" stroke-width="0.45" stroke-opacity="0.7"/>
<line x1="236.40" y1="462.90" x2="185.26" y2="478.80" stroke="#9a978f" stroke-width="0.45" stroke-opacity="0.7"/>
<line x1="237.02" y1="462.90" x2="189.46" y2="478.80" stroke="#9a978f" stroke-width="0.45" stroke-opacity="0.7"/>
<line x1="238.95" y1="462.90" x2="193.67" y2="478.80" stroke="#9a978f" stroke-width="0.45" stroke-opacity="0.7"/>
<line x1="239.16" y1="462.90" x2="197.87" y2="478.80" stroke="#9a978f" stroke-width="0.45" stroke-opacity="0.7"/>
<line x1="239.74" y1="462.90" x2="202.07" y2="478.80" stroke="#9a978f" stroke-width="0.45" stroke-opacity="0.7"/>
<line x1="242.09" y1="462.90" x2="206.27" y2="478.80" stroke="#9a978f" stroke-width="0.45" stroke-opacity="0.7"/>
<line x1="243.19" y1="462.90" x2="210.48" y2="478.80" stroke="#9a978f" stroke-width="0.45" stroke-opacity="0.7"/>
<line x1="245.52" y1="462.90" x2="214.68" y2="478.80" stroke="#9a978f" stroke-width="0.45" stroke-opacity="0.7"/>
<line x1="245.76" y1="462.90" x2="218.88" y2="478.80" stroke="#9a978f" stroke-width="0.45" stroke-opacity="0.7"/>
<line x1="246.58" y1="462.90" x2="223.08" y2="478.80" stroke="#9a978f" stroke-width="0.45" stroke-opacity="0.7"/>
<line x1="246.99" y1="462.90" x2="227.29" y2="478.80" stroke="#9a978f" stroke-width="0.45" stroke-opacity="0.7"/>
<line x1="247.64" y1="462.90" x2="231.49" y2="478.80" stroke="#9a978f" stroke-width="0.45" stroke-opacity="0.7"/>
<line x1="248.55" y1="462.90" x2="235.69" y2="478.80" stroke="#9a978f" stroke-width="0.45" stroke-opacity="0.7"/>
<line x1="249.35" y1="462.90" x2="239.89" y2="478.80" stroke="#9a978f" stroke-width="0.45" stroke-opacity="0.7"/>
<line x1="249.70" y1="462.90" x2="244.10" y2="478.80" stroke="#9a978f" stroke-width="0.45" stroke-opacity="0.7"/>
<line x1="250.36" y1="462.90" x2="248.30" y2="478.80" stroke="#9a978f" stroke-width="0.45" stroke-opacity="0.7"/>
<polygon points="92.00,476.20 108.00,473.60 108.00,475.60" fill="#8a8884"/>
<polyline points="106.00,474.60 220.00,465.00 222.00,462.40 252.00,462.40" fill="none" stroke="#262626" stroke-width="2.4"/>
<polyline points="106.00,474.60 220.00,465.00 222.00,462.40 252.00,462.40" fill="none" stroke="#f4f4f4" stroke-width="1.0" stroke-dasharray="1.1,2.2"/>
<line x1="23.60" y1="458.90" x2="252.00" y2="458.90" stroke="#8d8b85" stroke-width="0.6"/>
<polyline points="99.00,95.00 99.00,161.00" fill="none" stroke="#777" stroke-width="0.9" stroke-dasharray="1,1.2"/>
<polyline points="99.00,161.00 99.00,163.80 87.60,176.30 87.60,245.00" fill="none" stroke="#111" stroke-width="1.1" stroke-dasharray="1,1.2"/>
<polyline points="157.70,95.00 157.70,161.00" fill="none" stroke="#777" stroke-width="0.9" stroke-dasharray="1,1.2"/>
<polyline points="157.70,161.00 157.70,163.80 162.40,176.30 162.40,244.00" fill="none" stroke="#111" stroke-width="1.1" stroke-dasharray="1,1.2"/>
<line x1="88.90" y1="227.50" x2="160.90" y2="227.50" stroke="#000" stroke-width="1.3"/>
<polygon points="87.90,227.50 91.10,225.10 90.46,227.50 91.10,229.90" fill="#000"/>
<polygon points="161.90,227.50 158.70,225.10 159.34,227.50 158.70,229.90" fill="#000"/>
<text x="125.00" y="238.00" font-size="7.8" font-weight="bold" fill="#111" text-anchor="middle">52.6 k</text>
<text x="25.00" y="278.90" font-size="8.0" font-weight="normal" fill="#2a2a2a" text-anchor="start">JPT + CHB</text>
<text x="246.20" y="278.60" font-size="6.78" font-weight="bold" fill="#111" text-anchor="end">Chr.19: 922,933 - 1,121,445</text>
<polyline points="330.00,80.50 330.00,163.00" fill="none" stroke="#777" stroke-width="0.9" stroke-dasharray="1,1.2"/>
<polyline points="390.20,81.00 390.20,163.00" fill="none" stroke="#777" stroke-width="0.9" stroke-dasharray="1,1.2"/>
<polyline points="413.50,81.00 413.50,163.00" fill="none" stroke="#777" stroke-width="0.9" stroke-dasharray="1,1.2"/>
<polyline points="330.00,163.00 330.00,166.00 325.50,180.00 325.50,245.20" fill="none" stroke="#111" stroke-width="1.1" stroke-dasharray="1,1.2"/>
<polyline points="390.20,163.00 390.20,166.00 394.50,180.00 394.50,223.80" fill="none" stroke="#111" stroke-width="1.1" stroke-dasharray="1,1.2"/>
<polyline points="413.50,163.00 413.50,166.00 428.50,180.00 428.50,244.00" fill="none" stroke="#111" stroke-width="1.1" stroke-dasharray="1,1.2"/>
<line x1="395.90" y1="212.70" x2="427.10" y2="212.70" stroke="#000" stroke-width="1.3"/>
<polygon points="394.90,212.70 398.10,210.30 397.46,212.70 398.10,215.10" fill="#000"/>
<polygon points="428.10,212.70 424.90,210.30 425.54,212.70 424.90,215.10" fill="#000"/>
<text x="412.00" y="223.20" font-size="7.8" font-weight="bold" fill="#111" text-anchor="middle">35 kb</text>
<line x1="326.90" y1="231.00" x2="427.10" y2="231.00" stroke="#000" stroke-width="1.3"/>
<polygon points="325.90,231.00 329.10,228.60 328.46,231.00 329.10,233.40" fill="#000"/>
<polygon points="428.10,231.00 424.90,228.60 425.54,231.00 424.90,233.40" fill="#000"/>
<text x="377.20" y="244.80" font-size="7.75" font-weight="bold" fill="#111" text-anchor="middle">182 kb</text>
<text x="290.60" y="278.60" font-size="8.0" font-weight="normal" fill="#2a2a2a" text-anchor="start">JPT + CHB</text>
<text x="510.00" y="278.60" font-size="6.86" font-weight="bold" fill="#111" text-anchor="end">Chr.19: 51,733,410 – 52,233,409</text>
<polyline points="70.10,372.00 70.10,459.00" fill="none" stroke="#777" stroke-width="0.9" stroke-dasharray="1,1.2"/>
<polyline points="70.10,459.00 70.10,462.00 56.30,478.60 56.30,539.50" fill="none" stroke="#111" stroke-width="1.1" stroke-dasharray="1,1.2"/>
<polyline points="220.80,372.00 220.80,459.00" fill="none" stroke="#777" stroke-width="0.9" stroke-dasharray="1,1.2"/>
<polyline points="79.40,478.60 79.40,539.50" fill="none" stroke="#111" stroke-width="1.1" stroke-dasharray="1,1.2"/>
<line x1="57.80" y1="522.80" x2="78.00" y2="522.80" stroke="#000" stroke-width="1.3"/>
<polygon points="56.80,522.80 60.00,520.40 59.36,522.80 60.00,525.20" fill="#000"/>
<polygon points="79.00,522.80 75.80,520.40 76.44,522.80 75.80,525.20" fill="#000"/>
<text x="83.30" y="525.60" font-size="8.0" font-weight="bold" fill="#111" text-anchor="start">598 kb</text>
<text x="31.50" y="553.30" font-size="8.2" font-weight="normal" fill="#2a2a2a" text-anchor="start">JPT</text>
<text x="247.50" y="553.60" font-size="7.0" font-weight="bold" fill="#111" text-anchor="end">Chr.4: 69,000,045 – 69,900,045</text>
</svg>
</body></html>
